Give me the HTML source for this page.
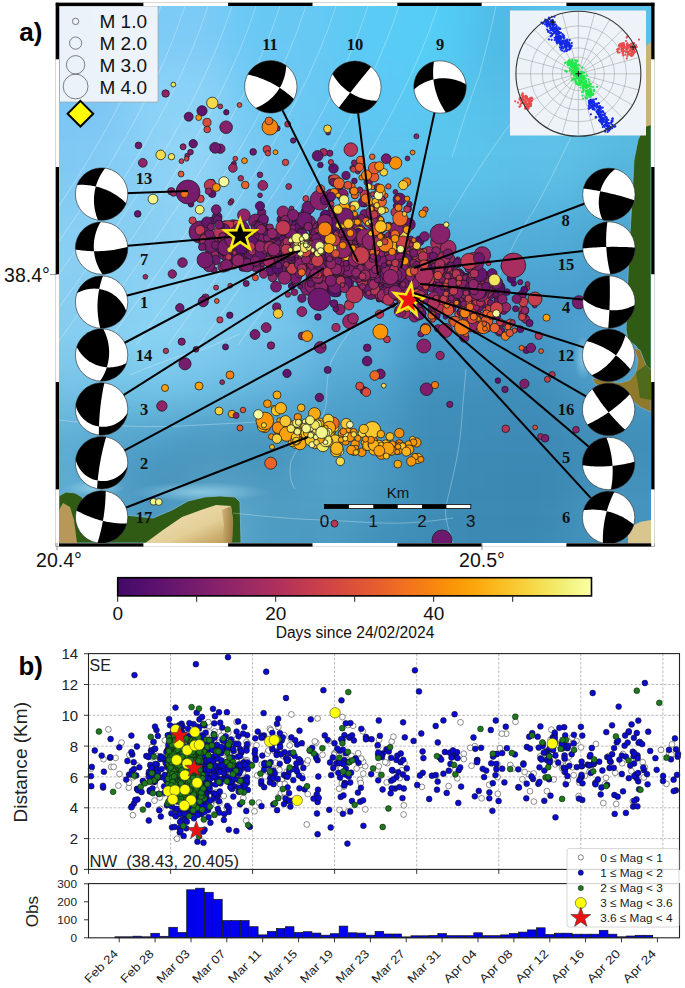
<!DOCTYPE html>
<html><head><meta charset="utf-8"><title>Figure</title><style>html,body{margin:0;padding:0;background:#fff;width:685px;height:988px;overflow:hidden}svg{display:block}</style></head><body>
<svg width="685" height="988" viewBox="0 0 685 988">
<rect width="685" height="988" fill="#fff"/>
<defs>
<filter id="bgblur" x="-20%" y="-20%" width="140%" height="140%" color-interpolation-filters="sRGB"><feGaussianBlur stdDeviation="8"/></filter>
<radialGradient id="rg1" cx="0.5" cy="0.5" r="0.5">
 <stop offset="0" stop-color="#bff0ff" stop-opacity="0.5"/>
 <stop offset="1" stop-color="#bff0ff" stop-opacity="0"/>
</radialGradient>
<radialGradient id="rg2" cx="0.5" cy="0.5" r="0.5">
 <stop offset="0" stop-color="#1d5f8f" stop-opacity="0.35"/>
 <stop offset="1" stop-color="#1d5f8f" stop-opacity="0"/>
</radialGradient>
<clipPath id="mapclip"><rect x="59" y="6" width="592" height="537"/></clipPath>
</defs>
<g clip-path="url(#mapclip)">
<g filter="url(#bgblur)"><rect x="40.5" y="-11.9" width="19.1" height="18.5" fill="#7cc6f4"/><rect x="59.0" y="-11.9" width="19.1" height="18.5" fill="#7cc6f4"/><rect x="77.5" y="-11.9" width="19.1" height="18.5" fill="#7cc8f5"/><rect x="96.0" y="-11.9" width="19.1" height="18.5" fill="#7ccaf6"/><rect x="114.5" y="-11.9" width="19.1" height="18.5" fill="#7ccaf6"/><rect x="133.0" y="-11.9" width="19.1" height="18.5" fill="#7ccaf6"/><rect x="151.5" y="-11.9" width="19.1" height="18.5" fill="#7ccaf6"/><rect x="170.0" y="-11.9" width="19.1" height="18.5" fill="#7ccaf6"/><rect x="188.5" y="-11.9" width="19.1" height="18.5" fill="#7ccaf6"/><rect x="207.0" y="-11.9" width="19.1" height="18.5" fill="#79caf6"/><rect x="225.5" y="-11.9" width="19.1" height="18.5" fill="#6fc9f5"/><rect x="244.0" y="-11.9" width="19.1" height="18.5" fill="#69c8f4"/><rect x="262.5" y="-11.9" width="19.1" height="18.5" fill="#68c8f4"/><rect x="281.0" y="-11.9" width="19.1" height="18.5" fill="#68c8f4"/><rect x="299.5" y="-11.9" width="19.1" height="18.5" fill="#67c8f4"/><rect x="318.0" y="-11.9" width="19.1" height="18.5" fill="#63c9f4"/><rect x="336.5" y="-11.9" width="19.1" height="18.5" fill="#5ecaf4"/><rect x="355.0" y="-11.9" width="19.1" height="18.5" fill="#5ccaf4"/><rect x="373.5" y="-11.9" width="19.1" height="18.5" fill="#5bcbf5"/><rect x="392.0" y="-11.9" width="19.1" height="18.5" fill="#58ccf5"/><rect x="410.5" y="-11.9" width="19.1" height="18.5" fill="#55cef6"/><rect x="429.0" y="-11.9" width="19.1" height="18.5" fill="#53cdf6"/><rect x="447.5" y="-11.9" width="19.1" height="18.5" fill="#52caf3"/><rect x="466.0" y="-11.9" width="19.1" height="18.5" fill="#50c3ed"/><rect x="484.5" y="-11.9" width="19.1" height="18.5" fill="#4fbde7"/><rect x="503.0" y="-11.9" width="19.1" height="18.5" fill="#51bbe6"/><rect x="521.5" y="-11.9" width="19.1" height="18.5" fill="#55bee8"/><rect x="540.0" y="-11.9" width="19.1" height="18.5" fill="#59c1ea"/><rect x="558.5" y="-11.9" width="19.1" height="18.5" fill="#5bc3eb"/><rect x="577.0" y="-11.9" width="19.1" height="18.5" fill="#5cc4ec"/><rect x="595.5" y="-11.9" width="19.1" height="18.5" fill="#5cc4ec"/><rect x="614.0" y="-11.9" width="19.1" height="18.5" fill="#5cc4ec"/><rect x="632.5" y="-11.9" width="19.1" height="18.5" fill="#5cc3eb"/><rect x="651.0" y="-11.9" width="19.1" height="18.5" fill="#5bc2ea"/><rect x="40.5" y="6.0" width="19.1" height="18.5" fill="#7cc6f4"/><rect x="59.0" y="6.0" width="19.1" height="18.5" fill="#7cc6f4"/><rect x="77.5" y="6.0" width="19.1" height="18.5" fill="#7cc7f5"/><rect x="96.0" y="6.0" width="19.1" height="18.5" fill="#7cc9f6"/><rect x="114.5" y="6.0" width="19.1" height="18.5" fill="#7ccaf6"/><rect x="133.0" y="6.0" width="19.1" height="18.5" fill="#7ccaf6"/><rect x="151.5" y="6.0" width="19.1" height="18.5" fill="#7ccaf6"/><rect x="170.0" y="6.0" width="19.1" height="18.5" fill="#7ccaf6"/><rect x="188.5" y="6.0" width="19.1" height="18.5" fill="#7ccaf6"/><rect x="207.0" y="6.0" width="19.1" height="18.5" fill="#79caf6"/><rect x="225.5" y="6.0" width="19.1" height="18.5" fill="#70c9f5"/><rect x="244.0" y="6.0" width="19.1" height="18.5" fill="#69c8f4"/><rect x="262.5" y="6.0" width="19.1" height="18.5" fill="#68c8f4"/><rect x="281.0" y="6.0" width="19.1" height="18.5" fill="#68c8f4"/><rect x="299.5" y="6.0" width="19.1" height="18.5" fill="#67c8f4"/><rect x="318.0" y="6.0" width="19.1" height="18.5" fill="#63c9f4"/><rect x="336.5" y="6.0" width="19.1" height="18.5" fill="#5ecaf4"/><rect x="355.0" y="6.0" width="19.1" height="18.5" fill="#5ccaf4"/><rect x="373.5" y="6.0" width="19.1" height="18.5" fill="#5acbf5"/><rect x="392.0" y="6.0" width="19.1" height="18.5" fill="#58ccf5"/><rect x="410.5" y="6.0" width="19.1" height="18.5" fill="#55cdf6"/><rect x="429.0" y="6.0" width="19.1" height="18.5" fill="#53cdf6"/><rect x="447.5" y="6.0" width="19.1" height="18.5" fill="#52caf2"/><rect x="466.0" y="6.0" width="19.1" height="18.5" fill="#50c3ec"/><rect x="484.5" y="6.0" width="19.1" height="18.5" fill="#4fbce7"/><rect x="503.0" y="6.0" width="19.1" height="18.5" fill="#50bbe6"/><rect x="521.5" y="6.0" width="19.1" height="18.5" fill="#54bee7"/><rect x="540.0" y="6.0" width="19.1" height="18.5" fill="#59c1ea"/><rect x="558.5" y="6.0" width="19.1" height="18.5" fill="#5bc3eb"/><rect x="577.0" y="6.0" width="19.1" height="18.5" fill="#5cc4ec"/><rect x="595.5" y="6.0" width="19.1" height="18.5" fill="#5cc4ec"/><rect x="614.0" y="6.0" width="19.1" height="18.5" fill="#5cc3eb"/><rect x="632.5" y="6.0" width="19.1" height="18.5" fill="#5bc2ea"/><rect x="651.0" y="6.0" width="19.1" height="18.5" fill="#5bc0e8"/><rect x="40.5" y="23.9" width="19.1" height="18.5" fill="#7cc6f4"/><rect x="59.0" y="23.9" width="19.1" height="18.5" fill="#7cc6f4"/><rect x="77.5" y="23.9" width="19.1" height="18.5" fill="#7cc6f4"/><rect x="96.0" y="23.9" width="19.1" height="18.5" fill="#7dc8f5"/><rect x="114.5" y="23.9" width="19.1" height="18.5" fill="#7dcaf6"/><rect x="133.0" y="23.9" width="19.1" height="18.5" fill="#7dcbf6"/><rect x="151.5" y="23.9" width="19.1" height="18.5" fill="#7dcbf6"/><rect x="170.0" y="23.9" width="19.1" height="18.5" fill="#7dcbf6"/><rect x="188.5" y="23.9" width="19.1" height="18.5" fill="#7dcbf6"/><rect x="207.0" y="23.9" width="19.1" height="18.5" fill="#79caf6"/><rect x="225.5" y="23.9" width="19.1" height="18.5" fill="#70c9f5"/><rect x="244.0" y="23.9" width="19.1" height="18.5" fill="#6ac8f4"/><rect x="262.5" y="23.9" width="19.1" height="18.5" fill="#69c8f4"/><rect x="281.0" y="23.9" width="19.1" height="18.5" fill="#68c8f4"/><rect x="299.5" y="23.9" width="19.1" height="18.5" fill="#67c8f4"/><rect x="318.0" y="23.9" width="19.1" height="18.5" fill="#63c9f4"/><rect x="336.5" y="23.9" width="19.1" height="18.5" fill="#5ecaf4"/><rect x="355.0" y="23.9" width="19.1" height="18.5" fill="#5ccaf4"/><rect x="373.5" y="23.9" width="19.1" height="18.5" fill="#5acbf5"/><rect x="392.0" y="23.9" width="19.1" height="18.5" fill="#58ccf5"/><rect x="410.5" y="23.9" width="19.1" height="18.5" fill="#56cdf6"/><rect x="429.0" y="23.9" width="19.1" height="18.5" fill="#54cdf5"/><rect x="447.5" y="23.9" width="19.1" height="18.5" fill="#52c9f2"/><rect x="466.0" y="23.9" width="19.1" height="18.5" fill="#50c2ec"/><rect x="484.5" y="23.9" width="19.1" height="18.5" fill="#4fbce7"/><rect x="503.0" y="23.9" width="19.1" height="18.5" fill="#50bbe5"/><rect x="521.5" y="23.9" width="19.1" height="18.5" fill="#54bde7"/><rect x="540.0" y="23.9" width="19.1" height="18.5" fill="#58c0e9"/><rect x="558.5" y="23.9" width="19.1" height="18.5" fill="#5ac3eb"/><rect x="577.0" y="23.9" width="19.1" height="18.5" fill="#5bc3eb"/><rect x="595.5" y="23.9" width="19.1" height="18.5" fill="#5cc3eb"/><rect x="614.0" y="23.9" width="19.1" height="18.5" fill="#5bc1e9"/><rect x="632.5" y="23.9" width="19.1" height="18.5" fill="#5abfe7"/><rect x="651.0" y="23.9" width="19.1" height="18.5" fill="#5abfe7"/><rect x="40.5" y="41.8" width="19.1" height="18.5" fill="#7cc6f4"/><rect x="59.0" y="41.8" width="19.1" height="18.5" fill="#7cc6f4"/><rect x="77.5" y="41.8" width="19.1" height="18.5" fill="#7cc6f4"/><rect x="96.0" y="41.8" width="19.1" height="18.5" fill="#7dc7f4"/><rect x="114.5" y="41.8" width="19.1" height="18.5" fill="#7fcaf5"/><rect x="133.0" y="41.8" width="19.1" height="18.5" fill="#80ccf6"/><rect x="151.5" y="41.8" width="19.1" height="18.5" fill="#80ccf6"/><rect x="170.0" y="41.8" width="19.1" height="18.5" fill="#80ccf6"/><rect x="188.5" y="41.8" width="19.1" height="18.5" fill="#80ccf6"/><rect x="207.0" y="41.8" width="19.1" height="18.5" fill="#7cccf6"/><rect x="225.5" y="41.8" width="19.1" height="18.5" fill="#72caf5"/><rect x="244.0" y="41.8" width="19.1" height="18.5" fill="#6bc8f4"/><rect x="262.5" y="41.8" width="19.1" height="18.5" fill="#69c8f4"/><rect x="281.0" y="41.8" width="19.1" height="18.5" fill="#69c8f4"/><rect x="299.5" y="41.8" width="19.1" height="18.5" fill="#68c8f4"/><rect x="318.0" y="41.8" width="19.1" height="18.5" fill="#64c9f4"/><rect x="336.5" y="41.8" width="19.1" height="18.5" fill="#5ec9f4"/><rect x="355.0" y="41.8" width="19.1" height="18.5" fill="#5ccaf4"/><rect x="373.5" y="41.8" width="19.1" height="18.5" fill="#5acbf4"/><rect x="392.0" y="41.8" width="19.1" height="18.5" fill="#58ccf5"/><rect x="410.5" y="41.8" width="19.1" height="18.5" fill="#56cdf5"/><rect x="429.0" y="41.8" width="19.1" height="18.5" fill="#55ccf4"/><rect x="447.5" y="41.8" width="19.1" height="18.5" fill="#53c8f1"/><rect x="466.0" y="41.8" width="19.1" height="18.5" fill="#52c2eb"/><rect x="484.5" y="41.8" width="19.1" height="18.5" fill="#50bce7"/><rect x="503.0" y="41.8" width="19.1" height="18.5" fill="#51bbe5"/><rect x="521.5" y="41.8" width="19.1" height="18.5" fill="#54bde7"/><rect x="540.0" y="41.8" width="19.1" height="18.5" fill="#57c0e9"/><rect x="558.5" y="41.8" width="19.1" height="18.5" fill="#5ac2eb"/><rect x="577.0" y="41.8" width="19.1" height="18.5" fill="#5bc3eb"/><rect x="595.5" y="41.8" width="19.1" height="18.5" fill="#5bc1e9"/><rect x="614.0" y="41.8" width="19.1" height="18.5" fill="#5abfe7"/><rect x="632.5" y="41.8" width="19.1" height="18.5" fill="#5abee6"/><rect x="651.0" y="41.8" width="19.1" height="18.5" fill="#5abee6"/><rect x="40.5" y="59.7" width="19.1" height="18.5" fill="#7cc6f4"/><rect x="59.0" y="59.7" width="19.1" height="18.5" fill="#7cc6f4"/><rect x="77.5" y="59.7" width="19.1" height="18.5" fill="#7cc6f4"/><rect x="96.0" y="59.7" width="19.1" height="18.5" fill="#7dc7f4"/><rect x="114.5" y="59.7" width="19.1" height="18.5" fill="#80caf5"/><rect x="133.0" y="59.7" width="19.1" height="18.5" fill="#84cef6"/><rect x="151.5" y="59.7" width="19.1" height="18.5" fill="#85cff7"/><rect x="170.0" y="59.7" width="19.1" height="18.5" fill="#86cff7"/><rect x="188.5" y="59.7" width="19.1" height="18.5" fill="#85cff7"/><rect x="207.0" y="59.7" width="19.1" height="18.5" fill="#81cef6"/><rect x="225.5" y="59.7" width="19.1" height="18.5" fill="#75cbf5"/><rect x="244.0" y="59.7" width="19.1" height="18.5" fill="#6dc9f4"/><rect x="262.5" y="59.7" width="19.1" height="18.5" fill="#6bc8f3"/><rect x="281.0" y="59.7" width="19.1" height="18.5" fill="#6bc8f3"/><rect x="299.5" y="59.7" width="19.1" height="18.5" fill="#69c8f3"/><rect x="318.0" y="59.7" width="19.1" height="18.5" fill="#64c8f3"/><rect x="336.5" y="59.7" width="19.1" height="18.5" fill="#5ec9f3"/><rect x="355.0" y="59.7" width="19.1" height="18.5" fill="#5cc9f3"/><rect x="373.5" y="59.7" width="19.1" height="18.5" fill="#5bcaf4"/><rect x="392.0" y="59.7" width="19.1" height="18.5" fill="#59cbf4"/><rect x="410.5" y="59.7" width="19.1" height="18.5" fill="#57ccf4"/><rect x="429.0" y="59.7" width="19.1" height="18.5" fill="#56cbf3"/><rect x="447.5" y="59.7" width="19.1" height="18.5" fill="#55c7f0"/><rect x="466.0" y="59.7" width="19.1" height="18.5" fill="#53c1eb"/><rect x="484.5" y="59.7" width="19.1" height="18.5" fill="#52bde7"/><rect x="503.0" y="59.7" width="19.1" height="18.5" fill="#53bce6"/><rect x="521.5" y="59.7" width="19.1" height="18.5" fill="#55bee7"/><rect x="540.0" y="59.7" width="19.1" height="18.5" fill="#57c0e9"/><rect x="558.5" y="59.7" width="19.1" height="18.5" fill="#5ac2ea"/><rect x="577.0" y="59.7" width="19.1" height="18.5" fill="#5bc2ea"/><rect x="595.5" y="59.7" width="19.1" height="18.5" fill="#5ac0e8"/><rect x="614.0" y="59.7" width="19.1" height="18.5" fill="#5abee6"/><rect x="632.5" y="59.7" width="19.1" height="18.5" fill="#5abee6"/><rect x="651.0" y="59.7" width="19.1" height="18.5" fill="#5abee6"/><rect x="40.5" y="77.6" width="19.1" height="18.5" fill="#7cc6f4"/><rect x="59.0" y="77.6" width="19.1" height="18.5" fill="#7cc6f4"/><rect x="77.5" y="77.6" width="19.1" height="18.5" fill="#7cc6f4"/><rect x="96.0" y="77.6" width="19.1" height="18.5" fill="#7dc7f4"/><rect x="114.5" y="77.6" width="19.1" height="18.5" fill="#81caf5"/><rect x="133.0" y="77.6" width="19.1" height="18.5" fill="#87cff6"/><rect x="151.5" y="77.6" width="19.1" height="18.5" fill="#89d1f7"/><rect x="170.0" y="77.6" width="19.1" height="18.5" fill="#89d1f7"/><rect x="188.5" y="77.6" width="19.1" height="18.5" fill="#89d1f7"/><rect x="207.0" y="77.6" width="19.1" height="18.5" fill="#85d0f6"/><rect x="225.5" y="77.6" width="19.1" height="18.5" fill="#78ccf4"/><rect x="244.0" y="77.6" width="19.1" height="18.5" fill="#6ec9f3"/><rect x="262.5" y="77.6" width="19.1" height="18.5" fill="#6cc8f3"/><rect x="281.0" y="77.6" width="19.1" height="18.5" fill="#6cc8f3"/><rect x="299.5" y="77.6" width="19.1" height="18.5" fill="#6ac8f3"/><rect x="318.0" y="77.6" width="19.1" height="18.5" fill="#65c8f3"/><rect x="336.5" y="77.6" width="19.1" height="18.5" fill="#5ec8f3"/><rect x="355.0" y="77.6" width="19.1" height="18.5" fill="#5cc8f3"/><rect x="373.5" y="77.6" width="19.1" height="18.5" fill="#5bc9f3"/><rect x="392.0" y="77.6" width="19.1" height="18.5" fill="#5acaf4"/><rect x="410.5" y="77.6" width="19.1" height="18.5" fill="#58caf3"/><rect x="429.0" y="77.6" width="19.1" height="18.5" fill="#57c9f1"/><rect x="447.5" y="77.6" width="19.1" height="18.5" fill="#56c6ee"/><rect x="466.0" y="77.6" width="19.1" height="18.5" fill="#55c2eb"/><rect x="484.5" y="77.6" width="19.1" height="18.5" fill="#54bee8"/><rect x="503.0" y="77.6" width="19.1" height="18.5" fill="#55bee7"/><rect x="521.5" y="77.6" width="19.1" height="18.5" fill="#57bfe8"/><rect x="540.0" y="77.6" width="19.1" height="18.5" fill="#59c1ea"/><rect x="558.5" y="77.6" width="19.1" height="18.5" fill="#5bc2ea"/><rect x="577.0" y="77.6" width="19.1" height="18.5" fill="#5bc1e9"/><rect x="595.5" y="77.6" width="19.1" height="18.5" fill="#5bbfe7"/><rect x="614.0" y="77.6" width="19.1" height="18.5" fill="#5abee6"/><rect x="632.5" y="77.6" width="19.1" height="18.5" fill="#5abee6"/><rect x="651.0" y="77.6" width="19.1" height="18.5" fill="#5abee6"/><rect x="40.5" y="95.5" width="19.1" height="18.5" fill="#7cc6f4"/><rect x="59.0" y="95.5" width="19.1" height="18.5" fill="#7cc6f4"/><rect x="77.5" y="95.5" width="19.1" height="18.5" fill="#7dc6f4"/><rect x="96.0" y="95.5" width="19.1" height="18.5" fill="#7ec7f4"/><rect x="114.5" y="95.5" width="19.1" height="18.5" fill="#82cbf5"/><rect x="133.0" y="95.5" width="19.1" height="18.5" fill="#88d0f6"/><rect x="151.5" y="95.5" width="19.1" height="18.5" fill="#8ad2f7"/><rect x="170.0" y="95.5" width="19.1" height="18.5" fill="#8bd2f7"/><rect x="188.5" y="95.5" width="19.1" height="18.5" fill="#8bd2f7"/><rect x="207.0" y="95.5" width="19.1" height="18.5" fill="#87d1f6"/><rect x="225.5" y="95.5" width="19.1" height="18.5" fill="#7accf4"/><rect x="244.0" y="95.5" width="19.1" height="18.5" fill="#70c9f3"/><rect x="262.5" y="95.5" width="19.1" height="18.5" fill="#6dc8f3"/><rect x="281.0" y="95.5" width="19.1" height="18.5" fill="#6cc8f3"/><rect x="299.5" y="95.5" width="19.1" height="18.5" fill="#6bc8f3"/><rect x="318.0" y="95.5" width="19.1" height="18.5" fill="#65c7f2"/><rect x="336.5" y="95.5" width="19.1" height="18.5" fill="#5fc7f2"/><rect x="355.0" y="95.5" width="19.1" height="18.5" fill="#5dc8f3"/><rect x="373.5" y="95.5" width="19.1" height="18.5" fill="#5cc8f3"/><rect x="392.0" y="95.5" width="19.1" height="18.5" fill="#5bc8f3"/><rect x="410.5" y="95.5" width="19.1" height="18.5" fill="#5ac8f2"/><rect x="429.0" y="95.5" width="19.1" height="18.5" fill="#59c7f0"/><rect x="447.5" y="95.5" width="19.1" height="18.5" fill="#58c5ed"/><rect x="466.0" y="95.5" width="19.1" height="18.5" fill="#57c2eb"/><rect x="484.5" y="95.5" width="19.1" height="18.5" fill="#56c0e9"/><rect x="503.0" y="95.5" width="19.1" height="18.5" fill="#57c0e8"/><rect x="521.5" y="95.5" width="19.1" height="18.5" fill="#59c1e9"/><rect x="540.0" y="95.5" width="19.1" height="18.5" fill="#5bc2ea"/><rect x="558.5" y="95.5" width="19.1" height="18.5" fill="#5dc2ea"/><rect x="577.0" y="95.5" width="19.1" height="18.5" fill="#5dc1e8"/><rect x="595.5" y="95.5" width="19.1" height="18.5" fill="#5bbee6"/><rect x="614.0" y="95.5" width="19.1" height="18.5" fill="#5abee6"/><rect x="632.5" y="95.5" width="19.1" height="18.5" fill="#5abee6"/><rect x="651.0" y="95.5" width="19.1" height="18.5" fill="#5abee6"/><rect x="40.5" y="113.4" width="19.1" height="18.5" fill="#7dc7f4"/><rect x="59.0" y="113.4" width="19.1" height="18.5" fill="#7dc7f4"/><rect x="77.5" y="113.4" width="19.1" height="18.5" fill="#7ec7f4"/><rect x="96.0" y="113.4" width="19.1" height="18.5" fill="#7fc8f4"/><rect x="114.5" y="113.4" width="19.1" height="18.5" fill="#83ccf5"/><rect x="133.0" y="113.4" width="19.1" height="18.5" fill="#88d0f6"/><rect x="151.5" y="113.4" width="19.1" height="18.5" fill="#8cd2f7"/><rect x="170.0" y="113.4" width="19.1" height="18.5" fill="#8dd3f7"/><rect x="188.5" y="113.4" width="19.1" height="18.5" fill="#8dd3f7"/><rect x="207.0" y="113.4" width="19.1" height="18.5" fill="#89d1f6"/><rect x="225.5" y="113.4" width="19.1" height="18.5" fill="#7ecdf4"/><rect x="244.0" y="113.4" width="19.1" height="18.5" fill="#73c9f3"/><rect x="262.5" y="113.4" width="19.1" height="18.5" fill="#6fc8f2"/><rect x="281.0" y="113.4" width="19.1" height="18.5" fill="#6dc8f2"/><rect x="299.5" y="113.4" width="19.1" height="18.5" fill="#6ac7f2"/><rect x="318.0" y="113.4" width="19.1" height="18.5" fill="#66c6f1"/><rect x="336.5" y="113.4" width="19.1" height="18.5" fill="#61c6f1"/><rect x="355.0" y="113.4" width="19.1" height="18.5" fill="#5fc6f2"/><rect x="373.5" y="113.4" width="19.1" height="18.5" fill="#5dc7f2"/><rect x="392.0" y="113.4" width="19.1" height="18.5" fill="#5cc7f2"/><rect x="410.5" y="113.4" width="19.1" height="18.5" fill="#5bc7f0"/><rect x="429.0" y="113.4" width="19.1" height="18.5" fill="#5ac6ee"/><rect x="447.5" y="113.4" width="19.1" height="18.5" fill="#59c5ed"/><rect x="466.0" y="113.4" width="19.1" height="18.5" fill="#58c3ec"/><rect x="484.5" y="113.4" width="19.1" height="18.5" fill="#58c1ea"/><rect x="503.0" y="113.4" width="19.1" height="18.5" fill="#59c1e9"/><rect x="521.5" y="113.4" width="19.1" height="18.5" fill="#5cc1e9"/><rect x="540.0" y="113.4" width="19.1" height="18.5" fill="#5ec2e9"/><rect x="558.5" y="113.4" width="19.1" height="18.5" fill="#5fc2e9"/><rect x="577.0" y="113.4" width="19.1" height="18.5" fill="#5ec0e7"/><rect x="595.5" y="113.4" width="19.1" height="18.5" fill="#5bbde5"/><rect x="614.0" y="113.4" width="19.1" height="18.5" fill="#59bce4"/><rect x="632.5" y="113.4" width="19.1" height="18.5" fill="#59bce4"/><rect x="651.0" y="113.4" width="19.1" height="18.5" fill="#59bde4"/><rect x="40.5" y="131.3" width="19.1" height="18.5" fill="#7fc8f4"/><rect x="59.0" y="131.3" width="19.1" height="18.5" fill="#7fc8f4"/><rect x="77.5" y="131.3" width="19.1" height="18.5" fill="#7fc9f4"/><rect x="96.0" y="131.3" width="19.1" height="18.5" fill="#81caf4"/><rect x="114.5" y="131.3" width="19.1" height="18.5" fill="#84cdf5"/><rect x="133.0" y="131.3" width="19.1" height="18.5" fill="#89d0f6"/><rect x="151.5" y="131.3" width="19.1" height="18.5" fill="#8dd2f6"/><rect x="170.0" y="131.3" width="19.1" height="18.5" fill="#90d4f7"/><rect x="188.5" y="131.3" width="19.1" height="18.5" fill="#8fd4f7"/><rect x="207.0" y="131.3" width="19.1" height="18.5" fill="#8ad1f5"/><rect x="225.5" y="131.3" width="19.1" height="18.5" fill="#80cdf3"/><rect x="244.0" y="131.3" width="19.1" height="18.5" fill="#77c9f2"/><rect x="262.5" y="131.3" width="19.1" height="18.5" fill="#72c7f2"/><rect x="281.0" y="131.3" width="19.1" height="18.5" fill="#6ec7f1"/><rect x="299.5" y="131.3" width="19.1" height="18.5" fill="#6ac5f1"/><rect x="318.0" y="131.3" width="19.1" height="18.5" fill="#66c4f0"/><rect x="336.5" y="131.3" width="19.1" height="18.5" fill="#64c4ef"/><rect x="355.0" y="131.3" width="19.1" height="18.5" fill="#62c4f0"/><rect x="373.5" y="131.3" width="19.1" height="18.5" fill="#60c5f0"/><rect x="392.0" y="131.3" width="19.1" height="18.5" fill="#5ec6f0"/><rect x="410.5" y="131.3" width="19.1" height="18.5" fill="#5cc5ee"/><rect x="429.0" y="131.3" width="19.1" height="18.5" fill="#5bc5ed"/><rect x="447.5" y="131.3" width="19.1" height="18.5" fill="#5bc5ed"/><rect x="466.0" y="131.3" width="19.1" height="18.5" fill="#5ac4ec"/><rect x="484.5" y="131.3" width="19.1" height="18.5" fill="#5ac2ea"/><rect x="503.0" y="131.3" width="19.1" height="18.5" fill="#5cc1e9"/><rect x="521.5" y="131.3" width="19.1" height="18.5" fill="#5ec1e9"/><rect x="540.0" y="131.3" width="19.1" height="18.5" fill="#5fc1e9"/><rect x="558.5" y="131.3" width="19.1" height="18.5" fill="#5fc0e8"/><rect x="577.0" y="131.3" width="19.1" height="18.5" fill="#5dbee5"/><rect x="595.5" y="131.3" width="19.1" height="18.5" fill="#5abbe3"/><rect x="614.0" y="131.3" width="19.1" height="18.5" fill="#58b9e1"/><rect x="632.5" y="131.3" width="19.1" height="18.5" fill="#58bae1"/><rect x="651.0" y="131.3" width="19.1" height="18.5" fill="#58bae2"/><rect x="40.5" y="149.2" width="19.1" height="18.5" fill="#80c9f4"/><rect x="59.0" y="149.2" width="19.1" height="18.5" fill="#80c9f4"/><rect x="77.5" y="149.2" width="19.1" height="18.5" fill="#81caf4"/><rect x="96.0" y="149.2" width="19.1" height="18.5" fill="#82cbf4"/><rect x="114.5" y="149.2" width="19.1" height="18.5" fill="#85cdf5"/><rect x="133.0" y="149.2" width="19.1" height="18.5" fill="#88cff5"/><rect x="151.5" y="149.2" width="19.1" height="18.5" fill="#8dd2f6"/><rect x="170.0" y="149.2" width="19.1" height="18.5" fill="#90d4f7"/><rect x="188.5" y="149.2" width="19.1" height="18.5" fill="#90d4f6"/><rect x="207.0" y="149.2" width="19.1" height="18.5" fill="#8ad1f5"/><rect x="225.5" y="149.2" width="19.1" height="18.5" fill="#80ccf3"/><rect x="244.0" y="149.2" width="19.1" height="18.5" fill="#78c8f1"/><rect x="262.5" y="149.2" width="19.1" height="18.5" fill="#74c7f1"/><rect x="281.0" y="149.2" width="19.1" height="18.5" fill="#70c6f0"/><rect x="299.5" y="149.2" width="19.1" height="18.5" fill="#6ac4ef"/><rect x="318.0" y="149.2" width="19.1" height="18.5" fill="#66c2ee"/><rect x="336.5" y="149.2" width="19.1" height="18.5" fill="#65c2ee"/><rect x="355.0" y="149.2" width="19.1" height="18.5" fill="#64c3ee"/><rect x="373.5" y="149.2" width="19.1" height="18.5" fill="#63c3ef"/><rect x="392.0" y="149.2" width="19.1" height="18.5" fill="#5fc4ee"/><rect x="410.5" y="149.2" width="19.1" height="18.5" fill="#5cc4ed"/><rect x="429.0" y="149.2" width="19.1" height="18.5" fill="#5cc4ec"/><rect x="447.5" y="149.2" width="19.1" height="18.5" fill="#5bc4ec"/><rect x="466.0" y="149.2" width="19.1" height="18.5" fill="#5bc3eb"/><rect x="484.5" y="149.2" width="19.1" height="18.5" fill="#5bc2ea"/><rect x="503.0" y="149.2" width="19.1" height="18.5" fill="#5cc0e8"/><rect x="521.5" y="149.2" width="19.1" height="18.5" fill="#5ec0e8"/><rect x="540.0" y="149.2" width="19.1" height="18.5" fill="#5ec0e7"/><rect x="558.5" y="149.2" width="19.1" height="18.5" fill="#5ebfe6"/><rect x="577.0" y="149.2" width="19.1" height="18.5" fill="#5cbce3"/><rect x="595.5" y="149.2" width="19.1" height="18.5" fill="#58b9e0"/><rect x="614.0" y="149.2" width="19.1" height="18.5" fill="#56b7df"/><rect x="632.5" y="149.2" width="19.1" height="18.5" fill="#56b6de"/><rect x="651.0" y="149.2" width="19.1" height="18.5" fill="#56b6de"/><rect x="40.5" y="167.1" width="19.1" height="18.5" fill="#81caf4"/><rect x="59.0" y="167.1" width="19.1" height="18.5" fill="#81caf4"/><rect x="77.5" y="167.1" width="19.1" height="18.5" fill="#82caf4"/><rect x="96.0" y="167.1" width="19.1" height="18.5" fill="#83cbf4"/><rect x="114.5" y="167.1" width="19.1" height="18.5" fill="#85cdf5"/><rect x="133.0" y="167.1" width="19.1" height="18.5" fill="#88cff5"/><rect x="151.5" y="167.1" width="19.1" height="18.5" fill="#8cd1f6"/><rect x="170.0" y="167.1" width="19.1" height="18.5" fill="#8fd3f6"/><rect x="188.5" y="167.1" width="19.1" height="18.5" fill="#8fd3f6"/><rect x="207.0" y="167.1" width="19.1" height="18.5" fill="#88d0f4"/><rect x="225.5" y="167.1" width="19.1" height="18.5" fill="#7fcbf2"/><rect x="244.0" y="167.1" width="19.1" height="18.5" fill="#78c8f1"/><rect x="262.5" y="167.1" width="19.1" height="18.5" fill="#74c6f0"/><rect x="281.0" y="167.1" width="19.1" height="18.5" fill="#70c5ef"/><rect x="299.5" y="167.1" width="19.1" height="18.5" fill="#69c2ee"/><rect x="318.0" y="167.1" width="19.1" height="18.5" fill="#66c1ed"/><rect x="336.5" y="167.1" width="19.1" height="18.5" fill="#65c1ed"/><rect x="355.0" y="167.1" width="19.1" height="18.5" fill="#65c1ed"/><rect x="373.5" y="167.1" width="19.1" height="18.5" fill="#64c1ed"/><rect x="392.0" y="167.1" width="19.1" height="18.5" fill="#60c2ec"/><rect x="410.5" y="167.1" width="19.1" height="18.5" fill="#5cc2eb"/><rect x="429.0" y="167.1" width="19.1" height="18.5" fill="#5bc2eb"/><rect x="447.5" y="167.1" width="19.1" height="18.5" fill="#5bc2eb"/><rect x="466.0" y="167.1" width="19.1" height="18.5" fill="#5bc2ea"/><rect x="484.5" y="167.1" width="19.1" height="18.5" fill="#5bc0e8"/><rect x="503.0" y="167.1" width="19.1" height="18.5" fill="#5bbee7"/><rect x="521.5" y="167.1" width="19.1" height="18.5" fill="#5cbee6"/><rect x="540.0" y="167.1" width="19.1" height="18.5" fill="#5dbee6"/><rect x="558.5" y="167.1" width="19.1" height="18.5" fill="#5cbce4"/><rect x="577.0" y="167.1" width="19.1" height="18.5" fill="#5ab9e1"/><rect x="595.5" y="167.1" width="19.1" height="18.5" fill="#57b6de"/><rect x="614.0" y="167.1" width="19.1" height="18.5" fill="#55b4dc"/><rect x="632.5" y="167.1" width="19.1" height="18.5" fill="#54b4dc"/><rect x="651.0" y="167.1" width="19.1" height="18.5" fill="#54b4dc"/><rect x="40.5" y="185.0" width="19.1" height="18.5" fill="#83cbf4"/><rect x="59.0" y="185.0" width="19.1" height="18.5" fill="#83cbf4"/><rect x="77.5" y="185.0" width="19.1" height="18.5" fill="#83cbf4"/><rect x="96.0" y="185.0" width="19.1" height="18.5" fill="#84ccf4"/><rect x="114.5" y="185.0" width="19.1" height="18.5" fill="#86cdf4"/><rect x="133.0" y="185.0" width="19.1" height="18.5" fill="#88cff5"/><rect x="151.5" y="185.0" width="19.1" height="18.5" fill="#8bd1f5"/><rect x="170.0" y="185.0" width="19.1" height="18.5" fill="#8ed3f5"/><rect x="188.5" y="185.0" width="19.1" height="18.5" fill="#8dd2f5"/><rect x="207.0" y="185.0" width="19.1" height="18.5" fill="#87cff3"/><rect x="225.5" y="185.0" width="19.1" height="18.5" fill="#7ecaf1"/><rect x="244.0" y="185.0" width="19.1" height="18.5" fill="#77c7ef"/><rect x="262.5" y="185.0" width="19.1" height="18.5" fill="#74c5ef"/><rect x="281.0" y="185.0" width="19.1" height="18.5" fill="#70c3ee"/><rect x="299.5" y="185.0" width="19.1" height="18.5" fill="#68c0ec"/><rect x="318.0" y="185.0" width="19.1" height="18.5" fill="#65bfeb"/><rect x="336.5" y="185.0" width="19.1" height="18.5" fill="#64beeb"/><rect x="355.0" y="185.0" width="19.1" height="18.5" fill="#64beeb"/><rect x="373.5" y="185.0" width="19.1" height="18.5" fill="#63bfeb"/><rect x="392.0" y="185.0" width="19.1" height="18.5" fill="#5fbfe9"/><rect x="410.5" y="185.0" width="19.1" height="18.5" fill="#5bbfe8"/><rect x="429.0" y="185.0" width="19.1" height="18.5" fill="#5abfe7"/><rect x="447.5" y="185.0" width="19.1" height="18.5" fill="#5abfe7"/><rect x="466.0" y="185.0" width="19.1" height="18.5" fill="#5abee7"/><rect x="484.5" y="185.0" width="19.1" height="18.5" fill="#59bce5"/><rect x="503.0" y="185.0" width="19.1" height="18.5" fill="#59bae3"/><rect x="521.5" y="185.0" width="19.1" height="18.5" fill="#59bae3"/><rect x="540.0" y="185.0" width="19.1" height="18.5" fill="#5abae2"/><rect x="558.5" y="185.0" width="19.1" height="18.5" fill="#59b8e1"/><rect x="577.0" y="185.0" width="19.1" height="18.5" fill="#56b5dd"/><rect x="595.5" y="185.0" width="19.1" height="18.5" fill="#54b2db"/><rect x="614.0" y="185.0" width="19.1" height="18.5" fill="#53b1d9"/><rect x="632.5" y="185.0" width="19.1" height="18.5" fill="#52b0d9"/><rect x="651.0" y="185.0" width="19.1" height="18.5" fill="#52b0d9"/><rect x="40.5" y="202.9" width="19.1" height="18.5" fill="#86cdf4"/><rect x="59.0" y="202.9" width="19.1" height="18.5" fill="#86cdf4"/><rect x="77.5" y="202.9" width="19.1" height="18.5" fill="#86cdf4"/><rect x="96.0" y="202.9" width="19.1" height="18.5" fill="#86cdf4"/><rect x="114.5" y="202.9" width="19.1" height="18.5" fill="#86cef4"/><rect x="133.0" y="202.9" width="19.1" height="18.5" fill="#88cff4"/><rect x="151.5" y="202.9" width="19.1" height="18.5" fill="#8ad0f4"/><rect x="170.0" y="202.9" width="19.1" height="18.5" fill="#8cd2f5"/><rect x="188.5" y="202.9" width="19.1" height="18.5" fill="#8bd1f4"/><rect x="207.0" y="202.9" width="19.1" height="18.5" fill="#86cef2"/><rect x="225.5" y="202.9" width="19.1" height="18.5" fill="#7dc9f0"/><rect x="244.0" y="202.9" width="19.1" height="18.5" fill="#76c5ee"/><rect x="262.5" y="202.9" width="19.1" height="18.5" fill="#73c3ed"/><rect x="281.0" y="202.9" width="19.1" height="18.5" fill="#6ec1eb"/><rect x="299.5" y="202.9" width="19.1" height="18.5" fill="#66bde9"/><rect x="318.0" y="202.9" width="19.1" height="18.5" fill="#63bbe8"/><rect x="336.5" y="202.9" width="19.1" height="18.5" fill="#62bae8"/><rect x="355.0" y="202.9" width="19.1" height="18.5" fill="#62bae7"/><rect x="373.5" y="202.9" width="19.1" height="18.5" fill="#61bae7"/><rect x="392.0" y="202.9" width="19.1" height="18.5" fill="#5db9e4"/><rect x="410.5" y="202.9" width="19.1" height="18.5" fill="#59b9e2"/><rect x="429.0" y="202.9" width="19.1" height="18.5" fill="#58b8e2"/><rect x="447.5" y="202.9" width="19.1" height="18.5" fill="#58b8e2"/><rect x="466.0" y="202.9" width="19.1" height="18.5" fill="#58b8e1"/><rect x="484.5" y="202.9" width="19.1" height="18.5" fill="#57b6e0"/><rect x="503.0" y="202.9" width="19.1" height="18.5" fill="#56b4de"/><rect x="521.5" y="202.9" width="19.1" height="18.5" fill="#56b4dd"/><rect x="540.0" y="202.9" width="19.1" height="18.5" fill="#55b3dd"/><rect x="558.5" y="202.9" width="19.1" height="18.5" fill="#54b2db"/><rect x="577.0" y="202.9" width="19.1" height="18.5" fill="#52afd8"/><rect x="595.5" y="202.9" width="19.1" height="18.5" fill="#50acd6"/><rect x="614.0" y="202.9" width="19.1" height="18.5" fill="#50abd5"/><rect x="632.5" y="202.9" width="19.1" height="18.5" fill="#50abd4"/><rect x="651.0" y="202.9" width="19.1" height="18.5" fill="#50abd4"/><rect x="40.5" y="220.8" width="19.1" height="18.5" fill="#89cef4"/><rect x="59.0" y="220.8" width="19.1" height="18.5" fill="#89cef4"/><rect x="77.5" y="220.8" width="19.1" height="18.5" fill="#88cef4"/><rect x="96.0" y="220.8" width="19.1" height="18.5" fill="#88cef4"/><rect x="114.5" y="220.8" width="19.1" height="18.5" fill="#87cef3"/><rect x="133.0" y="220.8" width="19.1" height="18.5" fill="#87cef3"/><rect x="151.5" y="220.8" width="19.1" height="18.5" fill="#89d0f4"/><rect x="170.0" y="220.8" width="19.1" height="18.5" fill="#8bd1f4"/><rect x="188.5" y="220.8" width="19.1" height="18.5" fill="#8ad1f4"/><rect x="207.0" y="220.8" width="19.1" height="18.5" fill="#84cdf2"/><rect x="225.5" y="220.8" width="19.1" height="18.5" fill="#7cc8ef"/><rect x="244.0" y="220.8" width="19.1" height="18.5" fill="#75c4ec"/><rect x="262.5" y="220.8" width="19.1" height="18.5" fill="#72c2eb"/><rect x="281.0" y="220.8" width="19.1" height="18.5" fill="#6dbfea"/><rect x="299.5" y="220.8" width="19.1" height="18.5" fill="#65bae7"/><rect x="318.0" y="220.8" width="19.1" height="18.5" fill="#61b8e5"/><rect x="336.5" y="220.8" width="19.1" height="18.5" fill="#61b7e5"/><rect x="355.0" y="220.8" width="19.1" height="18.5" fill="#60b7e5"/><rect x="373.5" y="220.8" width="19.1" height="18.5" fill="#5fb7e4"/><rect x="392.0" y="220.8" width="19.1" height="18.5" fill="#5bb5e1"/><rect x="410.5" y="220.8" width="19.1" height="18.5" fill="#57b4de"/><rect x="429.0" y="220.8" width="19.1" height="18.5" fill="#57b3de"/><rect x="447.5" y="220.8" width="19.1" height="18.5" fill="#56b3dd"/><rect x="466.0" y="220.8" width="19.1" height="18.5" fill="#56b3dd"/><rect x="484.5" y="220.8" width="19.1" height="18.5" fill="#55b1db"/><rect x="503.0" y="220.8" width="19.1" height="18.5" fill="#53b0da"/><rect x="521.5" y="220.8" width="19.1" height="18.5" fill="#53afd9"/><rect x="540.0" y="220.8" width="19.1" height="18.5" fill="#52aed8"/><rect x="558.5" y="220.8" width="19.1" height="18.5" fill="#51acd7"/><rect x="577.0" y="220.8" width="19.1" height="18.5" fill="#4faad4"/><rect x="595.5" y="220.8" width="19.1" height="18.5" fill="#4ea8d2"/><rect x="614.0" y="220.8" width="19.1" height="18.5" fill="#4ea7d1"/><rect x="632.5" y="220.8" width="19.1" height="18.5" fill="#4da7d1"/><rect x="651.0" y="220.8" width="19.1" height="18.5" fill="#4da7d1"/><rect x="40.5" y="238.7" width="19.1" height="18.5" fill="#89cff4"/><rect x="59.0" y="238.7" width="19.1" height="18.5" fill="#89cff4"/><rect x="77.5" y="238.7" width="19.1" height="18.5" fill="#89cff4"/><rect x="96.0" y="238.7" width="19.1" height="18.5" fill="#89cef3"/><rect x="114.5" y="238.7" width="19.1" height="18.5" fill="#87cef3"/><rect x="133.0" y="238.7" width="19.1" height="18.5" fill="#87cef3"/><rect x="151.5" y="238.7" width="19.1" height="18.5" fill="#88cff3"/><rect x="170.0" y="238.7" width="19.1" height="18.5" fill="#8ad0f4"/><rect x="188.5" y="238.7" width="19.1" height="18.5" fill="#89d0f3"/><rect x="207.0" y="238.7" width="19.1" height="18.5" fill="#83ccf1"/><rect x="225.5" y="238.7" width="19.1" height="18.5" fill="#7bc7ee"/><rect x="244.0" y="238.7" width="19.1" height="18.5" fill="#75c4ec"/><rect x="262.5" y="238.7" width="19.1" height="18.5" fill="#73c2eb"/><rect x="281.0" y="238.7" width="19.1" height="18.5" fill="#6ebfe9"/><rect x="299.5" y="238.7" width="19.1" height="18.5" fill="#65b9e5"/><rect x="318.0" y="238.7" width="19.1" height="18.5" fill="#61b6e4"/><rect x="336.5" y="238.7" width="19.1" height="18.5" fill="#60b6e3"/><rect x="355.0" y="238.7" width="19.1" height="18.5" fill="#60b6e3"/><rect x="373.5" y="238.7" width="19.1" height="18.5" fill="#5eb5e2"/><rect x="392.0" y="238.7" width="19.1" height="18.5" fill="#5ab3df"/><rect x="410.5" y="238.7" width="19.1" height="18.5" fill="#56b1dc"/><rect x="429.0" y="238.7" width="19.1" height="18.5" fill="#55b0db"/><rect x="447.5" y="238.7" width="19.1" height="18.5" fill="#55b0db"/><rect x="466.0" y="238.7" width="19.1" height="18.5" fill="#55afda"/><rect x="484.5" y="238.7" width="19.1" height="18.5" fill="#53aed9"/><rect x="503.0" y="238.7" width="19.1" height="18.5" fill="#51acd7"/><rect x="521.5" y="238.7" width="19.1" height="18.5" fill="#51abd7"/><rect x="540.0" y="238.7" width="19.1" height="18.5" fill="#50abd6"/><rect x="558.5" y="238.7" width="19.1" height="18.5" fill="#4fa9d4"/><rect x="577.0" y="238.7" width="19.1" height="18.5" fill="#4da6d1"/><rect x="595.5" y="238.7" width="19.1" height="18.5" fill="#4ca5d0"/><rect x="614.0" y="238.7" width="19.1" height="18.5" fill="#4ca4cf"/><rect x="632.5" y="238.7" width="19.1" height="18.5" fill="#4ca4cf"/><rect x="651.0" y="238.7" width="19.1" height="18.5" fill="#4ca4cf"/><rect x="40.5" y="256.6" width="19.1" height="18.5" fill="#89cff3"/><rect x="59.0" y="256.6" width="19.1" height="18.5" fill="#89cff3"/><rect x="77.5" y="256.6" width="19.1" height="18.5" fill="#89cff3"/><rect x="96.0" y="256.6" width="19.1" height="18.5" fill="#89cff3"/><rect x="114.5" y="256.6" width="19.1" height="18.5" fill="#88cff3"/><rect x="133.0" y="256.6" width="19.1" height="18.5" fill="#88cff3"/><rect x="151.5" y="256.6" width="19.1" height="18.5" fill="#88d0f3"/><rect x="170.0" y="256.6" width="19.1" height="18.5" fill="#89d0f3"/><rect x="188.5" y="256.6" width="19.1" height="18.5" fill="#87cff3"/><rect x="207.0" y="256.6" width="19.1" height="18.5" fill="#81ccf1"/><rect x="225.5" y="256.6" width="19.1" height="18.5" fill="#7ac8ee"/><rect x="244.0" y="256.6" width="19.1" height="18.5" fill="#77c5ed"/><rect x="262.5" y="256.6" width="19.1" height="18.5" fill="#75c4ec"/><rect x="281.0" y="256.6" width="19.1" height="18.5" fill="#70c0ea"/><rect x="299.5" y="256.6" width="19.1" height="18.5" fill="#65b9e5"/><rect x="318.0" y="256.6" width="19.1" height="18.5" fill="#60b5e2"/><rect x="336.5" y="256.6" width="19.1" height="18.5" fill="#5fb4e1"/><rect x="355.0" y="256.6" width="19.1" height="18.5" fill="#5fb4e1"/><rect x="373.5" y="256.6" width="19.1" height="18.5" fill="#5eb3e0"/><rect x="392.0" y="256.6" width="19.1" height="18.5" fill="#59b0dd"/><rect x="410.5" y="256.6" width="19.1" height="18.5" fill="#54add9"/><rect x="429.0" y="256.6" width="19.1" height="18.5" fill="#53acd9"/><rect x="447.5" y="256.6" width="19.1" height="18.5" fill="#53acd8"/><rect x="466.0" y="256.6" width="19.1" height="18.5" fill="#53abd8"/><rect x="484.5" y="256.6" width="19.1" height="18.5" fill="#51aad6"/><rect x="503.0" y="256.6" width="19.1" height="18.5" fill="#4fa8d5"/><rect x="521.5" y="256.6" width="19.1" height="18.5" fill="#4ea7d4"/><rect x="540.0" y="256.6" width="19.1" height="18.5" fill="#4ea6d3"/><rect x="558.5" y="256.6" width="19.1" height="18.5" fill="#4da5d1"/><rect x="577.0" y="256.6" width="19.1" height="18.5" fill="#4ba2cf"/><rect x="595.5" y="256.6" width="19.1" height="18.5" fill="#4aa1cd"/><rect x="614.0" y="256.6" width="19.1" height="18.5" fill="#4aa0cd"/><rect x="632.5" y="256.6" width="19.1" height="18.5" fill="#4aa0cd"/><rect x="651.0" y="256.6" width="19.1" height="18.5" fill="#4aa0cd"/><rect x="40.5" y="274.5" width="19.1" height="18.5" fill="#88cef2"/><rect x="59.0" y="274.5" width="19.1" height="18.5" fill="#88cef2"/><rect x="77.5" y="274.5" width="19.1" height="18.5" fill="#88cef2"/><rect x="96.0" y="274.5" width="19.1" height="18.5" fill="#88cff3"/><rect x="114.5" y="274.5" width="19.1" height="18.5" fill="#88d0f3"/><rect x="133.0" y="274.5" width="19.1" height="18.5" fill="#89d0f3"/><rect x="151.5" y="274.5" width="19.1" height="18.5" fill="#89d1f4"/><rect x="170.0" y="274.5" width="19.1" height="18.5" fill="#89d1f3"/><rect x="188.5" y="274.5" width="19.1" height="18.5" fill="#86cff3"/><rect x="207.0" y="274.5" width="19.1" height="18.5" fill="#81ccf1"/><rect x="225.5" y="274.5" width="19.1" height="18.5" fill="#7cc9ef"/><rect x="244.0" y="274.5" width="19.1" height="18.5" fill="#7ac8ee"/><rect x="262.5" y="274.5" width="19.1" height="18.5" fill="#78c6ee"/><rect x="281.0" y="274.5" width="19.1" height="18.5" fill="#72c2eb"/><rect x="299.5" y="274.5" width="19.1" height="18.5" fill="#67b9e4"/><rect x="318.0" y="274.5" width="19.1" height="18.5" fill="#60b4e0"/><rect x="336.5" y="274.5" width="19.1" height="18.5" fill="#5fb3e0"/><rect x="355.0" y="274.5" width="19.1" height="18.5" fill="#5eb3df"/><rect x="373.5" y="274.5" width="19.1" height="18.5" fill="#5db2de"/><rect x="392.0" y="274.5" width="19.1" height="18.5" fill="#57adda"/><rect x="410.5" y="274.5" width="19.1" height="18.5" fill="#52a8d6"/><rect x="429.0" y="274.5" width="19.1" height="18.5" fill="#51a7d5"/><rect x="447.5" y="274.5" width="19.1" height="18.5" fill="#51a7d5"/><rect x="466.0" y="274.5" width="19.1" height="18.5" fill="#50a6d5"/><rect x="484.5" y="274.5" width="19.1" height="18.5" fill="#4fa5d3"/><rect x="503.0" y="274.5" width="19.1" height="18.5" fill="#4da2d1"/><rect x="521.5" y="274.5" width="19.1" height="18.5" fill="#4ca2d1"/><rect x="540.0" y="274.5" width="19.1" height="18.5" fill="#4ca1d0"/><rect x="558.5" y="274.5" width="19.1" height="18.5" fill="#4ba0cf"/><rect x="577.0" y="274.5" width="19.1" height="18.5" fill="#4a9ecd"/><rect x="595.5" y="274.5" width="19.1" height="18.5" fill="#499dcc"/><rect x="614.0" y="274.5" width="19.1" height="18.5" fill="#489dcb"/><rect x="632.5" y="274.5" width="19.1" height="18.5" fill="#489dcb"/><rect x="651.0" y="274.5" width="19.1" height="18.5" fill="#489dcb"/><rect x="40.5" y="292.4" width="19.1" height="18.5" fill="#87cef2"/><rect x="59.0" y="292.4" width="19.1" height="18.5" fill="#87cef2"/><rect x="77.5" y="292.4" width="19.1" height="18.5" fill="#87cef2"/><rect x="96.0" y="292.4" width="19.1" height="18.5" fill="#88cff2"/><rect x="114.5" y="292.4" width="19.1" height="18.5" fill="#89d0f3"/><rect x="133.0" y="292.4" width="19.1" height="18.5" fill="#89d1f4"/><rect x="151.5" y="292.4" width="19.1" height="18.5" fill="#89d2f4"/><rect x="170.0" y="292.4" width="19.1" height="18.5" fill="#89d1f3"/><rect x="188.5" y="292.4" width="19.1" height="18.5" fill="#86d0f2"/><rect x="207.0" y="292.4" width="19.1" height="18.5" fill="#81cdf1"/><rect x="225.5" y="292.4" width="19.1" height="18.5" fill="#7ecaf0"/><rect x="244.0" y="292.4" width="19.1" height="18.5" fill="#7bc9ef"/><rect x="262.5" y="292.4" width="19.1" height="18.5" fill="#79c7ee"/><rect x="281.0" y="292.4" width="19.1" height="18.5" fill="#74c3eb"/><rect x="299.5" y="292.4" width="19.1" height="18.5" fill="#69bae4"/><rect x="318.0" y="292.4" width="19.1" height="18.5" fill="#61b4e0"/><rect x="336.5" y="292.4" width="19.1" height="18.5" fill="#5fb3de"/><rect x="355.0" y="292.4" width="19.1" height="18.5" fill="#5eb2de"/><rect x="373.5" y="292.4" width="19.1" height="18.5" fill="#5cb0dd"/><rect x="392.0" y="292.4" width="19.1" height="18.5" fill="#56aad8"/><rect x="410.5" y="292.4" width="19.1" height="18.5" fill="#50a4d3"/><rect x="429.0" y="292.4" width="19.1" height="18.5" fill="#4fa3d2"/><rect x="447.5" y="292.4" width="19.1" height="18.5" fill="#4ea3d2"/><rect x="466.0" y="292.4" width="19.1" height="18.5" fill="#4ea2d1"/><rect x="484.5" y="292.4" width="19.1" height="18.5" fill="#4ca0d0"/><rect x="503.0" y="292.4" width="19.1" height="18.5" fill="#4a9ece"/><rect x="521.5" y="292.4" width="19.1" height="18.5" fill="#4a9ecd"/><rect x="540.0" y="292.4" width="19.1" height="18.5" fill="#4a9ecd"/><rect x="558.5" y="292.4" width="19.1" height="18.5" fill="#4a9ecd"/><rect x="577.0" y="292.4" width="19.1" height="18.5" fill="#4a9dcd"/><rect x="595.5" y="292.4" width="19.1" height="18.5" fill="#4a9dcc"/><rect x="614.0" y="292.4" width="19.1" height="18.5" fill="#499ccb"/><rect x="632.5" y="292.4" width="19.1" height="18.5" fill="#499ccb"/><rect x="651.0" y="292.4" width="19.1" height="18.5" fill="#489ccb"/><rect x="40.5" y="310.3" width="19.1" height="18.5" fill="#86cdf1"/><rect x="59.0" y="310.3" width="19.1" height="18.5" fill="#86cdf1"/><rect x="77.5" y="310.3" width="19.1" height="18.5" fill="#86cdf1"/><rect x="96.0" y="310.3" width="19.1" height="18.5" fill="#87cef2"/><rect x="114.5" y="310.3" width="19.1" height="18.5" fill="#88d0f3"/><rect x="133.0" y="310.3" width="19.1" height="18.5" fill="#89d2f3"/><rect x="151.5" y="310.3" width="19.1" height="18.5" fill="#89d2f3"/><rect x="170.0" y="310.3" width="19.1" height="18.5" fill="#88d1f3"/><rect x="188.5" y="310.3" width="19.1" height="18.5" fill="#85cff2"/><rect x="207.0" y="310.3" width="19.1" height="18.5" fill="#82cdf0"/><rect x="225.5" y="310.3" width="19.1" height="18.5" fill="#7ecbef"/><rect x="244.0" y="310.3" width="19.1" height="18.5" fill="#7bc9ee"/><rect x="262.5" y="310.3" width="19.1" height="18.5" fill="#79c7ed"/><rect x="281.0" y="310.3" width="19.1" height="18.5" fill="#74c3ea"/><rect x="299.5" y="310.3" width="19.1" height="18.5" fill="#6abce4"/><rect x="318.0" y="310.3" width="19.1" height="18.5" fill="#62b5df"/><rect x="336.5" y="310.3" width="19.1" height="18.5" fill="#5fb2dd"/><rect x="355.0" y="310.3" width="19.1" height="18.5" fill="#5eb2dd"/><rect x="373.5" y="310.3" width="19.1" height="18.5" fill="#5bafdb"/><rect x="392.0" y="310.3" width="19.1" height="18.5" fill="#54a8d5"/><rect x="410.5" y="310.3" width="19.1" height="18.5" fill="#4ea1d0"/><rect x="429.0" y="310.3" width="19.1" height="18.5" fill="#4c9fce"/><rect x="447.5" y="310.3" width="19.1" height="18.5" fill="#4c9fce"/><rect x="466.0" y="310.3" width="19.1" height="18.5" fill="#4b9ecd"/><rect x="484.5" y="310.3" width="19.1" height="18.5" fill="#4a9dcc"/><rect x="503.0" y="310.3" width="19.1" height="18.5" fill="#489bca"/><rect x="521.5" y="310.3" width="19.1" height="18.5" fill="#489aca"/><rect x="540.0" y="310.3" width="19.1" height="18.5" fill="#499bcb"/><rect x="558.5" y="310.3" width="19.1" height="18.5" fill="#4b9dcc"/><rect x="577.0" y="310.3" width="19.1" height="18.5" fill="#4d9fce"/><rect x="595.5" y="310.3" width="19.1" height="18.5" fill="#4d9fce"/><rect x="614.0" y="310.3" width="19.1" height="18.5" fill="#4d9fce"/><rect x="632.5" y="310.3" width="19.1" height="18.5" fill="#4c9ecd"/><rect x="651.0" y="310.3" width="19.1" height="18.5" fill="#4b9ecd"/><rect x="40.5" y="328.2" width="19.1" height="18.5" fill="#84ccf0"/><rect x="59.0" y="328.2" width="19.1" height="18.5" fill="#84ccf0"/><rect x="77.5" y="328.2" width="19.1" height="18.5" fill="#84ccf0"/><rect x="96.0" y="328.2" width="19.1" height="18.5" fill="#85cdf0"/><rect x="114.5" y="328.2" width="19.1" height="18.5" fill="#87cff1"/><rect x="133.0" y="328.2" width="19.1" height="18.5" fill="#87d1f2"/><rect x="151.5" y="328.2" width="19.1" height="18.5" fill="#87d1f2"/><rect x="170.0" y="328.2" width="19.1" height="18.5" fill="#85d0f1"/><rect x="188.5" y="328.2" width="19.1" height="18.5" fill="#83cef0"/><rect x="207.0" y="328.2" width="19.1" height="18.5" fill="#80cbef"/><rect x="225.5" y="328.2" width="19.1" height="18.5" fill="#7cc9ed"/><rect x="244.0" y="328.2" width="19.1" height="18.5" fill="#79c6ec"/><rect x="262.5" y="328.2" width="19.1" height="18.5" fill="#76c4ea"/><rect x="281.0" y="328.2" width="19.1" height="18.5" fill="#72c1e8"/><rect x="299.5" y="328.2" width="19.1" height="18.5" fill="#6abbe4"/><rect x="318.0" y="328.2" width="19.1" height="18.5" fill="#62b5de"/><rect x="336.5" y="328.2" width="19.1" height="18.5" fill="#5eb2dc"/><rect x="355.0" y="328.2" width="19.1" height="18.5" fill="#5cb0db"/><rect x="373.5" y="328.2" width="19.1" height="18.5" fill="#5aaed9"/><rect x="392.0" y="328.2" width="19.1" height="18.5" fill="#52a5d2"/><rect x="410.5" y="328.2" width="19.1" height="18.5" fill="#4b9dcb"/><rect x="429.0" y="328.2" width="19.1" height="18.5" fill="#499bca"/><rect x="447.5" y="328.2" width="19.1" height="18.5" fill="#499bc9"/><rect x="466.0" y="328.2" width="19.1" height="18.5" fill="#489bc9"/><rect x="484.5" y="328.2" width="19.1" height="18.5" fill="#4799c8"/><rect x="503.0" y="328.2" width="19.1" height="18.5" fill="#4697c6"/><rect x="521.5" y="328.2" width="19.1" height="18.5" fill="#4697c6"/><rect x="540.0" y="328.2" width="19.1" height="18.5" fill="#4899c8"/><rect x="558.5" y="328.2" width="19.1" height="18.5" fill="#4c9ccb"/><rect x="577.0" y="328.2" width="19.1" height="18.5" fill="#4fa0ce"/><rect x="595.5" y="328.2" width="19.1" height="18.5" fill="#51a2d0"/><rect x="614.0" y="328.2" width="19.1" height="18.5" fill="#51a2d0"/><rect x="632.5" y="328.2" width="19.1" height="18.5" fill="#50a1d0"/><rect x="651.0" y="328.2" width="19.1" height="18.5" fill="#50a1d0"/><rect x="40.5" y="346.1" width="19.1" height="18.5" fill="#80caee"/><rect x="59.0" y="346.1" width="19.1" height="18.5" fill="#80caee"/><rect x="77.5" y="346.1" width="19.1" height="18.5" fill="#81caee"/><rect x="96.0" y="346.1" width="19.1" height="18.5" fill="#81cbee"/><rect x="114.5" y="346.1" width="19.1" height="18.5" fill="#82cdef"/><rect x="133.0" y="346.1" width="19.1" height="18.5" fill="#83cef0"/><rect x="151.5" y="346.1" width="19.1" height="18.5" fill="#82cef0"/><rect x="170.0" y="346.1" width="19.1" height="18.5" fill="#81ccef"/><rect x="188.5" y="346.1" width="19.1" height="18.5" fill="#7ecbee"/><rect x="207.0" y="346.1" width="19.1" height="18.5" fill="#7bc8ec"/><rect x="225.5" y="346.1" width="19.1" height="18.5" fill="#78c5ea"/><rect x="244.0" y="346.1" width="19.1" height="18.5" fill="#74c2e9"/><rect x="262.5" y="346.1" width="19.1" height="18.5" fill="#71c0e7"/><rect x="281.0" y="346.1" width="19.1" height="18.5" fill="#6ebee5"/><rect x="299.5" y="346.1" width="19.1" height="18.5" fill="#67b9e1"/><rect x="318.0" y="346.1" width="19.1" height="18.5" fill="#5fb2dc"/><rect x="336.5" y="346.1" width="19.1" height="18.5" fill="#5bafd9"/><rect x="355.0" y="346.1" width="19.1" height="18.5" fill="#5aadd8"/><rect x="373.5" y="346.1" width="19.1" height="18.5" fill="#57abd5"/><rect x="392.0" y="346.1" width="19.1" height="18.5" fill="#4fa2ce"/><rect x="410.5" y="346.1" width="19.1" height="18.5" fill="#489ac7"/><rect x="429.0" y="346.1" width="19.1" height="18.5" fill="#4698c5"/><rect x="447.5" y="346.1" width="19.1" height="18.5" fill="#4697c5"/><rect x="466.0" y="346.1" width="19.1" height="18.5" fill="#4597c5"/><rect x="484.5" y="346.1" width="19.1" height="18.5" fill="#4595c3"/><rect x="503.0" y="346.1" width="19.1" height="18.5" fill="#4494c2"/><rect x="521.5" y="346.1" width="19.1" height="18.5" fill="#4494c2"/><rect x="540.0" y="346.1" width="19.1" height="18.5" fill="#4696c4"/><rect x="558.5" y="346.1" width="19.1" height="18.5" fill="#4b9bc8"/><rect x="577.0" y="346.1" width="19.1" height="18.5" fill="#4f9fcd"/><rect x="595.5" y="346.1" width="19.1" height="18.5" fill="#52a2cf"/><rect x="614.0" y="346.1" width="19.1" height="18.5" fill="#53a3d0"/><rect x="632.5" y="346.1" width="19.1" height="18.5" fill="#52a2d0"/><rect x="651.0" y="346.1" width="19.1" height="18.5" fill="#52a2d0"/><rect x="40.5" y="364.0" width="19.1" height="18.5" fill="#7bc6ea"/><rect x="59.0" y="364.0" width="19.1" height="18.5" fill="#7bc6ea"/><rect x="77.5" y="364.0" width="19.1" height="18.5" fill="#7bc6ea"/><rect x="96.0" y="364.0" width="19.1" height="18.5" fill="#7bc6ea"/><rect x="114.5" y="364.0" width="19.1" height="18.5" fill="#7bc8eb"/><rect x="133.0" y="364.0" width="19.1" height="18.5" fill="#7bc9ec"/><rect x="151.5" y="364.0" width="19.1" height="18.5" fill="#7bc9ec"/><rect x="170.0" y="364.0" width="19.1" height="18.5" fill="#7ac7eb"/><rect x="188.5" y="364.0" width="19.1" height="18.5" fill="#78c5ea"/><rect x="207.0" y="364.0" width="19.1" height="18.5" fill="#75c3e8"/><rect x="225.5" y="364.0" width="19.1" height="18.5" fill="#71c0e6"/><rect x="244.0" y="364.0" width="19.1" height="18.5" fill="#6dbde4"/><rect x="262.5" y="364.0" width="19.1" height="18.5" fill="#6abae2"/><rect x="281.0" y="364.0" width="19.1" height="18.5" fill="#67b8e0"/><rect x="299.5" y="364.0" width="19.1" height="18.5" fill="#61b3dc"/><rect x="318.0" y="364.0" width="19.1" height="18.5" fill="#5aadd7"/><rect x="336.5" y="364.0" width="19.1" height="18.5" fill="#56aad4"/><rect x="355.0" y="364.0" width="19.1" height="18.5" fill="#55a8d2"/><rect x="373.5" y="364.0" width="19.1" height="18.5" fill="#52a6d0"/><rect x="392.0" y="364.0" width="19.1" height="18.5" fill="#4b9dc9"/><rect x="410.5" y="364.0" width="19.1" height="18.5" fill="#4596c3"/><rect x="429.0" y="364.0" width="19.1" height="18.5" fill="#4394c1"/><rect x="447.5" y="364.0" width="19.1" height="18.5" fill="#4394c1"/><rect x="466.0" y="364.0" width="19.1" height="18.5" fill="#4393c0"/><rect x="484.5" y="364.0" width="19.1" height="18.5" fill="#4292bf"/><rect x="503.0" y="364.0" width="19.1" height="18.5" fill="#4291be"/><rect x="521.5" y="364.0" width="19.1" height="18.5" fill="#4291be"/><rect x="540.0" y="364.0" width="19.1" height="18.5" fill="#4493c0"/><rect x="558.5" y="364.0" width="19.1" height="18.5" fill="#4897c4"/><rect x="577.0" y="364.0" width="19.1" height="18.5" fill="#4d9cc8"/><rect x="595.5" y="364.0" width="19.1" height="18.5" fill="#4f9ecb"/><rect x="614.0" y="364.0" width="19.1" height="18.5" fill="#509fcb"/><rect x="632.5" y="364.0" width="19.1" height="18.5" fill="#509fcc"/><rect x="651.0" y="364.0" width="19.1" height="18.5" fill="#509fcb"/><rect x="40.5" y="381.9" width="19.1" height="18.5" fill="#74c1e5"/><rect x="59.0" y="381.9" width="19.1" height="18.5" fill="#74c1e5"/><rect x="77.5" y="381.9" width="19.1" height="18.5" fill="#74c0e5"/><rect x="96.0" y="381.9" width="19.1" height="18.5" fill="#72c0e5"/><rect x="114.5" y="381.9" width="19.1" height="18.5" fill="#71c0e5"/><rect x="133.0" y="381.9" width="19.1" height="18.5" fill="#71c1e5"/><rect x="151.5" y="381.9" width="19.1" height="18.5" fill="#71c1e5"/><rect x="170.0" y="381.9" width="19.1" height="18.5" fill="#70c0e4"/><rect x="188.5" y="381.9" width="19.1" height="18.5" fill="#6ebde3"/><rect x="207.0" y="381.9" width="19.1" height="18.5" fill="#6cbbe1"/><rect x="225.5" y="381.9" width="19.1" height="18.5" fill="#68b8df"/><rect x="244.0" y="381.9" width="19.1" height="18.5" fill="#64b5dd"/><rect x="262.5" y="381.9" width="19.1" height="18.5" fill="#61b2db"/><rect x="281.0" y="381.9" width="19.1" height="18.5" fill="#5eb0d9"/><rect x="299.5" y="381.9" width="19.1" height="18.5" fill="#59acd5"/><rect x="318.0" y="381.9" width="19.1" height="18.5" fill="#54a7d0"/><rect x="336.5" y="381.9" width="19.1" height="18.5" fill="#50a4ce"/><rect x="355.0" y="381.9" width="19.1" height="18.5" fill="#4fa2cc"/><rect x="373.5" y="381.9" width="19.1" height="18.5" fill="#4da0cb"/><rect x="392.0" y="381.9" width="19.1" height="18.5" fill="#4799c4"/><rect x="410.5" y="381.9" width="19.1" height="18.5" fill="#4292bf"/><rect x="429.0" y="381.9" width="19.1" height="18.5" fill="#4191bd"/><rect x="447.5" y="381.9" width="19.1" height="18.5" fill="#4191bd"/><rect x="466.0" y="381.9" width="19.1" height="18.5" fill="#4190bc"/><rect x="484.5" y="381.9" width="19.1" height="18.5" fill="#408fbb"/><rect x="503.0" y="381.9" width="19.1" height="18.5" fill="#3f8eba"/><rect x="521.5" y="381.9" width="19.1" height="18.5" fill="#408eba"/><rect x="540.0" y="381.9" width="19.1" height="18.5" fill="#4190bc"/><rect x="558.5" y="381.9" width="19.1" height="18.5" fill="#4593bf"/><rect x="577.0" y="381.9" width="19.1" height="18.5" fill="#4997c2"/><rect x="595.5" y="381.9" width="19.1" height="18.5" fill="#4b99c4"/><rect x="614.0" y="381.9" width="19.1" height="18.5" fill="#4b9ac5"/><rect x="632.5" y="381.9" width="19.1" height="18.5" fill="#4b9ac5"/><rect x="651.0" y="381.9" width="19.1" height="18.5" fill="#4b99c4"/><rect x="40.5" y="399.8" width="19.1" height="18.5" fill="#6dbbe0"/><rect x="59.0" y="399.8" width="19.1" height="18.5" fill="#6cbadf"/><rect x="77.5" y="399.8" width="19.1" height="18.5" fill="#6bbadf"/><rect x="96.0" y="399.8" width="19.1" height="18.5" fill="#69b8dd"/><rect x="114.5" y="399.8" width="19.1" height="18.5" fill="#66b7dc"/><rect x="133.0" y="399.8" width="19.1" height="18.5" fill="#65b7dd"/><rect x="151.5" y="399.8" width="19.1" height="18.5" fill="#65b6dc"/><rect x="170.0" y="399.8" width="19.1" height="18.5" fill="#63b4da"/><rect x="188.5" y="399.8" width="19.1" height="18.5" fill="#61b1d8"/><rect x="207.0" y="399.8" width="19.1" height="18.5" fill="#5fafd6"/><rect x="225.5" y="399.8" width="19.1" height="18.5" fill="#5dadd5"/><rect x="244.0" y="399.8" width="19.1" height="18.5" fill="#59aad2"/><rect x="262.5" y="399.8" width="19.1" height="18.5" fill="#57a8d1"/><rect x="281.0" y="399.8" width="19.1" height="18.5" fill="#55a7d0"/><rect x="299.5" y="399.8" width="19.1" height="18.5" fill="#52a5ce"/><rect x="318.0" y="399.8" width="19.1" height="18.5" fill="#4fa1cb"/><rect x="336.5" y="399.8" width="19.1" height="18.5" fill="#4c9fc9"/><rect x="355.0" y="399.8" width="19.1" height="18.5" fill="#4b9ec8"/><rect x="373.5" y="399.8" width="19.1" height="18.5" fill="#4a9cc6"/><rect x="392.0" y="399.8" width="19.1" height="18.5" fill="#4596c0"/><rect x="410.5" y="399.8" width="19.1" height="18.5" fill="#4190bb"/><rect x="429.0" y="399.8" width="19.1" height="18.5" fill="#408fba"/><rect x="447.5" y="399.8" width="19.1" height="18.5" fill="#3f8eba"/><rect x="466.0" y="399.8" width="19.1" height="18.5" fill="#3f8eba"/><rect x="484.5" y="399.8" width="19.1" height="18.5" fill="#3f8db9"/><rect x="503.0" y="399.8" width="19.1" height="18.5" fill="#3e8cb7"/><rect x="521.5" y="399.8" width="19.1" height="18.5" fill="#3e8cb7"/><rect x="540.0" y="399.8" width="19.1" height="18.5" fill="#3f8db9"/><rect x="558.5" y="399.8" width="19.1" height="18.5" fill="#4290bb"/><rect x="577.0" y="399.8" width="19.1" height="18.5" fill="#4593be"/><rect x="595.5" y="399.8" width="19.1" height="18.5" fill="#4694bf"/><rect x="614.0" y="399.8" width="19.1" height="18.5" fill="#4695bf"/><rect x="632.5" y="399.8" width="19.1" height="18.5" fill="#4694bf"/><rect x="651.0" y="399.8" width="19.1" height="18.5" fill="#4694be"/><rect x="40.5" y="417.7" width="19.1" height="18.5" fill="#65b3d9"/><rect x="59.0" y="417.7" width="19.1" height="18.5" fill="#64b3d9"/><rect x="77.5" y="417.7" width="19.1" height="18.5" fill="#62b1d8"/><rect x="96.0" y="417.7" width="19.1" height="18.5" fill="#5fafd5"/><rect x="114.5" y="417.7" width="19.1" height="18.5" fill="#5cacd3"/><rect x="133.0" y="417.7" width="19.1" height="18.5" fill="#5aabd2"/><rect x="151.5" y="417.7" width="19.1" height="18.5" fill="#59a9d1"/><rect x="170.0" y="417.7" width="19.1" height="18.5" fill="#56a6ce"/><rect x="188.5" y="417.7" width="19.1" height="18.5" fill="#54a2cb"/><rect x="207.0" y="417.7" width="19.1" height="18.5" fill="#52a1c9"/><rect x="225.5" y="417.7" width="19.1" height="18.5" fill="#509fc8"/><rect x="244.0" y="417.7" width="19.1" height="18.5" fill="#4e9dc6"/><rect x="262.5" y="417.7" width="19.1" height="18.5" fill="#4d9dc6"/><rect x="281.0" y="417.7" width="19.1" height="18.5" fill="#4d9ec7"/><rect x="299.5" y="417.7" width="19.1" height="18.5" fill="#4e9fc8"/><rect x="318.0" y="417.7" width="19.1" height="18.5" fill="#4d9ec7"/><rect x="336.5" y="417.7" width="19.1" height="18.5" fill="#4b9dc6"/><rect x="355.0" y="417.7" width="19.1" height="18.5" fill="#4a9bc5"/><rect x="373.5" y="417.7" width="19.1" height="18.5" fill="#4899c3"/><rect x="392.0" y="417.7" width="19.1" height="18.5" fill="#4494be"/><rect x="410.5" y="417.7" width="19.1" height="18.5" fill="#408fb9"/><rect x="429.0" y="417.7" width="19.1" height="18.5" fill="#3f8db8"/><rect x="447.5" y="417.7" width="19.1" height="18.5" fill="#3f8db8"/><rect x="466.0" y="417.7" width="19.1" height="18.5" fill="#3e8db8"/><rect x="484.5" y="417.7" width="19.1" height="18.5" fill="#3e8cb7"/><rect x="503.0" y="417.7" width="19.1" height="18.5" fill="#3d8bb6"/><rect x="521.5" y="417.7" width="19.1" height="18.5" fill="#3d8bb6"/><rect x="540.0" y="417.7" width="19.1" height="18.5" fill="#3e8cb6"/><rect x="558.5" y="417.7" width="19.1" height="18.5" fill="#408eb8"/><rect x="577.0" y="417.7" width="19.1" height="18.5" fill="#4290ba"/><rect x="595.5" y="417.7" width="19.1" height="18.5" fill="#4391bb"/><rect x="614.0" y="417.7" width="19.1" height="18.5" fill="#4391bb"/><rect x="632.5" y="417.7" width="19.1" height="18.5" fill="#4291bb"/><rect x="651.0" y="417.7" width="19.1" height="18.5" fill="#4290ba"/><rect x="40.5" y="435.6" width="19.1" height="18.5" fill="#5faed5"/><rect x="59.0" y="435.6" width="19.1" height="18.5" fill="#5eadd4"/><rect x="77.5" y="435.6" width="19.1" height="18.5" fill="#5cabd2"/><rect x="96.0" y="435.6" width="19.1" height="18.5" fill="#58a7cf"/><rect x="114.5" y="435.6" width="19.1" height="18.5" fill="#54a3cb"/><rect x="133.0" y="435.6" width="19.1" height="18.5" fill="#51a0c9"/><rect x="151.5" y="435.6" width="19.1" height="18.5" fill="#4f9ec7"/><rect x="170.0" y="435.6" width="19.1" height="18.5" fill="#4d9bc4"/><rect x="188.5" y="435.6" width="19.1" height="18.5" fill="#4c99c2"/><rect x="207.0" y="435.6" width="19.1" height="18.5" fill="#4c99c1"/><rect x="225.5" y="435.6" width="19.1" height="18.5" fill="#4a98c0"/><rect x="244.0" y="435.6" width="19.1" height="18.5" fill="#4997bf"/><rect x="262.5" y="435.6" width="19.1" height="18.5" fill="#4897bf"/><rect x="281.0" y="435.6" width="19.1" height="18.5" fill="#4a99c1"/><rect x="299.5" y="435.6" width="19.1" height="18.5" fill="#4d9dc5"/><rect x="318.0" y="435.6" width="19.1" height="18.5" fill="#4e9ec6"/><rect x="336.5" y="435.6" width="19.1" height="18.5" fill="#4d9dc5"/><rect x="355.0" y="435.6" width="19.1" height="18.5" fill="#4b9bc4"/><rect x="373.5" y="435.6" width="19.1" height="18.5" fill="#4898c1"/><rect x="392.0" y="435.6" width="19.1" height="18.5" fill="#4393bc"/><rect x="410.5" y="435.6" width="19.1" height="18.5" fill="#3f8eb8"/><rect x="429.0" y="435.6" width="19.1" height="18.5" fill="#3e8db7"/><rect x="447.5" y="435.6" width="19.1" height="18.5" fill="#3e8cb7"/><rect x="466.0" y="435.6" width="19.1" height="18.5" fill="#3e8cb6"/><rect x="484.5" y="435.6" width="19.1" height="18.5" fill="#3d8bb6"/><rect x="503.0" y="435.6" width="19.1" height="18.5" fill="#3c8ab5"/><rect x="521.5" y="435.6" width="19.1" height="18.5" fill="#3c8ab5"/><rect x="540.0" y="435.6" width="19.1" height="18.5" fill="#3d8bb5"/><rect x="558.5" y="435.6" width="19.1" height="18.5" fill="#3e8cb7"/><rect x="577.0" y="435.6" width="19.1" height="18.5" fill="#408eb8"/><rect x="595.5" y="435.6" width="19.1" height="18.5" fill="#418fb9"/><rect x="614.0" y="435.6" width="19.1" height="18.5" fill="#418fb9"/><rect x="632.5" y="435.6" width="19.1" height="18.5" fill="#418fb9"/><rect x="651.0" y="435.6" width="19.1" height="18.5" fill="#418fb9"/><rect x="40.5" y="453.5" width="19.1" height="18.5" fill="#5eacd3"/><rect x="59.0" y="453.5" width="19.1" height="18.5" fill="#5dabd2"/><rect x="77.5" y="453.5" width="19.1" height="18.5" fill="#5aa9d0"/><rect x="96.0" y="453.5" width="19.1" height="18.5" fill="#56a4cc"/><rect x="114.5" y="453.5" width="19.1" height="18.5" fill="#509ec7"/><rect x="133.0" y="453.5" width="19.1" height="18.5" fill="#4c9ac3"/><rect x="151.5" y="453.5" width="19.1" height="18.5" fill="#4a98c1"/><rect x="170.0" y="453.5" width="19.1" height="18.5" fill="#4a97bf"/><rect x="188.5" y="453.5" width="19.1" height="18.5" fill="#4c98bf"/><rect x="207.0" y="453.5" width="19.1" height="18.5" fill="#4d99c0"/><rect x="225.5" y="453.5" width="19.1" height="18.5" fill="#4c98bf"/><rect x="244.0" y="453.5" width="19.1" height="18.5" fill="#4a97be"/><rect x="262.5" y="453.5" width="19.1" height="18.5" fill="#4997be"/><rect x="281.0" y="453.5" width="19.1" height="18.5" fill="#4b99c1"/><rect x="299.5" y="453.5" width="19.1" height="18.5" fill="#4f9ec5"/><rect x="318.0" y="453.5" width="19.1" height="18.5" fill="#51a0c7"/><rect x="336.5" y="453.5" width="19.1" height="18.5" fill="#509fc6"/><rect x="355.0" y="453.5" width="19.1" height="18.5" fill="#4d9cc4"/><rect x="373.5" y="453.5" width="19.1" height="18.5" fill="#4998c1"/><rect x="392.0" y="453.5" width="19.1" height="18.5" fill="#4493bc"/><rect x="410.5" y="453.5" width="19.1" height="18.5" fill="#3f8eb8"/><rect x="429.0" y="453.5" width="19.1" height="18.5" fill="#3e8cb6"/><rect x="447.5" y="453.5" width="19.1" height="18.5" fill="#3e8cb6"/><rect x="466.0" y="453.5" width="19.1" height="18.5" fill="#3d8bb5"/><rect x="484.5" y="453.5" width="19.1" height="18.5" fill="#3d8bb5"/><rect x="503.0" y="453.5" width="19.1" height="18.5" fill="#3c8ab4"/><rect x="521.5" y="453.5" width="19.1" height="18.5" fill="#3c8ab4"/><rect x="540.0" y="453.5" width="19.1" height="18.5" fill="#3c8ab4"/><rect x="558.5" y="453.5" width="19.1" height="18.5" fill="#3e8cb6"/><rect x="577.0" y="453.5" width="19.1" height="18.5" fill="#408eb8"/><rect x="595.5" y="453.5" width="19.1" height="18.5" fill="#418fb9"/><rect x="614.0" y="453.5" width="19.1" height="18.5" fill="#4290ba"/><rect x="632.5" y="453.5" width="19.1" height="18.5" fill="#4290ba"/><rect x="651.0" y="453.5" width="19.1" height="18.5" fill="#4290ba"/><rect x="40.5" y="471.4" width="19.1" height="18.5" fill="#60add3"/><rect x="59.0" y="471.4" width="19.1" height="18.5" fill="#5facd3"/><rect x="77.5" y="471.4" width="19.1" height="18.5" fill="#5ca9d0"/><rect x="96.0" y="471.4" width="19.1" height="18.5" fill="#56a4cc"/><rect x="114.5" y="471.4" width="19.1" height="18.5" fill="#509dc6"/><rect x="133.0" y="471.4" width="19.1" height="18.5" fill="#4b98c1"/><rect x="151.5" y="471.4" width="19.1" height="18.5" fill="#4a96bf"/><rect x="170.0" y="471.4" width="19.1" height="18.5" fill="#4c97bf"/><rect x="188.5" y="471.4" width="19.1" height="18.5" fill="#509bc1"/><rect x="207.0" y="471.4" width="19.1" height="18.5" fill="#539dc2"/><rect x="225.5" y="471.4" width="19.1" height="18.5" fill="#529dc2"/><rect x="244.0" y="471.4" width="19.1" height="18.5" fill="#4e9ac1"/><rect x="262.5" y="471.4" width="19.1" height="18.5" fill="#4d9ac1"/><rect x="281.0" y="471.4" width="19.1" height="18.5" fill="#4e9bc2"/><rect x="299.5" y="471.4" width="19.1" height="18.5" fill="#509fc5"/><rect x="318.0" y="471.4" width="19.1" height="18.5" fill="#52a1c8"/><rect x="336.5" y="471.4" width="19.1" height="18.5" fill="#51a0c7"/><rect x="355.0" y="471.4" width="19.1" height="18.5" fill="#4d9cc4"/><rect x="373.5" y="471.4" width="19.1" height="18.5" fill="#4898c0"/><rect x="392.0" y="471.4" width="19.1" height="18.5" fill="#4393bb"/><rect x="410.5" y="471.4" width="19.1" height="18.5" fill="#408eb8"/><rect x="429.0" y="471.4" width="19.1" height="18.5" fill="#3e8cb6"/><rect x="447.5" y="471.4" width="19.1" height="18.5" fill="#3d8bb5"/><rect x="466.0" y="471.4" width="19.1" height="18.5" fill="#3d8bb5"/><rect x="484.5" y="471.4" width="19.1" height="18.5" fill="#3c8ab4"/><rect x="503.0" y="471.4" width="19.1" height="18.5" fill="#3b89b3"/><rect x="521.5" y="471.4" width="19.1" height="18.5" fill="#3b89b3"/><rect x="540.0" y="471.4" width="19.1" height="18.5" fill="#3c8ab4"/><rect x="558.5" y="471.4" width="19.1" height="18.5" fill="#3e8cb6"/><rect x="577.0" y="471.4" width="19.1" height="18.5" fill="#418fb9"/><rect x="595.5" y="471.4" width="19.1" height="18.5" fill="#4391bb"/><rect x="614.0" y="471.4" width="19.1" height="18.5" fill="#4392bc"/><rect x="632.5" y="471.4" width="19.1" height="18.5" fill="#4492bc"/><rect x="651.0" y="471.4" width="19.1" height="18.5" fill="#4492bc"/><rect x="40.5" y="489.3" width="19.1" height="18.5" fill="#62afd5"/><rect x="59.0" y="489.3" width="19.1" height="18.5" fill="#61aed4"/><rect x="77.5" y="489.3" width="19.1" height="18.5" fill="#5eabd1"/><rect x="96.0" y="489.3" width="19.1" height="18.5" fill="#59a6cd"/><rect x="114.5" y="489.3" width="19.1" height="18.5" fill="#529ec7"/><rect x="133.0" y="489.3" width="19.1" height="18.5" fill="#4c99c2"/><rect x="151.5" y="489.3" width="19.1" height="18.5" fill="#4b97c0"/><rect x="170.0" y="489.3" width="19.1" height="18.5" fill="#4f9ac1"/><rect x="188.5" y="489.3" width="19.1" height="18.5" fill="#569fc4"/><rect x="207.0" y="489.3" width="19.1" height="18.5" fill="#5aa3c7"/><rect x="225.5" y="489.3" width="19.1" height="18.5" fill="#58a2c6"/><rect x="244.0" y="489.3" width="19.1" height="18.5" fill="#539ec4"/><rect x="262.5" y="489.3" width="19.1" height="18.5" fill="#4f9cc3"/><rect x="281.0" y="489.3" width="19.1" height="18.5" fill="#4f9cc3"/><rect x="299.5" y="489.3" width="19.1" height="18.5" fill="#509ec5"/><rect x="318.0" y="489.3" width="19.1" height="18.5" fill="#51a0c6"/><rect x="336.5" y="489.3" width="19.1" height="18.5" fill="#509fc6"/><rect x="355.0" y="489.3" width="19.1" height="18.5" fill="#4b9bc2"/><rect x="373.5" y="489.3" width="19.1" height="18.5" fill="#4696be"/><rect x="392.0" y="489.3" width="19.1" height="18.5" fill="#4392bb"/><rect x="410.5" y="489.3" width="19.1" height="18.5" fill="#3f8eb8"/><rect x="429.0" y="489.3" width="19.1" height="18.5" fill="#3e8cb6"/><rect x="447.5" y="489.3" width="19.1" height="18.5" fill="#3d8bb5"/><rect x="466.0" y="489.3" width="19.1" height="18.5" fill="#3c8ab4"/><rect x="484.5" y="489.3" width="19.1" height="18.5" fill="#3c8ab4"/><rect x="503.0" y="489.3" width="19.1" height="18.5" fill="#3b89b3"/><rect x="521.5" y="489.3" width="19.1" height="18.5" fill="#3b89b3"/><rect x="540.0" y="489.3" width="19.1" height="18.5" fill="#3c8ab4"/><rect x="558.5" y="489.3" width="19.1" height="18.5" fill="#3f8db7"/><rect x="577.0" y="489.3" width="19.1" height="18.5" fill="#4291bb"/><rect x="595.5" y="489.3" width="19.1" height="18.5" fill="#4493bd"/><rect x="614.0" y="489.3" width="19.1" height="18.5" fill="#4593bd"/><rect x="632.5" y="489.3" width="19.1" height="18.5" fill="#4593bd"/><rect x="651.0" y="489.3" width="19.1" height="18.5" fill="#4594be"/><rect x="40.5" y="507.2" width="19.1" height="18.5" fill="#64b1d6"/><rect x="59.0" y="507.2" width="19.1" height="18.5" fill="#63b0d5"/><rect x="77.5" y="507.2" width="19.1" height="18.5" fill="#60add3"/><rect x="96.0" y="507.2" width="19.1" height="18.5" fill="#5ba8cf"/><rect x="114.5" y="507.2" width="19.1" height="18.5" fill="#53a0c8"/><rect x="133.0" y="507.2" width="19.1" height="18.5" fill="#4d9ac3"/><rect x="151.5" y="507.2" width="19.1" height="18.5" fill="#4d98c1"/><rect x="170.0" y="507.2" width="19.1" height="18.5" fill="#529cc3"/><rect x="188.5" y="507.2" width="19.1" height="18.5" fill="#5aa3c7"/><rect x="207.0" y="507.2" width="19.1" height="18.5" fill="#5fa7ca"/><rect x="225.5" y="507.2" width="19.1" height="18.5" fill="#5ca5c9"/><rect x="244.0" y="507.2" width="19.1" height="18.5" fill="#54a0c6"/><rect x="262.5" y="507.2" width="19.1" height="18.5" fill="#509dc4"/><rect x="281.0" y="507.2" width="19.1" height="18.5" fill="#4e9cc3"/><rect x="299.5" y="507.2" width="19.1" height="18.5" fill="#4e9cc4"/><rect x="318.0" y="507.2" width="19.1" height="18.5" fill="#4f9dc4"/><rect x="336.5" y="507.2" width="19.1" height="18.5" fill="#4d9cc3"/><rect x="355.0" y="507.2" width="19.1" height="18.5" fill="#4898c0"/><rect x="373.5" y="507.2" width="19.1" height="18.5" fill="#4494bc"/><rect x="392.0" y="507.2" width="19.1" height="18.5" fill="#4191ba"/><rect x="410.5" y="507.2" width="19.1" height="18.5" fill="#3f8eb8"/><rect x="429.0" y="507.2" width="19.1" height="18.5" fill="#3e8cb6"/><rect x="447.5" y="507.2" width="19.1" height="18.5" fill="#3d8bb5"/><rect x="466.0" y="507.2" width="19.1" height="18.5" fill="#3c8ab4"/><rect x="484.5" y="507.2" width="19.1" height="18.5" fill="#3c8ab4"/><rect x="503.0" y="507.2" width="19.1" height="18.5" fill="#3b89b3"/><rect x="521.5" y="507.2" width="19.1" height="18.5" fill="#3b89b3"/><rect x="540.0" y="507.2" width="19.1" height="18.5" fill="#3d8bb5"/><rect x="558.5" y="507.2" width="19.1" height="18.5" fill="#408eb8"/><rect x="577.0" y="507.2" width="19.1" height="18.5" fill="#4392bc"/><rect x="595.5" y="507.2" width="19.1" height="18.5" fill="#4493bd"/><rect x="614.0" y="507.2" width="19.1" height="18.5" fill="#4594be"/><rect x="632.5" y="507.2" width="19.1" height="18.5" fill="#4594be"/><rect x="651.0" y="507.2" width="19.1" height="18.5" fill="#4594be"/><rect x="40.5" y="525.1" width="19.1" height="18.5" fill="#65b2d6"/><rect x="59.0" y="525.1" width="19.1" height="18.5" fill="#65b1d6"/><rect x="77.5" y="525.1" width="19.1" height="18.5" fill="#62afd4"/><rect x="96.0" y="525.1" width="19.1" height="18.5" fill="#5daad0"/><rect x="114.5" y="525.1" width="19.1" height="18.5" fill="#55a2ca"/><rect x="133.0" y="525.1" width="19.1" height="18.5" fill="#4f9bc4"/><rect x="151.5" y="525.1" width="19.1" height="18.5" fill="#4e99c2"/><rect x="170.0" y="525.1" width="19.1" height="18.5" fill="#539ec4"/><rect x="188.5" y="525.1" width="19.1" height="18.5" fill="#5da5c9"/><rect x="207.0" y="525.1" width="19.1" height="18.5" fill="#62aacc"/><rect x="225.5" y="525.1" width="19.1" height="18.5" fill="#5da7ca"/><rect x="244.0" y="525.1" width="19.1" height="18.5" fill="#53a0c6"/><rect x="262.5" y="525.1" width="19.1" height="18.5" fill="#4e9cc3"/><rect x="281.0" y="525.1" width="19.1" height="18.5" fill="#4c9bc2"/><rect x="299.5" y="525.1" width="19.1" height="18.5" fill="#4c9ac2"/><rect x="318.0" y="525.1" width="19.1" height="18.5" fill="#4c9bc2"/><rect x="336.5" y="525.1" width="19.1" height="18.5" fill="#4a99c1"/><rect x="355.0" y="525.1" width="19.1" height="18.5" fill="#4595bd"/><rect x="373.5" y="525.1" width="19.1" height="18.5" fill="#4291ba"/><rect x="392.0" y="525.1" width="19.1" height="18.5" fill="#4090b9"/><rect x="410.5" y="525.1" width="19.1" height="18.5" fill="#3f8eb8"/><rect x="429.0" y="525.1" width="19.1" height="18.5" fill="#3e8cb6"/><rect x="447.5" y="525.1" width="19.1" height="18.5" fill="#3d8bb5"/><rect x="466.0" y="525.1" width="19.1" height="18.5" fill="#3c8ab4"/><rect x="484.5" y="525.1" width="19.1" height="18.5" fill="#3c8ab4"/><rect x="503.0" y="525.1" width="19.1" height="18.5" fill="#3c8ab4"/><rect x="521.5" y="525.1" width="19.1" height="18.5" fill="#3c8ab4"/><rect x="540.0" y="525.1" width="19.1" height="18.5" fill="#3d8cb6"/><rect x="558.5" y="525.1" width="19.1" height="18.5" fill="#408fb9"/><rect x="577.0" y="525.1" width="19.1" height="18.5" fill="#4392bc"/><rect x="595.5" y="525.1" width="19.1" height="18.5" fill="#4493bd"/><rect x="614.0" y="525.1" width="19.1" height="18.5" fill="#4493bd"/><rect x="632.5" y="525.1" width="19.1" height="18.5" fill="#4594be"/><rect x="651.0" y="525.1" width="19.1" height="18.5" fill="#4594be"/><rect x="40.5" y="543.0" width="19.1" height="18.5" fill="#66b2d7"/><rect x="59.0" y="543.0" width="19.1" height="18.5" fill="#65b2d6"/><rect x="77.5" y="543.0" width="19.1" height="18.5" fill="#63afd5"/><rect x="96.0" y="543.0" width="19.1" height="18.5" fill="#5eaad1"/><rect x="114.5" y="543.0" width="19.1" height="18.5" fill="#56a3ca"/><rect x="133.0" y="543.0" width="19.1" height="18.5" fill="#4f9cc4"/><rect x="151.5" y="543.0" width="19.1" height="18.5" fill="#4e9ac2"/><rect x="170.0" y="543.0" width="19.1" height="18.5" fill="#549ec5"/><rect x="188.5" y="543.0" width="19.1" height="18.5" fill="#5ea6ca"/><rect x="207.0" y="543.0" width="19.1" height="18.5" fill="#63abcd"/><rect x="225.5" y="543.0" width="19.1" height="18.5" fill="#5ca6ca"/><rect x="244.0" y="543.0" width="19.1" height="18.5" fill="#529fc5"/><rect x="262.5" y="543.0" width="19.1" height="18.5" fill="#4d9bc3"/><rect x="281.0" y="543.0" width="19.1" height="18.5" fill="#4b9ac2"/><rect x="299.5" y="543.0" width="19.1" height="18.5" fill="#4b9ac1"/><rect x="318.0" y="543.0" width="19.1" height="18.5" fill="#4a9ac1"/><rect x="336.5" y="543.0" width="19.1" height="18.5" fill="#4898c0"/><rect x="355.0" y="543.0" width="19.1" height="18.5" fill="#4493bc"/><rect x="373.5" y="543.0" width="19.1" height="18.5" fill="#4191ba"/><rect x="392.0" y="543.0" width="19.1" height="18.5" fill="#408fb9"/><rect x="410.5" y="543.0" width="19.1" height="18.5" fill="#3f8eb8"/><rect x="429.0" y="543.0" width="19.1" height="18.5" fill="#3e8cb6"/><rect x="447.5" y="543.0" width="19.1" height="18.5" fill="#3d8bb5"/><rect x="466.0" y="543.0" width="19.1" height="18.5" fill="#3c8ab4"/><rect x="484.5" y="543.0" width="19.1" height="18.5" fill="#3c8ab4"/><rect x="503.0" y="543.0" width="19.1" height="18.5" fill="#3c8ab4"/><rect x="521.5" y="543.0" width="19.1" height="18.5" fill="#3c8ab4"/><rect x="540.0" y="543.0" width="19.1" height="18.5" fill="#3d8cb6"/><rect x="558.5" y="543.0" width="19.1" height="18.5" fill="#4090ba"/><rect x="577.0" y="543.0" width="19.1" height="18.5" fill="#4292bc"/><rect x="595.5" y="543.0" width="19.1" height="18.5" fill="#4393bd"/><rect x="614.0" y="543.0" width="19.1" height="18.5" fill="#4493bd"/><rect x="632.5" y="543.0" width="19.1" height="18.5" fill="#4493bd"/><rect x="651.0" y="543.0" width="19.1" height="18.5" fill="#4493bd"/></g>
<ellipse cx="200" cy="492" rx="70" ry="10" fill="url(#rg1)"/>
<ellipse cx="95" cy="488" rx="30" ry="8" fill="url(#rg1)"/>
<defs><linearGradient id="tan1" x1="0" y1="0" x2="1" y2="1"><stop offset="0" stop-color="#f2e2b4"/><stop offset="0.6" stop-color="#e4cf98"/><stop offset="1" stop-color="#b8944e"/></linearGradient><linearGradient id="tan2" x1="0" y1="0" x2="1" y2="0"><stop offset="0" stop-color="#c9a86a"/><stop offset="1" stop-color="#8f7034"/></linearGradient></defs>
<path d="M59,496 L66,492 L75,493 L82,497 L86,503 L96,510 L125,515 L153,518 L172,510 L188,501 L205,497 L220,496 L235,497 L240,502 L241,543 L59,543Z" fill="#2f5b14" stroke="#7ab8d8" stroke-width="0.8"/>
<path d="M144,544 L163,530 L182,517 L201,510 L216,505 L231,506 L233,520 L232,543Z" fill="url(#tan1)"/>
<path d="M222,510 L231,506 L233,520 L232,543 L222,543 L224,525Z" fill="url(#tan2)" opacity="0.8"/>
<path d="M59,510 L63,503 L70,507 L74,520 L77,543 L59,543Z" fill="#b89858"/>
<path d="M651,122 L644,126 L638,140 L634,160 L632,200 L629,250 L627,300 L626,330 L628,340 L636,346 L640,352 L645,365 L651,370Z" fill="#2f5b14" stroke="#7ab8d8" stroke-width="0.8"/>
<path d="M643,48 L651,42 L651,125 L642,128 L640,90Z" fill="#cbb27a"/>
<path d="M592,378 L605,381 L620,383 L630,380 L636,372 L638,360 L634,348 L640,350 L646,365 L651,370 L651,412 L640,407 L632,400 L620,393 L605,388 L595,384Z" fill="#8f7a2c" stroke="#7ab8d8" stroke-width="0.6"/>
<path d="M636,372 L646,365 L651,370 L651,400 L640,398Z" fill="#4f6a1c"/>
<ellipse cx="583" cy="358" rx="9" ry="22" fill="url(#rg1)"/>
<path d="M628,528 L640,522 L651,520 L651,543 L628,543Z" fill="#d9c58e"/>
<path d="M-39,345 C36,240 121,130 161,6" fill="none" stroke="#ffffff" stroke-opacity="0.42" stroke-width="0.7"/>
<path d="M-15,345 C60,240 145,130 185,6" fill="none" stroke="#ffffff" stroke-opacity="0.42" stroke-width="0.7"/>
<path d="M8,345 C83,240 168,130 208,6" fill="none" stroke="#ffffff" stroke-opacity="0.42" stroke-width="0.7"/>
<path d="M32,345 C107,240 192,130 232,6" fill="none" stroke="#ffffff" stroke-opacity="0.42" stroke-width="0.7"/>
<path d="M56,345 C131,240 216,130 256,6" fill="none" stroke="#ffffff" stroke-opacity="0.42" stroke-width="0.7"/>
<path d="M80,345 C155,240 240,130 280,6" fill="none" stroke="#ffffff" stroke-opacity="0.42" stroke-width="0.7"/>
<path d="M106,345 C181,240 266,130 306,6" fill="none" stroke="#ffffff" stroke-opacity="0.42" stroke-width="0.7"/>
<path d="M136,345 C211,240 296,130 336,6" fill="none" stroke="#ffffff" stroke-opacity="0.42" stroke-width="0.7"/>
<path d="M168,345 C243,240 328,130 368,6" fill="none" stroke="#ffffff" stroke-opacity="0.42" stroke-width="0.7"/>
<path d="M199,345 C274,240 359,130 399,6" fill="none" stroke="#ffffff" stroke-opacity="0.42" stroke-width="0.7"/>
<path d="M238,345 C313,240 398,130 438,6" fill="none" stroke="#ffffff" stroke-opacity="0.42" stroke-width="0.7"/>
<path d="M452,157 C462,125 470,100 479,76 C486,50 492,25 496,6" fill="none" stroke="#ffffff" stroke-opacity="0.42" stroke-width="0.7"/>
<path d="M487,303 C505,260 520,230 533,212 C548,185 560,160 571,137" fill="none" stroke="#ffffff" stroke-opacity="0.42" stroke-width="0.7"/>
<path d="M449,217 C465,190 490,150 512,122" fill="none" stroke="#ffffff" stroke-opacity="0.42" stroke-width="0.7"/>
<path d="M466,369 C464,390 463,403 461,430 C458,458 452,480 446,506 C444,520 450,532 453,543" fill="none" stroke="#ffffff" stroke-opacity="0.42" stroke-width="0.7"/>
<path d="M353,327 C340,345 330,360 329,369 C326,385 327,400 326,406 C322,425 300,440 291,461 C288,475 292,485 295,489" fill="none" stroke="#ffffff" stroke-opacity="0.42" stroke-width="0.7"/>
<path d="M130,375 C160,362 185,354 199,351 C215,345 230,338 240,334" fill="none" stroke="#ffffff" stroke-opacity="0.42" stroke-width="0.7"/>
<path d="M233,513 C260,516 290,519 322,520 C350,521 380,524 405,523 C425,522 440,520 453,518" fill="none" stroke="#ffffff" stroke-opacity="0.42" stroke-width="0.7"/>
<path d="M59,420 C100,425 140,428 180,426 C220,424 260,422 288,420" fill="none" stroke="#ffffff" stroke-opacity="0.42" stroke-width="0.7"/>
<style>.k0{fill:#450a69}.k1{fill:#4d0d6c}.k2{fill:#57106e}.k3{fill:#5f136e}.k4{fill:#67166e}.k5{fill:#6f196e}.k6{fill:#771c6d}.k7{fill:#7f1e6c}.k8{fill:#87216b}.k9{fill:#8f2469}.k10{fill:#972766}.k11{fill:#a02a63}.k12{fill:#a82e5f}.k13{fill:#b0315b}.k14{fill:#b73557}.k15{fill:#bf3952}.k16{fill:#c63d4d}.k17{fill:#cc4248}.k18{fill:#d34743}.k19{fill:#da4e3c}.k20{fill:#e05536}.k21{fill:#e55c30}.k22{fill:#ea632a}.k23{fill:#ee6a24}.k24{fill:#f1731d}.k25{fill:#f57b17}.k26{fill:#f78410}.k27{fill:#f98e09}.k28{fill:#fb9706}.k29{fill:#fca108}.k30{fill:#fcaa0f}.k31{fill:#fcb418}.k32{fill:#fbbe23}.k33{fill:#f9c72f}.k34{fill:#f7d13d}.k35{fill:#f5db4c}.k36{fill:#f2e661}.k37{fill:#f1ef75}.k38{fill:#f3f68a}.k39{fill:#f9fc9d}.pt circle{stroke:#1a1a1a;stroke-width:0.75}</style>
<g class="pt">
<circle class="k2" cx="258.8" cy="261.3" r="5.4"/>
<circle class="k3" cx="287.3" cy="261.9" r="5.7"/>
<circle class="k2" cx="325.6" cy="288.6" r="4.8"/>
<circle class="k2" cx="242.5" cy="238.0" r="5.1"/>
<circle class="k3" cx="372.4" cy="241.4" r="4.9"/>
<circle class="k4" cx="277.1" cy="248.4" r="5.2"/>
<circle class="k4" cx="352.4" cy="252.9" r="6.9"/>
<circle class="k3" cx="287.0" cy="373.4" r="4.2"/>
<circle class="k2" cx="254.2" cy="235.9" r="2.4"/>
<circle class="k4" cx="414.1" cy="270.4" r="4.8"/>
<circle class="k3" cx="217.1" cy="247.5" r="6.2"/>
<circle class="k5" cx="296.2" cy="220.7" r="3.9"/>
<circle class="k4" cx="304.1" cy="245.4" r="3.4"/>
<circle class="k3" cx="368.7" cy="245.9" r="5.2"/>
<circle class="k5" cx="255.8" cy="242.4" r="4.4"/>
<circle class="k5" cx="302.5" cy="241.7" r="4.7"/>
<circle class="k4" cx="345.9" cy="277.3" r="5.3"/>
<circle class="k5" cx="242.7" cy="244.3" r="3.9"/>
<circle class="k3" cx="327.2" cy="242.6" r="3.5"/>
<circle class="k3" cx="445.5" cy="316.8" r="2.4"/>
<circle class="k3" cx="496.8" cy="316.0" r="3.8"/>
<circle class="k2" cx="367.8" cy="255.3" r="6.1"/>
<circle class="k2" cx="205.6" cy="240.9" r="3.2"/>
<circle class="k5" cx="341.5" cy="266.1" r="2.4"/>
<circle class="k4" cx="317.4" cy="258.9" r="5.4"/>
<circle class="k4" cx="356.0" cy="273.2" r="7.9"/>
<circle class="k4" cx="270.4" cy="261.8" r="6.3"/>
<circle class="k3" cx="346.9" cy="250.1" r="2.7"/>
<circle class="k5" cx="298.3" cy="254.1" r="8.1"/>
<circle class="k3" cx="367.0" cy="254.2" r="5.6"/>
<circle class="k4" cx="420.9" cy="285.1" r="8.8"/>
<circle class="k5" cx="422.6" cy="264.5" r="4.4"/>
<circle class="k2" cx="336.0" cy="252.0" r="3.8"/>
<circle class="k3" cx="328.5" cy="256.0" r="4.1"/>
<circle class="k5" cx="328.6" cy="265.7" r="5.9"/>
<circle class="k4" cx="341.3" cy="267.0" r="3.8"/>
<circle class="k6" cx="287.6" cy="226.1" r="5.1"/>
<circle class="k5" cx="221.3" cy="244.8" r="4.7"/>
<circle class="k6" cx="242.8" cy="267.4" r="3.9"/>
<circle class="k2" cx="296.4" cy="242.1" r="4.8"/>
<circle class="k3" cx="321.8" cy="251.1" r="6.5"/>
<circle class="k5" cx="310.4" cy="265.1" r="7.2"/>
<circle class="k6" cx="233.8" cy="163.8" r="2.5"/>
<circle class="k5" cx="224.7" cy="224.8" r="4.0"/>
<circle class="k5" cx="354.6" cy="265.5" r="3.6"/>
<circle class="k4" cx="336.8" cy="272.5" r="4.7"/>
<circle class="k4" cx="291.4" cy="267.0" r="4.9"/>
<circle class="k6" cx="333.8" cy="218.5" r="3.0"/>
<circle class="k5" cx="252.8" cy="257.0" r="4.8"/>
<circle class="k5" cx="348.5" cy="284.2" r="4.9"/>
<circle class="k5" cx="370.8" cy="290.7" r="8.7"/>
<circle class="k6" cx="360.5" cy="250.7" r="4.7"/>
<circle class="k5" cx="299.5" cy="216.7" r="4.0"/>
<circle class="k6" cx="362.1" cy="271.6" r="5.8"/>
<circle class="k7" cx="258.0" cy="257.5" r="3.1"/>
<circle class="k5" cx="373.1" cy="279.8" r="6.9"/>
<circle class="k4" cx="365.0" cy="251.3" r="6.6"/>
<circle class="k4" cx="399.5" cy="199.4" r="6.3"/>
<circle class="k4" cx="355.0" cy="250.9" r="4.1"/>
<circle class="k6" cx="363.1" cy="263.0" r="2.9"/>
<circle class="k6" cx="269.6" cy="258.1" r="5.2"/>
<circle class="k4" cx="219.1" cy="243.5" r="4.2"/>
<circle class="k5" cx="357.0" cy="250.4" r="5.0"/>
<circle class="k4" cx="431.6" cy="278.7" r="2.5"/>
<circle class="k3" cx="434.6" cy="286.8" r="4.1"/>
<circle class="k7" cx="256.1" cy="229.5" r="3.4"/>
<circle class="k3" cx="212.1" cy="182.0" r="2.7"/>
<circle class="k7" cx="356.6" cy="250.9" r="4.8"/>
<circle class="k6" cx="340.6" cy="238.9" r="3.6"/>
<circle class="k5" cx="473.8" cy="302.8" r="4.3"/>
<circle class="k4" cx="287.9" cy="232.9" r="5.5"/>
<circle class="k3" cx="354.8" cy="257.4" r="9.5"/>
<circle class="k6" cx="310.0" cy="291.5" r="3.1"/>
<circle class="k2" cx="475.3" cy="297.6" r="4.6"/>
<circle class="k6" cx="383.7" cy="278.1" r="4.8"/>
<circle class="k7" cx="408.2" cy="258.0" r="5.5"/>
<circle class="k5" cx="354.3" cy="241.1" r="4.9"/>
<circle class="k5" cx="256.1" cy="226.7" r="2.5"/>
<circle class="k4" cx="369.4" cy="273.5" r="2.9"/>
<circle class="k5" cx="332.5" cy="245.7" r="5.0"/>
<circle class="k3" cx="317.9" cy="317.0" r="3.2"/>
<circle class="k6" cx="275.5" cy="245.5" r="3.5"/>
<circle class="k4" cx="277.4" cy="255.7" r="5.2"/>
<circle class="k6" cx="363.7" cy="390.3" r="3.8"/>
<circle class="k4" cx="378.9" cy="299.3" r="2.8"/>
<circle class="k3" cx="380.5" cy="258.8" r="2.5"/>
<circle class="k3" cx="465.0" cy="304.2" r="3.2"/>
<circle class="k5" cx="290.2" cy="225.3" r="4.5"/>
<circle class="k8" cx="434.9" cy="265.5" r="2.9"/>
<circle class="k3" cx="486.7" cy="321.5" r="4.2"/>
<circle class="k5" cx="374.2" cy="241.2" r="2.9"/>
<circle class="k7" cx="342.2" cy="194.6" r="5.9"/>
<circle class="k6" cx="356.0" cy="272.3" r="4.8"/>
<circle class="k6" cx="434.5" cy="309.3" r="6.4"/>
<circle class="k7" cx="182.5" cy="262.6" r="4.8"/>
<circle class="k8" cx="319.6" cy="252.4" r="7.0"/>
<circle class="k5" cx="261.7" cy="212.7" r="4.1"/>
<circle class="k7" cx="325.2" cy="254.6" r="3.6"/>
<circle class="k8" cx="455.5" cy="284.9" r="2.4"/>
<circle class="k5" cx="379.3" cy="245.3" r="3.6"/>
<circle class="k7" cx="305.5" cy="244.5" r="3.2"/>
<circle class="k4" cx="282.7" cy="256.2" r="4.1"/>
<circle class="k5" cx="382.2" cy="228.1" r="4.5"/>
<circle class="k6" cx="344.0" cy="244.7" r="6.7"/>
<circle class="k6" cx="326.0" cy="248.3" r="4.3"/>
<circle class="k2" cx="498.2" cy="287.8" r="6.9"/>
<circle class="k4" cx="300.5" cy="233.7" r="4.8"/>
<circle class="k8" cx="505.9" cy="266.5" r="4.8"/>
<circle class="k8" cx="232.5" cy="244.4" r="5.4"/>
<circle class="k6" cx="381.3" cy="285.6" r="2.8"/>
<circle class="k5" cx="241.4" cy="231.7" r="4.5"/>
<circle class="k4" cx="437.1" cy="277.6" r="5.2"/>
<circle class="k3" cx="276.6" cy="235.6" r="4.6"/>
<circle class="k6" cx="282.4" cy="268.3" r="4.0"/>
<circle class="k8" cx="219.6" cy="232.6" r="4.4"/>
<circle class="k4" cx="354.0" cy="265.9" r="2.7"/>
<circle class="k6" cx="275.1" cy="238.6" r="8.5"/>
<circle class="k8" cx="279.0" cy="235.8" r="7.0"/>
<circle class="k7" cx="344.7" cy="282.4" r="5.3"/>
<circle class="k8" cx="305.7" cy="263.5" r="4.5"/>
<circle class="k5" cx="369.5" cy="245.5" r="4.4"/>
<circle class="k6" cx="520.2" cy="282.2" r="2.6"/>
<circle class="k4" cx="298.8" cy="269.2" r="7.3"/>
<circle class="k8" cx="289.8" cy="243.6" r="6.0"/>
<circle class="k8" cx="306.4" cy="237.3" r="3.5"/>
<circle class="k5" cx="229.3" cy="245.8" r="5.9"/>
<circle class="k5" cx="463.9" cy="298.8" r="5.1"/>
<circle class="k4" cx="420.0" cy="251.9" r="3.1"/>
<circle class="k8" cx="414.5" cy="316.6" r="5.4"/>
<circle class="k5" cx="338.1" cy="265.9" r="4.6"/>
<circle class="k7" cx="482.0" cy="293.0" r="2.4"/>
<circle class="k5" cx="399.9" cy="276.2" r="7.9"/>
<circle class="k9" cx="459.3" cy="273.0" r="4.2"/>
<circle class="k6" cx="307.4" cy="245.4" r="4.2"/>
<circle class="k7" cx="474.0" cy="313.0" r="2.4"/>
<circle class="k6" cx="347.0" cy="272.1" r="2.7"/>
<circle class="k8" cx="460.1" cy="274.9" r="4.9"/>
<circle class="k5" cx="277.1" cy="274.3" r="2.5"/>
<circle class="k6" cx="441.9" cy="282.1" r="5.2"/>
<circle class="k8" cx="262.3" cy="270.7" r="2.4"/>
<circle class="k9" cx="352.9" cy="237.9" r="5.1"/>
<circle class="k8" cx="415.2" cy="290.3" r="4.9"/>
<circle class="k4" cx="265.0" cy="231.0" r="6.4"/>
<circle class="k4" cx="391.7" cy="276.7" r="3.7"/>
<circle class="k4" cx="318.8" cy="246.3" r="5.1"/>
<circle class="k6" cx="422.2" cy="313.5" r="3.9"/>
<circle class="k3" cx="327.9" cy="240.6" r="4.5"/>
<circle class="k7" cx="306.2" cy="247.8" r="4.1"/>
<circle class="k4" cx="346.0" cy="175.5" r="4.1"/>
<circle class="k8" cx="286.2" cy="253.2" r="2.4"/>
<circle class="k5" cx="289.3" cy="236.9" r="6.8"/>
<circle class="k7" cx="407.5" cy="158.4" r="2.4"/>
<circle class="k3" cx="329.6" cy="261.8" r="2.4"/>
<circle class="k4" cx="515.6" cy="308.8" r="3.0"/>
<circle class="k8" cx="214.6" cy="243.5" r="4.9"/>
<circle class="k5" cx="471.3" cy="263.0" r="3.3"/>
<circle class="k6" cx="212.0" cy="220.7" r="3.6"/>
<circle class="k9" cx="302.3" cy="336.0" r="4.0"/>
<circle class="k9" cx="444.9" cy="312.2" r="2.4"/>
<circle class="k4" cx="321.1" cy="272.5" r="5.9"/>
<circle class="k8" cx="330.4" cy="249.6" r="5.4"/>
<circle class="k5" cx="332.6" cy="212.4" r="5.3"/>
<circle class="k6" cx="223.5" cy="254.4" r="5.1"/>
<circle class="k8" cx="348.0" cy="247.0" r="10.0"/>
<circle class="k6" cx="373.4" cy="256.6" r="5.1"/>
<circle class="k3" cx="309.8" cy="282.3" r="3.8"/>
<circle class="k6" cx="459.2" cy="292.8" r="7.6"/>
<circle class="k8" cx="438.9" cy="292.9" r="3.8"/>
<circle class="k8" cx="289.0" cy="248.8" r="6.3"/>
<circle class="k8" cx="299.0" cy="258.1" r="3.1"/>
<circle class="k5" cx="305.9" cy="212.3" r="5.1"/>
<circle class="k4" cx="285.2" cy="276.2" r="2.6"/>
<circle class="k4" cx="282.1" cy="219.6" r="5.1"/>
<circle class="k6" cx="292.8" cy="270.4" r="3.5"/>
<circle class="k7" cx="372.6" cy="280.8" r="2.5"/>
<circle class="k4" cx="336.8" cy="259.3" r="3.1"/>
<circle class="k7" cx="305.0" cy="260.1" r="4.2"/>
<circle class="k7" cx="356.2" cy="247.5" r="3.7"/>
<circle class="k4" cx="436.3" cy="315.6" r="3.9"/>
<circle class="k8" cx="375.5" cy="254.7" r="4.3"/>
<circle class="k9" cx="440.1" cy="355.5" r="4.2"/>
<circle class="k6" cx="239.8" cy="226.5" r="5.1"/>
<circle class="k2" cx="331.6" cy="255.0" r="4.4"/>
<circle class="k5" cx="364.8" cy="204.0" r="2.9"/>
<circle class="k5" cx="348.5" cy="268.8" r="4.9"/>
<circle class="k6" cx="220.3" cy="148.7" r="4.7"/>
<circle class="k8" cx="292.8" cy="268.4" r="7.2"/>
<circle class="k9" cx="525.4" cy="319.0" r="4.2"/>
<circle class="k6" cx="368.9" cy="273.8" r="6.1"/>
<circle class="k9" cx="349.9" cy="268.4" r="3.9"/>
<circle class="k2" cx="323.0" cy="235.1" r="3.4"/>
<circle class="k6" cx="388.5" cy="243.2" r="5.0"/>
<circle class="k6" cx="232.8" cy="229.7" r="4.8"/>
<circle class="k4" cx="354.4" cy="180.9" r="2.8"/>
<circle class="k8" cx="336.1" cy="258.4" r="4.3"/>
<circle class="k4" cx="249.2" cy="234.2" r="5.0"/>
<circle class="k9" cx="348.8" cy="264.1" r="2.4"/>
<circle class="k2" cx="265.3" cy="226.8" r="2.9"/>
<circle class="k3" cx="513.8" cy="283.5" r="2.7"/>
<circle class="k6" cx="424.2" cy="328.5" r="2.7"/>
<circle class="k4" cx="489.9" cy="294.6" r="4.8"/>
<circle class="k6" cx="200.0" cy="232.0" r="11.0"/>
<circle class="k6" cx="294.2" cy="232.4" r="4.3"/>
<circle class="k3" cx="332.7" cy="270.2" r="3.9"/>
<circle class="k4" cx="469.7" cy="276.6" r="4.6"/>
<circle class="k8" cx="500.7" cy="294.5" r="2.9"/>
<circle class="k8" cx="364.0" cy="241.9" r="2.6"/>
<circle class="k7" cx="329.9" cy="248.6" r="4.7"/>
<circle class="k9" cx="263.0" cy="243.9" r="4.4"/>
<circle class="k4" cx="409.0" cy="224.3" r="6.2"/>
<circle class="k7" cx="320.4" cy="261.6" r="8.0"/>
<circle class="k4" cx="499.8" cy="331.2" r="5.0"/>
<circle class="k3" cx="507.0" cy="292.1" r="3.3"/>
<circle class="k6" cx="444.1" cy="290.8" r="3.2"/>
<circle class="k10" cx="348.2" cy="267.7" r="9.3"/>
<circle class="k5" cx="442.0" cy="540.0" r="10.0"/>
<circle class="k5" cx="316.8" cy="256.4" r="4.0"/>
<circle class="k5" cx="362.0" cy="246.5" r="4.9"/>
<circle class="k5" cx="277.0" cy="251.7" r="3.1"/>
<circle class="k9" cx="284.3" cy="255.8" r="3.0"/>
<circle class="k8" cx="251.7" cy="240.5" r="6.2"/>
<circle class="k7" cx="448.2" cy="275.5" r="4.4"/>
<circle class="k8" cx="327.9" cy="279.4" r="5.0"/>
<circle class="k4" cx="323.1" cy="287.7" r="6.6"/>
<circle class="k11" cx="272.5" cy="264.0" r="2.6"/>
<circle class="k8" cx="334.2" cy="270.4" r="5.6"/>
<circle class="k10" cx="349.8" cy="321.5" r="7.2"/>
<circle class="k2" cx="333.9" cy="258.8" r="2.9"/>
<circle class="k9" cx="324.8" cy="246.3" r="3.4"/>
<circle class="k8" cx="361.9" cy="289.5" r="4.2"/>
<circle class="k5" cx="332.9" cy="233.0" r="9.1"/>
<circle class="k6" cx="185.0" cy="363.8" r="6.1"/>
<circle class="k8" cx="243.6" cy="243.8" r="7.0"/>
<circle class="k8" cx="278.3" cy="244.2" r="2.5"/>
<circle class="k3" cx="331.1" cy="268.5" r="6.0"/>
<circle class="k6" cx="361.7" cy="264.9" r="4.6"/>
<circle class="k11" cx="448.8" cy="269.7" r="3.5"/>
<circle class="k4" cx="217.1" cy="216.9" r="4.9"/>
<circle class="k9" cx="321.9" cy="221.4" r="3.3"/>
<circle class="k8" cx="187.2" cy="155.7" r="2.4"/>
<circle class="k6" cx="395.4" cy="191.9" r="2.4"/>
<circle class="k5" cx="322.4" cy="267.1" r="6.1"/>
<circle class="k9" cx="404.8" cy="262.1" r="5.6"/>
<circle class="k12" cx="451.5" cy="269.4" r="2.4"/>
<circle class="k2" cx="429.8" cy="275.8" r="5.1"/>
<circle class="k7" cx="301.9" cy="223.4" r="3.4"/>
<circle class="k2" cx="511.4" cy="278.5" r="4.1"/>
<circle class="k6" cx="356.9" cy="275.2" r="4.3"/>
<circle class="k8" cx="391.5" cy="231.4" r="2.8"/>
<circle class="k7" cx="293.6" cy="251.2" r="6.5"/>
<circle class="k3" cx="438.9" cy="291.5" r="2.4"/>
<circle class="k2" cx="378.9" cy="279.1" r="3.1"/>
<circle class="k7" cx="322.1" cy="258.0" r="3.6"/>
<circle class="k8" cx="339.3" cy="250.6" r="6.1"/>
<circle class="k7" cx="325.2" cy="251.5" r="2.4"/>
<circle class="k4" cx="480.6" cy="286.0" r="5.0"/>
<circle class="k5" cx="308.4" cy="207.5" r="6.4"/>
<circle class="k9" cx="321.9" cy="270.1" r="4.8"/>
<circle class="k9" cx="388.4" cy="258.5" r="3.3"/>
<circle class="k5" cx="322.7" cy="250.6" r="6.3"/>
<circle class="k12" cx="437.9" cy="242.5" r="7.3"/>
<circle class="k7" cx="442.6" cy="256.2" r="3.6"/>
<circle class="k3" cx="341.9" cy="242.5" r="4.0"/>
<circle class="k9" cx="332.8" cy="223.3" r="4.0"/>
<circle class="k3" cx="223.8" cy="251.4" r="4.5"/>
<circle class="k4" cx="367.2" cy="347.8" r="3.8"/>
<circle class="k4" cx="489.2" cy="317.5" r="4.5"/>
<circle class="k8" cx="418.2" cy="251.6" r="2.6"/>
<circle class="k4" cx="443.5" cy="277.7" r="3.4"/>
<circle class="k7" cx="349.9" cy="232.9" r="6.4"/>
<circle class="k8" cx="374.8" cy="223.6" r="7.8"/>
<circle class="k9" cx="461.9" cy="299.7" r="4.1"/>
<circle class="k5" cx="329.8" cy="265.0" r="6.0"/>
<circle class="k5" cx="345.8" cy="281.4" r="3.1"/>
<circle class="k7" cx="381.2" cy="259.3" r="4.0"/>
<circle class="k4" cx="308.1" cy="259.9" r="3.9"/>
<circle class="k6" cx="364.3" cy="213.8" r="4.2"/>
<circle class="k8" cx="304.2" cy="258.9" r="3.0"/>
<circle class="k3" cx="212.2" cy="193.8" r="3.8"/>
<circle class="k5" cx="382.3" cy="288.7" r="3.0"/>
<circle class="k9" cx="412.8" cy="289.7" r="3.1"/>
<circle class="k9" cx="333.2" cy="258.2" r="4.0"/>
<circle class="k2" cx="254.9" cy="246.9" r="2.7"/>
<circle class="k5" cx="319.1" cy="268.4" r="4.3"/>
<circle class="k9" cx="233.3" cy="226.2" r="6.5"/>
<circle class="k11" cx="405.6" cy="285.9" r="3.7"/>
<circle class="k7" cx="274.7" cy="234.7" r="4.4"/>
<circle class="k3" cx="348.3" cy="278.0" r="3.6"/>
<circle class="k8" cx="287.6" cy="259.4" r="3.7"/>
<circle class="k8" cx="314.9" cy="225.4" r="4.4"/>
<circle class="k5" cx="393.3" cy="283.7" r="3.6"/>
<circle class="k8" cx="352.9" cy="245.8" r="2.4"/>
<circle class="k2" cx="326.5" cy="269.7" r="4.5"/>
<circle class="k9" cx="349.4" cy="260.6" r="4.9"/>
<circle class="k6" cx="292.7" cy="250.3" r="6.1"/>
<circle class="k4" cx="410.2" cy="272.3" r="2.7"/>
<circle class="k4" cx="313.7" cy="243.3" r="5.0"/>
<circle class="k5" cx="380.9" cy="196.4" r="5.1"/>
<circle class="k8" cx="396.0" cy="226.5" r="5.0"/>
<circle class="k5" cx="331.2" cy="277.7" r="3.7"/>
<circle class="k6" cx="344.7" cy="273.0" r="2.9"/>
<circle class="k5" cx="340.7" cy="250.7" r="4.4"/>
<circle class="k4" cx="373.1" cy="254.2" r="2.7"/>
<circle class="k12" cx="495.8" cy="292.2" r="2.4"/>
<circle class="k6" cx="503.6" cy="310.2" r="4.2"/>
<circle class="k3" cx="207.2" cy="242.5" r="3.9"/>
<circle class="k6" cx="257.8" cy="264.8" r="6.5"/>
<circle class="k14" cx="359.8" cy="253.0" r="2.9"/>
<circle class="k5" cx="347.7" cy="302.8" r="2.4"/>
<circle class="k6" cx="359.3" cy="256.0" r="2.5"/>
<circle class="k5" cx="345.3" cy="242.1" r="2.4"/>
<circle class="k4" cx="353.7" cy="237.6" r="3.7"/>
<circle class="k3" cx="374.8" cy="265.5" r="4.5"/>
<circle class="k4" cx="363.7" cy="272.7" r="4.1"/>
<circle class="k14" cx="523.7" cy="310.4" r="5.0"/>
<circle class="k10" cx="506.0" cy="307.3" r="4.8"/>
<circle class="k5" cx="378.3" cy="167.2" r="3.8"/>
<circle class="k4" cx="367.1" cy="361.1" r="4.8"/>
<circle class="k4" cx="193.2" cy="143.7" r="4.2"/>
<circle class="k4" cx="279.1" cy="246.2" r="3.2"/>
<circle class="k3" cx="347.1" cy="248.7" r="4.6"/>
<circle class="k9" cx="283.2" cy="246.4" r="5.9"/>
<circle class="k5" cx="446.7" cy="277.1" r="2.9"/>
<circle class="k8" cx="339.9" cy="309.5" r="5.2"/>
<circle class="k9" cx="328.2" cy="284.6" r="7.2"/>
<circle class="k9" cx="161.9" cy="406.0" r="5.2"/>
<circle class="k6" cx="457.1" cy="262.2" r="3.3"/>
<circle class="k4" cx="365.1" cy="252.4" r="6.0"/>
<circle class="k7" cx="372.8" cy="271.3" r="3.8"/>
<circle class="k9" cx="278.1" cy="242.2" r="4.7"/>
<circle class="k6" cx="363.5" cy="269.7" r="4.5"/>
<circle class="k6" cx="276.0" cy="252.7" r="2.4"/>
<circle class="k2" cx="252.9" cy="249.6" r="4.4"/>
<circle class="k5" cx="406.4" cy="254.4" r="3.6"/>
<circle class="k8" cx="294.7" cy="273.9" r="2.8"/>
<circle class="k5" cx="297.4" cy="264.0" r="3.4"/>
<circle class="k13" cx="209.5" cy="262.4" r="3.6"/>
<circle class="k5" cx="424.8" cy="266.1" r="5.1"/>
<circle class="k7" cx="362.4" cy="230.9" r="3.7"/>
<circle class="k13" cx="407.6" cy="267.0" r="4.8"/>
<circle class="k5" cx="383.8" cy="264.6" r="3.7"/>
<circle class="k10" cx="214.4" cy="255.1" r="4.4"/>
<circle class="k6" cx="487.7" cy="302.9" r="2.4"/>
<circle class="k12" cx="354.1" cy="273.9" r="3.2"/>
<circle class="k7" cx="382.9" cy="267.0" r="5.7"/>
<circle class="k7" cx="444.9" cy="252.7" r="2.5"/>
<circle class="k7" cx="261.6" cy="262.3" r="4.1"/>
<circle class="k7" cx="366.7" cy="288.2" r="4.8"/>
<circle class="k13" cx="379.1" cy="263.5" r="6.1"/>
<circle class="k13" cx="416.7" cy="304.6" r="6.1"/>
<circle class="k3" cx="329.1" cy="276.7" r="4.6"/>
<circle class="k5" cx="378.5" cy="279.0" r="3.5"/>
<circle class="k8" cx="337.9" cy="262.7" r="5.2"/>
<circle class="k2" cx="400.9" cy="285.1" r="8.4"/>
<circle class="k9" cx="345.8" cy="243.8" r="5.7"/>
<circle class="k6" cx="381.0" cy="257.0" r="5.3"/>
<circle class="k7" cx="376.0" cy="270.2" r="7.0"/>
<circle class="k5" cx="375.0" cy="248.4" r="3.2"/>
<circle class="k8" cx="310.6" cy="220.7" r="4.6"/>
<circle class="k11" cx="413.8" cy="275.6" r="4.3"/>
<circle class="k6" cx="448.0" cy="269.7" r="4.7"/>
<circle class="k6" cx="381.2" cy="295.6" r="6.1"/>
<circle class="k4" cx="462.5" cy="277.2" r="4.8"/>
<circle class="k9" cx="326.4" cy="229.1" r="4.2"/>
<circle class="k4" cx="241.1" cy="228.8" r="8.1"/>
<circle class="k12" cx="450.4" cy="288.3" r="5.3"/>
<circle class="k12" cx="233.3" cy="263.9" r="5.2"/>
<circle class="k4" cx="457.8" cy="259.3" r="2.4"/>
<circle class="k5" cx="368.9" cy="279.6" r="3.3"/>
<circle class="k5" cx="417.3" cy="274.7" r="4.5"/>
<circle class="k8" cx="266.2" cy="327.6" r="4.9"/>
<circle class="k14" cx="253.0" cy="235.5" r="4.7"/>
<circle class="k15" cx="425.4" cy="272.4" r="6.1"/>
<circle class="k4" cx="408.0" cy="208.7" r="3.5"/>
<circle class="k6" cx="349.9" cy="281.0" r="3.6"/>
<circle class="k8" cx="341.2" cy="237.2" r="4.1"/>
<circle class="k6" cx="400.4" cy="221.3" r="3.3"/>
<circle class="k5" cx="343.4" cy="251.6" r="3.8"/>
<circle class="k8" cx="278.5" cy="258.5" r="4.4"/>
<circle class="k2" cx="323.4" cy="239.9" r="4.9"/>
<circle class="k6" cx="361.5" cy="218.0" r="3.8"/>
<circle class="k9" cx="293.9" cy="268.9" r="4.2"/>
<circle class="k5" cx="419.1" cy="313.4" r="6.6"/>
<circle class="k6" cx="256.2" cy="258.9" r="4.7"/>
<circle class="k15" cx="210.3" cy="185.3" r="6.0"/>
<circle class="k15" cx="348.8" cy="227.5" r="2.8"/>
<circle class="k9" cx="316.4" cy="231.8" r="4.6"/>
<circle class="k5" cx="388.6" cy="225.7" r="3.6"/>
<circle class="k2" cx="325.3" cy="215.2" r="5.1"/>
<circle class="k13" cx="493.1" cy="273.2" r="3.2"/>
<circle class="k14" cx="462.5" cy="308.8" r="3.9"/>
<circle class="k2" cx="384.3" cy="252.0" r="4.2"/>
<circle class="k9" cx="270.1" cy="242.7" r="7.8"/>
<circle class="k6" cx="369.5" cy="218.4" r="2.9"/>
<circle class="k7" cx="454.2" cy="270.7" r="3.5"/>
<circle class="k9" cx="273.2" cy="235.7" r="3.3"/>
<circle class="k8" cx="312.4" cy="277.7" r="6.2"/>
<circle class="k9" cx="259.1" cy="236.0" r="4.8"/>
<circle class="k3" cx="302.1" cy="254.3" r="3.0"/>
<circle class="k5" cx="215.4" cy="260.2" r="4.8"/>
<circle class="k9" cx="338.2" cy="259.6" r="4.2"/>
<circle class="k5" cx="298.2" cy="251.0" r="5.7"/>
<circle class="k13" cx="240.8" cy="178.3" r="2.8"/>
<circle class="k9" cx="304.4" cy="254.6" r="4.5"/>
<circle class="k9" cx="386.8" cy="274.5" r="6.6"/>
<circle class="k8" cx="345.5" cy="223.0" r="2.8"/>
<circle class="k11" cx="446.7" cy="311.6" r="2.9"/>
<circle class="k15" cx="200.0" cy="230.2" r="4.9"/>
<circle class="k8" cx="438.2" cy="328.4" r="3.8"/>
<circle class="k9" cx="362.3" cy="245.3" r="3.7"/>
<circle class="k11" cx="473.1" cy="266.9" r="2.7"/>
<circle class="k6" cx="286.2" cy="242.4" r="2.9"/>
<circle class="k7" cx="437.9" cy="256.4" r="4.2"/>
<circle class="k11" cx="339.3" cy="280.6" r="2.7"/>
<circle class="k11" cx="483.9" cy="288.5" r="10.3"/>
<circle class="k4" cx="362.9" cy="202.1" r="4.8"/>
<circle class="k15" cx="368.3" cy="222.9" r="4.3"/>
<circle class="k8" cx="338.6" cy="272.9" r="3.4"/>
<circle class="k8" cx="311.3" cy="273.0" r="5.7"/>
<circle class="k4" cx="400.0" cy="291.1" r="3.5"/>
<circle class="k5" cx="297.8" cy="262.8" r="7.2"/>
<circle class="k6" cx="244.8" cy="242.1" r="2.4"/>
<circle class="k12" cx="472.7" cy="268.3" r="5.9"/>
<circle class="k3" cx="351.2" cy="232.9" r="6.6"/>
<circle class="k7" cx="336.8" cy="260.9" r="8.4"/>
<circle class="k8" cx="412.5" cy="279.6" r="3.5"/>
<circle class="k16" cx="411.5" cy="305.0" r="4.1"/>
<circle class="k7" cx="312.3" cy="241.5" r="3.5"/>
<circle class="k7" cx="271.0" cy="345.5" r="3.7"/>
<circle class="k5" cx="408.8" cy="248.6" r="4.8"/>
<circle class="k3" cx="302.5" cy="261.4" r="2.9"/>
<circle class="k5" cx="376.2" cy="238.0" r="5.6"/>
<circle class="k10" cx="280.5" cy="249.0" r="6.0"/>
<circle class="k9" cx="265.6" cy="243.9" r="5.2"/>
<circle class="k7" cx="371.3" cy="267.2" r="2.4"/>
<circle class="k5" cx="353.4" cy="260.2" r="3.4"/>
<circle class="k6" cx="411.2" cy="248.4" r="5.9"/>
<circle class="k7" cx="181.7" cy="341.7" r="3.6"/>
<circle class="k9" cx="346.7" cy="215.8" r="5.7"/>
<circle class="k13" cx="262.5" cy="234.3" r="3.0"/>
<circle class="k7" cx="255.7" cy="266.4" r="5.2"/>
<circle class="k6" cx="440.7" cy="279.1" r="3.3"/>
<circle class="k5" cx="496.0" cy="295.4" r="3.1"/>
<circle class="k5" cx="246.2" cy="283.5" r="3.0"/>
<circle class="k15" cx="349.1" cy="305.3" r="4.7"/>
<circle class="k4" cx="288.7" cy="260.3" r="6.0"/>
<circle class="k9" cx="423.8" cy="271.8" r="4.4"/>
<circle class="k11" cx="145.4" cy="276.8" r="2.4"/>
<circle class="k13" cx="292.5" cy="228.2" r="3.8"/>
<circle class="k2" cx="424.1" cy="272.4" r="4.4"/>
<circle class="k4" cx="428.1" cy="267.4" r="5.2"/>
<circle class="k4" cx="206.8" cy="222.2" r="5.3"/>
<circle class="k3" cx="331.1" cy="269.0" r="4.4"/>
<circle class="k5" cx="311.6" cy="229.9" r="3.1"/>
<circle class="k13" cx="478.0" cy="281.7" r="2.5"/>
<circle class="k15" cx="402.9" cy="235.0" r="2.9"/>
<circle class="k4" cx="379.7" cy="239.2" r="5.0"/>
<circle class="k4" cx="361.6" cy="283.5" r="4.8"/>
<circle class="k15" cx="352.2" cy="259.7" r="3.7"/>
<circle class="k3" cx="229.7" cy="260.8" r="4.3"/>
<circle class="k9" cx="376.8" cy="221.9" r="7.6"/>
<circle class="k4" cx="240.4" cy="232.9" r="3.9"/>
<circle class="k8" cx="464.3" cy="337.7" r="4.6"/>
<circle class="k11" cx="222.2" cy="382.2" r="2.4"/>
<circle class="k14" cx="274.9" cy="255.9" r="4.0"/>
<circle class="k5" cx="271.8" cy="249.0" r="5.6"/>
<circle class="k12" cx="222.6" cy="242.7" r="3.3"/>
<circle class="k7" cx="342.6" cy="244.8" r="3.6"/>
<circle class="k15" cx="363.0" cy="271.3" r="3.6"/>
<circle class="k4" cx="417.9" cy="254.1" r="5.5"/>
<circle class="k5" cx="459.1" cy="275.5" r="4.4"/>
<circle class="k3" cx="439.3" cy="301.1" r="3.0"/>
<circle class="k9" cx="380.5" cy="249.7" r="10.4"/>
<circle class="k17" cx="466.9" cy="324.4" r="4.1"/>
<circle class="k7" cx="339.6" cy="245.3" r="6.5"/>
<circle class="k2" cx="278.7" cy="236.8" r="5.8"/>
<circle class="k14" cx="315.6" cy="235.9" r="6.4"/>
<circle class="k8" cx="497.5" cy="299.7" r="3.6"/>
<circle class="k15" cx="403.8" cy="259.1" r="5.1"/>
<circle class="k8" cx="316.7" cy="347.5" r="2.7"/>
<circle class="k11" cx="445.2" cy="330.4" r="7.1"/>
<circle class="k9" cx="320.4" cy="271.0" r="4.7"/>
<circle class="k4" cx="304.5" cy="238.6" r="6.1"/>
<circle class="k7" cx="329.8" cy="153.2" r="3.1"/>
<circle class="k7" cx="354.3" cy="162.8" r="2.9"/>
<circle class="k3" cx="416.5" cy="281.9" r="6.2"/>
<circle class="k7" cx="410.9" cy="238.5" r="2.5"/>
<circle class="k16" cx="305.8" cy="198.6" r="3.0"/>
<circle class="k4" cx="424.5" cy="252.7" r="4.6"/>
<circle class="k7" cx="321.2" cy="278.5" r="5.1"/>
<circle class="k5" cx="286.5" cy="240.3" r="6.1"/>
<circle class="k9" cx="323.2" cy="249.4" r="2.8"/>
<circle class="k3" cx="259.4" cy="237.0" r="3.1"/>
<circle class="k18" cx="462.0" cy="314.6" r="3.7"/>
<circle class="k10" cx="378.9" cy="276.4" r="7.4"/>
<circle class="k8" cx="288.2" cy="256.8" r="4.7"/>
<circle class="k8" cx="444.6" cy="283.0" r="4.0"/>
<circle class="k6" cx="449.8" cy="404.4" r="3.1"/>
<circle class="k13" cx="406.3" cy="275.0" r="5.9"/>
<circle class="k8" cx="354.3" cy="257.6" r="5.1"/>
<circle class="k8" cx="289.8" cy="244.6" r="4.5"/>
<circle class="k8" cx="348.1" cy="264.0" r="3.8"/>
<circle class="k2" cx="419.4" cy="240.8" r="4.8"/>
<circle class="k2" cx="326.5" cy="228.9" r="3.9"/>
<circle class="k2" cx="424.8" cy="258.9" r="3.7"/>
<circle class="k5" cx="334.6" cy="263.7" r="3.3"/>
<circle class="k5" cx="395.8" cy="205.9" r="2.6"/>
<circle class="k14" cx="354.4" cy="294.4" r="8.5"/>
<circle class="k2" cx="457.2" cy="302.8" r="3.8"/>
<circle class="k8" cx="449.3" cy="301.7" r="3.2"/>
<circle class="k11" cx="378.4" cy="276.3" r="3.9"/>
<circle class="k6" cx="214.0" cy="269.8" r="3.1"/>
<circle class="k6" cx="331.5" cy="264.4" r="8.2"/>
<circle class="k9" cx="482.3" cy="255.0" r="8.3"/>
<circle class="k15" cx="447.1" cy="270.8" r="3.8"/>
<circle class="k15" cx="310.1" cy="291.8" r="2.9"/>
<circle class="k4" cx="305.8" cy="265.6" r="2.8"/>
<circle class="k6" cx="322.4" cy="259.8" r="5.2"/>
<circle class="k4" cx="226.3" cy="112.3" r="2.7"/>
<circle class="k12" cx="330.3" cy="234.5" r="5.1"/>
<circle class="k14" cx="362.6" cy="266.0" r="6.2"/>
<circle class="k7" cx="414.0" cy="272.5" r="3.2"/>
<circle class="k9" cx="171.3" cy="191.3" r="3.7"/>
<circle class="k6" cx="417.7" cy="263.0" r="4.4"/>
<circle class="k17" cx="419.8" cy="278.3" r="2.4"/>
<circle class="k7" cx="373.6" cy="245.1" r="3.6"/>
<circle class="k6" cx="437.4" cy="278.5" r="4.1"/>
<circle class="k4" cx="477.5" cy="263.8" r="3.8"/>
<circle class="k8" cx="358.5" cy="267.2" r="3.5"/>
<circle class="k15" cx="378.6" cy="190.7" r="3.5"/>
<circle class="k6" cx="381.5" cy="271.9" r="5.5"/>
<circle class="k15" cx="406.0" cy="255.5" r="5.0"/>
<circle class="k7" cx="308.8" cy="260.4" r="4.5"/>
<circle class="k4" cx="435.9" cy="267.1" r="3.2"/>
<circle class="k5" cx="243.2" cy="261.5" r="7.1"/>
<circle class="k7" cx="374.9" cy="271.2" r="5.9"/>
<circle class="k6" cx="249.0" cy="266.1" r="4.8"/>
<circle class="k6" cx="348.7" cy="248.3" r="5.7"/>
<circle class="k6" cx="408.3" cy="299.1" r="4.1"/>
<circle class="k7" cx="371.6" cy="277.9" r="2.4"/>
<circle class="k7" cx="294.7" cy="268.5" r="5.1"/>
<circle class="k7" cx="365.5" cy="255.0" r="3.1"/>
<circle class="k13" cx="442.8" cy="295.8" r="8.0"/>
<circle class="k2" cx="390.1" cy="259.2" r="5.6"/>
<circle class="k8" cx="402.3" cy="256.2" r="5.5"/>
<circle class="k9" cx="269.8" cy="227.6" r="3.7"/>
<circle class="k7" cx="260.0" cy="195.3" r="2.4"/>
<circle class="k6" cx="351.5" cy="271.6" r="8.1"/>
<circle class="k8" cx="172.3" cy="274.0" r="4.2"/>
<circle class="k12" cx="323.5" cy="152.3" r="3.8"/>
<circle class="k4" cx="247.8" cy="249.5" r="5.9"/>
<circle class="k14" cx="466.0" cy="314.7" r="3.1"/>
<circle class="k9" cx="426.1" cy="251.3" r="2.8"/>
<circle class="k17" cx="417.6" cy="257.1" r="4.0"/>
<circle class="k9" cx="447.2" cy="273.0" r="3.9"/>
<circle class="k4" cx="317.6" cy="155.8" r="5.3"/>
<circle class="k10" cx="327.3" cy="281.0" r="5.1"/>
<circle class="k7" cx="190.5" cy="152.1" r="2.8"/>
<circle class="k17" cx="448.8" cy="261.5" r="6.1"/>
<circle class="k8" cx="368.9" cy="263.3" r="6.2"/>
<circle class="k7" cx="318.0" cy="235.0" r="3.3"/>
<circle class="k3" cx="439.0" cy="255.9" r="2.7"/>
<circle class="k6" cx="296.3" cy="257.1" r="5.3"/>
<circle class="k10" cx="203.6" cy="235.7" r="2.7"/>
<circle class="k6" cx="522.2" cy="294.6" r="4.1"/>
<circle class="k8" cx="365.1" cy="268.6" r="5.5"/>
<circle class="k7" cx="255.8" cy="221.2" r="7.2"/>
<circle class="k17" cx="384.1" cy="242.9" r="3.7"/>
<circle class="k4" cx="297.2" cy="251.1" r="4.0"/>
<circle class="k4" cx="379.5" cy="242.7" r="5.7"/>
<circle class="k6" cx="438.1" cy="290.5" r="4.2"/>
<circle class="k7" cx="265.6" cy="240.3" r="9.0"/>
<circle class="k5" cx="246.5" cy="262.1" r="4.1"/>
<circle class="k7" cx="258.3" cy="237.3" r="5.3"/>
<circle class="k16" cx="435.3" cy="291.5" r="3.2"/>
<circle class="k7" cx="442.2" cy="276.4" r="4.1"/>
<circle class="k4" cx="461.0" cy="285.1" r="2.5"/>
<circle class="k4" cx="348.0" cy="270.0" r="4.5"/>
<circle class="k12" cx="513.4" cy="265.4" r="12.3"/>
<circle class="k12" cx="231.6" cy="201.0" r="2.4"/>
<circle class="k15" cx="442.7" cy="302.5" r="4.8"/>
<circle class="k9" cx="450.2" cy="258.6" r="4.6"/>
<circle class="k6" cx="294.3" cy="266.4" r="4.4"/>
<circle class="k12" cx="288.7" cy="186.5" r="2.9"/>
<circle class="k4" cx="296.6" cy="226.1" r="5.5"/>
<circle class="k14" cx="375.0" cy="271.9" r="5.2"/>
<circle class="k2" cx="418.0" cy="285.1" r="5.1"/>
<circle class="k11" cx="372.5" cy="267.2" r="3.2"/>
<circle class="k4" cx="345.4" cy="283.4" r="6.4"/>
<circle class="k9" cx="388.0" cy="267.1" r="5.3"/>
<circle class="k7" cx="379.1" cy="264.0" r="8.1"/>
<circle class="k5" cx="295.1" cy="251.4" r="3.7"/>
<circle class="k2" cx="325.4" cy="271.6" r="5.0"/>
<circle class="k2" cx="466.1" cy="276.9" r="3.1"/>
<circle class="k9" cx="331.1" cy="208.0" r="2.7"/>
<circle class="k4" cx="423.5" cy="285.0" r="4.8"/>
<circle class="k5" cx="324.7" cy="292.3" r="3.7"/>
<circle class="k9" cx="300.9" cy="230.5" r="3.1"/>
<circle class="k5" cx="366.4" cy="264.6" r="6.3"/>
<circle class="k10" cx="340.9" cy="247.6" r="4.5"/>
<circle class="k8" cx="423.8" cy="346.0" r="7.0"/>
<circle class="k4" cx="383.5" cy="253.4" r="8.1"/>
<circle class="k8" cx="300.4" cy="221.4" r="4.7"/>
<circle class="k7" cx="330.4" cy="193.7" r="4.4"/>
<circle class="k3" cx="343.1" cy="253.3" r="6.6"/>
<circle class="k10" cx="271.1" cy="251.2" r="6.3"/>
<circle class="k8" cx="454.2" cy="282.0" r="4.2"/>
<circle class="k17" cx="447.3" cy="269.9" r="4.9"/>
<circle class="k6" cx="307.1" cy="254.3" r="3.8"/>
<circle class="k7" cx="337.1" cy="292.8" r="4.0"/>
<circle class="k6" cx="471.3" cy="294.9" r="2.9"/>
<circle class="k4" cx="445.6" cy="289.8" r="4.5"/>
<circle class="k12" cx="441.0" cy="291.9" r="3.8"/>
<circle class="k8" cx="373.5" cy="279.2" r="4.9"/>
<circle class="k4" cx="384.0" cy="240.2" r="5.4"/>
<circle class="k9" cx="457.3" cy="288.7" r="3.2"/>
<circle class="k8" cx="318.7" cy="239.5" r="3.5"/>
<circle class="k7" cx="315.5" cy="247.3" r="5.7"/>
<circle class="k7" cx="357.1" cy="263.5" r="2.9"/>
<circle class="k7" cx="323.2" cy="255.0" r="8.3"/>
<circle class="k4" cx="392.9" cy="269.6" r="4.8"/>
<circle class="k7" cx="426.1" cy="261.7" r="6.9"/>
<circle class="k5" cx="354.6" cy="275.3" r="4.5"/>
<circle class="k14" cx="293.6" cy="255.8" r="6.6"/>
<circle class="k16" cx="381.8" cy="197.3" r="3.2"/>
<circle class="k18" cx="402.7" cy="298.2" r="6.5"/>
<circle class="k10" cx="330.6" cy="241.6" r="4.2"/>
<circle class="k8" cx="292.5" cy="254.5" r="3.6"/>
<circle class="k10" cx="329.9" cy="262.7" r="3.2"/>
<circle class="k9" cx="339.2" cy="255.7" r="3.7"/>
<circle class="k16" cx="408.3" cy="275.3" r="4.5"/>
<circle class="k15" cx="391.6" cy="249.1" r="3.5"/>
<circle class="k11" cx="414.3" cy="283.1" r="4.0"/>
<circle class="k5" cx="326.5" cy="253.5" r="5.6"/>
<circle class="k8" cx="373.3" cy="211.8" r="7.2"/>
<circle class="k4" cx="433.4" cy="304.6" r="3.4"/>
<circle class="k6" cx="256.6" cy="233.1" r="2.4"/>
<circle class="k4" cx="270.1" cy="236.0" r="3.9"/>
<circle class="k9" cx="293.2" cy="253.7" r="9.4"/>
<circle class="k5" cx="282.8" cy="221.4" r="4.3"/>
<circle class="k9" cx="383.7" cy="237.6" r="3.1"/>
<circle class="k11" cx="322.6" cy="267.3" r="5.8"/>
<circle class="k2" cx="356.4" cy="265.5" r="3.2"/>
<circle class="k6" cx="196.0" cy="349.3" r="2.9"/>
<circle class="k6" cx="364.9" cy="259.8" r="4.2"/>
<circle class="k7" cx="462.3" cy="286.7" r="2.8"/>
<circle class="k14" cx="216.1" cy="287.6" r="2.5"/>
<circle class="k6" cx="446.4" cy="290.4" r="3.4"/>
<circle class="k5" cx="305.2" cy="252.6" r="5.3"/>
<circle class="k8" cx="368.5" cy="241.6" r="3.0"/>
<circle class="k4" cx="370.1" cy="176.8" r="2.9"/>
<circle class="k18" cx="461.6" cy="324.1" r="3.4"/>
<circle class="k5" cx="306.0" cy="241.3" r="4.8"/>
<circle class="k9" cx="203.8" cy="242.3" r="5.0"/>
<circle class="k6" cx="318.4" cy="252.9" r="6.1"/>
<circle class="k14" cx="407.1" cy="209.2" r="3.5"/>
<circle class="k7" cx="309.4" cy="260.8" r="4.5"/>
<circle class="k6" cx="314.2" cy="276.9" r="6.0"/>
<circle class="k4" cx="429.4" cy="284.6" r="4.8"/>
<circle class="k4" cx="412.5" cy="297.1" r="3.1"/>
<circle class="k4" cx="266.9" cy="243.7" r="3.5"/>
<circle class="k9" cx="348.4" cy="274.9" r="2.4"/>
<circle class="k3" cx="372.1" cy="288.7" r="3.5"/>
<circle class="k8" cx="351.1" cy="237.5" r="3.6"/>
<circle class="k2" cx="274.0" cy="252.6" r="5.6"/>
<circle class="k7" cx="354.6" cy="263.7" r="6.0"/>
<circle class="k6" cx="248.6" cy="245.5" r="4.1"/>
<circle class="k5" cx="296.0" cy="242.1" r="3.9"/>
<circle class="k13" cx="378.4" cy="294.9" r="3.5"/>
<circle class="k5" cx="505.0" cy="389.4" r="3.2"/>
<circle class="k7" cx="524.4" cy="383.8" r="4.6"/>
<circle class="k4" cx="391.7" cy="274.6" r="5.9"/>
<circle class="k9" cx="346.2" cy="273.0" r="4.2"/>
<circle class="k3" cx="335.9" cy="258.9" r="4.5"/>
<circle class="k7" cx="424.4" cy="271.9" r="3.4"/>
<circle class="k3" cx="260.0" cy="206.1" r="4.6"/>
<circle class="k5" cx="257.9" cy="249.6" r="7.4"/>
<circle class="k7" cx="246.9" cy="255.4" r="7.0"/>
<circle class="k11" cx="323.4" cy="260.5" r="3.2"/>
<circle class="k12" cx="204.6" cy="239.8" r="5.3"/>
<circle class="k10" cx="353.1" cy="318.3" r="5.3"/>
<circle class="k2" cx="433.3" cy="279.0" r="5.1"/>
<circle class="k10" cx="406.4" cy="245.5" r="6.0"/>
<circle class="k6" cx="411.1" cy="287.1" r="4.2"/>
<circle class="k7" cx="323.1" cy="294.3" r="5.0"/>
<circle class="k14" cx="499.4" cy="331.6" r="3.0"/>
<circle class="k6" cx="361.4" cy="259.7" r="6.7"/>
<circle class="k4" cx="346.3" cy="245.4" r="4.3"/>
<circle class="k4" cx="251.1" cy="259.5" r="5.7"/>
<circle class="k4" cx="221.2" cy="224.5" r="3.4"/>
<circle class="k5" cx="373.2" cy="241.1" r="6.7"/>
<circle class="k2" cx="386.5" cy="268.9" r="5.0"/>
<circle class="k7" cx="396.9" cy="254.8" r="4.8"/>
<circle class="k4" cx="405.1" cy="263.2" r="3.1"/>
<circle class="k6" cx="430.3" cy="287.6" r="4.0"/>
<circle class="k11" cx="411.4" cy="302.3" r="2.4"/>
<circle class="k8" cx="333.4" cy="227.1" r="2.7"/>
<circle class="k8" cx="226.1" cy="127.2" r="6.3"/>
<circle class="k8" cx="376.2" cy="236.5" r="4.8"/>
<circle class="k8" cx="431.2" cy="280.8" r="3.2"/>
<circle class="k9" cx="365.5" cy="254.9" r="5.8"/>
<circle class="k9" cx="433.3" cy="308.4" r="3.0"/>
<circle class="k10" cx="480.6" cy="287.4" r="4.1"/>
<circle class="k4" cx="294.2" cy="252.8" r="5.2"/>
<circle class="k5" cx="253.2" cy="151.9" r="3.3"/>
<circle class="k13" cx="314.5" cy="265.7" r="2.8"/>
<circle class="k6" cx="578.9" cy="302.3" r="6.6"/>
<circle class="k13" cx="410.7" cy="264.0" r="5.2"/>
<circle class="k6" cx="367.0" cy="269.2" r="3.0"/>
<circle class="k3" cx="265.3" cy="231.3" r="3.4"/>
<circle class="k8" cx="375.8" cy="233.0" r="6.5"/>
<circle class="k6" cx="522.9" cy="314.9" r="4.1"/>
<circle class="k2" cx="334.6" cy="290.2" r="6.7"/>
<circle class="k18" cx="487.8" cy="329.0" r="3.0"/>
<circle class="k8" cx="335.6" cy="262.1" r="3.6"/>
<circle class="k9" cx="369.8" cy="263.7" r="3.9"/>
<circle class="k10" cx="368.3" cy="266.6" r="4.0"/>
<circle class="k12" cx="425.5" cy="328.3" r="5.1"/>
<circle class="k7" cx="378.7" cy="270.6" r="6.0"/>
<circle class="k5" cx="288.7" cy="249.8" r="4.0"/>
<circle class="k8" cx="237.3" cy="261.2" r="2.7"/>
<circle class="k8" cx="277.5" cy="241.9" r="4.7"/>
<circle class="k5" cx="450.7" cy="288.7" r="2.9"/>
<circle class="k8" cx="402.9" cy="262.7" r="2.4"/>
<circle class="k6" cx="257.1" cy="226.1" r="5.6"/>
<circle class="k7" cx="307.5" cy="288.3" r="7.0"/>
<circle class="k11" cx="469.2" cy="296.2" r="2.9"/>
<circle class="k8" cx="247.8" cy="253.9" r="3.9"/>
<circle class="k4" cx="361.1" cy="254.8" r="4.3"/>
<circle class="k2" cx="456.9" cy="301.5" r="2.5"/>
<circle class="k13" cx="452.3" cy="281.4" r="3.8"/>
<circle class="k15" cx="355.3" cy="228.6" r="6.0"/>
<circle class="k3" cx="520.4" cy="329.2" r="3.4"/>
<circle class="k8" cx="262.7" cy="221.2" r="5.2"/>
<circle class="k6" cx="299.0" cy="264.0" r="6.6"/>
<circle class="k8" cx="213.1" cy="240.8" r="4.9"/>
<circle class="k12" cx="430.5" cy="279.4" r="5.4"/>
<circle class="k6" cx="424.0" cy="293.1" r="3.6"/>
<circle class="k10" cx="208.6" cy="191.2" r="3.3"/>
<circle class="k9" cx="272.6" cy="277.5" r="4.4"/>
<circle class="k5" cx="450.7" cy="265.9" r="3.8"/>
<circle class="k3" cx="375.5" cy="249.0" r="4.0"/>
<circle class="k17" cx="483.7" cy="301.3" r="5.9"/>
<circle class="k4" cx="309.0" cy="255.2" r="3.2"/>
<circle class="k9" cx="397.4" cy="275.4" r="5.2"/>
<circle class="k6" cx="347.5" cy="252.3" r="4.6"/>
<circle class="k8" cx="299.9" cy="251.6" r="4.5"/>
<circle class="k2" cx="238.9" cy="256.5" r="5.2"/>
<circle class="k5" cx="284.4" cy="262.1" r="4.0"/>
<circle class="k6" cx="340.8" cy="257.9" r="4.0"/>
<circle class="k7" cx="363.9" cy="268.3" r="4.9"/>
<circle class="k10" cx="413.5" cy="281.9" r="4.1"/>
<circle class="k20" cx="371.0" cy="253.5" r="3.3"/>
<circle class="k3" cx="191.0" cy="204.3" r="2.8"/>
<circle class="k9" cx="387.4" cy="277.9" r="4.4"/>
<circle class="k4" cx="319.4" cy="397.5" r="4.2"/>
<circle class="k9" cx="404.7" cy="290.3" r="6.5"/>
<circle class="k6" cx="216.2" cy="209.6" r="4.8"/>
<circle class="k3" cx="443.5" cy="287.4" r="6.2"/>
<circle class="k5" cx="437.6" cy="281.7" r="4.5"/>
<circle class="k6" cx="309.1" cy="258.2" r="3.0"/>
<circle class="k9" cx="390.1" cy="250.5" r="2.4"/>
<circle class="k6" cx="496.4" cy="283.0" r="6.2"/>
<circle class="k3" cx="423.6" cy="287.1" r="3.2"/>
<circle class="k8" cx="299.4" cy="270.0" r="3.8"/>
<circle class="k4" cx="258.1" cy="224.6" r="3.3"/>
<circle class="k17" cx="486.4" cy="309.5" r="3.9"/>
<circle class="k5" cx="481.9" cy="304.4" r="3.8"/>
<circle class="k2" cx="290.3" cy="237.8" r="2.9"/>
<circle class="k8" cx="425.7" cy="283.9" r="3.1"/>
<circle class="k9" cx="341.1" cy="186.0" r="2.6"/>
<circle class="k11" cx="423.0" cy="256.6" r="5.0"/>
<circle class="k9" cx="142.8" cy="162.8" r="4.4"/>
<circle class="k14" cx="374.9" cy="289.9" r="5.1"/>
<circle class="k3" cx="345.8" cy="265.0" r="4.7"/>
<circle class="k5" cx="477.2" cy="306.5" r="5.9"/>
<circle class="k16" cx="336.8" cy="235.3" r="4.6"/>
<circle class="k3" cx="323.7" cy="237.5" r="3.3"/>
<circle class="k11" cx="356.7" cy="249.5" r="3.2"/>
<circle class="k5" cx="339.9" cy="229.0" r="4.7"/>
<circle class="k4" cx="297.9" cy="256.7" r="9.3"/>
<circle class="k9" cx="447.8" cy="248.0" r="3.1"/>
<circle class="k9" cx="373.9" cy="257.3" r="5.2"/>
<circle class="k3" cx="320.4" cy="165.0" r="2.8"/>
<circle class="k7" cx="352.7" cy="252.2" r="5.2"/>
<circle class="k9" cx="474.2" cy="306.9" r="5.4"/>
<circle class="k8" cx="368.9" cy="273.6" r="3.3"/>
<circle class="k2" cx="350.6" cy="268.6" r="4.7"/>
<circle class="k13" cx="449.0" cy="303.1" r="4.5"/>
<circle class="k6" cx="373.4" cy="284.6" r="3.1"/>
<circle class="k8" cx="320.2" cy="253.7" r="3.2"/>
<circle class="k8" cx="534.7" cy="305.6" r="2.4"/>
<circle class="k16" cx="181.4" cy="161.2" r="2.4"/>
<circle class="k15" cx="228.3" cy="232.9" r="12.3"/>
<circle class="k16" cx="475.1" cy="330.6" r="2.7"/>
<circle class="k4" cx="354.8" cy="250.5" r="3.7"/>
<circle class="k7" cx="205.5" cy="297.7" r="3.8"/>
<circle class="k14" cx="395.4" cy="212.2" r="4.5"/>
<circle class="k4" cx="223.0" cy="250.4" r="4.5"/>
<circle class="k15" cx="456.1" cy="281.5" r="3.7"/>
<circle class="k2" cx="384.9" cy="272.3" r="6.0"/>
<circle class="k11" cx="227.9" cy="234.9" r="4.8"/>
<circle class="k7" cx="312.3" cy="246.7" r="3.5"/>
<circle class="k6" cx="473.9" cy="278.4" r="5.6"/>
<circle class="k4" cx="319.4" cy="259.1" r="5.7"/>
<circle class="k3" cx="398.3" cy="278.4" r="5.3"/>
<circle class="k8" cx="289.4" cy="256.0" r="4.0"/>
<circle class="k2" cx="346.1" cy="241.4" r="5.2"/>
<circle class="k7" cx="431.7" cy="269.2" r="6.4"/>
<circle class="k9" cx="283.1" cy="212.0" r="6.0"/>
<circle class="k4" cx="526.3" cy="350.1" r="3.4"/>
<circle class="k16" cx="523.3" cy="302.0" r="4.6"/>
<circle class="k7" cx="392.8" cy="267.6" r="5.7"/>
<circle class="k6" cx="403.5" cy="269.6" r="4.2"/>
<circle class="k7" cx="367.5" cy="281.7" r="3.3"/>
<circle class="k9" cx="270.7" cy="248.4" r="5.0"/>
<circle class="k4" cx="529.5" cy="323.1" r="3.6"/>
<circle class="k5" cx="361.5" cy="271.6" r="3.5"/>
<circle class="k9" cx="283.9" cy="253.6" r="6.5"/>
<circle class="k22" cx="381.4" cy="201.6" r="5.0"/>
<circle class="k2" cx="307.0" cy="244.3" r="6.0"/>
<circle class="k5" cx="307.9" cy="223.1" r="3.2"/>
<circle class="k4" cx="466.9" cy="297.4" r="4.5"/>
<circle class="k9" cx="305.4" cy="239.5" r="5.0"/>
<circle class="k6" cx="366.1" cy="258.3" r="3.1"/>
<circle class="k19" cx="306.7" cy="246.7" r="7.5"/>
<circle class="k4" cx="293.2" cy="245.1" r="4.3"/>
<circle class="k8" cx="314.3" cy="231.5" r="4.8"/>
<circle class="k5" cx="360.2" cy="235.9" r="2.4"/>
<circle class="k5" cx="322.5" cy="261.3" r="8.2"/>
<circle class="k3" cx="243.1" cy="247.7" r="3.9"/>
<circle class="k9" cx="355.1" cy="250.3" r="5.7"/>
<circle class="k13" cx="446.4" cy="269.9" r="5.5"/>
<circle class="k9" cx="344.4" cy="226.7" r="2.4"/>
<circle class="k7" cx="443.6" cy="276.7" r="2.6"/>
<circle class="k7" cx="370.0" cy="257.2" r="6.3"/>
<circle class="k3" cx="497.9" cy="380.6" r="2.8"/>
<circle class="k5" cx="215.1" cy="147.8" r="5.4"/>
<circle class="k11" cx="413.3" cy="248.1" r="3.4"/>
<circle class="k5" cx="210.3" cy="231.9" r="2.4"/>
<circle class="k5" cx="323.7" cy="266.1" r="2.9"/>
<circle class="k8" cx="474.1" cy="294.2" r="3.5"/>
<circle class="k3" cx="269.8" cy="271.5" r="4.1"/>
<circle class="k8" cx="390.4" cy="259.1" r="2.4"/>
<circle class="k7" cx="279.1" cy="243.4" r="4.0"/>
<circle class="k11" cx="439.8" cy="276.6" r="6.6"/>
<circle class="k8" cx="357.8" cy="171.7" r="2.4"/>
<circle class="k3" cx="292.2" cy="254.2" r="6.3"/>
<circle class="k6" cx="424.5" cy="236.5" r="4.8"/>
<circle class="k3" cx="391.2" cy="243.8" r="3.5"/>
<circle class="k15" cx="341.8" cy="233.9" r="3.5"/>
<circle class="k9" cx="468.6" cy="286.7" r="3.5"/>
<circle class="k15" cx="365.0" cy="194.9" r="5.0"/>
<circle class="k16" cx="329.9" cy="258.6" r="3.3"/>
<circle class="k4" cx="282.5" cy="240.4" r="4.7"/>
<circle class="k4" cx="292.9" cy="252.6" r="5.7"/>
<circle class="k11" cx="405.6" cy="306.6" r="4.6"/>
<circle class="k5" cx="330.4" cy="258.6" r="6.9"/>
<circle class="k9" cx="331.1" cy="198.8" r="2.8"/>
<circle class="k10" cx="414.3" cy="281.0" r="2.9"/>
<circle class="k10" cx="389.0" cy="237.0" r="5.1"/>
<circle class="k3" cx="344.1" cy="252.0" r="6.8"/>
<circle class="k8" cx="367.7" cy="243.6" r="5.4"/>
<circle class="k5" cx="325.4" cy="238.7" r="4.3"/>
<circle class="k15" cx="320.4" cy="237.9" r="5.7"/>
<circle class="k5" cx="263.5" cy="219.1" r="4.9"/>
<circle class="k8" cx="320.0" cy="200.0" r="10.0"/>
<circle class="k6" cx="346.8" cy="261.4" r="6.6"/>
<circle class="k8" cx="438.9" cy="287.5" r="5.1"/>
<circle class="k14" cx="300.0" cy="247.1" r="4.5"/>
<circle class="k6" cx="288.0" cy="259.0" r="4.4"/>
<circle class="k4" cx="451.7" cy="308.5" r="4.1"/>
<circle class="k8" cx="275.0" cy="262.6" r="5.3"/>
<circle class="k18" cx="433.4" cy="302.4" r="3.6"/>
<circle class="k9" cx="289.9" cy="277.6" r="3.5"/>
<circle class="k6" cx="392.4" cy="304.8" r="2.8"/>
<circle class="k9" cx="410.2" cy="276.6" r="3.8"/>
<circle class="k9" cx="183.1" cy="146.8" r="3.0"/>
<circle class="k4" cx="333.8" cy="254.1" r="11.3"/>
<circle class="k9" cx="301.9" cy="311.6" r="4.9"/>
<circle class="k3" cx="305.7" cy="259.4" r="3.7"/>
<circle class="k6" cx="504.5" cy="323.7" r="3.1"/>
<circle class="k17" cx="433.7" cy="256.8" r="6.0"/>
<circle class="k2" cx="424.8" cy="278.0" r="3.6"/>
<circle class="k8" cx="281.3" cy="245.8" r="3.1"/>
<circle class="k15" cx="477.0" cy="301.0" r="4.3"/>
<circle class="k4" cx="395.0" cy="272.2" r="4.8"/>
<circle class="k18" cx="451.4" cy="275.6" r="4.5"/>
<circle class="k9" cx="418.5" cy="251.2" r="3.6"/>
<circle class="k8" cx="289.4" cy="272.6" r="2.4"/>
<circle class="k6" cx="262.1" cy="246.2" r="3.0"/>
<circle class="k5" cx="277.5" cy="256.3" r="3.5"/>
<circle class="k2" cx="357.8" cy="259.3" r="3.8"/>
<circle class="k8" cx="354.6" cy="270.4" r="5.9"/>
<circle class="k12" cx="450.6" cy="283.9" r="5.5"/>
<circle class="k8" cx="306.9" cy="245.8" r="4.2"/>
<circle class="k9" cx="374.0" cy="221.9" r="4.7"/>
<circle class="k6" cx="331.3" cy="177.9" r="2.8"/>
<circle class="k4" cx="455.3" cy="282.9" r="5.5"/>
<circle class="k22" cx="356.8" cy="223.8" r="5.4"/>
<circle class="k6" cx="311.3" cy="261.1" r="4.4"/>
<circle class="k2" cx="277.5" cy="268.5" r="5.4"/>
<circle class="k13" cx="287.7" cy="124.1" r="3.0"/>
<circle class="k5" cx="205.7" cy="263.6" r="4.2"/>
<circle class="k6" cx="363.1" cy="260.3" r="3.2"/>
<circle class="k7" cx="210.3" cy="240.2" r="2.7"/>
<circle class="k17" cx="442.5" cy="279.5" r="3.1"/>
<circle class="k13" cx="480.5" cy="302.4" r="4.0"/>
<circle class="k5" cx="407.0" cy="286.0" r="7.6"/>
<circle class="k9" cx="359.8" cy="190.0" r="3.0"/>
<circle class="k12" cx="405.1" cy="313.6" r="5.0"/>
<circle class="k7" cx="309.1" cy="247.2" r="3.4"/>
<circle class="k3" cx="296.9" cy="236.6" r="5.2"/>
<circle class="k9" cx="381.0" cy="260.1" r="9.2"/>
<circle class="k25" cx="398.5" cy="207.7" r="3.6"/>
<circle class="k4" cx="350.7" cy="254.9" r="5.7"/>
<circle class="k7" cx="230.4" cy="202.8" r="2.4"/>
<circle class="k3" cx="229.8" cy="315.2" r="3.2"/>
<circle class="k6" cx="294.4" cy="228.0" r="2.4"/>
<circle class="k3" cx="202.0" cy="110.8" r="5.1"/>
<circle class="k4" cx="335.8" cy="308.8" r="2.9"/>
<circle class="k24" cx="413.7" cy="240.1" r="2.4"/>
<circle class="k7" cx="387.1" cy="255.9" r="4.4"/>
<circle class="k9" cx="416.1" cy="279.1" r="6.1"/>
<circle class="k13" cx="427.7" cy="278.1" r="5.0"/>
<circle class="k7" cx="255.1" cy="229.2" r="4.1"/>
<circle class="k8" cx="319.8" cy="229.9" r="7.9"/>
<circle class="k16" cx="420.8" cy="292.5" r="5.6"/>
<circle class="k14" cx="456.3" cy="273.8" r="4.1"/>
<circle class="k5" cx="367.3" cy="288.5" r="4.2"/>
<circle class="k16" cx="535.0" cy="299.0" r="7.0"/>
<circle class="k8" cx="312.3" cy="285.8" r="7.4"/>
<circle class="k5" cx="375.9" cy="270.8" r="3.2"/>
<circle class="k3" cx="281.0" cy="253.6" r="6.2"/>
<circle class="k8" cx="371.3" cy="270.6" r="3.6"/>
<circle class="k4" cx="379.2" cy="267.4" r="5.4"/>
<circle class="k8" cx="336.3" cy="264.1" r="8.6"/>
<circle class="k8" cx="305.2" cy="243.8" r="5.3"/>
<circle class="k11" cx="320.1" cy="278.5" r="5.4"/>
<circle class="k8" cx="292.2" cy="285.5" r="3.3"/>
<circle class="k5" cx="498.4" cy="300.5" r="2.9"/>
<circle class="k8" cx="300.1" cy="252.7" r="4.3"/>
<circle class="k6" cx="235.0" cy="260.6" r="3.9"/>
<circle class="k4" cx="382.5" cy="279.5" r="4.8"/>
<circle class="k20" cx="385.5" cy="195.6" r="2.5"/>
<circle class="k4" cx="401.6" cy="250.9" r="3.8"/>
<circle class="k7" cx="384.2" cy="300.1" r="3.1"/>
<circle class="k9" cx="463.3" cy="295.7" r="2.7"/>
<circle class="k6" cx="420.3" cy="292.4" r="7.4"/>
<circle class="k5" cx="331.4" cy="279.8" r="2.5"/>
<circle class="k8" cx="304.3" cy="225.2" r="4.0"/>
<circle class="k2" cx="337.2" cy="248.7" r="4.3"/>
<circle class="k6" cx="391.3" cy="289.8" r="8.6"/>
<circle class="k24" cx="372.8" cy="187.4" r="2.4"/>
<circle class="k26" cx="410.5" cy="267.6" r="3.1"/>
<circle class="k6" cx="338.4" cy="186.8" r="3.4"/>
<circle class="k8" cx="232.9" cy="248.9" r="5.2"/>
<circle class="k8" cx="294.3" cy="252.9" r="3.2"/>
<circle class="k18" cx="337.9" cy="253.4" r="5.2"/>
<circle class="k6" cx="210.5" cy="245.4" r="7.1"/>
<circle class="k15" cx="428.8" cy="262.1" r="3.6"/>
<circle class="k3" cx="302.1" cy="241.6" r="2.4"/>
<circle class="k4" cx="298.0" cy="227.8" r="4.2"/>
<circle class="k3" cx="340.4" cy="282.4" r="3.3"/>
<circle class="k4" cx="320.3" cy="226.3" r="3.7"/>
<circle class="k22" cx="494.7" cy="328.0" r="4.7"/>
<circle class="k5" cx="418.5" cy="266.7" r="3.9"/>
<circle class="k7" cx="329.7" cy="249.7" r="4.1"/>
<circle class="k6" cx="344.3" cy="251.7" r="3.6"/>
<circle class="k20" cx="457.8" cy="314.1" r="3.1"/>
<circle class="k8" cx="300.5" cy="231.7" r="3.5"/>
<circle class="k4" cx="325.2" cy="199.9" r="5.0"/>
<circle class="k27" cx="381.5" cy="453.8" r="5.5"/>
<circle class="k26" cx="334.2" cy="192.6" r="4.1"/>
<circle class="k9" cx="299.4" cy="254.8" r="4.5"/>
<circle class="k9" cx="353.1" cy="266.8" r="4.4"/>
<circle class="k11" cx="448.2" cy="248.1" r="7.9"/>
<circle class="k13" cx="385.6" cy="245.3" r="4.3"/>
<circle class="k7" cx="325.6" cy="231.8" r="5.0"/>
<circle class="k19" cx="510.3" cy="323.3" r="4.3"/>
<circle class="k11" cx="411.0" cy="266.1" r="3.4"/>
<circle class="k3" cx="285.5" cy="230.5" r="4.7"/>
<circle class="k14" cx="505.7" cy="428.8" r="3.8"/>
<circle class="k9" cx="324.2" cy="265.4" r="4.9"/>
<circle class="k16" cx="425.8" cy="278.2" r="8.9"/>
<circle class="k11" cx="428.6" cy="252.1" r="5.6"/>
<circle class="k18" cx="417.0" cy="293.6" r="4.7"/>
<circle class="k6" cx="486.3" cy="276.9" r="5.2"/>
<circle class="k5" cx="478.5" cy="272.3" r="3.2"/>
<circle class="k18" cx="334.7" cy="180.6" r="6.1"/>
<circle class="k17" cx="473.0" cy="312.5" r="3.2"/>
<circle class="k3" cx="452.0" cy="299.9" r="2.4"/>
<circle class="k25" cx="505.4" cy="336.1" r="4.2"/>
<circle class="k5" cx="179.8" cy="307.8" r="4.2"/>
<circle class="k26" cx="399.3" cy="443.5" r="3.8"/>
<circle class="k11" cx="540.6" cy="436.5" r="3.0"/>
<circle class="k4" cx="425.7" cy="285.1" r="4.4"/>
<circle class="k25" cx="456.5" cy="302.7" r="2.5"/>
<circle class="k5" cx="321.7" cy="268.4" r="3.9"/>
<circle class="k7" cx="296.9" cy="255.0" r="11.1"/>
<circle class="k19" cx="366.3" cy="392.2" r="4.3"/>
<circle class="k22" cx="399.0" cy="263.8" r="4.0"/>
<circle class="k14" cx="474.4" cy="277.0" r="3.9"/>
<circle class="k10" cx="282.1" cy="247.5" r="3.4"/>
<circle class="k15" cx="411.4" cy="270.7" r="3.2"/>
<circle class="k5" cx="328.1" cy="132.7" r="2.4"/>
<circle class="k7" cx="463.4" cy="285.4" r="3.2"/>
<circle class="k5" cx="331.1" cy="261.2" r="7.6"/>
<circle class="k7" cx="262.6" cy="250.1" r="3.4"/>
<circle class="k27" cx="395.6" cy="163.0" r="6.2"/>
<circle class="k16" cx="475.6" cy="317.4" r="4.7"/>
<circle class="k6" cx="468.0" cy="297.8" r="2.4"/>
<circle class="k7" cx="318.9" cy="258.2" r="3.7"/>
<circle class="k16" cx="236.8" cy="223.7" r="3.5"/>
<circle class="k7" cx="381.5" cy="256.3" r="2.8"/>
<circle class="k3" cx="304.8" cy="242.3" r="4.1"/>
<circle class="k6" cx="295.6" cy="278.0" r="5.7"/>
<circle class="k4" cx="188.7" cy="116.7" r="4.5"/>
<circle class="k7" cx="307.2" cy="247.4" r="5.3"/>
<circle class="k5" cx="235.6" cy="253.1" r="4.7"/>
<circle class="k5" cx="398.7" cy="259.0" r="5.2"/>
<circle class="k10" cx="481.4" cy="295.5" r="5.5"/>
<circle class="k7" cx="425.0" cy="276.8" r="5.8"/>
<circle class="k15" cx="488.5" cy="263.1" r="2.5"/>
<circle class="k8" cx="307.4" cy="254.1" r="6.3"/>
<circle class="k28" cx="397.5" cy="448.5" r="6.2"/>
<circle class="k28" cx="355.1" cy="444.2" r="4.1"/>
<circle class="k6" cx="226.9" cy="241.6" r="3.4"/>
<circle class="k27" cx="361.8" cy="452.3" r="4.2"/>
<circle class="k18" cx="424.6" cy="251.0" r="2.4"/>
<circle class="k14" cx="350.8" cy="149.6" r="6.8"/>
<circle class="k6" cx="478.5" cy="297.5" r="2.8"/>
<circle class="k9" cx="248.8" cy="89.3" r="3.0"/>
<circle class="k4" cx="314.9" cy="244.6" r="3.5"/>
<circle class="k8" cx="357.8" cy="260.0" r="5.9"/>
<circle class="k9" cx="301.5" cy="261.8" r="7.0"/>
<circle class="k4" cx="333.4" cy="254.9" r="4.5"/>
<circle class="k4" cx="334.0" cy="303.6" r="3.9"/>
<circle class="k14" cx="367.8" cy="264.5" r="7.4"/>
<circle class="k11" cx="407.0" cy="263.1" r="7.1"/>
<circle class="k7" cx="312.9" cy="268.2" r="2.8"/>
<circle class="k5" cx="329.0" cy="263.0" r="5.2"/>
<circle class="k7" cx="421.0" cy="333.7" r="3.2"/>
<circle class="k23" cx="420.6" cy="254.5" r="4.7"/>
<circle class="k7" cx="316.4" cy="267.1" r="4.6"/>
<circle class="k4" cx="331.3" cy="196.5" r="4.3"/>
<circle class="k13" cx="512.6" cy="322.3" r="2.6"/>
<circle class="k2" cx="295.7" cy="246.6" r="4.5"/>
<circle class="k8" cx="219.0" cy="231.3" r="2.8"/>
<circle class="k3" cx="340.8" cy="261.0" r="3.3"/>
<circle class="k4" cx="364.7" cy="251.8" r="4.8"/>
<circle class="k6" cx="360.2" cy="230.0" r="5.3"/>
<circle class="k2" cx="375.5" cy="247.3" r="2.4"/>
<circle class="k8" cx="400.1" cy="311.3" r="5.9"/>
<circle class="k6" cx="395.9" cy="276.8" r="2.4"/>
<circle class="k6" cx="349.8" cy="256.3" r="5.0"/>
<circle class="k2" cx="275.6" cy="238.2" r="3.7"/>
<circle class="k25" cx="406.5" cy="182.0" r="4.1"/>
<circle class="k13" cx="372.5" cy="271.5" r="5.3"/>
<circle class="k4" cx="492.1" cy="273.5" r="4.8"/>
<circle class="k4" cx="326.7" cy="255.0" r="3.9"/>
<circle class="k7" cx="426.5" cy="389.2" r="6.3"/>
<circle class="k18" cx="488.2" cy="307.0" r="2.9"/>
<circle class="k4" cx="412.3" cy="263.4" r="4.6"/>
<circle class="k9" cx="349.9" cy="232.0" r="5.4"/>
<circle class="k9" cx="377.9" cy="187.1" r="3.6"/>
<circle class="k4" cx="410.6" cy="296.6" r="4.1"/>
<circle class="k9" cx="341.6" cy="277.7" r="2.4"/>
<circle class="k5" cx="439.4" cy="292.8" r="5.8"/>
<circle class="k4" cx="479.5" cy="274.4" r="7.4"/>
<circle class="k10" cx="360.5" cy="279.8" r="3.1"/>
<circle class="k5" cx="304.4" cy="219.9" r="7.8"/>
<circle class="k16" cx="526.8" cy="288.0" r="2.8"/>
<circle class="k7" cx="404.7" cy="227.4" r="3.4"/>
<circle class="k13" cx="395.0" cy="294.3" r="2.4"/>
<circle class="k12" cx="310.8" cy="262.4" r="4.9"/>
<circle class="k2" cx="426.2" cy="264.5" r="4.8"/>
<circle class="k7" cx="207.5" cy="255.9" r="4.6"/>
<circle class="k7" cx="438.9" cy="274.7" r="5.3"/>
<circle class="k3" cx="358.3" cy="262.8" r="6.3"/>
<circle class="k14" cx="317.5" cy="260.5" r="3.0"/>
<circle class="k5" cx="268.1" cy="248.8" r="5.0"/>
<circle class="k8" cx="468.7" cy="268.4" r="3.9"/>
<circle class="k7" cx="489.3" cy="289.6" r="3.6"/>
<circle class="k7" cx="356.3" cy="227.8" r="3.9"/>
<circle class="k17" cx="413.1" cy="252.2" r="3.6"/>
<circle class="k8" cx="381.2" cy="279.9" r="3.1"/>
<circle class="k5" cx="274.4" cy="260.3" r="6.1"/>
<circle class="k4" cx="442.7" cy="287.5" r="2.7"/>
<circle class="k7" cx="208.9" cy="265.9" r="5.8"/>
<circle class="k14" cx="330.6" cy="224.4" r="5.0"/>
<circle class="k3" cx="327.4" cy="228.9" r="8.0"/>
<circle class="k28" cx="355.5" cy="451.3" r="3.6"/>
<circle class="k2" cx="241.6" cy="245.9" r="8.1"/>
<circle class="k7" cx="388.7" cy="301.2" r="3.8"/>
<circle class="k5" cx="379.6" cy="270.6" r="4.4"/>
<circle class="k20" cx="468.1" cy="316.5" r="5.9"/>
<circle class="k3" cx="335.9" cy="224.1" r="6.2"/>
<circle class="k9" cx="271.3" cy="244.5" r="5.3"/>
<circle class="k6" cx="324.5" cy="264.2" r="4.4"/>
<circle class="k9" cx="445.9" cy="295.3" r="3.3"/>
<circle class="k9" cx="223.3" cy="266.8" r="5.4"/>
<circle class="k6" cx="412.1" cy="294.3" r="2.7"/>
<circle class="k7" cx="477.0" cy="264.1" r="6.4"/>
<circle class="k2" cx="353.0" cy="251.0" r="3.4"/>
<circle class="k4" cx="344.8" cy="267.8" r="3.9"/>
<circle class="k8" cx="258.3" cy="253.9" r="3.7"/>
<circle class="k6" cx="448.6" cy="275.9" r="3.8"/>
<circle class="k9" cx="235.7" cy="231.1" r="5.1"/>
<circle class="k15" cx="438.2" cy="275.4" r="3.2"/>
<circle class="k6" cx="401.2" cy="259.1" r="3.0"/>
<circle class="k18" cx="285.5" cy="162.4" r="3.2"/>
<circle class="k8" cx="463.7" cy="284.9" r="4.8"/>
<circle class="k7" cx="356.5" cy="271.7" r="2.4"/>
<circle class="k9" cx="377.5" cy="247.9" r="3.5"/>
<circle class="k5" cx="397.0" cy="295.4" r="5.6"/>
<circle class="k5" cx="331.7" cy="236.3" r="2.4"/>
<circle class="k20" cx="514.5" cy="330.6" r="2.6"/>
<circle class="k8" cx="327.1" cy="226.7" r="4.9"/>
<circle class="k9" cx="355.6" cy="265.2" r="7.2"/>
<circle class="k5" cx="310.8" cy="283.7" r="3.6"/>
<circle class="k17" cx="481.5" cy="322.9" r="3.9"/>
<circle class="k8" cx="352.4" cy="168.1" r="2.6"/>
<circle class="k6" cx="388.9" cy="265.3" r="6.4"/>
<circle class="k20" cx="448.2" cy="299.8" r="3.7"/>
<circle class="k3" cx="333.5" cy="168.5" r="4.8"/>
<circle class="k26" cx="332.5" cy="252.0" r="5.1"/>
<circle class="k8" cx="440.0" cy="234.0" r="10.0"/>
<circle class="k8" cx="345.6" cy="247.2" r="3.0"/>
<circle class="k8" cx="274.8" cy="257.4" r="4.0"/>
<circle class="k4" cx="457.9" cy="263.1" r="4.4"/>
<circle class="k11" cx="336.0" cy="327.6" r="4.1"/>
<circle class="k26" cx="230.0" cy="375.0" r="4.0"/>
<circle class="k5" cx="365.0" cy="234.0" r="5.1"/>
<circle class="k9" cx="481.0" cy="294.1" r="7.4"/>
<circle class="k6" cx="255.0" cy="334.5" r="4.9"/>
<circle class="k7" cx="382.2" cy="265.7" r="5.3"/>
<circle class="k5" cx="293.2" cy="140.5" r="2.7"/>
<circle class="k5" cx="282.2" cy="232.5" r="3.5"/>
<circle class="k7" cx="263.6" cy="238.4" r="5.2"/>
<circle class="k4" cx="405.9" cy="259.7" r="6.0"/>
<circle class="k5" cx="427.2" cy="277.9" r="2.7"/>
<circle class="k8" cx="260.0" cy="174.8" r="2.8"/>
<circle class="k9" cx="465.4" cy="277.7" r="2.9"/>
<circle class="k6" cx="384.0" cy="240.0" r="4.3"/>
<circle class="k13" cx="473.8" cy="294.0" r="6.4"/>
<circle class="k3" cx="310.8" cy="253.7" r="6.2"/>
<circle class="k11" cx="317.8" cy="241.2" r="6.4"/>
<circle class="k5" cx="481.8" cy="293.0" r="5.0"/>
<circle class="k9" cx="384.7" cy="280.7" r="2.5"/>
<circle class="k6" cx="417.9" cy="306.8" r="4.2"/>
<circle class="k7" cx="297.8" cy="252.9" r="4.8"/>
<circle class="k18" cx="425.4" cy="209.6" r="2.8"/>
<circle class="k5" cx="390.4" cy="257.2" r="4.7"/>
<circle class="k4" cx="401.3" cy="261.5" r="5.4"/>
<circle class="k7" cx="398.3" cy="247.7" r="3.6"/>
<circle class="k10" cx="527.5" cy="284.0" r="2.4"/>
<circle class="k7" cx="315.9" cy="254.8" r="6.1"/>
<circle class="k6" cx="444.1" cy="268.4" r="4.0"/>
<circle class="k7" cx="299.0" cy="245.4" r="5.0"/>
<circle class="k4" cx="300.1" cy="286.5" r="2.4"/>
<circle class="k15" cx="374.0" cy="214.5" r="4.0"/>
<circle class="k2" cx="421.1" cy="271.9" r="12.1"/>
<circle class="k9" cx="436.1" cy="251.0" r="4.2"/>
<circle class="k16" cx="192.6" cy="220.5" r="3.6"/>
<circle class="k10" cx="371.1" cy="247.4" r="6.5"/>
<circle class="k7" cx="545.1" cy="438.3" r="3.8"/>
<circle class="k5" cx="460.5" cy="312.0" r="3.7"/>
<circle class="k8" cx="333.1" cy="259.3" r="3.2"/>
<circle class="k4" cx="217.6" cy="219.7" r="4.1"/>
<circle class="k12" cx="447.5" cy="276.3" r="3.0"/>
<circle class="k5" cx="383.7" cy="248.9" r="5.2"/>
<circle class="k8" cx="292.8" cy="227.8" r="2.9"/>
<circle class="k27" cx="244.5" cy="160.7" r="2.9"/>
<circle class="k31" cx="359.3" cy="232.3" r="6.1"/>
<circle class="k2" cx="359.5" cy="252.2" r="4.2"/>
<circle class="k8" cx="282.9" cy="257.0" r="3.2"/>
<circle class="k6" cx="299.4" cy="273.9" r="4.2"/>
<circle class="k9" cx="338.8" cy="281.9" r="4.8"/>
<circle class="k6" cx="333.2" cy="182.0" r="3.7"/>
<circle class="k9" cx="312.7" cy="261.0" r="4.6"/>
<circle class="k6" cx="278.2" cy="248.1" r="4.3"/>
<circle class="k8" cx="455.8" cy="289.5" r="2.9"/>
<circle class="k10" cx="332.6" cy="260.9" r="3.4"/>
<circle class="k6" cx="276.7" cy="307.0" r="4.1"/>
<circle class="k12" cx="402.9" cy="245.2" r="5.2"/>
<circle class="k10" cx="331.9" cy="251.9" r="6.5"/>
<circle class="k6" cx="381.1" cy="231.1" r="2.8"/>
<circle class="k30" cx="384.4" cy="209.8" r="3.0"/>
<circle class="k6" cx="386.2" cy="158.7" r="4.9"/>
<circle class="k29" cx="331.9" cy="432.5" r="3.6"/>
<circle class="k15" cx="361.4" cy="253.2" r="5.2"/>
<circle class="k16" cx="292.1" cy="268.8" r="5.4"/>
<circle class="k14" cx="457.5" cy="296.1" r="3.5"/>
<circle class="k5" cx="365.9" cy="261.3" r="4.2"/>
<circle class="k26" cx="350.7" cy="222.1" r="2.4"/>
<circle class="k14" cx="330.9" cy="162.1" r="2.6"/>
<circle class="k4" cx="245.2" cy="234.9" r="6.3"/>
<circle class="k7" cx="331.3" cy="248.9" r="4.3"/>
<circle class="k11" cx="373.5" cy="284.5" r="4.8"/>
<circle class="k12" cx="346.1" cy="262.7" r="6.4"/>
<circle class="k6" cx="278.5" cy="244.7" r="4.6"/>
<circle class="k14" cx="405.1" cy="296.3" r="6.3"/>
<circle class="k2" cx="524.3" cy="289.8" r="3.5"/>
<circle class="k8" cx="285.2" cy="219.8" r="4.4"/>
<circle class="k13" cx="410.6" cy="298.8" r="4.6"/>
<circle class="k9" cx="224.1" cy="242.3" r="3.9"/>
<circle class="k7" cx="307.7" cy="227.4" r="2.9"/>
<circle class="k10" cx="452.3" cy="294.1" r="5.0"/>
<circle class="k4" cx="327.7" cy="369.9" r="3.5"/>
<circle class="k20" cx="243.0" cy="410.0" r="2.8"/>
<circle class="k8" cx="453.3" cy="294.5" r="6.4"/>
<circle class="k14" cx="538.7" cy="335.8" r="3.7"/>
<circle class="k11" cx="312.4" cy="243.8" r="5.2"/>
<circle class="k25" cx="452.3" cy="320.6" r="3.9"/>
<circle class="k8" cx="364.2" cy="240.3" r="5.2"/>
<circle class="k6" cx="382.9" cy="261.0" r="8.0"/>
<circle class="k7" cx="318.8" cy="269.9" r="3.6"/>
<circle class="k8" cx="291.6" cy="259.2" r="3.9"/>
<circle class="k4" cx="223.6" cy="230.0" r="6.4"/>
<circle class="k11" cx="287.9" cy="294.6" r="2.7"/>
<circle class="k31" cx="301.2" cy="407.8" r="3.8"/>
<circle class="k12" cx="473.1" cy="260.2" r="7.6"/>
<circle class="k7" cx="395.0" cy="241.5" r="4.0"/>
<circle class="k31" cx="342.4" cy="223.8" r="6.4"/>
<circle class="k23" cx="352.6" cy="185.9" r="2.6"/>
<circle class="k11" cx="232.9" cy="168.0" r="4.3"/>
<circle class="k6" cx="256.9" cy="247.0" r="5.0"/>
<circle class="k23" cx="479.8" cy="323.0" r="4.6"/>
<circle class="k4" cx="471.6" cy="288.4" r="6.9"/>
<circle class="k6" cx="377.4" cy="279.5" r="3.2"/>
<circle class="k8" cx="391.2" cy="255.5" r="6.2"/>
<circle class="k2" cx="443.0" cy="267.9" r="2.7"/>
<circle class="k28" cx="395.6" cy="445.3" r="2.4"/>
<circle class="k6" cx="335.1" cy="286.4" r="7.1"/>
<circle class="k3" cx="266.2" cy="244.9" r="4.1"/>
<circle class="k6" cx="359.2" cy="269.4" r="6.2"/>
<circle class="k5" cx="259.4" cy="227.0" r="5.1"/>
<circle class="k8" cx="294.4" cy="292.3" r="3.3"/>
<circle class="k6" cx="469.8" cy="279.8" r="3.6"/>
<circle class="k6" cx="320.3" cy="248.2" r="5.8"/>
<circle class="k8" cx="261.9" cy="252.9" r="3.9"/>
<circle class="k5" cx="425.1" cy="266.5" r="3.7"/>
<circle class="k6" cx="247.8" cy="244.8" r="4.6"/>
<circle class="k10" cx="354.8" cy="195.6" r="3.2"/>
<circle class="k15" cx="418.7" cy="276.9" r="7.4"/>
<circle class="k10" cx="367.5" cy="255.0" r="4.4"/>
<circle class="k23" cx="407.8" cy="245.1" r="2.8"/>
<circle class="k6" cx="414.4" cy="284.9" r="3.7"/>
<circle class="k18" cx="363.6" cy="269.8" r="3.4"/>
<circle class="k22" cx="507.9" cy="327.0" r="3.1"/>
<circle class="k9" cx="433.9" cy="298.0" r="6.2"/>
<circle class="k4" cx="256.3" cy="254.9" r="10.3"/>
<circle class="k2" cx="251.7" cy="241.7" r="4.1"/>
<circle class="k26" cx="364.3" cy="240.3" r="5.6"/>
<circle class="k28" cx="416.5" cy="442.5" r="4.6"/>
<circle class="k22" cx="270.7" cy="463.2" r="6.0"/>
<circle class="k2" cx="291.9" cy="258.2" r="3.0"/>
<circle class="k9" cx="451.4" cy="297.9" r="4.7"/>
<circle class="k15" cx="417.5" cy="255.5" r="5.5"/>
<circle class="k8" cx="354.4" cy="266.8" r="8.1"/>
<circle class="k5" cx="297.7" cy="239.8" r="3.5"/>
<circle class="k12" cx="418.6" cy="262.8" r="4.9"/>
<circle class="k17" cx="351.8" cy="263.2" r="4.9"/>
<circle class="k19" cx="535.1" cy="427.5" r="2.4"/>
<circle class="k7" cx="419.3" cy="278.3" r="5.1"/>
<circle class="k14" cx="362.3" cy="280.8" r="5.5"/>
<circle class="k9" cx="421.9" cy="258.2" r="2.7"/>
<circle class="k10" cx="467.9" cy="263.3" r="3.5"/>
<circle class="k7" cx="288.0" cy="243.2" r="3.6"/>
<circle class="k7" cx="324.8" cy="287.2" r="3.4"/>
<circle class="k23" cx="365.9" cy="220.8" r="3.3"/>
<circle class="k9" cx="296.0" cy="247.1" r="5.4"/>
<circle class="k4" cx="270.1" cy="246.4" r="5.5"/>
<circle class="k22" cx="521.6" cy="347.9" r="2.6"/>
<circle class="k6" cx="412.6" cy="266.8" r="3.8"/>
<circle class="k2" cx="291.1" cy="286.1" r="2.8"/>
<circle class="k9" cx="318.1" cy="261.2" r="2.9"/>
<circle class="k29" cx="380.7" cy="196.8" r="3.6"/>
<circle class="k7" cx="276.9" cy="256.4" r="5.3"/>
<circle class="k2" cx="358.0" cy="230.7" r="2.9"/>
<circle class="k22" cx="360.6" cy="160.3" r="4.1"/>
<circle class="k8" cx="291.5" cy="208.5" r="2.4"/>
<circle class="k17" cx="432.9" cy="319.7" r="2.5"/>
<circle class="k27" cx="343.1" cy="435.3" r="2.4"/>
<circle class="k16" cx="348.7" cy="255.2" r="6.7"/>
<circle class="k14" cx="344.9" cy="243.4" r="3.5"/>
<circle class="k3" cx="350.0" cy="259.8" r="5.1"/>
<circle class="k9" cx="263.6" cy="274.1" r="4.2"/>
<circle class="k13" cx="363.4" cy="276.2" r="5.0"/>
<circle class="k8" cx="373.9" cy="266.0" r="5.4"/>
<circle class="k5" cx="315.6" cy="233.0" r="4.8"/>
<circle class="k6" cx="404.1" cy="244.6" r="3.4"/>
<circle class="k3" cx="323.4" cy="257.7" r="3.2"/>
<circle class="k5" cx="327.4" cy="235.2" r="5.4"/>
<circle class="k8" cx="477.6" cy="291.8" r="8.0"/>
<circle class="k8" cx="318.0" cy="273.5" r="5.8"/>
<circle class="k10" cx="355.5" cy="260.6" r="4.1"/>
<circle class="k9" cx="279.7" cy="260.3" r="2.4"/>
<circle class="k6" cx="342.2" cy="246.9" r="3.8"/>
<circle class="k8" cx="400.6" cy="258.4" r="5.4"/>
<circle class="k8" cx="471.8" cy="280.8" r="3.7"/>
<circle class="k19" cx="239.5" cy="105.0" r="2.4"/>
<circle class="k9" cx="307.8" cy="242.9" r="3.8"/>
<circle class="k12" cx="340.8" cy="271.1" r="4.4"/>
<circle class="k8" cx="267.2" cy="237.8" r="3.9"/>
<circle class="k9" cx="372.5" cy="273.8" r="5.8"/>
<circle class="k9" cx="413.8" cy="263.3" r="4.0"/>
<circle class="k7" cx="379.9" cy="260.0" r="6.3"/>
<circle class="k5" cx="289.4" cy="236.6" r="2.8"/>
<circle class="k14" cx="439.9" cy="309.1" r="4.9"/>
<circle class="k9" cx="321.2" cy="286.8" r="6.5"/>
<circle class="k22" cx="372.2" cy="156.7" r="2.8"/>
<circle class="k4" cx="375.4" cy="269.4" r="4.6"/>
<circle class="k6" cx="265.0" cy="251.5" r="2.7"/>
<circle class="k8" cx="277.5" cy="128.4" r="2.7"/>
<circle class="k3" cx="282.1" cy="250.3" r="5.2"/>
<circle class="k8" cx="372.9" cy="251.0" r="5.0"/>
<circle class="k6" cx="336.2" cy="265.4" r="4.2"/>
<circle class="k9" cx="317.2" cy="238.4" r="4.6"/>
<circle class="k9" cx="364.7" cy="273.8" r="7.6"/>
<circle class="k6" cx="384.8" cy="291.8" r="5.0"/>
<circle class="k9" cx="320.9" cy="247.2" r="4.7"/>
<circle class="k5" cx="354.7" cy="215.9" r="3.5"/>
<circle class="k14" cx="219.7" cy="232.5" r="6.1"/>
<circle class="k13" cx="259.3" cy="244.4" r="4.2"/>
<circle class="k7" cx="293.1" cy="215.0" r="5.6"/>
<circle class="k6" cx="364.4" cy="254.1" r="5.8"/>
<circle class="k5" cx="497.5" cy="301.3" r="3.3"/>
<circle class="k31" cx="284.6" cy="429.7" r="3.6"/>
<circle class="k22" cx="245.2" cy="185.0" r="3.8"/>
<circle class="k30" cx="369.8" cy="431.5" r="4.0"/>
<circle class="k7" cx="457.6" cy="293.1" r="5.4"/>
<circle class="k9" cx="356.1" cy="277.0" r="5.2"/>
<circle class="k8" cx="326.5" cy="227.0" r="5.6"/>
<circle class="k5" cx="330.0" cy="243.0" r="3.1"/>
<circle class="k6" cx="205.0" cy="260.0" r="8.0"/>
<circle class="k18" cx="462.2" cy="309.6" r="3.5"/>
<circle class="k9" cx="489.2" cy="282.8" r="4.7"/>
<circle class="k21" cx="377.0" cy="194.0" r="3.5"/>
<circle class="k15" cx="371.9" cy="242.4" r="4.3"/>
<circle class="k11" cx="256.6" cy="263.4" r="3.6"/>
<circle class="k11" cx="252.0" cy="251.5" r="3.7"/>
<circle class="k3" cx="472.2" cy="326.6" r="2.9"/>
<circle class="k4" cx="224.2" cy="249.7" r="4.6"/>
<circle class="k2" cx="231.6" cy="254.6" r="4.7"/>
<circle class="k7" cx="516.6" cy="298.9" r="4.5"/>
<circle class="k18" cx="380.1" cy="222.3" r="3.5"/>
<circle class="k10" cx="383.2" cy="295.3" r="6.0"/>
<circle class="k22" cx="467.6" cy="303.8" r="4.1"/>
<circle class="k8" cx="358.7" cy="279.2" r="3.2"/>
<circle class="k6" cx="473.8" cy="315.2" r="2.4"/>
<circle class="k8" cx="446.6" cy="287.2" r="2.6"/>
<circle class="k6" cx="416.8" cy="266.0" r="4.6"/>
<circle class="k25" cx="361.5" cy="177.5" r="2.6"/>
<circle class="k7" cx="397.3" cy="230.7" r="3.2"/>
<circle class="k9" cx="319.3" cy="280.4" r="3.5"/>
<circle class="k11" cx="408.0" cy="295.6" r="2.8"/>
<circle class="k17" cx="400.5" cy="273.7" r="4.1"/>
<circle class="k4" cx="319.9" cy="262.4" r="4.8"/>
<circle class="k26" cx="373.9" cy="440.7" r="3.7"/>
<circle class="k5" cx="319.2" cy="299.3" r="11.3"/>
<circle class="k17" cx="200.4" cy="198.8" r="3.8"/>
<circle class="k4" cx="325.2" cy="234.5" r="8.1"/>
<circle class="k7" cx="228.5" cy="240.1" r="2.8"/>
<circle class="k33" cx="300.3" cy="431.1" r="5.0"/>
<circle class="k5" cx="337.9" cy="255.0" r="5.3"/>
<circle class="k7" cx="345.0" cy="237.4" r="3.4"/>
<circle class="k16" cx="500.0" cy="322.1" r="3.6"/>
<circle class="k8" cx="334.0" cy="254.7" r="5.4"/>
<circle class="k3" cx="317.5" cy="263.0" r="5.8"/>
<circle class="k5" cx="380.3" cy="374.0" r="4.9"/>
<circle class="k6" cx="226.9" cy="258.7" r="4.1"/>
<circle class="k12" cx="404.7" cy="263.0" r="5.0"/>
<circle class="k15" cx="230.2" cy="285.7" r="2.4"/>
<circle class="k9" cx="347.5" cy="241.6" r="5.0"/>
<circle class="k29" cx="314.8" cy="437.8" r="3.7"/>
<circle class="k8" cx="324.9" cy="221.9" r="7.4"/>
<circle class="k19" cx="446.7" cy="281.9" r="3.1"/>
<circle class="k12" cx="356.9" cy="273.5" r="4.3"/>
<circle class="k4" cx="322.3" cy="264.8" r="5.1"/>
<circle class="k9" cx="365.1" cy="237.5" r="8.8"/>
<circle class="k33" cx="378.3" cy="449.5" r="3.5"/>
<circle class="k8" cx="301.8" cy="258.6" r="3.8"/>
<circle class="k5" cx="300.4" cy="236.8" r="5.9"/>
<circle class="k6" cx="371.3" cy="272.2" r="3.2"/>
<circle class="k16" cx="471.1" cy="317.8" r="2.4"/>
<circle class="k4" cx="374.4" cy="256.6" r="6.4"/>
<circle class="k15" cx="453.6" cy="290.9" r="4.1"/>
<circle class="k8" cx="502.4" cy="299.1" r="4.7"/>
<circle class="k4" cx="265.0" cy="232.4" r="3.1"/>
<circle class="k3" cx="221.7" cy="226.2" r="2.7"/>
<circle class="k4" cx="301.7" cy="235.0" r="6.1"/>
<circle class="k4" cx="293.7" cy="245.4" r="5.5"/>
<circle class="k6" cx="188.0" cy="192.0" r="12.0"/>
<circle class="k17" cx="417.9" cy="281.5" r="4.8"/>
<circle class="k32" cx="301.2" cy="246.0" r="6.3"/>
<circle class="k4" cx="393.8" cy="264.4" r="4.0"/>
<circle class="k6" cx="403.0" cy="265.4" r="3.9"/>
<circle class="k4" cx="356.3" cy="273.9" r="5.2"/>
<circle class="k14" cx="401.0" cy="299.7" r="3.6"/>
<circle class="k7" cx="343.7" cy="232.2" r="4.3"/>
<circle class="k9" cx="309.8" cy="245.5" r="5.2"/>
<circle class="k15" cx="379.5" cy="314.1" r="4.2"/>
<circle class="k5" cx="231.5" cy="250.1" r="4.5"/>
<circle class="k7" cx="430.1" cy="256.8" r="3.9"/>
<circle class="k12" cx="444.0" cy="257.9" r="6.2"/>
<circle class="k15" cx="468.8" cy="261.5" r="8.1"/>
<circle class="k13" cx="333.4" cy="243.4" r="3.0"/>
<circle class="k10" cx="339.5" cy="243.5" r="6.1"/>
<circle class="k15" cx="400.2" cy="309.1" r="4.3"/>
<circle class="k10" cx="341.9" cy="264.2" r="3.3"/>
<circle class="k14" cx="220.3" cy="106.4" r="2.4"/>
<circle class="k5" cx="479.0" cy="258.1" r="5.5"/>
<circle class="k8" cx="350.1" cy="234.1" r="6.5"/>
<circle class="k5" cx="284.7" cy="223.0" r="2.9"/>
<circle class="k8" cx="401.0" cy="263.5" r="4.6"/>
<circle class="k8" cx="445.1" cy="298.0" r="3.9"/>
<circle class="k6" cx="215.4" cy="245.2" r="4.0"/>
<circle class="k4" cx="137.7" cy="213.9" r="3.3"/>
<circle class="k4" cx="354.8" cy="260.2" r="4.9"/>
<circle class="k32" cx="385.7" cy="443.7" r="3.9"/>
<circle class="k34" cx="416.8" cy="245.7" r="3.9"/>
<circle class="k4" cx="225.5" cy="346.9" r="3.0"/>
<circle class="k29" cx="546.5" cy="317.7" r="3.5"/>
<circle class="k8" cx="344.0" cy="270.1" r="3.6"/>
<circle class="k23" cx="354.8" cy="195.1" r="3.6"/>
<circle class="k5" cx="417.5" cy="268.7" r="3.8"/>
<circle class="k12" cx="466.1" cy="293.2" r="3.0"/>
<circle class="k3" cx="252.8" cy="240.9" r="4.9"/>
<circle class="k33" cx="346.2" cy="423.7" r="5.3"/>
<circle class="k6" cx="316.0" cy="238.2" r="4.4"/>
<circle class="k9" cx="317.6" cy="277.3" r="5.9"/>
<circle class="k29" cx="371.2" cy="208.7" r="2.7"/>
<circle class="k27" cx="341.9" cy="433.5" r="3.7"/>
<circle class="k8" cx="314.6" cy="252.6" r="5.0"/>
<circle class="k5" cx="274.9" cy="234.1" r="4.8"/>
<circle class="k5" cx="409.5" cy="204.1" r="2.7"/>
<circle class="k16" cx="547.4" cy="379.3" r="3.0"/>
<circle class="k9" cx="385.9" cy="253.0" r="2.8"/>
<circle class="k7" cx="320.3" cy="347.4" r="5.9"/>
<circle class="k5" cx="138.5" cy="145.4" r="3.3"/>
<circle class="k7" cx="349.1" cy="270.5" r="6.1"/>
<circle class="k22" cx="374.9" cy="247.4" r="8.2"/>
<circle class="k4" cx="392.8" cy="235.8" r="4.1"/>
<circle class="k7" cx="326.9" cy="224.7" r="2.7"/>
<circle class="k5" cx="485.9" cy="286.7" r="4.1"/>
<circle class="k7" cx="346.1" cy="267.6" r="3.5"/>
<circle class="k9" cx="260.3" cy="246.6" r="5.5"/>
<circle class="k32" cx="412.5" cy="439.3" r="3.0"/>
<circle class="k6" cx="413.9" cy="253.2" r="4.0"/>
<circle class="k12" cx="368.5" cy="293.0" r="2.6"/>
<circle class="k9" cx="403.2" cy="284.5" r="2.8"/>
<circle class="k4" cx="271.0" cy="261.0" r="3.0"/>
<circle class="k9" cx="344.5" cy="288.2" r="4.4"/>
<circle class="k8" cx="315.3" cy="262.5" r="8.8"/>
<circle class="k7" cx="247.0" cy="265.2" r="6.6"/>
<circle class="k7" cx="292.4" cy="253.8" r="3.0"/>
<circle class="k33" cx="365.9" cy="447.2" r="3.4"/>
<circle class="k7" cx="284.8" cy="243.8" r="4.6"/>
<circle class="k28" cx="354.9" cy="213.9" r="2.6"/>
<circle class="k34" cx="295.8" cy="443.1" r="5.4"/>
<circle class="k31" cx="346.3" cy="256.3" r="4.2"/>
<circle class="k17" cx="490.1" cy="310.0" r="5.0"/>
<circle class="k5" cx="388.8" cy="273.4" r="8.6"/>
<circle class="k14" cx="250.6" cy="246.5" r="4.5"/>
<circle class="k5" cx="488.2" cy="317.0" r="5.2"/>
<circle class="k10" cx="332.2" cy="241.3" r="2.7"/>
<circle class="k7" cx="226.5" cy="265.3" r="5.9"/>
<circle class="k11" cx="173.5" cy="193.4" r="2.9"/>
<circle class="k6" cx="238.7" cy="227.9" r="4.8"/>
<circle class="k9" cx="386.2" cy="270.3" r="4.5"/>
<circle class="k9" cx="376.7" cy="275.7" r="2.5"/>
<circle class="k9" cx="298.5" cy="236.4" r="4.4"/>
<circle class="k6" cx="291.3" cy="234.7" r="6.0"/>
<circle class="k7" cx="402.2" cy="266.8" r="5.9"/>
<circle class="k35" cx="403.3" cy="235.3" r="4.0"/>
<circle class="k12" cx="269.8" cy="247.5" r="5.9"/>
<circle class="k14" cx="405.0" cy="273.7" r="2.7"/>
<circle class="k11" cx="289.2" cy="247.9" r="9.5"/>
<circle class="k32" cx="319.4" cy="424.0" r="5.9"/>
<circle class="k6" cx="392.2" cy="245.6" r="2.4"/>
<circle class="k6" cx="209.3" cy="233.9" r="4.4"/>
<circle class="k29" cx="391.1" cy="450.4" r="5.0"/>
<circle class="k6" cx="346.0" cy="263.4" r="3.0"/>
<circle class="k7" cx="329.8" cy="255.6" r="4.6"/>
<circle class="k7" cx="390.7" cy="282.0" r="4.3"/>
<circle class="k16" cx="419.8" cy="275.6" r="7.4"/>
<circle class="k8" cx="319.9" cy="268.6" r="6.2"/>
<circle class="k25" cx="338.3" cy="251.8" r="4.4"/>
<circle class="k5" cx="301.9" cy="298.3" r="4.1"/>
<circle class="k5" cx="383.9" cy="265.4" r="2.6"/>
<circle class="k6" cx="203.2" cy="301.7" r="5.1"/>
<circle class="k5" cx="428.6" cy="277.8" r="2.8"/>
<circle class="k37" cx="304.0" cy="251.9" r="3.2"/>
<circle class="k6" cx="219.0" cy="224.6" r="4.3"/>
<circle class="k6" cx="202.3" cy="247.0" r="3.8"/>
<circle class="k31" cx="393.6" cy="245.8" r="5.0"/>
<circle class="k18" cx="469.5" cy="320.4" r="2.7"/>
<circle class="k15" cx="367.9" cy="268.2" r="3.9"/>
<circle class="k5" cx="333.8" cy="243.1" r="3.8"/>
<circle class="k5" cx="278.6" cy="265.5" r="3.3"/>
<circle class="k9" cx="421.4" cy="269.9" r="3.6"/>
<circle class="k6" cx="399.4" cy="274.6" r="6.9"/>
<circle class="k30" cx="232.0" cy="414.0" r="3.8"/>
<circle class="k8" cx="383.7" cy="246.2" r="6.7"/>
<circle class="k12" cx="286.6" cy="241.6" r="3.8"/>
<circle class="k5" cx="435.0" cy="301.5" r="4.6"/>
<circle class="k15" cx="387.0" cy="339.4" r="3.4"/>
<circle class="k6" cx="368.2" cy="181.9" r="4.1"/>
<circle class="k37" cx="303.5" cy="252.6" r="5.0"/>
<circle class="k33" cx="307.0" cy="439.3" r="2.4"/>
<circle class="k5" cx="372.0" cy="244.8" r="4.7"/>
<circle class="k8" cx="335.2" cy="249.3" r="3.9"/>
<circle class="k11" cx="402.3" cy="245.2" r="6.2"/>
<circle class="k6" cx="276.0" cy="286.7" r="5.4"/>
<circle class="k29" cx="354.2" cy="450.6" r="4.9"/>
<circle class="k29" cx="343.9" cy="208.6" r="6.4"/>
<circle class="k9" cx="362.5" cy="286.6" r="3.2"/>
<circle class="k5" cx="433.3" cy="256.0" r="4.0"/>
<circle class="k9" cx="243.6" cy="234.0" r="5.1"/>
<circle class="k7" cx="450.0" cy="285.5" r="2.9"/>
<circle class="k6" cx="226.1" cy="247.4" r="8.4"/>
<circle class="k5" cx="277.3" cy="233.3" r="4.5"/>
<circle class="k6" cx="339.3" cy="269.9" r="5.2"/>
<circle class="k9" cx="313.9" cy="250.2" r="4.5"/>
<circle class="k8" cx="414.3" cy="282.2" r="6.0"/>
<circle class="k9" cx="261.1" cy="229.4" r="4.8"/>
<circle class="k28" cx="380.3" cy="448.8" r="3.0"/>
<circle class="k8" cx="381.7" cy="254.0" r="2.9"/>
<circle class="k6" cx="318.3" cy="272.4" r="5.6"/>
<circle class="k28" cx="413.5" cy="442.3" r="3.5"/>
<circle class="k6" cx="338.0" cy="261.3" r="3.7"/>
<circle class="k9" cx="373.4" cy="236.3" r="2.4"/>
<circle class="k38" cx="308.1" cy="426.6" r="3.7"/>
<circle class="k8" cx="396.3" cy="229.3" r="7.1"/>
<circle class="k8" cx="463.6" cy="303.8" r="2.9"/>
<circle class="k5" cx="480.7" cy="328.1" r="5.1"/>
<circle class="k16" cx="443.7" cy="299.2" r="3.8"/>
<circle class="k16" cx="328.2" cy="272.1" r="5.1"/>
<circle class="k7" cx="255.4" cy="261.0" r="5.0"/>
<circle class="k13" cx="420.4" cy="296.0" r="5.5"/>
<circle class="k9" cx="238.0" cy="260.5" r="6.0"/>
<circle class="k36" cx="311.8" cy="246.3" r="4.5"/>
<circle class="k18" cx="352.3" cy="205.0" r="3.4"/>
<circle class="k30" cx="292.5" cy="442.4" r="4.2"/>
<circle class="k28" cx="397.3" cy="451.9" r="2.6"/>
<circle class="k9" cx="576.0" cy="429.7" r="3.3"/>
<circle class="k7" cx="280.7" cy="247.9" r="3.0"/>
<circle class="k23" cx="397.7" cy="198.5" r="2.7"/>
<circle class="k7" cx="441.9" cy="279.1" r="3.4"/>
<circle class="k29" cx="408.4" cy="443.8" r="3.1"/>
<circle class="k7" cx="366.2" cy="270.2" r="2.5"/>
<circle class="k11" cx="312.2" cy="260.6" r="4.0"/>
<circle class="k7" cx="342.6" cy="243.1" r="5.5"/>
<circle class="k23" cx="464.6" cy="312.1" r="3.0"/>
<circle class="k6" cx="490.3" cy="302.7" r="3.1"/>
<circle class="k8" cx="474.1" cy="290.7" r="4.1"/>
<circle class="k9" cx="284.6" cy="277.8" r="6.5"/>
<circle class="k7" cx="330.9" cy="280.7" r="5.6"/>
<circle class="k6" cx="439.5" cy="272.3" r="3.5"/>
<circle class="k8" cx="451.3" cy="298.3" r="2.9"/>
<circle class="k11" cx="268.8" cy="261.4" r="5.5"/>
<circle class="k17" cx="353.6" cy="169.3" r="3.0"/>
<circle class="k30" cx="300.0" cy="443.6" r="6.2"/>
<circle class="k6" cx="345.0" cy="216.2" r="8.3"/>
<circle class="k6" cx="531.0" cy="347.9" r="4.6"/>
<circle class="k9" cx="336.3" cy="269.3" r="5.4"/>
<circle class="k17" cx="235.3" cy="158.7" r="2.4"/>
<circle class="k7" cx="436.5" cy="269.4" r="3.7"/>
<circle class="k28" cx="369.2" cy="201.1" r="4.2"/>
<circle class="k9" cx="365.8" cy="269.8" r="5.0"/>
<circle class="k19" cx="207.0" cy="122.4" r="4.1"/>
<circle class="k32" cx="348.4" cy="223.6" r="4.8"/>
<circle class="k7" cx="395.8" cy="275.1" r="6.2"/>
<circle class="k7" cx="448.0" cy="254.0" r="5.0"/>
<circle class="k29" cx="392.4" cy="444.1" r="3.2"/>
<circle class="k9" cx="273.7" cy="249.6" r="6.3"/>
<circle class="k9" cx="473.4" cy="284.3" r="4.9"/>
<circle class="k17" cx="522.2" cy="316.9" r="3.7"/>
<circle class="k9" cx="222.4" cy="236.3" r="3.7"/>
<circle class="k22" cx="338.9" cy="183.4" r="5.5"/>
<circle class="k8" cx="388.0" cy="291.7" r="4.2"/>
<circle class="k37" cx="199.7" cy="209.7" r="4.4"/>
<circle class="k10" cx="262.8" cy="185.4" r="4.9"/>
<circle class="k10" cx="408.2" cy="291.4" r="4.4"/>
<circle class="k8" cx="308.1" cy="226.7" r="4.1"/>
<circle class="k28" cx="198.7" cy="117.6" r="2.9"/>
<circle class="k11" cx="370.1" cy="264.1" r="5.4"/>
<circle class="k8" cx="373.2" cy="273.2" r="4.7"/>
<circle class="k28" cx="310.5" cy="431.9" r="2.4"/>
<circle class="k19" cx="347.9" cy="185.2" r="4.0"/>
<circle class="k35" cx="362.3" cy="433.2" r="4.1"/>
<circle class="k8" cx="425.5" cy="298.9" r="4.5"/>
<circle class="k14" cx="388.3" cy="299.6" r="5.6"/>
<circle class="k9" cx="331.0" cy="263.8" r="4.9"/>
<circle class="k31" cx="338.1" cy="195.4" r="2.4"/>
<circle class="k7" cx="232.0" cy="239.6" r="7.3"/>
<circle class="k31" cx="417.8" cy="458.4" r="5.1"/>
<circle class="k7" cx="295.8" cy="246.7" r="5.8"/>
<circle class="k9" cx="272.2" cy="233.5" r="5.1"/>
<circle class="k7" cx="317.8" cy="246.8" r="8.0"/>
<circle class="k28" cx="406.7" cy="448.7" r="2.9"/>
<circle class="k20" cx="352.2" cy="190.9" r="3.1"/>
<circle class="k12" cx="301.3" cy="244.7" r="5.3"/>
<circle class="k9" cx="452.5" cy="283.0" r="4.5"/>
<circle class="k14" cx="331.6" cy="203.7" r="2.4"/>
<circle class="k39" cx="331.8" cy="438.3" r="4.3"/>
<circle class="k31" cx="315.2" cy="421.8" r="4.7"/>
<circle class="k8" cx="236.1" cy="415.5" r="3.0"/>
<circle class="k7" cx="210.9" cy="227.0" r="3.6"/>
<circle class="k16" cx="468.5" cy="298.7" r="3.6"/>
<circle class="k9" cx="364.4" cy="249.4" r="6.0"/>
<circle class="k9" cx="470.0" cy="323.0" r="9.0"/>
<circle class="k16" cx="318.0" cy="274.6" r="3.6"/>
<circle class="k9" cx="354.6" cy="260.2" r="6.2"/>
<circle class="k13" cx="470.8" cy="275.4" r="2.5"/>
<circle class="k37" cx="325.3" cy="430.3" r="3.3"/>
<circle class="k20" cx="388.4" cy="186.4" r="2.7"/>
<circle class="k37" cx="304.6" cy="238.2" r="4.0"/>
<circle class="k7" cx="244.7" cy="231.7" r="4.0"/>
<circle class="k30" cx="363.9" cy="442.6" r="2.7"/>
<circle class="k8" cx="300.5" cy="264.5" r="6.1"/>
<circle class="k32" cx="386.1" cy="210.3" r="2.4"/>
<circle class="k16" cx="266.9" cy="149.3" r="3.8"/>
<circle class="k9" cx="370.3" cy="241.3" r="8.3"/>
<circle class="k30" cx="403.0" cy="445.6" r="3.1"/>
<circle class="k15" cx="305.6" cy="257.7" r="2.9"/>
<circle class="k13" cx="376.7" cy="246.6" r="4.2"/>
<circle class="k10" cx="524.9" cy="310.4" r="3.8"/>
<circle class="k36" cx="171.5" cy="156.7" r="3.2"/>
<circle class="k14" cx="165.9" cy="350.9" r="2.7"/>
<circle class="k9" cx="165.6" cy="93.5" r="3.7"/>
<circle class="k26" cx="287.7" cy="430.9" r="4.7"/>
<circle class="k8" cx="410.2" cy="276.9" r="4.3"/>
<circle class="k38" cx="326.5" cy="246.6" r="3.3"/>
<circle class="k8" cx="395.2" cy="292.3" r="6.8"/>
<circle class="k12" cx="338.5" cy="244.8" r="3.3"/>
<circle class="k33" cx="378.8" cy="446.2" r="6.0"/>
<circle class="k7" cx="349.2" cy="253.9" r="2.4"/>
<circle class="k13" cx="393.9" cy="269.0" r="4.3"/>
<circle class="k31" cx="273.8" cy="407.8" r="2.4"/>
<circle class="k36" cx="354.8" cy="205.7" r="4.7"/>
<circle class="k8" cx="329.6" cy="258.8" r="3.1"/>
<circle class="k8" cx="359.0" cy="254.5" r="3.5"/>
<circle class="k9" cx="360.5" cy="268.0" r="3.7"/>
<circle class="k17" cx="475.3" cy="319.9" r="2.7"/>
<circle class="k10" cx="479.0" cy="314.0" r="2.9"/>
<circle class="k9" cx="243.9" cy="215.2" r="6.3"/>
<circle class="k32" cx="313.1" cy="435.9" r="2.4"/>
<circle class="k14" cx="422.5" cy="257.7" r="4.4"/>
<circle class="k9" cx="314.5" cy="273.4" r="4.6"/>
<circle class="k14" cx="423.1" cy="256.5" r="4.8"/>
<circle class="k12" cx="439.8" cy="264.0" r="5.1"/>
<circle class="k9" cx="305.0" cy="244.3" r="4.3"/>
<circle class="k11" cx="425.4" cy="285.6" r="4.3"/>
<circle class="k14" cx="334.5" cy="523.6" r="3.5"/>
<circle class="k21" cx="487.0" cy="320.8" r="5.8"/>
<circle class="k26" cx="478.0" cy="319.0" r="2.4"/>
<circle class="k39" cx="339.2" cy="451.2" r="4.6"/>
<circle class="k20" cx="448.2" cy="310.1" r="5.6"/>
<circle class="k30" cx="348.2" cy="432.1" r="4.1"/>
<circle class="k37" cx="303.1" cy="238.0" r="2.4"/>
<circle class="k15" cx="228.6" cy="256.9" r="3.2"/>
<circle class="k9" cx="390.7" cy="277.0" r="7.6"/>
<circle class="k12" cx="423.7" cy="282.4" r="5.2"/>
<circle class="k9" cx="356.1" cy="272.6" r="4.4"/>
<circle class="k9" cx="372.2" cy="259.3" r="3.1"/>
<circle class="k18" cx="490.8" cy="317.0" r="2.4"/>
<circle class="k34" cx="334.3" cy="427.2" r="4.6"/>
<circle class="k14" cx="236.5" cy="237.1" r="4.6"/>
<circle class="k9" cx="416.4" cy="136.3" r="2.5"/>
<circle class="k27" cx="387.5" cy="226.9" r="3.8"/>
<circle class="k21" cx="374.0" cy="177.2" r="4.8"/>
<circle class="k18" cx="445.6" cy="285.9" r="3.0"/>
<circle class="k28" cx="352.6" cy="208.2" r="2.8"/>
<circle class="k34" cx="279.3" cy="430.5" r="4.0"/>
<circle class="k9" cx="306.0" cy="259.3" r="4.5"/>
<circle class="k19" cx="320.4" cy="189.0" r="4.3"/>
<circle class="k10" cx="373.1" cy="256.6" r="2.9"/>
<circle class="k9" cx="342.5" cy="248.8" r="9.3"/>
<circle class="k33" cx="328.4" cy="427.2" r="2.4"/>
<circle class="k14" cx="377.7" cy="240.2" r="3.6"/>
<circle class="k21" cx="465.9" cy="334.4" r="2.5"/>
<circle class="k20" cx="399.8" cy="223.7" r="2.5"/>
<circle class="k26" cx="354.0" cy="191.1" r="4.0"/>
<circle class="k9" cx="375.8" cy="269.6" r="4.1"/>
<circle class="k37" cx="300.4" cy="252.5" r="2.4"/>
<circle class="k28" cx="265.0" cy="427.2" r="5.3"/>
<circle class="k9" cx="323.3" cy="345.6" r="2.4"/>
<circle class="k23" cx="395.0" cy="234.3" r="4.2"/>
<circle class="k32" cx="276.6" cy="430.1" r="3.2"/>
<circle class="k30" cx="277.0" cy="395.0" r="4.0"/>
<circle class="k18" cx="207.2" cy="129.5" r="3.3"/>
<circle class="k13" cx="389.0" cy="262.7" r="2.4"/>
<circle class="k14" cx="372.7" cy="194.3" r="2.6"/>
<circle class="k10" cx="365.0" cy="275.2" r="5.3"/>
<circle class="k21" cx="541.1" cy="351.1" r="2.4"/>
<circle class="k12" cx="286.3" cy="264.6" r="2.8"/>
<circle class="k12" cx="411.0" cy="244.6" r="2.4"/>
<circle class="k39" cx="312.6" cy="250.2" r="2.4"/>
<circle class="k11" cx="234.5" cy="252.9" r="2.4"/>
<circle class="k18" cx="472.2" cy="318.6" r="5.0"/>
<circle class="k18" cx="305.4" cy="251.2" r="5.7"/>
<circle class="k27" cx="340.2" cy="438.5" r="2.8"/>
<circle class="k26" cx="464.9" cy="312.9" r="4.9"/>
<circle class="k19" cx="376.6" cy="208.4" r="2.4"/>
<circle class="k17" cx="402.8" cy="242.4" r="6.5"/>
<circle class="k39" cx="349.9" cy="424.7" r="3.4"/>
<circle class="k18" cx="446.0" cy="293.7" r="2.7"/>
<circle class="k15" cx="219.9" cy="319.9" r="3.1"/>
<circle class="k32" cx="377.4" cy="447.7" r="2.4"/>
<circle class="k23" cx="374.7" cy="375.5" r="4.8"/>
<circle class="k25" cx="446.8" cy="305.3" r="2.8"/>
<circle class="k11" cx="420.8" cy="309.8" r="2.4"/>
<circle class="k14" cx="340.6" cy="280.7" r="4.5"/>
<circle class="k12" cx="424.2" cy="275.0" r="9.2"/>
<circle class="k12" cx="342.5" cy="285.0" r="2.4"/>
<circle class="k21" cx="486.3" cy="325.7" r="3.5"/>
<circle class="k14" cx="552.2" cy="374.5" r="3.0"/>
<circle class="k36" cx="301.2" cy="425.0" r="4.1"/>
<circle class="k12" cx="302.0" cy="268.9" r="4.9"/>
<circle class="k19" cx="481.5" cy="314.9" r="2.4"/>
<circle class="k36" cx="328.8" cy="434.4" r="5.4"/>
<circle class="k33" cx="334.7" cy="441.3" r="3.1"/>
<circle class="k17" cx="186.6" cy="158.8" r="2.4"/>
<circle class="k20" cx="216.8" cy="301.0" r="2.4"/>
<circle class="k28" cx="292.9" cy="424.6" r="3.8"/>
<circle class="k12" cx="317.2" cy="230.3" r="2.5"/>
<circle class="k25" cx="385.6" cy="244.6" r="7.3"/>
<circle class="k23" cx="469.9" cy="307.0" r="3.8"/>
<circle class="k20" cx="509.7" cy="333.0" r="3.7"/>
<circle class="k13" cx="439.4" cy="270.9" r="4.8"/>
<circle class="k27" cx="271.5" cy="436.7" r="3.0"/>
<circle class="k31" cx="309.1" cy="437.0" r="2.5"/>
<circle class="k38" cx="153.5" cy="501.7" r="3.4"/>
<circle class="k13" cx="362.5" cy="276.3" r="3.6"/>
<circle class="k36" cx="332.8" cy="248.4" r="4.0"/>
<circle class="k12" cx="402.5" cy="297.8" r="3.9"/>
<circle class="k39" cx="300.4" cy="253.1" r="3.1"/>
<circle class="k23" cx="301.7" cy="272.4" r="3.7"/>
<circle class="k33" cx="300.1" cy="431.8" r="5.0"/>
<circle class="k39" cx="223.9" cy="181.7" r="5.0"/>
<circle class="k19" cx="359.7" cy="386.1" r="4.0"/>
<circle class="k26" cx="392.1" cy="251.8" r="3.6"/>
<circle class="k16" cx="459.3" cy="278.1" r="3.1"/>
<circle class="k28" cx="395.0" cy="238.6" r="3.9"/>
<circle class="k29" cx="323.1" cy="427.9" r="3.6"/>
<circle class="k30" cx="380.9" cy="219.3" r="2.6"/>
<circle class="k30" cx="397.8" cy="464.1" r="3.9"/>
<circle class="k18" cx="438.0" cy="275.5" r="4.2"/>
<circle class="k31" cx="295.6" cy="439.3" r="3.0"/>
<circle class="k25" cx="479.3" cy="329.8" r="2.7"/>
<circle class="k13" cx="433.4" cy="303.6" r="5.9"/>
<circle class="k29" cx="165.0" cy="388.0" r="3.5"/>
<circle class="k35" cx="326.2" cy="440.7" r="3.6"/>
<circle class="k15" cx="283.1" cy="227.8" r="7.2"/>
<circle class="k15" cx="286.3" cy="249.4" r="5.2"/>
<circle class="k30" cx="301.9" cy="432.5" r="4.9"/>
<circle class="k34" cx="219.0" cy="411.0" r="4.0"/>
<circle class="k29" cx="409.1" cy="449.6" r="4.7"/>
<circle class="k31" cx="374.0" cy="449.8" r="5.2"/>
<circle class="k17" cx="496.6" cy="308.4" r="6.3"/>
<circle class="k16" cx="458.8" cy="283.0" r="2.9"/>
<circle class="k16" cx="317.4" cy="260.6" r="6.0"/>
<circle class="k32" cx="389.9" cy="436.5" r="4.0"/>
<circle class="k29" cx="415.0" cy="456.7" r="3.3"/>
<circle class="k14" cx="420.7" cy="302.2" r="2.7"/>
<circle class="k14" cx="436.2" cy="297.8" r="2.8"/>
<circle class="k18" cx="424.2" cy="264.4" r="4.5"/>
<circle class="k27" cx="275.5" cy="152.2" r="2.4"/>
<circle class="k24" cx="483.3" cy="327.3" r="6.4"/>
<circle class="k31" cx="375.2" cy="201.5" r="3.3"/>
<circle class="k31" cx="380.2" cy="192.3" r="5.1"/>
<circle class="k36" cx="494.5" cy="280.0" r="5.9"/>
<circle class="k15" cx="334.6" cy="240.3" r="5.6"/>
<circle class="k26" cx="410.1" cy="272.0" r="4.2"/>
<circle class="k17" cx="267.9" cy="153.3" r="2.7"/>
<circle class="k37" cx="304.0" cy="246.7" r="2.8"/>
<circle class="k30" cx="300.0" cy="431.3" r="3.2"/>
<circle class="k29" cx="385.6" cy="449.8" r="3.3"/>
<circle class="k37" cx="317.5" cy="253.6" r="3.2"/>
<circle class="k17" cx="384.9" cy="241.7" r="3.2"/>
<circle class="k31" cx="262.6" cy="426.6" r="5.2"/>
<circle class="k29" cx="279.4" cy="420.4" r="2.6"/>
<circle class="k13" cx="474.3" cy="273.5" r="4.1"/>
<circle class="k29" cx="306.3" cy="435.2" r="4.6"/>
<circle class="k38" cx="319.6" cy="246.1" r="4.5"/>
<circle class="k35" cx="383.7" cy="385.7" r="2.4"/>
<circle class="k26" cx="342.8" cy="245.4" r="3.6"/>
<circle class="k37" cx="295.9" cy="247.6" r="3.1"/>
<circle class="k31" cx="330.9" cy="433.7" r="3.3"/>
<circle class="k17" cx="425.7" cy="286.9" r="3.0"/>
<circle class="k15" cx="395.3" cy="263.0" r="3.7"/>
<circle class="k37" cx="318.1" cy="435.1" r="2.8"/>
<circle class="k23" cx="333.0" cy="423.2" r="6.2"/>
<circle class="k14" cx="382.4" cy="198.3" r="2.4"/>
<circle class="k33" cx="403.2" cy="185.1" r="4.6"/>
<circle class="k32" cx="367.9" cy="431.8" r="2.7"/>
<circle class="k16" cx="360.5" cy="255.5" r="8.8"/>
<circle class="k31" cx="367.8" cy="445.4" r="5.0"/>
<circle class="k33" cx="276.3" cy="410.8" r="5.0"/>
<circle class="k18" cx="414.2" cy="271.0" r="4.0"/>
<circle class="k28" cx="381.6" cy="209.5" r="2.9"/>
<circle class="k22" cx="486.6" cy="313.7" r="3.8"/>
<circle class="k29" cx="387.7" cy="448.7" r="6.5"/>
<circle class="k34" cx="376.8" cy="205.3" r="2.8"/>
<circle class="k24" cx="473.7" cy="316.7" r="3.5"/>
<circle class="k30" cx="371.3" cy="444.4" r="3.5"/>
<circle class="k38" cx="400.6" cy="249.1" r="3.7"/>
<circle class="k26" cx="366.6" cy="175.1" r="5.1"/>
<circle class="k21" cx="454.9" cy="321.5" r="5.2"/>
<circle class="k21" cx="374.4" cy="168.0" r="5.9"/>
<circle class="k36" cx="297.1" cy="244.5" r="3.8"/>
<circle class="k34" cx="367.7" cy="223.1" r="2.4"/>
<circle class="k31" cx="373.8" cy="445.3" r="5.3"/>
<circle class="k34" cx="337.9" cy="209.5" r="4.6"/>
<circle class="k24" cx="184.5" cy="193.7" r="3.9"/>
<circle class="k21" cx="484.4" cy="323.8" r="2.4"/>
<circle class="k19" cx="335.7" cy="253.6" r="4.0"/>
<circle class="k29" cx="326.9" cy="438.6" r="2.9"/>
<circle class="k28" cx="264.8" cy="421.0" r="8.8"/>
<circle class="k23" cx="375.9" cy="230.3" r="5.1"/>
<circle class="k32" cx="336.2" cy="451.2" r="5.6"/>
<circle class="k39" cx="328.7" cy="430.1" r="2.5"/>
<circle class="k23" cx="400.2" cy="218.5" r="7.4"/>
<circle class="k27" cx="278.1" cy="427.7" r="5.8"/>
<circle class="k34" cx="312.2" cy="435.6" r="3.3"/>
<circle class="k39" cx="378.5" cy="195.3" r="4.4"/>
<circle class="k34" cx="328.3" cy="419.5" r="5.3"/>
<circle class="k33" cx="335.1" cy="439.9" r="5.1"/>
<circle class="k27" cx="407.0" cy="308.1" r="3.5"/>
<circle class="k30" cx="314.9" cy="445.1" r="3.7"/>
<circle class="k30" cx="330.4" cy="239.1" r="5.7"/>
<circle class="k28" cx="353.5" cy="432.1" r="3.6"/>
<circle class="k30" cx="320.6" cy="423.8" r="3.3"/>
<circle class="k34" cx="383.8" cy="172.3" r="3.8"/>
<circle class="k37" cx="344.0" cy="199.8" r="4.8"/>
<circle class="k32" cx="386.3" cy="456.0" r="3.1"/>
<circle class="k27" cx="321.4" cy="251.9" r="2.8"/>
<circle class="k21" cx="359.4" cy="167.3" r="4.2"/>
<circle class="k29" cx="286.7" cy="434.0" r="7.3"/>
<circle class="k34" cx="263.9" cy="425.2" r="2.6"/>
<circle class="k20" cx="255.4" cy="277.7" r="3.0"/>
<circle class="k36" cx="291.0" cy="428.6" r="4.0"/>
<circle class="k28" cx="407.1" cy="229.7" r="3.9"/>
<circle class="k28" cx="380.4" cy="331.7" r="7.5"/>
<circle class="k39" cx="327.0" cy="441.0" r="5.4"/>
<circle class="k28" cx="404.9" cy="261.0" r="3.9"/>
<circle class="k37" cx="370.8" cy="221.4" r="2.4"/>
<circle class="k24" cx="485.0" cy="328.7" r="2.4"/>
<circle class="k31" cx="347.5" cy="434.8" r="2.4"/>
<circle class="k37" cx="368.5" cy="186.7" r="3.2"/>
<circle class="k22" cx="431.7" cy="315.4" r="3.9"/>
<circle class="k38" cx="305.2" cy="421.9" r="3.0"/>
<circle class="k33" cx="404.5" cy="213.9" r="2.4"/>
<circle class="k36" cx="322.9" cy="445.5" r="6.2"/>
<circle class="k32" cx="328.1" cy="442.0" r="4.9"/>
<circle class="k27" cx="379.3" cy="166.3" r="4.6"/>
<circle class="k21" cx="181.1" cy="174.0" r="2.9"/>
<circle class="k39" cx="309.7" cy="439.7" r="3.3"/>
<circle class="k32" cx="309.8" cy="432.0" r="4.4"/>
<circle class="k28" cx="307.1" cy="336.1" r="5.4"/>
<circle class="k31" cx="280.8" cy="408.2" r="5.7"/>
<circle class="k25" cx="462.2" cy="327.3" r="7.7"/>
<circle class="k33" cx="285.4" cy="421.1" r="5.5"/>
<circle class="k36" cx="312.7" cy="430.6" r="3.7"/>
<circle class="k21" cx="240.0" cy="428.0" r="3.0"/>
<circle class="k30" cx="329.3" cy="427.6" r="6.3"/>
<circle class="k26" cx="407.1" cy="198.7" r="2.7"/>
<circle class="k27" cx="345.5" cy="441.3" r="3.9"/>
<circle class="k39" cx="320.7" cy="250.8" r="3.2"/>
<circle class="k31" cx="370.8" cy="233.4" r="2.7"/>
<circle class="k29" cx="199.0" cy="386.0" r="4.0"/>
<circle class="k22" cx="490.4" cy="314.8" r="3.3"/>
<circle class="k31" cx="307.4" cy="428.1" r="2.5"/>
<circle class="k32" cx="381.1" cy="444.4" r="2.4"/>
<circle class="k28" cx="380.5" cy="188.6" r="4.3"/>
<circle class="k25" cx="435.0" cy="385.0" r="3.6"/>
<circle class="k38" cx="293.2" cy="238.9" r="3.0"/>
<circle class="k32" cx="380.7" cy="226.6" r="5.9"/>
<circle class="k32" cx="229.7" cy="249.7" r="2.9"/>
<circle class="k26" cx="270.0" cy="127.0" r="8.0"/>
<circle class="k33" cx="372.3" cy="429.9" r="8.4"/>
<circle class="k29" cx="379.3" cy="450.8" r="5.4"/>
<circle class="k29" cx="296.1" cy="439.7" r="5.3"/>
<circle class="k24" cx="365.7" cy="198.6" r="4.6"/>
<circle class="k36" cx="173.4" cy="84.6" r="2.4"/>
<circle class="k27" cx="422.6" cy="213.7" r="3.7"/>
<circle class="k30" cx="380.8" cy="434.1" r="3.8"/>
<circle class="k34" cx="312.6" cy="434.7" r="4.2"/>
<circle class="k23" cx="269.0" cy="120.9" r="3.9"/>
<circle class="k39" cx="496.3" cy="313.4" r="3.7"/>
<circle class="k26" cx="324.9" cy="229.0" r="6.9"/>
<circle class="k37" cx="302.7" cy="242.6" r="2.4"/>
<circle class="k32" cx="314.3" cy="425.7" r="3.5"/>
<circle class="k30" cx="328.9" cy="248.4" r="4.9"/>
<circle class="k32" cx="363.7" cy="429.0" r="4.6"/>
<circle class="k30" cx="325.7" cy="427.6" r="2.4"/>
<circle class="k39" cx="311.7" cy="434.2" r="2.9"/>
<circle class="k33" cx="308.5" cy="432.9" r="7.6"/>
<circle class="k30" cx="351.7" cy="434.6" r="2.7"/>
<circle class="k31" cx="307.7" cy="433.1" r="4.3"/>
<circle class="k38" cx="153.0" cy="199.1" r="4.9"/>
<circle class="k35" cx="160.7" cy="154.9" r="4.8"/>
<circle class="k26" cx="425.5" cy="329.6" r="5.2"/>
<circle class="k33" cx="310.0" cy="441.0" r="4.7"/>
<circle class="k36" cx="316.8" cy="429.8" r="5.0"/>
<circle class="k27" cx="350.0" cy="437.2" r="4.4"/>
<circle class="k27" cx="420.8" cy="459.4" r="3.1"/>
<circle class="k32" cx="402.6" cy="446.1" r="3.3"/>
<circle class="k26" cx="380.3" cy="236.4" r="3.0"/>
<circle class="k28" cx="357.9" cy="438.3" r="3.1"/>
<circle class="k28" cx="352.8" cy="248.2" r="3.2"/>
<circle class="k39" cx="345.6" cy="434.3" r="2.7"/>
<circle class="k25" cx="412.6" cy="152.5" r="2.4"/>
<circle class="k35" cx="340.3" cy="461.4" r="4.2"/>
<circle class="k27" cx="343.3" cy="431.5" r="3.4"/>
<circle class="k27" cx="216.4" cy="187.4" r="4.0"/>
<circle class="k31" cx="406.3" cy="451.6" r="4.5"/>
<circle class="k32" cx="272.0" cy="446.9" r="2.4"/>
<circle class="k27" cx="350.2" cy="233.0" r="3.5"/>
<circle class="k39" cx="305.6" cy="236.5" r="3.5"/>
<circle class="k39" cx="258.3" cy="414.4" r="4.7"/>
<circle class="k38" cx="297.1" cy="422.8" r="4.5"/>
<circle class="k37" cx="325.7" cy="440.5" r="6.2"/>
<circle class="k28" cx="357.4" cy="222.1" r="3.1"/>
<circle class="k38" cx="328.1" cy="432.1" r="4.0"/>
<circle class="k33" cx="295.5" cy="437.0" r="4.2"/>
<circle class="k28" cx="267.4" cy="403.7" r="3.9"/>
<circle class="k27" cx="297.8" cy="417.1" r="3.7"/>
<circle class="k27" cx="370.9" cy="439.9" r="3.6"/>
<circle class="k28" cx="411.3" cy="461.4" r="4.7"/>
<circle class="k28" cx="365.5" cy="439.1" r="3.0"/>
<circle class="k34" cx="303.8" cy="426.3" r="3.0"/>
<circle class="k27" cx="399.3" cy="433.1" r="4.7"/>
<circle class="k37" cx="322.7" cy="435.7" r="3.9"/>
<circle class="k36" cx="308.6" cy="421.8" r="3.1"/>
<circle class="k29" cx="398.1" cy="446.6" r="2.7"/>
<circle class="k36" cx="290.5" cy="249.9" r="2.4"/>
<circle class="k29" cx="319.4" cy="438.7" r="4.9"/>
<circle class="k30" cx="276.2" cy="436.1" r="2.5"/>
<circle class="k38" cx="312.0" cy="434.7" r="3.0"/>
<circle class="k34" cx="327.5" cy="128.8" r="3.9"/>
<circle class="k37" cx="298.4" cy="422.3" r="3.1"/>
<circle class="k36" cx="304.7" cy="247.5" r="5.0"/>
<circle class="k38" cx="315.8" cy="437.1" r="2.6"/>
<circle class="k33" cx="278.1" cy="313.6" r="4.7"/>
<circle class="k39" cx="312.0" cy="444.7" r="3.1"/>
<circle class="k29" cx="341.1" cy="439.8" r="2.8"/>
<circle class="k31" cx="336.8" cy="448.3" r="6.2"/>
<circle class="k28" cx="356.1" cy="447.6" r="2.4"/>
<circle class="k28" cx="351.3" cy="449.9" r="4.6"/>
<circle class="k37" cx="308.6" cy="247.6" r="2.9"/>
<circle class="k32" cx="355.9" cy="452.4" r="2.8"/>
<circle class="k38" cx="290.8" cy="240.3" r="2.5"/>
<circle class="k36" cx="296.3" cy="243.2" r="2.4"/>
<circle class="k30" cx="314.5" cy="413.6" r="6.0"/>
<circle class="k34" cx="338.3" cy="225.3" r="2.8"/>
<circle class="k35" cx="353.8" cy="434.4" r="2.8"/>
<circle class="k34" cx="319.2" cy="429.4" r="3.3"/>
<circle class="k39" cx="309.8" cy="426.6" r="4.7"/>
<circle class="k38" cx="326.0" cy="432.9" r="3.7"/>
<circle class="k39" cx="325.5" cy="442.3" r="2.4"/>
<circle class="k38" cx="317.2" cy="424.2" r="4.3"/>
<circle class="k37" cx="310.7" cy="435.2" r="3.0"/>
<circle class="k35" cx="316.5" cy="442.4" r="2.9"/>
<circle class="k36" cx="307.4" cy="245.5" r="2.4"/>
<circle class="k36" cx="381.6" cy="210.5" r="3.9"/>
<circle class="k37" cx="446.3" cy="224.6" r="2.7"/>
<circle class="k37" cx="296.8" cy="238.1" r="5.0"/>
<circle class="k35" cx="212.3" cy="102.9" r="5.7"/>
<circle class="k34" cx="296.3" cy="440.8" r="3.6"/>
<circle class="k35" cx="379.6" cy="243.6" r="3.2"/>
<circle class="k34" cx="276.9" cy="438.7" r="4.7"/>
<circle class="k39" cx="305.8" cy="243.7" r="2.4"/>
<circle class="k36" cx="315.1" cy="425.0" r="4.3"/>
<circle class="k36" cx="345.3" cy="438.6" r="2.5"/>
<circle class="k37" cx="310.0" cy="420.2" r="4.4"/>
<circle class="k37" cx="297.4" cy="431.7" r="3.4"/>
<circle class="k38" cx="301.6" cy="239.0" r="2.4"/>
<circle class="k38" cx="297.0" cy="248.8" r="3.8"/>
<circle class="k38" cx="306.2" cy="428.5" r="4.4"/>
<circle class="k38" cx="158.8" cy="502.0" r="3.4"/>
<circle class="k38" cx="321.8" cy="432.5" r="6.0"/>
<circle class="k39" cx="305.8" cy="245.2" r="2.4"/>
</g>
<path d="M411.30,283.86 L413.58,295.45 L425.25,297.33 L414.93,303.09 L416.75,314.77 L408.08,306.74 L397.54,312.07 L402.50,301.35 L394.17,292.97 L405.90,294.37Z" fill="#ee1111" stroke="#f5ea12" stroke-width="2.5" stroke-linejoin="miter"/>
<line x1="125.2" y1="193.3" x2="188" y2="191" stroke="#000" stroke-width="2"/>
<line x1="125.1" y1="246.0" x2="240" y2="236" stroke="#000" stroke-width="2"/>
<line x1="124.4" y1="296.2" x2="300" y2="251" stroke="#000" stroke-width="2"/>
<line x1="122.4" y1="344.0" x2="294" y2="253" stroke="#000" stroke-width="2"/>
<line x1="121.5" y1="396.4" x2="324" y2="268" stroke="#000" stroke-width="2"/>
<line x1="122.4" y1="451.6" x2="398" y2="303" stroke="#000" stroke-width="2"/>
<line x1="123.6" y1="508.5" x2="308" y2="437" stroke="#000" stroke-width="2"/>
<line x1="586.8" y1="202.7" x2="414" y2="268" stroke="#000" stroke-width="2"/>
<line x1="585.5" y1="250.7" x2="420" y2="270" stroke="#000" stroke-width="2"/>
<line x1="585.4" y1="299.8" x2="420" y2="284" stroke="#000" stroke-width="2"/>
<line x1="586.1" y1="348.1" x2="414" y2="293" stroke="#000" stroke-width="2"/>
<line x1="588.2" y1="397.6" x2="414" y2="297" stroke="#000" stroke-width="2"/>
<line x1="590.6" y1="448.2" x2="416" y2="300" stroke="#000" stroke-width="2"/>
<line x1="592.7" y1="500.1" x2="413" y2="304" stroke="#000" stroke-width="2"/>
<line x1="281.3" y1="107.9" x2="358" y2="262" stroke="#000" stroke-width="2"/>
<line x1="357.8" y1="110.7" x2="378" y2="275" stroke="#000" stroke-width="2"/>
<line x1="435.0" y1="110.1" x2="401" y2="268" stroke="#000" stroke-width="2"/>
<path d="M240.20,219.20 L244.08,230.16 L255.70,230.46 L246.48,237.54 L249.78,248.69 L240.20,242.10 L230.62,248.69 L233.92,237.54 L224.70,230.46 L236.32,230.16Z" fill="#000" stroke="#f5ea12" stroke-width="2.6" stroke-linejoin="miter"/>
<circle cx="101.60" cy="194.10" r="26.20" fill="#fff"/>
<path d="M95.84,186.50 L98.26,187.12 L100.66,187.83 L103.04,188.64 L105.37,189.54 L107.68,190.53 L109.94,191.61 L112.15,192.77 L114.32,194.03 L116.44,195.36 L118.50,196.78 L120.51,198.28 L122.46,199.86 L124.34,201.51 L126.16,203.23 L125.44,204.96 L124.61,206.63 L123.66,208.24 L122.60,209.77 L121.43,211.23 L120.16,212.60 L118.79,213.87 L117.34,215.04 L115.81,216.11 L114.21,217.07 L112.54,217.91 L110.81,218.63 L109.04,219.22 L107.24,219.69 L105.40,220.02 L103.54,220.23 L101.68,220.30 L99.81,220.24 L97.95,220.05 L97.06,217.77 L96.28,215.45 L95.61,213.10 L95.05,210.72 L94.61,208.31 L94.28,205.89 L94.07,203.45 L93.97,201.01 L93.99,198.56 L94.13,196.12 L94.38,193.69 L94.75,191.27 L95.24,188.87 L95.84,186.50Z" fill="#000"/>
<path d="M95.84,186.50 L94.52,186.21 L93.19,185.94 L91.86,185.70 L90.53,185.50 L89.19,185.31 L87.84,185.16 L86.50,185.04 L85.15,184.94 L83.80,184.87 L82.45,184.84 L81.10,184.83 L79.74,184.84 L78.39,184.89 L77.04,184.97 L77.76,183.24 L78.59,181.57 L79.54,179.96 L80.60,178.43 L81.77,176.97 L83.04,175.60 L84.41,174.33 L85.86,173.16 L87.39,172.09 L88.99,171.13 L90.66,170.29 L92.39,169.57 L94.16,168.98 L95.96,168.51 L97.80,168.18 L99.66,167.97 L101.52,167.90 L103.39,167.96 L105.25,168.15 L104.33,169.32 L103.46,170.52 L102.61,171.74 L101.81,172.98 L101.04,174.25 L100.30,175.54 L99.61,176.85 L98.95,178.18 L98.33,179.53 L97.75,180.89 L97.21,182.27 L96.71,183.67 L96.25,185.08 L95.84,186.50Z" fill="#000"/>
<circle cx="101.60" cy="194.10" r="26.20" fill="none" stroke="#222" stroke-width="0.6"/>
<text x="144" y="184.3" font-family="'Liberation Serif', serif" font-weight="bold" font-size="16.5" text-anchor="middle" fill="#111">13</text>
<circle cx="101.60" cy="248.10" r="26.20" fill="#fff"/>
<path d="M94.00,251.24 L92.67,251.22 L91.34,251.17 L90.00,251.12 L88.67,251.04 L87.34,250.95 L86.01,250.85 L84.68,250.73 L83.36,250.60 L82.03,250.45 L80.71,250.28 L79.39,250.10 L78.07,249.91 L76.75,249.70 L75.44,249.47 L75.41,247.58 L75.51,245.69 L75.75,243.82 L76.13,241.96 L76.64,240.14 L77.28,238.36 L78.04,236.63 L78.93,234.96 L79.94,233.36 L81.06,231.84 L82.28,230.40 L83.61,229.05 L85.03,227.80 L86.54,226.66 L88.12,225.63 L89.78,224.72 L91.50,223.93 L93.27,223.26 L95.08,222.72 L96.93,222.32 L98.80,222.05 L100.69,221.92 L99.60,223.81 L98.60,225.76 L97.69,227.74 L96.87,229.77 L96.15,231.83 L95.52,233.92 L94.98,236.04 L94.55,238.18 L94.21,240.34 L93.97,242.51 L93.83,244.70 L93.79,246.88 L93.84,249.06 L94.00,251.24Z" fill="#000"/>
<path d="M94.00,251.24 L96.44,251.25 L98.89,251.21 L101.33,251.12 L103.76,250.98 L106.20,250.78 L108.63,250.53 L111.05,250.23 L113.47,249.88 L115.88,249.48 L118.28,249.03 L120.67,248.53 L123.04,247.98 L125.41,247.38 L127.76,246.73 L127.79,248.62 L127.69,250.51 L127.45,252.38 L127.07,254.24 L126.56,256.06 L125.92,257.84 L125.16,259.57 L124.27,261.24 L123.26,262.84 L122.14,264.36 L120.92,265.80 L119.59,267.15 L118.17,268.40 L116.66,269.54 L115.08,270.57 L113.42,271.48 L111.70,272.27 L109.93,272.94 L108.12,273.48 L106.27,273.88 L104.40,274.15 L102.51,274.28 L101.52,272.81 L100.58,271.31 L99.70,269.77 L98.88,268.20 L98.11,266.60 L97.40,264.97 L96.76,263.32 L96.17,261.64 L95.65,259.95 L95.19,258.23 L94.80,256.50 L94.47,254.76 L94.20,253.01 L94.00,251.24Z" fill="#000"/>
<circle cx="101.60" cy="248.10" r="26.20" fill="none" stroke="#222" stroke-width="0.6"/>
<text x="144" y="265.3" font-family="'Liberation Serif', serif" font-weight="bold" font-size="16.5" text-anchor="middle" fill="#111">7</text>
<circle cx="101.60" cy="302.10" r="26.20" fill="#fff"/>
<path d="M99.24,289.00 L101.81,289.49 L104.32,290.18 L106.78,291.06 L109.17,292.12 L111.46,293.36 L113.66,294.77 L115.74,296.35 L117.70,298.08 L119.52,299.95 L121.19,301.95 L122.70,304.08 L124.05,306.32 L125.23,308.65 L126.22,311.06 L125.52,312.78 L124.71,314.44 L123.78,316.05 L122.74,317.58 L121.59,319.04 L120.34,320.41 L119.00,321.69 L117.57,322.87 L116.06,323.95 L114.48,324.92 L112.83,325.77 L111.13,326.50 L109.38,327.12 L107.59,327.61 L105.77,327.97 L103.93,328.20 L102.08,328.30 L100.23,328.26 L99.57,325.51 L99.00,322.74 L98.52,319.95 L98.13,317.15 L97.83,314.34 L97.63,311.51 L97.51,308.69 L97.48,305.86 L97.55,303.03 L97.71,300.21 L97.96,297.39 L98.29,294.58 L98.72,291.78 L99.24,289.00Z" fill="#000"/>
<path d="M99.24,289.00 L97.61,288.79 L95.96,288.66 L94.32,288.60 L92.67,288.63 L91.02,288.73 L89.39,288.92 L87.76,289.18 L86.15,289.52 L84.55,289.94 L82.98,290.43 L81.43,291.00 L79.91,291.64 L78.43,292.35 L76.98,293.14 L77.68,291.42 L78.49,289.76 L79.42,288.15 L80.46,286.62 L81.61,285.16 L82.86,283.79 L84.20,282.51 L85.63,281.33 L87.14,280.25 L88.72,279.28 L90.37,278.43 L92.07,277.70 L93.82,277.08 L95.61,276.59 L97.43,276.23 L99.27,276.00 L101.12,275.90 L102.97,275.94 L102.64,276.85 L102.32,277.76 L102.00,278.68 L101.70,279.61 L101.41,280.53 L101.13,281.46 L100.85,282.40 L100.59,283.33 L100.34,284.27 L100.10,285.21 L99.87,286.15 L99.65,287.10 L99.44,288.05 L99.24,289.00Z" fill="#000"/>
<circle cx="101.60" cy="302.10" r="26.20" fill="none" stroke="#222" stroke-width="0.6"/>
<text x="144" y="308.3" font-family="'Liberation Serif', serif" font-weight="bold" font-size="16.5" text-anchor="middle" fill="#111">1</text>
<circle cx="101.60" cy="355.00" r="26.20" fill="#fff"/>
<path d="M106.84,367.31 L108.29,367.39 L109.75,367.40 L111.21,367.36 L112.66,367.25 L114.11,367.09 L115.55,366.87 L116.98,366.60 L118.39,366.26 L119.80,365.87 L121.18,365.43 L122.55,364.92 L123.90,364.37 L125.22,363.76 L126.52,363.10 L125.86,364.90 L125.07,366.65 L124.15,368.34 L123.11,369.95 L121.96,371.49 L120.70,372.94 L119.33,374.29 L117.87,375.53 L116.33,376.67 L114.70,377.69 L113.00,378.59 L111.24,379.36 L109.43,380.00 L107.58,380.51 L105.70,380.88 L103.79,381.11 L101.87,381.20 L99.95,381.15 L100.59,380.24 L101.20,379.31 L101.79,378.38 L102.36,377.43 L102.91,376.46 L103.43,375.49 L103.94,374.50 L104.42,373.50 L104.88,372.49 L105.32,371.48 L105.73,370.45 L106.13,369.41 L106.49,368.37 L106.84,367.31Z" fill="#000"/>
<path d="M106.84,367.31 L104.13,367.02 L101.45,366.53 L98.82,365.84 L96.24,364.95 L93.74,363.87 L91.33,362.60 L89.02,361.16 L86.82,359.55 L84.75,357.78 L82.82,355.86 L81.04,353.80 L79.41,351.61 L77.96,349.31 L76.68,346.90 L77.34,345.10 L78.13,343.35 L79.05,341.66 L80.09,340.05 L81.24,338.51 L82.50,337.06 L83.87,335.71 L85.33,334.47 L86.87,333.33 L88.50,332.31 L90.20,331.41 L91.96,330.64 L93.77,330.00 L95.62,329.49 L97.50,329.12 L99.41,328.89 L101.33,328.80 L103.25,328.85 L104.51,331.39 L105.63,333.99 L106.60,336.65 L107.42,339.36 L108.08,342.12 L108.59,344.91 L108.93,347.72 L109.11,350.55 L109.14,353.38 L109.00,356.21 L108.70,359.03 L108.23,361.82 L107.62,364.59 L106.84,367.31Z" fill="#000"/>
<circle cx="101.60" cy="355.00" r="26.20" fill="none" stroke="#222" stroke-width="0.6"/>
<text x="144" y="360.7" font-family="'Liberation Serif', serif" font-weight="bold" font-size="16.5" text-anchor="middle" fill="#111">14</text>
<circle cx="101.60" cy="409.00" r="26.20" fill="#fff"/>
<path d="M98.98,426.55 L101.38,426.80 L103.79,426.84 L106.19,426.68 L108.57,426.31 L110.91,425.73 L113.20,424.96 L115.41,424.00 L117.53,422.86 L119.54,421.53 L121.43,420.04 L123.19,418.40 L124.81,416.61 L126.26,414.69 L127.55,412.65 L127.23,414.45 L126.79,416.22 L126.22,417.96 L125.53,419.66 L124.73,421.30 L123.82,422.88 L122.80,424.40 L121.67,425.84 L120.45,427.20 L119.13,428.47 L117.73,429.65 L116.25,430.72 L114.70,431.69 L113.09,432.55 L111.41,433.29 L109.70,433.92 L107.94,434.42 L106.15,434.80 L104.34,435.06 L102.51,435.18 L100.69,435.18 L98.86,435.06 L98.86,434.45 L98.86,433.84 L98.86,433.23 L98.86,432.63 L98.87,432.02 L98.88,431.41 L98.88,430.80 L98.89,430.20 L98.90,429.59 L98.92,428.98 L98.93,428.38 L98.94,427.77 L98.96,427.16 L98.98,426.55Z" fill="#000"/>
<path d="M98.98,426.55 L96.63,426.11 L94.33,425.47 L92.10,424.63 L89.94,423.61 L87.87,422.41 L85.91,421.05 L84.08,419.52 L82.38,417.84 L80.83,416.02 L79.44,414.08 L78.22,412.02 L77.18,409.88 L76.32,407.65 L75.65,405.35 L75.97,403.55 L76.41,401.78 L76.98,400.04 L77.67,398.34 L78.47,396.70 L79.38,395.12 L80.40,393.60 L81.53,392.16 L82.75,390.80 L84.07,389.53 L85.47,388.35 L86.95,387.28 L88.50,386.31 L90.11,385.45 L91.79,384.71 L93.50,384.08 L95.26,383.58 L97.05,383.20 L98.86,382.94 L100.69,382.82 L102.51,382.82 L104.34,382.94 L103.69,386.02 L103.09,389.10 L102.53,392.20 L102.00,395.29 L101.52,398.40 L101.07,401.51 L100.67,404.63 L100.31,407.75 L99.98,410.87 L99.70,414.01 L99.46,417.14 L99.26,420.27 L99.10,423.41 L98.98,426.55Z" fill="#000"/>
<circle cx="101.60" cy="409.00" r="26.20" fill="none" stroke="#222" stroke-width="0.6"/>
<text x="144" y="414.7" font-family="'Liberation Serif', serif" font-weight="bold" font-size="16.5" text-anchor="middle" fill="#111">3</text>
<circle cx="101.60" cy="462.80" r="26.20" fill="#fff"/>
<path d="M97.67,480.62 L100.19,480.97 L102.74,481.09 L105.29,480.98 L107.81,480.63 L110.29,480.06 L112.72,479.27 L115.05,478.25 L117.29,477.03 L119.41,475.61 L121.38,474.00 L123.21,472.22 L124.86,470.28 L126.33,468.20 L127.60,465.99 L127.31,467.82 L126.90,469.62 L126.35,471.39 L125.69,473.11 L124.90,474.78 L124.00,476.40 L122.98,477.94 L121.86,479.41 L120.64,480.80 L119.32,482.10 L117.92,483.30 L116.43,484.40 L114.87,485.39 L113.25,486.27 L111.56,487.03 L109.83,487.67 L108.05,488.19 L106.25,488.58 L104.42,488.85 L102.57,488.98 L100.73,488.99 L98.88,488.86 L97.05,488.60 L97.09,488.03 L97.12,487.46 L97.16,486.89 L97.20,486.32 L97.24,485.75 L97.28,485.18 L97.33,484.61 L97.37,484.04 L97.42,483.47 L97.46,482.90 L97.51,482.33 L97.56,481.76 L97.62,481.19 L97.67,480.62Z" fill="#000"/>
<path d="M97.67,480.62 L95.43,480.10 L93.23,479.40 L91.10,478.53 L89.05,477.48 L87.10,476.27 L85.25,474.90 L83.52,473.38 L81.92,471.73 L80.46,469.95 L79.15,468.06 L78.00,466.06 L77.02,463.98 L76.22,461.82 L75.60,459.61 L75.89,457.78 L76.30,455.98 L76.85,454.21 L77.51,452.49 L78.30,450.82 L79.20,449.20 L80.22,447.66 L81.34,446.19 L82.56,444.80 L83.88,443.50 L85.28,442.30 L86.77,441.20 L88.33,440.21 L89.95,439.33 L91.64,438.57 L93.37,437.93 L95.15,437.41 L96.95,437.02 L98.78,436.75 L100.63,436.62 L102.47,436.61 L104.32,436.74 L106.15,437.00 L105.26,440.05 L104.42,443.12 L103.62,446.19 L102.86,449.28 L102.15,452.38 L101.48,455.48 L100.85,458.60 L100.27,461.73 L99.72,464.86 L99.23,468.00 L98.77,471.14 L98.36,474.30 L97.99,477.45 L97.67,480.62Z" fill="#000"/>
<circle cx="101.60" cy="462.80" r="26.20" fill="none" stroke="#222" stroke-width="0.6"/>
<text x="144" y="469.2" font-family="'Liberation Serif', serif" font-weight="bold" font-size="16.5" text-anchor="middle" fill="#111">2</text>
<circle cx="101.60" cy="517.00" r="26.20" fill="#fff"/>
<path d="M102.91,520.93 L104.60,521.31 L106.29,521.67 L108.00,521.99 L109.70,522.29 L111.41,522.56 L113.13,522.79 L114.85,523.00 L116.57,523.17 L118.30,523.32 L120.03,523.44 L121.76,523.52 L123.49,523.58 L125.22,523.61 L126.95,523.60 L126.43,525.36 L125.78,527.08 L125.02,528.75 L124.13,530.37 L123.14,531.91 L122.04,533.39 L120.84,534.78 L119.55,536.08 L118.17,537.30 L116.71,538.41 L115.17,539.41 L113.56,540.31 L111.90,541.09 L110.19,541.75 L108.43,542.29 L106.64,542.71 L104.83,543.00 L103.00,543.16 L101.16,543.20 L99.33,543.10 L97.50,542.88 L97.98,541.33 L98.44,539.79 L98.90,538.24 L99.33,536.68 L99.75,535.12 L100.16,533.56 L100.56,531.99 L100.94,530.42 L101.30,528.85 L101.65,527.27 L101.99,525.69 L102.31,524.11 L102.62,522.52 L102.91,520.93Z" fill="#000"/>
<path d="M102.91,520.93 L100.92,520.44 L98.93,519.90 L96.96,519.33 L95.00,518.71 L93.05,518.06 L91.12,517.36 L89.20,516.62 L87.29,515.85 L85.41,515.04 L83.54,514.18 L81.69,513.29 L79.85,512.37 L78.04,511.40 L76.25,510.40 L76.77,508.64 L77.42,506.92 L78.18,505.25 L79.07,503.63 L80.06,502.09 L81.16,500.61 L82.36,499.22 L83.65,497.92 L85.03,496.70 L86.49,495.59 L88.03,494.59 L89.64,493.69 L91.30,492.91 L93.01,492.25 L94.77,491.71 L96.56,491.29 L98.37,491.00 L100.20,490.84 L102.04,490.80 L103.87,490.90 L105.70,491.12 L105.67,493.26 L105.61,495.40 L105.53,497.54 L105.42,499.68 L105.28,501.82 L105.12,503.95 L104.93,506.09 L104.72,508.22 L104.48,510.34 L104.22,512.47 L103.93,514.59 L103.62,516.71 L103.28,518.82 L102.91,520.93Z" fill="#000"/>
<circle cx="101.60" cy="517.00" r="26.20" fill="none" stroke="#222" stroke-width="0.6"/>
<text x="144" y="523.2" font-family="'Liberation Serif', serif" font-weight="bold" font-size="16.5" text-anchor="middle" fill="#111">17</text>
<circle cx="608.90" cy="194.40" r="26.20" fill="#fff"/>
<path d="M600.25,191.26 L602.73,191.75 L605.20,192.27 L607.67,192.81 L610.13,193.38 L612.59,193.97 L615.04,194.58 L617.49,195.22 L619.93,195.87 L622.36,196.55 L624.79,197.26 L627.21,197.98 L629.62,198.73 L632.03,199.50 L634.43,200.29 L633.94,202.12 L633.31,203.91 L632.57,205.64 L631.69,207.32 L630.70,208.93 L629.60,210.46 L628.38,211.92 L627.07,213.28 L625.66,214.54 L624.17,215.69 L622.59,216.74 L620.94,217.67 L619.23,218.48 L617.47,219.16 L615.66,219.71 L613.82,220.13 L611.95,220.42 L610.06,220.57 L608.17,220.59 L606.29,220.47 L604.41,220.21 L602.56,219.82 L601.74,217.90 L601.02,215.94 L600.39,213.95 L599.87,211.93 L599.44,209.88 L599.12,207.82 L598.90,205.74 L598.78,203.66 L598.77,201.57 L598.86,199.48 L599.06,197.40 L599.35,195.33 L599.75,193.28 L600.25,191.26Z" fill="#000"/>
<path d="M600.25,191.26 L599.05,191.02 L597.85,190.80 L596.65,190.58 L595.45,190.36 L594.24,190.15 L593.04,189.95 L591.83,189.75 L590.63,189.55 L589.42,189.37 L588.21,189.18 L587.00,189.01 L585.79,188.83 L584.58,188.67 L583.37,188.51 L583.86,186.68 L584.49,184.89 L585.23,183.16 L586.11,181.48 L587.10,179.87 L588.20,178.34 L589.42,176.88 L590.73,175.52 L592.14,174.26 L593.63,173.11 L595.21,172.06 L596.86,171.13 L598.57,170.32 L600.33,169.64 L602.14,169.09 L603.98,168.67 L605.85,168.38 L607.74,168.23 L609.63,168.21 L611.51,168.33 L613.39,168.59 L615.24,168.98 L613.72,170.20 L612.25,171.49 L610.85,172.85 L609.52,174.27 L608.25,175.76 L607.05,177.30 L605.92,178.89 L604.87,180.53 L603.89,182.22 L603.00,183.96 L602.19,185.73 L601.46,187.54 L600.81,189.39 L600.25,191.26Z" fill="#000"/>
<circle cx="608.90" cy="194.40" r="26.20" fill="none" stroke="#222" stroke-width="0.6"/>
<text x="565.5" y="225.7" font-family="'Liberation Serif', serif" font-weight="bold" font-size="16.5" text-anchor="middle" fill="#111">8</text>
<circle cx="608.90" cy="248.00" r="26.20" fill="#fff"/>
<path d="M606.28,246.95 L604.59,247.00 L602.91,247.06 L601.22,247.12 L599.53,247.20 L597.85,247.28 L596.16,247.38 L594.48,247.48 L592.79,247.59 L591.11,247.71 L589.43,247.84 L587.75,247.98 L586.06,248.13 L584.38,248.29 L582.70,248.46 L582.74,246.55 L582.92,244.65 L583.23,242.76 L583.68,240.91 L584.26,239.09 L584.98,237.32 L585.82,235.61 L586.78,233.96 L587.86,232.38 L589.06,230.89 L590.35,229.49 L591.75,228.19 L593.24,227.00 L594.81,225.91 L596.46,224.94 L598.17,224.10 L599.94,223.38 L601.75,222.79 L603.61,222.34 L605.49,222.02 L607.39,221.84 L607.16,223.63 L606.95,225.41 L606.76,227.20 L606.60,228.99 L606.46,230.78 L606.34,232.58 L606.25,234.37 L606.18,236.17 L606.14,237.97 L606.12,239.76 L606.12,241.56 L606.15,243.36 L606.20,245.16 L606.28,246.95Z" fill="#000"/>
<path d="M606.28,246.95 L608.34,246.91 L610.40,246.87 L612.46,246.85 L614.52,246.85 L616.58,246.86 L618.64,246.88 L620.69,246.91 L622.75,246.96 L624.81,247.03 L626.87,247.10 L628.93,247.19 L630.98,247.29 L633.04,247.41 L635.10,247.54 L635.06,249.45 L634.88,251.35 L634.57,253.24 L634.12,255.09 L633.54,256.91 L632.82,258.68 L631.98,260.39 L631.02,262.04 L629.94,263.62 L628.74,265.11 L627.45,266.51 L626.05,267.81 L624.56,269.00 L622.99,270.09 L621.34,271.06 L619.63,271.90 L617.86,272.62 L616.05,273.21 L614.19,273.66 L612.31,273.98 L610.41,274.16 L609.93,272.25 L609.48,270.33 L609.06,268.41 L608.66,266.48 L608.30,264.54 L607.96,262.60 L607.65,260.66 L607.37,258.71 L607.12,256.76 L606.89,254.80 L606.70,252.84 L606.53,250.88 L606.39,248.92 L606.28,246.95Z" fill="#000"/>
<circle cx="608.90" cy="248.00" r="26.20" fill="none" stroke="#222" stroke-width="0.6"/>
<text x="566" y="270.2" font-family="'Liberation Serif', serif" font-weight="bold" font-size="16.5" text-anchor="middle" fill="#111">15</text>
<circle cx="608.90" cy="302.00" r="26.20" fill="#fff"/>
<path d="M609.42,310.12 L611.30,310.24 L613.18,310.29 L615.07,310.26 L616.95,310.15 L618.82,309.97 L620.68,309.71 L622.54,309.38 L624.38,308.97 L626.20,308.49 L628.00,307.93 L629.77,307.31 L631.52,306.61 L633.24,305.85 L634.93,305.01 L634.65,306.84 L634.24,308.64 L633.71,310.41 L633.06,312.14 L632.28,313.82 L631.39,315.44 L630.39,316.99 L629.28,318.47 L628.07,319.86 L626.76,321.17 L625.36,322.38 L623.88,323.49 L622.33,324.49 L620.71,325.39 L619.03,326.16 L617.31,326.81 L615.54,327.35 L613.73,327.75 L611.90,328.03 L610.06,328.17 L608.21,328.19 L608.33,326.90 L608.43,325.61 L608.54,324.32 L608.64,323.03 L608.74,321.74 L608.83,320.45 L608.92,319.16 L609.00,317.87 L609.08,316.58 L609.16,315.29 L609.23,314.00 L609.30,312.71 L609.36,311.41 L609.42,310.12Z" fill="#000"/>
<path d="M609.42,310.12 L607.35,309.90 L605.28,309.59 L603.23,309.18 L601.20,308.68 L599.19,308.09 L597.22,307.41 L595.27,306.65 L593.36,305.80 L591.49,304.86 L589.67,303.84 L587.89,302.75 L586.16,301.57 L584.49,300.32 L582.87,298.99 L583.15,297.16 L583.56,295.36 L584.09,293.59 L584.74,291.86 L585.52,290.18 L586.41,288.56 L587.41,287.01 L588.52,285.53 L589.73,284.14 L591.04,282.83 L592.44,281.62 L593.92,280.51 L595.47,279.51 L597.09,278.61 L598.77,277.84 L600.49,277.19 L602.26,276.65 L604.07,276.25 L605.90,275.97 L607.74,275.83 L609.59,275.81 L609.67,278.26 L609.73,280.71 L609.79,283.16 L609.82,285.61 L609.85,288.06 L609.86,290.52 L609.85,292.97 L609.84,295.42 L609.80,297.87 L609.76,300.32 L609.69,302.77 L609.62,305.22 L609.53,307.67 L609.42,310.12Z" fill="#000"/>
<circle cx="608.90" cy="302.00" r="26.20" fill="none" stroke="#222" stroke-width="0.6"/>
<text x="566" y="313.2" font-family="'Liberation Serif', serif" font-weight="bold" font-size="16.5" text-anchor="middle" fill="#111">4</text>
<circle cx="608.60" cy="355.30" r="26.20" fill="#fff"/>
<path d="M615.94,355.30 L617.09,356.20 L618.24,357.11 L619.36,358.05 L620.47,359.00 L621.56,359.98 L622.64,360.97 L623.69,361.98 L624.73,363.02 L625.75,364.06 L626.76,365.13 L627.74,366.22 L628.70,367.32 L629.65,368.44 L630.57,369.57 L629.51,371.08 L628.35,372.52 L627.09,373.87 L625.73,375.12 L624.29,376.28 L622.77,377.34 L621.19,378.28 L619.53,379.11 L617.83,379.82 L616.08,380.41 L614.29,380.87 L612.47,381.21 L610.64,381.42 L608.79,381.50 L606.94,381.45 L605.10,381.27 L603.28,380.95 L601.49,380.52 L599.73,379.95 L598.01,379.27 L596.35,378.46 L594.75,377.54 L593.22,376.51 L591.76,375.37 L593.80,374.37 L595.80,373.30 L597.76,372.16 L599.67,370.94 L601.54,369.66 L603.37,368.31 L605.14,366.89 L606.86,365.41 L608.52,363.87 L610.13,362.26 L611.67,360.60 L613.16,358.89 L614.58,357.12 L615.94,355.30Z" fill="#000"/>
<path d="M615.94,355.30 L614.05,353.91 L612.13,352.57 L610.17,351.29 L608.17,350.06 L606.14,348.89 L604.08,347.77 L601.99,346.72 L599.86,345.72 L597.72,344.79 L595.54,343.91 L593.34,343.10 L591.12,342.35 L588.89,341.66 L586.63,341.03 L587.69,339.52 L588.85,338.08 L590.11,336.73 L591.47,335.48 L592.91,334.32 L594.43,333.26 L596.01,332.32 L597.67,331.49 L599.37,330.78 L601.12,330.19 L602.91,329.73 L604.73,329.39 L606.56,329.18 L608.41,329.10 L610.26,329.15 L612.10,329.33 L613.92,329.65 L615.71,330.08 L617.47,330.65 L619.19,331.33 L620.85,332.14 L622.45,333.06 L623.98,334.09 L625.44,335.23 L625.01,336.76 L624.53,338.29 L624.02,339.80 L623.47,341.29 L622.88,342.78 L622.26,344.24 L621.59,345.69 L620.89,347.13 L620.15,348.54 L619.38,349.93 L618.57,351.31 L617.73,352.66 L616.85,353.99 L615.94,355.30Z" fill="#000"/>
<circle cx="608.60" cy="355.30" r="26.20" fill="none" stroke="#222" stroke-width="0.6"/>
<text x="566" y="360.7" font-family="'Liberation Serif', serif" font-weight="bold" font-size="16.5" text-anchor="middle" fill="#111">12</text>
<circle cx="608.60" cy="409.40" r="26.20" fill="#fff"/>
<path d="M608.60,412.28 L609.70,413.60 L610.82,414.91 L611.94,416.20 L613.08,417.49 L614.23,418.76 L615.39,420.03 L616.57,421.28 L617.75,422.53 L618.95,423.76 L620.15,424.98 L621.37,426.19 L622.60,427.39 L623.84,428.58 L625.09,429.76 L623.60,430.88 L622.04,431.89 L620.41,432.78 L618.73,433.56 L616.99,434.22 L615.21,434.75 L613.39,435.16 L611.56,435.43 L609.70,435.58 L607.84,435.59 L605.99,435.47 L604.15,435.22 L602.33,434.84 L600.54,434.33 L598.79,433.70 L597.10,432.94 L595.46,432.06 L593.88,431.08 L592.38,429.98 L590.97,428.78 L589.64,427.48 L588.40,426.09 L587.27,424.61 L588.86,423.85 L590.44,423.07 L592.01,422.28 L593.57,421.46 L595.12,420.62 L596.66,419.77 L598.19,418.90 L599.71,418.01 L601.22,417.10 L602.72,416.17 L604.21,415.22 L605.68,414.26 L607.15,413.28 L608.60,412.28Z" fill="#000"/>
<path d="M608.60,412.28 L607.31,410.71 L606.03,409.12 L604.77,407.52 L603.53,405.90 L602.31,404.27 L601.10,402.63 L599.92,400.97 L598.75,399.30 L597.60,397.62 L596.46,395.93 L595.35,394.23 L594.25,392.51 L593.17,390.78 L592.11,389.04 L593.60,387.92 L595.16,386.91 L596.79,386.02 L598.47,385.24 L600.21,384.58 L601.99,384.05 L603.81,383.64 L605.64,383.37 L607.50,383.22 L609.36,383.21 L611.21,383.33 L613.05,383.58 L614.87,383.96 L616.66,384.47 L618.41,385.10 L620.10,385.86 L621.74,386.74 L623.32,387.72 L624.82,388.82 L626.23,390.02 L627.56,391.32 L628.80,392.71 L629.93,394.19 L628.52,395.61 L627.10,397.02 L625.66,398.40 L624.19,399.77 L622.71,401.11 L621.21,402.44 L619.70,403.74 L618.16,405.03 L616.61,406.29 L615.04,407.53 L613.46,408.75 L611.85,409.95 L610.23,411.13 L608.60,412.28Z" fill="#000"/>
<circle cx="608.60" cy="409.40" r="26.20" fill="none" stroke="#222" stroke-width="0.6"/>
<text x="566" y="414.7" font-family="'Liberation Serif', serif" font-weight="bold" font-size="16.5" text-anchor="middle" fill="#111">16</text>
<circle cx="608.60" cy="463.50" r="26.20" fill="#fff"/>
<path d="M612.53,465.86 L610.39,466.05 L608.24,466.21 L606.09,466.33 L603.94,466.42 L601.79,466.47 L599.63,466.49 L597.48,466.47 L595.33,466.41 L593.18,466.32 L591.03,466.19 L588.88,466.03 L586.74,465.83 L584.60,465.60 L582.46,465.33 L582.40,463.48 L582.47,461.63 L582.66,459.79 L582.99,457.97 L583.44,456.18 L584.02,454.42 L584.72,452.71 L585.55,451.05 L586.48,449.46 L587.53,447.93 L588.68,446.48 L589.93,445.12 L591.27,443.85 L592.70,442.68 L594.21,441.61 L595.79,440.65 L597.43,439.80 L599.13,439.07 L600.88,438.46 L602.67,437.98 L604.48,437.63 L606.32,437.40 L607.05,439.35 L607.75,441.33 L608.39,443.31 L609.00,445.31 L609.56,447.32 L610.07,449.35 L610.54,451.39 L610.96,453.43 L611.34,455.49 L611.67,457.55 L611.95,459.62 L612.19,461.69 L612.38,463.77 L612.53,465.86Z" fill="#000"/>
<path d="M612.53,465.86 L614.14,465.69 L615.74,465.50 L617.34,465.29 L618.94,465.06 L620.54,464.81 L622.13,464.54 L623.72,464.25 L625.31,463.94 L626.89,463.61 L628.47,463.26 L630.04,462.90 L631.61,462.51 L633.18,462.10 L634.74,461.67 L634.80,463.52 L634.73,465.37 L634.54,467.21 L634.21,469.03 L633.76,470.82 L633.18,472.58 L632.48,474.29 L631.65,475.95 L630.72,477.54 L629.67,479.07 L628.52,480.52 L627.27,481.88 L625.93,483.15 L624.50,484.32 L622.99,485.39 L621.41,486.35 L619.77,487.20 L618.07,487.93 L616.32,488.54 L614.53,489.02 L612.72,489.37 L610.88,489.60 L611.20,487.93 L611.49,486.25 L611.75,484.56 L611.97,482.87 L612.17,481.18 L612.33,479.48 L612.47,477.78 L612.57,476.08 L612.64,474.38 L612.68,472.67 L612.69,470.97 L612.67,469.26 L612.61,467.56 L612.53,465.86Z" fill="#000"/>
<circle cx="608.60" cy="463.50" r="26.20" fill="none" stroke="#222" stroke-width="0.6"/>
<text x="566" y="463.2" font-family="'Liberation Serif', serif" font-weight="bold" font-size="16.5" text-anchor="middle" fill="#111">5</text>
<circle cx="608.60" cy="517.50" r="26.20" fill="#fff"/>
<path d="M606.77,511.21 L608.88,511.73 L610.98,512.33 L613.05,512.99 L615.10,513.72 L617.13,514.53 L619.12,515.40 L621.09,516.34 L623.02,517.35 L624.91,518.42 L626.77,519.56 L628.59,520.76 L630.37,522.02 L632.10,523.34 L633.79,524.72 L633.20,526.51 L632.49,528.26 L631.65,529.95 L630.70,531.58 L629.63,533.13 L628.45,534.60 L627.17,535.98 L625.79,537.27 L624.33,538.46 L622.78,539.53 L621.16,540.49 L619.47,541.34 L617.73,542.06 L615.94,542.65 L614.11,543.11 L612.25,543.44 L610.38,543.64 L608.50,543.70 L606.61,543.62 L604.74,543.41 L602.88,543.07 L602.84,540.77 L602.84,538.47 L602.89,536.17 L602.99,533.87 L603.15,531.57 L603.35,529.28 L603.60,526.99 L603.91,524.71 L604.26,522.44 L604.66,520.17 L605.11,517.91 L605.62,515.67 L606.17,513.43 L606.77,511.21Z" fill="#000"/>
<path d="M606.77,511.21 L605.12,510.86 L603.47,510.55 L601.82,510.29 L600.15,510.07 L598.48,509.89 L596.81,509.75 L595.13,509.67 L593.46,509.62 L591.78,509.62 L590.10,509.66 L588.42,509.75 L586.75,509.88 L585.08,510.06 L583.41,510.28 L584.00,508.49 L584.71,506.74 L585.55,505.05 L586.50,503.42 L587.57,501.87 L588.75,500.40 L590.03,499.02 L591.41,497.73 L592.87,496.54 L594.42,495.47 L596.04,494.51 L597.73,493.66 L599.47,492.94 L601.26,492.35 L603.09,491.89 L604.95,491.56 L606.82,491.36 L608.70,491.30 L610.59,491.38 L612.46,491.59 L614.32,491.93 L613.65,493.26 L613.01,494.59 L612.38,495.93 L611.77,497.28 L611.18,498.64 L610.61,500.01 L610.06,501.39 L609.53,502.77 L609.02,504.16 L608.53,505.56 L608.06,506.96 L607.61,508.37 L607.18,509.79 L606.77,511.21Z" fill="#000"/>
<circle cx="608.60" cy="517.50" r="26.20" fill="none" stroke="#222" stroke-width="0.6"/>
<text x="566" y="523.2" font-family="'Liberation Serif', serif" font-weight="bold" font-size="16.5" text-anchor="middle" fill="#111">6</text>
<circle cx="270.80" cy="86.80" r="26.20" fill="#fff"/>
<path d="M279.71,87.85 L280.79,88.56 L281.87,89.29 L282.93,90.03 L283.98,90.79 L285.03,91.56 L286.06,92.34 L287.09,93.14 L288.10,93.95 L289.10,94.78 L290.09,95.62 L291.07,96.47 L292.03,97.33 L292.99,98.21 L293.93,99.10 L293.00,100.72 L291.95,102.26 L290.80,103.73 L289.54,105.11 L288.19,106.40 L286.75,107.59 L285.23,108.67 L283.64,109.64 L281.98,110.50 L280.26,111.23 L278.50,111.84 L276.69,112.33 L274.86,112.68 L273.01,112.91 L271.14,113.00 L269.28,112.96 L267.42,112.78 L265.58,112.47 L263.76,112.04 L261.98,111.47 L260.25,110.78 L258.57,109.97 L256.95,109.04 L255.40,108.00 L257.54,107.16 L259.64,106.22 L261.69,105.18 L263.69,104.03 L265.63,102.79 L267.50,101.46 L269.31,100.04 L271.04,98.52 L272.70,96.93 L274.28,95.26 L275.77,93.51 L277.17,91.69 L278.49,89.80 L279.71,87.85Z" fill="#000"/>
<path d="M279.71,87.85 L277.60,86.52 L275.46,85.24 L273.28,84.03 L271.08,82.86 L268.84,81.76 L266.58,80.71 L264.29,79.72 L261.98,78.79 L259.64,77.93 L257.28,77.12 L254.91,76.37 L252.51,75.68 L250.10,75.06 L247.67,74.50 L248.60,72.88 L249.65,71.34 L250.80,69.87 L252.06,68.49 L253.41,67.20 L254.85,66.01 L256.37,64.93 L257.96,63.96 L259.62,63.10 L261.34,62.37 L263.10,61.76 L264.91,61.27 L266.74,60.92 L268.59,60.69 L270.46,60.60 L272.32,60.64 L274.18,60.82 L276.02,61.13 L277.84,61.56 L279.62,62.13 L281.35,62.82 L283.03,63.63 L284.65,64.56 L286.20,65.60 L286.11,67.27 L285.97,68.94 L285.76,70.60 L285.50,72.25 L285.18,73.89 L284.79,75.52 L284.35,77.13 L283.86,78.73 L283.30,80.31 L282.69,81.87 L282.03,83.40 L281.31,84.91 L280.53,86.39 L279.71,87.85Z" fill="#000"/>
<circle cx="270.80" cy="86.80" r="26.20" fill="none" stroke="#222" stroke-width="0.6"/>
<text x="270" y="49.7" font-family="'Liberation Serif', serif" font-weight="bold" font-size="16.5" text-anchor="middle" fill="#111">11</text>
<circle cx="354.90" cy="87.30" r="26.20" fill="#fff"/>
<path d="M350.18,92.80 L351.94,93.86 L353.73,94.86 L355.56,95.77 L357.43,96.62 L359.33,97.39 L361.26,98.08 L363.21,98.70 L365.19,99.24 L367.19,99.70 L369.20,100.08 L371.23,100.38 L373.26,100.60 L375.31,100.74 L377.36,100.79 L376.35,102.35 L375.23,103.83 L374.01,105.23 L372.69,106.53 L371.28,107.74 L369.80,108.85 L368.23,109.85 L366.60,110.74 L364.92,111.51 L363.18,112.16 L361.40,112.68 L359.58,113.08 L357.75,113.34 L355.90,113.48 L354.04,113.49 L352.19,113.36 L350.35,113.10 L348.54,112.72 L346.76,112.20 L345.01,111.56 L343.32,110.80 L341.69,109.92 L340.12,108.93 L338.63,107.83 L339.44,106.75 L340.26,105.67 L341.08,104.60 L341.90,103.52 L342.73,102.44 L343.55,101.37 L344.37,100.29 L345.20,99.22 L346.03,98.15 L346.86,97.08 L347.69,96.01 L348.52,94.94 L349.35,93.87 L350.18,92.80Z" fill="#000"/>
<path d="M350.18,92.80 L348.62,91.77 L347.09,90.68 L345.60,89.54 L344.16,88.34 L342.76,87.09 L341.40,85.79 L340.10,84.44 L338.84,83.05 L337.64,81.61 L336.48,80.12 L335.39,78.60 L334.35,77.04 L333.37,75.44 L332.44,73.81 L333.45,72.25 L334.57,70.77 L335.79,69.37 L337.11,68.07 L338.52,66.86 L340.00,65.75 L341.57,64.75 L343.20,63.86 L344.88,63.09 L346.62,62.44 L348.40,61.92 L350.22,61.52 L352.05,61.26 L353.90,61.12 L355.76,61.11 L357.61,61.24 L359.45,61.50 L361.26,61.88 L363.04,62.40 L364.79,63.04 L366.48,63.80 L368.11,64.68 L369.68,65.67 L371.17,66.77 L369.65,68.61 L368.13,70.45 L366.61,72.29 L365.10,74.14 L363.59,75.99 L362.08,77.85 L360.58,79.71 L359.09,81.57 L357.59,83.43 L356.10,85.30 L354.62,87.17 L353.14,89.05 L351.66,90.92 L350.18,92.80Z" fill="#000"/>
<circle cx="354.90" cy="87.30" r="26.20" fill="none" stroke="#222" stroke-width="0.6"/>
<text x="355" y="49.7" font-family="'Liberation Serif', serif" font-weight="bold" font-size="16.5" text-anchor="middle" fill="#111">10</text>
<circle cx="440.00" cy="87.00" r="26.20" fill="#fff"/>
<path d="M433.45,79.40 L431.91,79.78 L430.39,80.22 L428.88,80.71 L427.39,81.26 L425.92,81.85 L424.47,82.50 L423.05,83.21 L421.65,83.96 L420.28,84.76 L418.95,85.61 L417.64,86.50 L416.36,87.45 L415.12,88.43 L413.92,89.47 L413.81,87.59 L413.83,85.71 L413.99,83.84 L414.28,81.98 L414.71,80.15 L415.27,78.36 L415.95,76.61 L416.76,74.91 L417.68,73.28 L418.72,71.71 L419.87,70.23 L421.13,68.83 L422.48,67.52 L423.92,66.31 L425.44,65.22 L427.04,64.23 L428.71,63.36 L430.43,62.61 L432.20,61.99 L434.02,61.49 L433.82,62.76 L433.65,64.03 L433.50,65.31 L433.37,66.59 L433.27,67.86 L433.20,69.15 L433.14,70.43 L433.12,71.71 L433.11,73.00 L433.13,74.28 L433.17,75.56 L433.24,76.84 L433.33,78.12 L433.45,79.40Z" fill="#000"/>
<path d="M433.45,79.40 L435.82,78.93 L438.21,78.58 L440.62,78.36 L443.04,78.28 L445.45,78.33 L447.86,78.51 L450.26,78.82 L452.64,79.26 L454.99,79.83 L457.30,80.52 L459.58,81.35 L461.80,82.29 L463.97,83.35 L466.08,84.53 L466.19,86.41 L466.17,88.29 L466.01,90.16 L465.72,92.02 L465.29,93.85 L464.73,95.64 L464.05,97.39 L463.24,99.09 L462.32,100.72 L461.28,102.29 L460.13,103.77 L458.87,105.17 L457.52,106.48 L456.08,107.69 L454.56,108.78 L452.96,109.77 L451.29,110.64 L449.57,111.39 L447.80,112.01 L445.98,112.51 L444.53,110.40 L443.15,108.25 L441.86,106.04 L440.65,103.79 L439.52,101.49 L438.49,99.16 L437.54,96.78 L436.67,94.37 L435.90,91.93 L435.23,89.47 L434.64,86.98 L434.15,84.47 L433.75,81.94 L433.45,79.40Z" fill="#000"/>
<circle cx="440.00" cy="87.00" r="26.20" fill="none" stroke="#222" stroke-width="0.6"/>
<text x="440" y="49.7" font-family="'Liberation Serif', serif" font-weight="bold" font-size="16.5" text-anchor="middle" fill="#111">9</text>
</g>
<rect x="59.5" y="6" width="98.5" height="96" fill="#f0f4fa" fill-opacity="0.97" stroke="#9a9a9a" stroke-width="0.6"/>
<circle cx="75.6" cy="21.4" r="3.2" fill="none" stroke="#333" stroke-width="0.6"/>
<text x="99.5" y="28.4" font-family="'Liberation Sans', sans-serif" font-size="19" fill="#111">M 1.0</text>
<circle cx="75.6" cy="43.1" r="6.1" fill="none" stroke="#333" stroke-width="0.6"/>
<text x="99.5" y="50.1" font-family="'Liberation Sans', sans-serif" font-size="19" fill="#111">M 2.0</text>
<circle cx="75.6" cy="64.8" r="9.2" fill="none" stroke="#333" stroke-width="0.6"/>
<text x="99.5" y="71.8" font-family="'Liberation Sans', sans-serif" font-size="19" fill="#111">M 3.0</text>
<circle cx="75.6" cy="86.5" r="12.4" fill="none" stroke="#333" stroke-width="0.6"/>
<text x="99.5" y="93.5" font-family="'Liberation Sans', sans-serif" font-size="19" fill="#111">M 4.0</text>
<path d="M80.4,100.9 L93.2,113.7 L80.4,126.5 L67.6,113.7Z" fill="#ffff00" stroke="#000" stroke-width="2"/>
<rect x="510" y="10.5" width="136" height="125" fill="#f2f5f8" fill-opacity="0.97"/>
<g stroke="#999" stroke-width="0.5"><circle cx="578.4" cy="73.8" r="8.23" fill="none"/><circle cx="578.4" cy="73.8" r="16.75" fill="none"/><circle cx="578.4" cy="73.8" r="25.89" fill="none"/><circle cx="578.4" cy="73.8" r="36.08" fill="none"/><circle cx="578.4" cy="73.8" r="47.96" fill="none"/><line x1="640.90" y1="73.80" x2="515.90" y2="73.80"/><line x1="638.77" y1="89.98" x2="518.03" y2="57.62"/><line x1="632.53" y1="105.05" x2="524.27" y2="42.55"/><line x1="622.59" y1="117.99" x2="534.21" y2="29.61"/><line x1="609.65" y1="127.93" x2="547.15" y2="19.67"/><line x1="594.58" y1="134.17" x2="562.22" y2="13.43"/><line x1="578.40" y1="136.30" x2="578.40" y2="11.30"/><line x1="562.22" y1="134.17" x2="594.58" y2="13.43"/><line x1="547.15" y1="127.93" x2="609.65" y2="19.67"/><line x1="534.21" y1="117.99" x2="622.59" y2="29.61"/><line x1="524.27" y1="105.05" x2="632.53" y2="42.55"/><line x1="518.03" y1="89.98" x2="638.77" y2="57.62"/></g>
<g fill="#1428e6"><circle cx="553.7" cy="24.7" r="1.1"/><circle cx="560.5" cy="37.3" r="1.1"/><circle cx="560.0" cy="38.7" r="1.1"/><circle cx="565.1" cy="45.1" r="1.1"/><circle cx="551.2" cy="27.6" r="1.1"/><circle cx="548.9" cy="39.4" r="1.1"/><circle cx="568.6" cy="42.4" r="1.1"/><circle cx="549.0" cy="24.0" r="1.1"/><circle cx="558.6" cy="40.2" r="1.1"/><circle cx="565.2" cy="40.4" r="1.1"/><circle cx="557.7" cy="42.6" r="1.1"/><circle cx="558.0" cy="38.5" r="1.1"/><circle cx="548.2" cy="31.9" r="1.1"/><circle cx="555.9" cy="34.3" r="1.1"/><circle cx="559.8" cy="43.3" r="1.1"/><circle cx="569.8" cy="45.6" r="1.1"/><circle cx="554.3" cy="31.9" r="1.1"/><circle cx="570.0" cy="46.2" r="1.1"/><circle cx="565.1" cy="47.0" r="1.1"/><circle cx="550.2" cy="26.3" r="1.1"/><circle cx="571.3" cy="46.6" r="1.1"/><circle cx="551.6" cy="29.3" r="1.1"/><circle cx="559.4" cy="33.5" r="1.1"/><circle cx="558.0" cy="38.2" r="1.1"/><circle cx="556.4" cy="39.3" r="1.1"/><circle cx="569.4" cy="46.3" r="1.1"/><circle cx="562.1" cy="48.2" r="1.1"/><circle cx="550.0" cy="23.9" r="1.1"/><circle cx="560.7" cy="49.5" r="1.1"/><circle cx="560.2" cy="35.8" r="1.1"/><circle cx="561.3" cy="41.9" r="1.1"/><circle cx="554.8" cy="40.1" r="1.1"/><circle cx="548.2" cy="31.1" r="1.1"/><circle cx="566.9" cy="51.0" r="1.1"/><circle cx="547.3" cy="22.3" r="1.1"/><circle cx="551.8" cy="21.9" r="1.1"/><circle cx="552.2" cy="28.5" r="1.1"/><circle cx="551.9" cy="16.8" r="1.1"/><circle cx="556.5" cy="40.8" r="1.1"/><circle cx="552.5" cy="30.1" r="1.1"/><circle cx="563.4" cy="48.4" r="1.1"/><circle cx="569.3" cy="49.7" r="1.1"/><circle cx="550.2" cy="30.7" r="1.1"/><circle cx="545.2" cy="21.1" r="1.1"/><circle cx="553.3" cy="23.1" r="1.1"/><circle cx="547.8" cy="25.2" r="1.1"/><circle cx="545.6" cy="21.4" r="1.1"/><circle cx="569.6" cy="47.6" r="1.1"/><circle cx="568.5" cy="45.4" r="1.1"/><circle cx="556.1" cy="36.5" r="1.1"/><circle cx="563.4" cy="37.1" r="1.1"/><circle cx="562.0" cy="36.9" r="1.1"/><circle cx="570.2" cy="46.3" r="1.1"/><circle cx="562.7" cy="41.2" r="1.1"/><circle cx="553.6" cy="24.8" r="1.1"/><circle cx="551.7" cy="39.8" r="1.1"/><circle cx="556.1" cy="37.8" r="1.1"/><circle cx="559.2" cy="37.1" r="1.1"/><circle cx="549.0" cy="17.7" r="1.1"/><circle cx="549.6" cy="19.2" r="1.1"/><circle cx="564.0" cy="35.8" r="1.1"/><circle cx="553.3" cy="30.5" r="1.1"/><circle cx="562.3" cy="40.9" r="1.1"/><circle cx="547.9" cy="20.5" r="1.1"/><circle cx="559.8" cy="41.3" r="1.1"/><circle cx="556.9" cy="32.8" r="1.1"/><circle cx="560.6" cy="36.6" r="1.1"/><circle cx="551.1" cy="30.2" r="1.1"/><circle cx="556.2" cy="29.2" r="1.1"/><circle cx="555.8" cy="29.8" r="1.1"/><circle cx="560.7" cy="45.2" r="1.1"/><circle cx="562.4" cy="42.2" r="1.1"/><circle cx="552.4" cy="29.2" r="1.1"/><circle cx="547.2" cy="29.6" r="1.1"/><circle cx="553.7" cy="22.3" r="1.1"/><circle cx="546.9" cy="23.3" r="1.1"/><circle cx="555.7" cy="27.3" r="1.1"/><circle cx="552.1" cy="35.5" r="1.1"/><circle cx="564.6" cy="46.3" r="1.1"/><circle cx="559.0" cy="40.6" r="1.1"/><circle cx="568.0" cy="45.2" r="1.1"/><circle cx="548.3" cy="23.1" r="1.1"/><circle cx="556.6" cy="36.6" r="1.1"/><circle cx="561.2" cy="48.0" r="1.1"/><circle cx="551.0" cy="24.1" r="1.1"/><circle cx="556.5" cy="42.1" r="1.1"/><circle cx="565.3" cy="43.5" r="1.1"/><circle cx="551.7" cy="28.8" r="1.1"/><circle cx="564.6" cy="43.4" r="1.1"/><circle cx="553.4" cy="33.6" r="1.1"/><circle cx="560.2" cy="28.6" r="1.1"/><circle cx="546.7" cy="26.0" r="1.1"/><circle cx="541.5" cy="22.6" r="1.1"/><circle cx="570.4" cy="48.3" r="1.1"/><circle cx="550.7" cy="36.4" r="1.1"/><circle cx="552.8" cy="24.6" r="1.1"/><circle cx="561.3" cy="43.5" r="1.1"/><circle cx="561.0" cy="32.8" r="1.1"/><circle cx="553.6" cy="27.3" r="1.1"/><circle cx="546.1" cy="22.2" r="1.1"/><circle cx="560.6" cy="36.5" r="1.1"/><circle cx="542.8" cy="23.6" r="1.1"/><circle cx="568.7" cy="45.6" r="1.1"/><circle cx="571.8" cy="43.0" r="1.1"/><circle cx="567.0" cy="46.6" r="1.1"/><circle cx="563.3" cy="42.0" r="1.1"/><circle cx="551.0" cy="23.5" r="1.1"/><circle cx="554.7" cy="37.8" r="1.1"/><circle cx="552.4" cy="34.1" r="1.1"/><circle cx="555.1" cy="28.7" r="1.1"/><circle cx="550.0" cy="28.1" r="1.1"/><circle cx="566.1" cy="41.7" r="1.1"/><circle cx="553.1" cy="30.6" r="1.1"/><circle cx="562.0" cy="46.4" r="1.1"/><circle cx="548.5" cy="25.4" r="1.1"/><circle cx="569.8" cy="40.1" r="1.1"/><circle cx="561.6" cy="47.0" r="1.1"/><circle cx="565.7" cy="45.9" r="1.1"/><circle cx="547.4" cy="20.4" r="1.1"/><circle cx="556.2" cy="36.7" r="1.1"/><circle cx="559.8" cy="29.1" r="1.1"/><circle cx="545.3" cy="19.6" r="1.1"/><circle cx="546.4" cy="21.3" r="1.1"/><circle cx="546.7" cy="21.8" r="1.1"/><circle cx="567.8" cy="49.7" r="1.1"/><circle cx="558.4" cy="34.0" r="1.1"/><circle cx="554.2" cy="28.1" r="1.1"/><circle cx="558.8" cy="40.6" r="1.1"/><circle cx="560.5" cy="36.4" r="1.1"/><circle cx="552.4" cy="30.1" r="1.1"/><circle cx="552.4" cy="20.2" r="1.1"/><circle cx="556.1" cy="29.8" r="1.1"/><circle cx="546.8" cy="22.2" r="1.1"/><circle cx="557.8" cy="39.3" r="1.1"/><circle cx="567.2" cy="40.9" r="1.1"/><circle cx="557.4" cy="40.5" r="1.1"/><circle cx="557.9" cy="30.9" r="1.1"/><circle cx="560.1" cy="42.3" r="1.1"/><circle cx="556.6" cy="31.4" r="1.1"/><circle cx="554.2" cy="24.7" r="1.1"/><circle cx="558.6" cy="35.4" r="1.1"/><circle cx="556.6" cy="31.5" r="1.1"/><circle cx="551.7" cy="35.3" r="1.1"/><circle cx="558.5" cy="27.7" r="1.1"/><circle cx="566.2" cy="47.2" r="1.1"/><circle cx="558.5" cy="32.0" r="1.1"/><circle cx="547.5" cy="23.8" r="1.1"/><circle cx="569.7" cy="44.1" r="1.1"/><circle cx="566.2" cy="42.1" r="1.1"/><circle cx="562.4" cy="34.0" r="1.1"/><circle cx="548.6" cy="22.0" r="1.1"/><circle cx="549.4" cy="23.4" r="1.1"/><circle cx="562.8" cy="43.8" r="1.1"/><circle cx="548.0" cy="22.3" r="1.1"/><circle cx="566.0" cy="46.5" r="1.1"/><circle cx="564.9" cy="45.4" r="1.1"/><circle cx="546.8" cy="24.2" r="1.1"/><circle cx="568.2" cy="42.7" r="1.1"/><circle cx="571.7" cy="45.7" r="1.1"/><circle cx="548.9" cy="18.6" r="1.1"/><circle cx="567.5" cy="40.0" r="1.1"/><circle cx="548.7" cy="22.1" r="1.1"/><circle cx="562.4" cy="42.8" r="1.1"/><circle cx="553.8" cy="28.8" r="1.1"/><circle cx="558.1" cy="37.1" r="1.1"/><circle cx="551.7" cy="23.4" r="1.1"/><circle cx="554.8" cy="24.5" r="1.1"/><circle cx="557.7" cy="29.2" r="1.1"/><circle cx="556.2" cy="29.1" r="1.1"/><circle cx="554.3" cy="33.0" r="1.1"/><circle cx="554.4" cy="16.8" r="1.1"/><circle cx="555.5" cy="31.8" r="1.1"/><circle cx="561.2" cy="43.6" r="1.1"/><circle cx="560.3" cy="44.8" r="1.1"/><circle cx="564.3" cy="37.8" r="1.1"/><circle cx="561.1" cy="38.7" r="1.1"/><circle cx="566.0" cy="47.3" r="1.1"/><circle cx="562.3" cy="42.8" r="1.1"/><circle cx="569.7" cy="45.5" r="1.1"/><circle cx="562.8" cy="41.1" r="1.1"/><circle cx="550.5" cy="24.6" r="1.1"/><circle cx="557.9" cy="38.3" r="1.1"/><circle cx="552.8" cy="29.1" r="1.1"/><circle cx="564.3" cy="51.3" r="1.1"/><circle cx="553.5" cy="27.7" r="1.1"/><circle cx="568.0" cy="43.7" r="1.1"/><circle cx="559.6" cy="37.0" r="1.1"/><circle cx="544.9" cy="21.0" r="1.1"/><circle cx="558.1" cy="33.1" r="1.1"/><circle cx="553.3" cy="30.9" r="1.1"/><circle cx="553.2" cy="29.1" r="1.1"/><circle cx="570.1" cy="48.7" r="1.1"/><circle cx="559.2" cy="32.2" r="1.1"/><circle cx="566.8" cy="43.7" r="1.1"/><circle cx="567.5" cy="42.6" r="1.1"/><circle cx="563.5" cy="40.6" r="1.1"/><circle cx="568.9" cy="43.2" r="1.1"/><circle cx="565.8" cy="50.5" r="1.1"/><circle cx="556.5" cy="33.7" r="1.1"/><circle cx="560.8" cy="42.5" r="1.1"/><circle cx="557.0" cy="43.3" r="1.1"/><circle cx="552.8" cy="25.6" r="1.1"/><circle cx="550.4" cy="24.8" r="1.1"/><circle cx="560.7" cy="42.0" r="1.1"/><circle cx="564.3" cy="46.7" r="1.1"/><circle cx="567.0" cy="45.0" r="1.1"/><circle cx="556.7" cy="26.2" r="1.1"/><circle cx="546.2" cy="23.0" r="1.1"/><circle cx="547.1" cy="22.6" r="1.1"/><circle cx="555.9" cy="28.8" r="1.1"/><circle cx="559.5" cy="36.9" r="1.1"/><circle cx="554.0" cy="29.2" r="1.1"/><circle cx="557.7" cy="31.3" r="1.1"/><circle cx="559.3" cy="37.2" r="1.1"/><circle cx="570.3" cy="46.9" r="1.1"/><circle cx="546.8" cy="24.1" r="1.1"/><circle cx="552.9" cy="27.1" r="1.1"/><circle cx="567.4" cy="45.7" r="1.1"/><circle cx="562.2" cy="50.7" r="1.1"/><circle cx="551.3" cy="33.0" r="1.1"/><circle cx="563.7" cy="43.0" r="1.1"/><circle cx="563.6" cy="38.5" r="1.1"/><circle cx="560.4" cy="39.8" r="1.1"/><circle cx="565.1" cy="41.1" r="1.1"/><circle cx="569.5" cy="47.8" r="1.1"/><circle cx="551.2" cy="20.6" r="1.1"/><circle cx="559.7" cy="32.6" r="1.1"/><circle cx="558.5" cy="42.3" r="1.1"/><circle cx="557.6" cy="37.6" r="1.1"/><circle cx="557.4" cy="40.9" r="1.1"/><circle cx="547.4" cy="26.6" r="1.1"/><circle cx="551.1" cy="21.2" r="1.1"/><circle cx="566.1" cy="48.9" r="1.1"/><circle cx="560.9" cy="42.6" r="1.1"/><circle cx="563.0" cy="35.1" r="1.1"/><circle cx="557.7" cy="32.3" r="1.1"/><circle cx="552.8" cy="29.0" r="1.1"/><circle cx="561.7" cy="41.8" r="1.1"/><circle cx="567.2" cy="39.6" r="1.1"/><circle cx="555.3" cy="29.4" r="1.1"/><circle cx="555.7" cy="24.5" r="1.1"/><circle cx="543.7" cy="22.7" r="1.1"/><circle cx="557.5" cy="34.7" r="1.1"/><circle cx="550.0" cy="33.0" r="1.1"/><circle cx="556.1" cy="27.5" r="1.1"/><circle cx="562.0" cy="44.2" r="1.1"/><circle cx="553.4" cy="30.4" r="1.1"/><circle cx="553.2" cy="26.7" r="1.1"/><circle cx="545.1" cy="24.4" r="1.1"/><circle cx="560.0" cy="43.6" r="1.1"/><circle cx="549.3" cy="25.4" r="1.1"/><circle cx="560.8" cy="43.8" r="1.1"/><circle cx="564.8" cy="44.3" r="1.1"/><circle cx="552.6" cy="21.1" r="1.1"/><circle cx="554.1" cy="32.1" r="1.1"/><circle cx="556.3" cy="38.7" r="1.1"/><circle cx="550.7" cy="25.3" r="1.1"/><circle cx="542.5" cy="23.1" r="1.1"/><circle cx="559.9" cy="47.3" r="1.1"/><circle cx="558.5" cy="28.1" r="1.1"/></g>
<g fill="#1428e6"><circle cx="604.4" cy="114.6" r="1.1"/><circle cx="612.1" cy="128.2" r="1.1"/><circle cx="605.8" cy="119.6" r="1.1"/><circle cx="595.8" cy="117.6" r="1.1"/><circle cx="602.7" cy="118.0" r="1.1"/><circle cx="606.3" cy="123.0" r="1.1"/><circle cx="606.7" cy="117.9" r="1.1"/><circle cx="599.5" cy="113.9" r="1.1"/><circle cx="594.7" cy="105.4" r="1.1"/><circle cx="600.6" cy="114.9" r="1.1"/><circle cx="606.3" cy="117.4" r="1.1"/><circle cx="609.1" cy="129.5" r="1.1"/><circle cx="606.1" cy="128.6" r="1.1"/><circle cx="600.0" cy="120.8" r="1.1"/><circle cx="592.1" cy="100.8" r="1.1"/><circle cx="590.3" cy="103.2" r="1.1"/><circle cx="599.5" cy="117.4" r="1.1"/><circle cx="609.1" cy="125.5" r="1.1"/><circle cx="601.6" cy="122.9" r="1.1"/><circle cx="599.2" cy="120.4" r="1.1"/><circle cx="610.3" cy="127.2" r="1.1"/><circle cx="600.9" cy="107.7" r="1.1"/><circle cx="602.8" cy="127.1" r="1.1"/><circle cx="601.1" cy="111.8" r="1.1"/><circle cx="607.0" cy="121.9" r="1.1"/><circle cx="590.8" cy="101.4" r="1.1"/><circle cx="591.2" cy="102.6" r="1.1"/><circle cx="599.1" cy="115.8" r="1.1"/><circle cx="607.0" cy="119.3" r="1.1"/><circle cx="604.2" cy="119.1" r="1.1"/><circle cx="600.2" cy="106.5" r="1.1"/><circle cx="597.6" cy="112.6" r="1.1"/><circle cx="590.8" cy="107.5" r="1.1"/><circle cx="599.9" cy="109.5" r="1.1"/><circle cx="600.8" cy="109.0" r="1.1"/><circle cx="595.3" cy="106.3" r="1.1"/><circle cx="589.0" cy="100.8" r="1.1"/><circle cx="589.1" cy="107.0" r="1.1"/><circle cx="599.1" cy="114.2" r="1.1"/><circle cx="592.1" cy="106.2" r="1.1"/><circle cx="598.2" cy="112.3" r="1.1"/><circle cx="591.8" cy="103.6" r="1.1"/><circle cx="594.3" cy="104.5" r="1.1"/><circle cx="590.4" cy="100.7" r="1.1"/><circle cx="602.4" cy="111.3" r="1.1"/><circle cx="589.1" cy="102.9" r="1.1"/><circle cx="598.9" cy="111.8" r="1.1"/><circle cx="610.0" cy="129.2" r="1.1"/><circle cx="592.4" cy="108.1" r="1.1"/><circle cx="592.0" cy="106.0" r="1.1"/><circle cx="603.7" cy="118.2" r="1.1"/><circle cx="590.1" cy="102.2" r="1.1"/><circle cx="605.9" cy="121.4" r="1.1"/><circle cx="595.8" cy="116.8" r="1.1"/><circle cx="610.1" cy="127.6" r="1.1"/><circle cx="593.9" cy="109.1" r="1.1"/><circle cx="608.6" cy="123.4" r="1.1"/><circle cx="593.5" cy="101.7" r="1.1"/><circle cx="601.3" cy="122.6" r="1.1"/><circle cx="590.7" cy="99.7" r="1.1"/><circle cx="589.5" cy="101.7" r="1.1"/><circle cx="590.0" cy="101.6" r="1.1"/><circle cx="593.9" cy="99.7" r="1.1"/><circle cx="598.3" cy="103.2" r="1.1"/><circle cx="614.5" cy="126.3" r="1.1"/><circle cx="608.7" cy="127.9" r="1.1"/><circle cx="607.8" cy="129.5" r="1.1"/><circle cx="602.3" cy="118.5" r="1.1"/><circle cx="608.2" cy="129.5" r="1.1"/><circle cx="606.8" cy="126.2" r="1.1"/><circle cx="594.0" cy="102.3" r="1.1"/><circle cx="603.0" cy="121.3" r="1.1"/><circle cx="607.8" cy="129.1" r="1.1"/><circle cx="602.1" cy="124.4" r="1.1"/><circle cx="612.5" cy="121.6" r="1.1"/><circle cx="599.3" cy="109.7" r="1.1"/><circle cx="598.2" cy="112.8" r="1.1"/><circle cx="596.1" cy="117.2" r="1.1"/><circle cx="593.9" cy="109.3" r="1.1"/><circle cx="599.5" cy="120.4" r="1.1"/><circle cx="606.9" cy="119.9" r="1.1"/><circle cx="591.5" cy="105.8" r="1.1"/><circle cx="602.4" cy="123.1" r="1.1"/><circle cx="605.6" cy="123.0" r="1.1"/><circle cx="602.8" cy="121.3" r="1.1"/><circle cx="606.7" cy="126.0" r="1.1"/><circle cx="600.1" cy="121.6" r="1.1"/><circle cx="602.7" cy="111.2" r="1.1"/><circle cx="609.1" cy="126.8" r="1.1"/><circle cx="599.8" cy="109.7" r="1.1"/><circle cx="596.1" cy="98.9" r="1.1"/><circle cx="588.8" cy="105.5" r="1.1"/><circle cx="601.2" cy="117.6" r="1.1"/><circle cx="603.0" cy="119.9" r="1.1"/><circle cx="593.8" cy="108.1" r="1.1"/><circle cx="603.1" cy="119.6" r="1.1"/><circle cx="600.6" cy="118.7" r="1.1"/><circle cx="610.2" cy="129.1" r="1.1"/><circle cx="596.8" cy="105.1" r="1.1"/><circle cx="607.3" cy="122.8" r="1.1"/><circle cx="602.0" cy="118.6" r="1.1"/><circle cx="596.7" cy="103.7" r="1.1"/><circle cx="590.0" cy="108.0" r="1.1"/><circle cx="590.3" cy="104.8" r="1.1"/><circle cx="589.0" cy="101.8" r="1.1"/><circle cx="609.1" cy="126.6" r="1.1"/><circle cx="593.4" cy="101.5" r="1.1"/><circle cx="607.1" cy="125.1" r="1.1"/><circle cx="605.4" cy="116.8" r="1.1"/><circle cx="611.3" cy="124.0" r="1.1"/><circle cx="599.3" cy="109.0" r="1.1"/><circle cx="593.8" cy="102.3" r="1.1"/><circle cx="611.0" cy="122.6" r="1.1"/><circle cx="596.7" cy="104.5" r="1.1"/><circle cx="604.9" cy="113.6" r="1.1"/><circle cx="590.8" cy="102.9" r="1.1"/><circle cx="598.1" cy="109.8" r="1.1"/><circle cx="601.5" cy="116.6" r="1.1"/><circle cx="608.4" cy="120.0" r="1.1"/><circle cx="601.2" cy="119.3" r="1.1"/><circle cx="599.0" cy="103.3" r="1.1"/><circle cx="590.9" cy="114.3" r="1.1"/><circle cx="597.7" cy="113.9" r="1.1"/><circle cx="592.7" cy="105.5" r="1.1"/><circle cx="610.2" cy="127.4" r="1.1"/><circle cx="615.3" cy="126.4" r="1.1"/><circle cx="600.3" cy="120.2" r="1.1"/><circle cx="600.0" cy="111.7" r="1.1"/><circle cx="605.3" cy="131.7" r="1.1"/><circle cx="603.4" cy="112.3" r="1.1"/><circle cx="612.8" cy="118.6" r="1.1"/><circle cx="605.0" cy="130.7" r="1.1"/><circle cx="594.8" cy="109.7" r="1.1"/><circle cx="592.6" cy="102.5" r="1.1"/><circle cx="605.9" cy="121.1" r="1.1"/><circle cx="600.8" cy="121.0" r="1.1"/><circle cx="590.9" cy="101.2" r="1.1"/><circle cx="600.9" cy="111.7" r="1.1"/><circle cx="597.4" cy="110.2" r="1.1"/><circle cx="599.8" cy="106.0" r="1.1"/><circle cx="592.9" cy="102.6" r="1.1"/><circle cx="589.4" cy="103.9" r="1.1"/><circle cx="592.9" cy="104.8" r="1.1"/><circle cx="614.1" cy="126.8" r="1.1"/><circle cx="609.0" cy="130.5" r="1.1"/><circle cx="594.9" cy="103.8" r="1.1"/><circle cx="599.3" cy="107.4" r="1.1"/><circle cx="600.7" cy="116.7" r="1.1"/><circle cx="596.4" cy="111.6" r="1.1"/><circle cx="601.2" cy="112.8" r="1.1"/><circle cx="607.9" cy="127.1" r="1.1"/><circle cx="596.9" cy="106.0" r="1.1"/><circle cx="605.7" cy="125.1" r="1.1"/><circle cx="601.1" cy="116.0" r="1.1"/><circle cx="600.9" cy="116.3" r="1.1"/><circle cx="593.6" cy="106.6" r="1.1"/><circle cx="612.4" cy="118.7" r="1.1"/><circle cx="605.1" cy="124.5" r="1.1"/><circle cx="609.1" cy="130.4" r="1.1"/><circle cx="590.0" cy="100.6" r="1.1"/><circle cx="599.5" cy="112.7" r="1.1"/><circle cx="600.8" cy="116.8" r="1.1"/><circle cx="592.6" cy="102.4" r="1.1"/><circle cx="605.2" cy="125.2" r="1.1"/><circle cx="598.8" cy="112.5" r="1.1"/><circle cx="598.3" cy="113.4" r="1.1"/><circle cx="605.5" cy="117.2" r="1.1"/><circle cx="611.5" cy="121.1" r="1.1"/><circle cx="592.7" cy="109.2" r="1.1"/><circle cx="603.7" cy="125.7" r="1.1"/><circle cx="599.3" cy="116.3" r="1.1"/><circle cx="598.4" cy="106.6" r="1.1"/><circle cx="590.3" cy="107.4" r="1.1"/><circle cx="608.5" cy="127.2" r="1.1"/><circle cx="612.4" cy="124.9" r="1.1"/><circle cx="608.8" cy="128.3" r="1.1"/><circle cx="609.0" cy="123.1" r="1.1"/><circle cx="602.3" cy="114.6" r="1.1"/><circle cx="592.2" cy="106.1" r="1.1"/><circle cx="607.7" cy="132.0" r="1.1"/><circle cx="603.3" cy="115.2" r="1.1"/><circle cx="598.4" cy="114.5" r="1.1"/><circle cx="612.4" cy="120.2" r="1.1"/><circle cx="591.6" cy="105.9" r="1.1"/><circle cx="599.0" cy="107.8" r="1.1"/><circle cx="608.2" cy="125.3" r="1.1"/><circle cx="604.5" cy="126.8" r="1.1"/><circle cx="592.0" cy="100.0" r="1.1"/><circle cx="604.6" cy="115.5" r="1.1"/><circle cx="596.7" cy="107.8" r="1.1"/><circle cx="604.0" cy="121.9" r="1.1"/><circle cx="604.6" cy="119.7" r="1.1"/><circle cx="602.7" cy="107.7" r="1.1"/><circle cx="610.6" cy="128.5" r="1.1"/><circle cx="601.8" cy="120.5" r="1.1"/><circle cx="588.9" cy="108.8" r="1.1"/><circle cx="597.1" cy="112.2" r="1.1"/><circle cx="597.5" cy="106.9" r="1.1"/><circle cx="608.1" cy="129.8" r="1.1"/><circle cx="598.9" cy="111.3" r="1.1"/></g>
<g fill="#22e84a"><circle cx="574.1" cy="71.0" r="1.1"/><circle cx="590.0" cy="96.2" r="1.1"/><circle cx="570.6" cy="63.0" r="1.1"/><circle cx="569.0" cy="64.0" r="1.1"/><circle cx="581.3" cy="78.8" r="1.1"/><circle cx="588.7" cy="79.4" r="1.1"/><circle cx="585.6" cy="90.8" r="1.1"/><circle cx="591.0" cy="94.6" r="1.1"/><circle cx="570.9" cy="62.3" r="1.1"/><circle cx="572.1" cy="71.6" r="1.1"/><circle cx="579.7" cy="80.9" r="1.1"/><circle cx="590.4" cy="94.8" r="1.1"/><circle cx="570.9" cy="66.1" r="1.1"/><circle cx="592.8" cy="95.1" r="1.1"/><circle cx="585.4" cy="83.7" r="1.1"/><circle cx="571.4" cy="61.2" r="1.1"/><circle cx="585.7" cy="87.8" r="1.1"/><circle cx="586.4" cy="90.6" r="1.1"/><circle cx="582.6" cy="95.7" r="1.1"/><circle cx="579.2" cy="80.6" r="1.1"/><circle cx="575.7" cy="75.1" r="1.1"/><circle cx="590.0" cy="96.6" r="1.1"/><circle cx="574.4" cy="70.8" r="1.1"/><circle cx="570.8" cy="65.3" r="1.1"/><circle cx="576.2" cy="73.3" r="1.1"/><circle cx="574.0" cy="66.6" r="1.1"/><circle cx="583.1" cy="98.6" r="1.1"/><circle cx="574.8" cy="68.8" r="1.1"/><circle cx="574.2" cy="74.6" r="1.1"/><circle cx="586.1" cy="84.7" r="1.1"/><circle cx="573.7" cy="72.8" r="1.1"/><circle cx="585.9" cy="87.1" r="1.1"/><circle cx="589.7" cy="86.4" r="1.1"/><circle cx="582.6" cy="78.6" r="1.1"/><circle cx="584.2" cy="72.7" r="1.1"/><circle cx="574.7" cy="66.5" r="1.1"/><circle cx="577.9" cy="84.4" r="1.1"/><circle cx="575.3" cy="65.1" r="1.1"/><circle cx="590.3" cy="95.2" r="1.1"/><circle cx="576.5" cy="68.7" r="1.1"/><circle cx="566.6" cy="71.8" r="1.1"/><circle cx="576.0" cy="76.3" r="1.1"/><circle cx="588.7" cy="91.6" r="1.1"/><circle cx="588.7" cy="91.5" r="1.1"/><circle cx="583.2" cy="91.2" r="1.1"/><circle cx="581.3" cy="78.8" r="1.1"/><circle cx="583.8" cy="89.4" r="1.1"/><circle cx="577.3" cy="77.1" r="1.1"/><circle cx="574.3" cy="64.0" r="1.1"/><circle cx="582.1" cy="77.3" r="1.1"/><circle cx="578.6" cy="72.8" r="1.1"/><circle cx="580.5" cy="83.1" r="1.1"/><circle cx="586.6" cy="98.5" r="1.1"/><circle cx="590.3" cy="88.7" r="1.1"/><circle cx="573.5" cy="71.7" r="1.1"/><circle cx="572.1" cy="64.2" r="1.1"/><circle cx="580.8" cy="77.9" r="1.1"/><circle cx="586.3" cy="81.7" r="1.1"/><circle cx="572.6" cy="72.0" r="1.1"/><circle cx="580.6" cy="76.8" r="1.1"/><circle cx="575.6" cy="82.7" r="1.1"/><circle cx="586.8" cy="75.4" r="1.1"/><circle cx="579.9" cy="75.4" r="1.1"/><circle cx="579.5" cy="74.9" r="1.1"/><circle cx="588.3" cy="90.6" r="1.1"/><circle cx="589.6" cy="90.2" r="1.1"/><circle cx="575.3" cy="75.5" r="1.1"/><circle cx="574.2" cy="67.5" r="1.1"/><circle cx="579.5" cy="81.1" r="1.1"/><circle cx="590.9" cy="90.0" r="1.1"/><circle cx="586.8" cy="84.7" r="1.1"/><circle cx="578.9" cy="79.3" r="1.1"/><circle cx="580.9" cy="72.6" r="1.1"/><circle cx="586.3" cy="93.3" r="1.1"/><circle cx="581.3" cy="81.8" r="1.1"/><circle cx="576.0" cy="74.3" r="1.1"/><circle cx="582.4" cy="82.6" r="1.1"/><circle cx="575.5" cy="72.1" r="1.1"/><circle cx="572.2" cy="72.3" r="1.1"/><circle cx="589.6" cy="93.6" r="1.1"/><circle cx="581.7" cy="79.0" r="1.1"/><circle cx="593.3" cy="86.9" r="1.1"/><circle cx="593.8" cy="90.4" r="1.1"/><circle cx="570.3" cy="65.3" r="1.1"/><circle cx="591.4" cy="90.3" r="1.1"/><circle cx="587.4" cy="93.4" r="1.1"/><circle cx="573.7" cy="71.5" r="1.1"/><circle cx="578.1" cy="84.5" r="1.1"/><circle cx="568.5" cy="64.6" r="1.1"/><circle cx="568.7" cy="60.6" r="1.1"/><circle cx="587.3" cy="90.5" r="1.1"/><circle cx="576.0" cy="75.3" r="1.1"/><circle cx="584.2" cy="76.2" r="1.1"/><circle cx="582.6" cy="84.8" r="1.1"/><circle cx="572.9" cy="79.6" r="1.1"/><circle cx="580.6" cy="87.6" r="1.1"/><circle cx="575.1" cy="60.3" r="1.1"/><circle cx="590.2" cy="96.7" r="1.1"/><circle cx="567.4" cy="64.3" r="1.1"/><circle cx="578.5" cy="75.3" r="1.1"/><circle cx="588.5" cy="92.9" r="1.1"/><circle cx="580.8" cy="73.7" r="1.1"/><circle cx="581.1" cy="81.8" r="1.1"/><circle cx="579.2" cy="73.3" r="1.1"/><circle cx="571.4" cy="62.9" r="1.1"/><circle cx="591.0" cy="93.4" r="1.1"/><circle cx="582.1" cy="78.2" r="1.1"/><circle cx="574.9" cy="68.0" r="1.1"/><circle cx="577.7" cy="78.2" r="1.1"/><circle cx="578.2" cy="68.6" r="1.1"/><circle cx="593.3" cy="94.2" r="1.1"/><circle cx="576.5" cy="65.5" r="1.1"/><circle cx="574.7" cy="71.5" r="1.1"/><circle cx="582.1" cy="78.6" r="1.1"/><circle cx="586.1" cy="80.5" r="1.1"/><circle cx="586.3" cy="95.1" r="1.1"/><circle cx="588.9" cy="90.8" r="1.1"/><circle cx="572.2" cy="61.0" r="1.1"/><circle cx="579.6" cy="75.2" r="1.1"/><circle cx="587.4" cy="92.4" r="1.1"/><circle cx="571.2" cy="69.6" r="1.1"/><circle cx="577.5" cy="60.7" r="1.1"/><circle cx="591.5" cy="91.9" r="1.1"/><circle cx="572.2" cy="67.4" r="1.1"/><circle cx="572.5" cy="59.7" r="1.1"/><circle cx="588.6" cy="90.7" r="1.1"/><circle cx="585.6" cy="91.6" r="1.1"/><circle cx="577.0" cy="74.6" r="1.1"/><circle cx="573.1" cy="66.4" r="1.1"/><circle cx="582.9" cy="86.3" r="1.1"/><circle cx="575.4" cy="73.2" r="1.1"/><circle cx="577.9" cy="76.7" r="1.1"/><circle cx="581.9" cy="80.4" r="1.1"/><circle cx="569.8" cy="70.4" r="1.1"/><circle cx="585.7" cy="83.3" r="1.1"/><circle cx="587.3" cy="86.4" r="1.1"/><circle cx="581.6" cy="71.9" r="1.1"/><circle cx="584.3" cy="82.0" r="1.1"/><circle cx="574.7" cy="78.8" r="1.1"/><circle cx="587.1" cy="92.0" r="1.1"/><circle cx="582.1" cy="76.4" r="1.1"/><circle cx="590.7" cy="91.7" r="1.1"/><circle cx="583.9" cy="85.2" r="1.1"/><circle cx="586.8" cy="98.6" r="1.1"/><circle cx="573.9" cy="74.4" r="1.1"/><circle cx="573.2" cy="66.4" r="1.1"/><circle cx="587.8" cy="84.3" r="1.1"/><circle cx="578.7" cy="83.4" r="1.1"/><circle cx="576.7" cy="60.6" r="1.1"/><circle cx="580.9" cy="76.6" r="1.1"/><circle cx="579.5" cy="80.6" r="1.1"/><circle cx="582.6" cy="76.3" r="1.1"/><circle cx="581.6" cy="81.5" r="1.1"/><circle cx="572.8" cy="62.3" r="1.1"/><circle cx="588.7" cy="86.0" r="1.1"/><circle cx="590.3" cy="91.6" r="1.1"/><circle cx="597.1" cy="86.9" r="1.1"/><circle cx="590.3" cy="88.8" r="1.1"/><circle cx="586.3" cy="86.9" r="1.1"/><circle cx="584.2" cy="84.7" r="1.1"/><circle cx="587.7" cy="85.3" r="1.1"/><circle cx="579.6" cy="82.0" r="1.1"/><circle cx="575.9" cy="68.3" r="1.1"/><circle cx="581.1" cy="71.8" r="1.1"/><circle cx="573.8" cy="62.5" r="1.1"/><circle cx="586.5" cy="85.6" r="1.1"/><circle cx="574.4" cy="65.3" r="1.1"/><circle cx="577.3" cy="75.4" r="1.1"/><circle cx="581.5" cy="81.2" r="1.1"/><circle cx="579.5" cy="77.7" r="1.1"/><circle cx="575.3" cy="66.2" r="1.1"/><circle cx="571.4" cy="63.6" r="1.1"/><circle cx="576.6" cy="82.4" r="1.1"/><circle cx="583.4" cy="76.9" r="1.1"/><circle cx="576.2" cy="75.6" r="1.1"/><circle cx="575.4" cy="71.9" r="1.1"/><circle cx="585.8" cy="97.0" r="1.1"/><circle cx="575.6" cy="80.0" r="1.1"/><circle cx="579.5" cy="75.3" r="1.1"/><circle cx="566.4" cy="71.1" r="1.1"/><circle cx="583.9" cy="79.4" r="1.1"/><circle cx="574.2" cy="67.9" r="1.1"/><circle cx="590.6" cy="96.2" r="1.1"/><circle cx="594.0" cy="89.8" r="1.1"/><circle cx="572.6" cy="62.7" r="1.1"/><circle cx="578.5" cy="65.4" r="1.1"/><circle cx="577.1" cy="78.0" r="1.1"/><circle cx="586.9" cy="87.2" r="1.1"/><circle cx="573.9" cy="65.3" r="1.1"/><circle cx="582.6" cy="77.1" r="1.1"/><circle cx="574.5" cy="75.4" r="1.1"/><circle cx="583.8" cy="76.1" r="1.1"/><circle cx="589.2" cy="81.9" r="1.1"/><circle cx="572.8" cy="70.6" r="1.1"/><circle cx="583.8" cy="78.1" r="1.1"/><circle cx="571.4" cy="60.8" r="1.1"/><circle cx="574.1" cy="65.4" r="1.1"/><circle cx="587.9" cy="86.4" r="1.1"/><circle cx="575.6" cy="81.4" r="1.1"/><circle cx="587.2" cy="85.2" r="1.1"/><circle cx="574.3" cy="75.5" r="1.1"/><circle cx="585.2" cy="87.4" r="1.1"/><circle cx="589.7" cy="93.5" r="1.1"/><circle cx="590.0" cy="96.3" r="1.1"/><circle cx="590.4" cy="83.8" r="1.1"/><circle cx="572.0" cy="65.7" r="1.1"/><circle cx="583.3" cy="78.4" r="1.1"/><circle cx="575.9" cy="63.8" r="1.1"/><circle cx="576.1" cy="62.4" r="1.1"/><circle cx="576.1" cy="62.4" r="1.1"/><circle cx="565.1" cy="62.9" r="1.1"/><circle cx="575.6" cy="75.6" r="1.1"/><circle cx="575.8" cy="78.8" r="1.1"/><circle cx="575.2" cy="69.4" r="1.1"/><circle cx="582.9" cy="86.6" r="1.1"/><circle cx="585.0" cy="85.2" r="1.1"/><circle cx="569.7" cy="68.2" r="1.1"/><circle cx="575.9" cy="72.2" r="1.1"/><circle cx="587.4" cy="97.5" r="1.1"/><circle cx="575.0" cy="75.8" r="1.1"/><circle cx="591.3" cy="86.6" r="1.1"/><circle cx="575.2" cy="72.6" r="1.1"/><circle cx="578.8" cy="65.1" r="1.1"/><circle cx="575.5" cy="73.3" r="1.1"/><circle cx="575.3" cy="67.6" r="1.1"/><circle cx="575.7" cy="71.8" r="1.1"/><circle cx="585.7" cy="78.4" r="1.1"/><circle cx="576.7" cy="69.8" r="1.1"/><circle cx="567.2" cy="62.4" r="1.1"/><circle cx="573.1" cy="67.3" r="1.1"/><circle cx="582.5" cy="80.2" r="1.1"/><circle cx="578.3" cy="84.6" r="1.1"/><circle cx="584.5" cy="83.7" r="1.1"/><circle cx="582.1" cy="73.3" r="1.1"/><circle cx="571.7" cy="73.9" r="1.1"/><circle cx="578.7" cy="79.2" r="1.1"/><circle cx="568.1" cy="65.6" r="1.1"/><circle cx="584.9" cy="81.4" r="1.1"/><circle cx="571.7" cy="80.5" r="1.1"/><circle cx="565.3" cy="70.9" r="1.1"/><circle cx="576.0" cy="74.1" r="1.1"/><circle cx="580.5" cy="78.0" r="1.1"/><circle cx="579.9" cy="77.3" r="1.1"/><circle cx="572.4" cy="78.8" r="1.1"/><circle cx="569.5" cy="60.3" r="1.1"/><circle cx="585.3" cy="85.5" r="1.1"/><circle cx="588.3" cy="91.7" r="1.1"/><circle cx="585.0" cy="84.0" r="1.1"/><circle cx="578.3" cy="69.5" r="1.1"/><circle cx="575.6" cy="71.2" r="1.1"/><circle cx="572.9" cy="64.3" r="1.1"/><circle cx="592.0" cy="94.2" r="1.1"/><circle cx="568.3" cy="62.7" r="1.1"/><circle cx="571.3" cy="62.8" r="1.1"/><circle cx="590.7" cy="83.9" r="1.1"/><circle cx="581.6" cy="77.7" r="1.1"/><circle cx="580.0" cy="84.9" r="1.1"/><circle cx="578.8" cy="79.7" r="1.1"/><circle cx="590.1" cy="95.3" r="1.1"/><circle cx="584.5" cy="84.4" r="1.1"/><circle cx="594.0" cy="90.9" r="1.1"/><circle cx="579.9" cy="81.5" r="1.1"/><circle cx="581.6" cy="71.8" r="1.1"/><circle cx="568.9" cy="61.5" r="1.1"/><circle cx="576.2" cy="70.9" r="1.1"/><circle cx="582.0" cy="75.7" r="1.1"/><circle cx="577.4" cy="67.7" r="1.1"/><circle cx="583.1" cy="88.7" r="1.1"/><circle cx="592.8" cy="93.3" r="1.1"/><circle cx="576.5" cy="72.3" r="1.1"/><circle cx="570.1" cy="62.3" r="1.1"/><circle cx="579.5" cy="84.3" r="1.1"/><circle cx="574.0" cy="69.0" r="1.1"/><circle cx="572.0" cy="67.1" r="1.1"/><circle cx="580.7" cy="77.9" r="1.1"/><circle cx="576.4" cy="83.9" r="1.1"/><circle cx="577.5" cy="71.8" r="1.1"/><circle cx="585.5" cy="86.6" r="1.1"/><circle cx="589.1" cy="85.2" r="1.1"/><circle cx="572.0" cy="71.9" r="1.1"/><circle cx="573.8" cy="68.1" r="1.1"/><circle cx="581.2" cy="82.9" r="1.1"/><circle cx="583.9" cy="83.0" r="1.1"/><circle cx="587.9" cy="86.8" r="1.1"/><circle cx="582.3" cy="75.7" r="1.1"/><circle cx="576.7" cy="77.0" r="1.1"/><circle cx="576.7" cy="65.2" r="1.1"/><circle cx="583.1" cy="87.3" r="1.1"/><circle cx="588.1" cy="94.2" r="1.1"/><circle cx="582.1" cy="92.2" r="1.1"/><circle cx="583.9" cy="86.6" r="1.1"/><circle cx="587.1" cy="87.8" r="1.1"/><circle cx="587.1" cy="94.0" r="1.1"/><circle cx="588.3" cy="95.7" r="1.1"/><circle cx="572.1" cy="72.9" r="1.1"/><circle cx="583.6" cy="72.7" r="1.1"/><circle cx="571.2" cy="65.9" r="1.1"/><circle cx="573.8" cy="78.4" r="1.1"/><circle cx="582.1" cy="67.7" r="1.1"/><circle cx="572.7" cy="70.5" r="1.1"/></g>
<g fill="#e84a4a"><circle cx="619.1" cy="45.7" r="1.1"/><circle cx="626.7" cy="46.4" r="1.1"/><circle cx="633.9" cy="53.5" r="1.1"/><circle cx="631.5" cy="54.0" r="1.1"/><circle cx="623.1" cy="47.0" r="1.1"/><circle cx="618.0" cy="52.6" r="1.1"/><circle cx="633.8" cy="51.6" r="1.1"/><circle cx="621.9" cy="47.6" r="1.1"/><circle cx="630.5" cy="46.1" r="1.1"/><circle cx="628.6" cy="47.4" r="1.1"/><circle cx="621.7" cy="50.0" r="1.1"/><circle cx="635.9" cy="45.2" r="1.1"/><circle cx="629.9" cy="54.1" r="1.1"/><circle cx="622.8" cy="46.2" r="1.1"/><circle cx="617.5" cy="51.2" r="1.1"/><circle cx="634.0" cy="51.7" r="1.1"/><circle cx="626.2" cy="51.5" r="1.1"/><circle cx="619.9" cy="45.8" r="1.1"/><circle cx="633.0" cy="52.7" r="1.1"/><circle cx="631.2" cy="55.9" r="1.1"/><circle cx="621.6" cy="47.5" r="1.1"/><circle cx="630.7" cy="49.1" r="1.1"/><circle cx="620.3" cy="46.6" r="1.1"/><circle cx="627.0" cy="45.0" r="1.1"/><circle cx="631.1" cy="48.3" r="1.1"/><circle cx="623.7" cy="43.1" r="1.1"/><circle cx="623.3" cy="55.4" r="1.1"/><circle cx="624.7" cy="47.7" r="1.1"/><circle cx="623.8" cy="44.2" r="1.1"/><circle cx="624.0" cy="47.8" r="1.1"/><circle cx="630.0" cy="46.7" r="1.1"/><circle cx="623.5" cy="47.7" r="1.1"/><circle cx="626.8" cy="48.9" r="1.1"/><circle cx="633.7" cy="48.2" r="1.1"/><circle cx="626.1" cy="49.7" r="1.1"/><circle cx="630.9" cy="53.6" r="1.1"/><circle cx="629.5" cy="45.6" r="1.1"/><circle cx="629.9" cy="54.8" r="1.1"/><circle cx="627.5" cy="45.2" r="1.1"/><circle cx="619.3" cy="45.3" r="1.1"/><circle cx="631.1" cy="45.5" r="1.1"/><circle cx="626.5" cy="48.4" r="1.1"/><circle cx="627.5" cy="47.8" r="1.1"/><circle cx="635.4" cy="51.9" r="1.1"/><circle cx="621.4" cy="45.5" r="1.1"/><circle cx="632.5" cy="50.3" r="1.1"/><circle cx="621.5" cy="49.2" r="1.1"/><circle cx="630.4" cy="54.0" r="1.1"/><circle cx="626.8" cy="58.4" r="1.1"/><circle cx="626.7" cy="37.6" r="1.1"/><circle cx="622.5" cy="51.2" r="1.1"/><circle cx="624.2" cy="51.2" r="1.1"/><circle cx="628.0" cy="54.4" r="1.1"/><circle cx="639.0" cy="39.6" r="1.1"/><circle cx="633.4" cy="51.4" r="1.1"/><circle cx="632.9" cy="52.4" r="1.1"/><circle cx="618.0" cy="48.9" r="1.1"/><circle cx="622.1" cy="49.0" r="1.1"/><circle cx="627.9" cy="52.4" r="1.1"/><circle cx="630.0" cy="51.2" r="1.1"/><circle cx="627.6" cy="36.2" r="1.1"/><circle cx="624.2" cy="44.9" r="1.1"/><circle cx="630.3" cy="50.6" r="1.1"/><circle cx="634.6" cy="47.2" r="1.1"/><circle cx="628.4" cy="52.7" r="1.1"/><circle cx="627.8" cy="49.1" r="1.1"/><circle cx="632.9" cy="54.5" r="1.1"/><circle cx="619.3" cy="48.4" r="1.1"/><circle cx="635.0" cy="48.8" r="1.1"/><circle cx="628.6" cy="51.6" r="1.1"/><circle cx="623.4" cy="43.8" r="1.1"/><circle cx="636.8" cy="47.0" r="1.1"/><circle cx="624.5" cy="46.3" r="1.1"/><circle cx="631.1" cy="54.7" r="1.1"/><circle cx="629.1" cy="45.0" r="1.1"/><circle cx="628.1" cy="53.0" r="1.1"/><circle cx="627.4" cy="43.8" r="1.1"/><circle cx="627.3" cy="56.0" r="1.1"/><circle cx="619.5" cy="52.5" r="1.1"/><circle cx="627.8" cy="54.2" r="1.1"/><circle cx="634.1" cy="43.2" r="1.1"/><circle cx="622.9" cy="52.1" r="1.1"/><circle cx="621.9" cy="47.7" r="1.1"/><circle cx="627.4" cy="51.3" r="1.1"/><circle cx="622.2" cy="51.2" r="1.1"/><circle cx="628.2" cy="46.6" r="1.1"/><circle cx="632.5" cy="46.9" r="1.1"/><circle cx="629.6" cy="45.9" r="1.1"/><circle cx="632.7" cy="43.0" r="1.1"/><circle cx="623.2" cy="45.4" r="1.1"/><circle cx="632.7" cy="49.9" r="1.1"/><circle cx="617.2" cy="49.5" r="1.1"/><circle cx="631.1" cy="43.8" r="1.1"/><circle cx="622.2" cy="46.9" r="1.1"/><circle cx="622.2" cy="48.5" r="1.1"/><circle cx="626.0" cy="52.2" r="1.1"/><circle cx="620.3" cy="43.9" r="1.1"/><circle cx="631.9" cy="55.4" r="1.1"/><circle cx="628.9" cy="45.7" r="1.1"/><circle cx="630.4" cy="49.2" r="1.1"/><circle cx="631.6" cy="51.9" r="1.1"/><circle cx="626.8" cy="47.7" r="1.1"/><circle cx="623.0" cy="53.6" r="1.1"/><circle cx="623.9" cy="48.0" r="1.1"/><circle cx="627.2" cy="43.4" r="1.1"/><circle cx="629.9" cy="45.6" r="1.1"/><circle cx="634.5" cy="49.7" r="1.1"/><circle cx="622.1" cy="43.4" r="1.1"/><circle cx="630.3" cy="46.6" r="1.1"/><circle cx="623.1" cy="49.7" r="1.1"/><circle cx="619.6" cy="44.8" r="1.1"/><circle cx="621.9" cy="44.5" r="1.1"/><circle cx="633.7" cy="50.4" r="1.1"/><circle cx="631.2" cy="49.7" r="1.1"/><circle cx="625.3" cy="54.7" r="1.1"/><circle cx="622.3" cy="47.5" r="1.1"/><circle cx="632.6" cy="55.5" r="1.1"/><circle cx="622.6" cy="47.7" r="1.1"/><circle cx="630.8" cy="54.2" r="1.1"/><circle cx="626.0" cy="41.0" r="1.1"/></g>
<g fill="#e84a4a"><circle cx="525.0" cy="100.0" r="1.1"/><circle cx="530.9" cy="104.4" r="1.1"/><circle cx="525.9" cy="108.1" r="1.1"/><circle cx="528.3" cy="100.5" r="1.1"/><circle cx="530.9" cy="105.5" r="1.1"/><circle cx="519.4" cy="99.4" r="1.1"/><circle cx="521.7" cy="98.2" r="1.1"/><circle cx="529.2" cy="102.3" r="1.1"/><circle cx="521.5" cy="103.1" r="1.1"/><circle cx="530.3" cy="99.8" r="1.1"/><circle cx="527.5" cy="106.4" r="1.1"/><circle cx="523.6" cy="100.2" r="1.1"/><circle cx="527.0" cy="97.7" r="1.1"/><circle cx="532.4" cy="98.7" r="1.1"/><circle cx="531.0" cy="104.5" r="1.1"/><circle cx="527.7" cy="98.8" r="1.1"/><circle cx="527.3" cy="104.5" r="1.1"/><circle cx="526.0" cy="97.3" r="1.1"/><circle cx="526.1" cy="102.9" r="1.1"/><circle cx="515.2" cy="101.3" r="1.1"/><circle cx="528.7" cy="100.8" r="1.1"/><circle cx="526.1" cy="101.9" r="1.1"/><circle cx="520.5" cy="106.0" r="1.1"/><circle cx="527.6" cy="100.6" r="1.1"/><circle cx="528.5" cy="105.9" r="1.1"/><circle cx="530.0" cy="103.2" r="1.1"/><circle cx="525.2" cy="108.7" r="1.1"/><circle cx="524.5" cy="99.7" r="1.1"/><circle cx="523.2" cy="97.0" r="1.1"/><circle cx="529.7" cy="102.1" r="1.1"/><circle cx="525.3" cy="102.9" r="1.1"/><circle cx="525.3" cy="96.9" r="1.1"/><circle cx="531.1" cy="103.7" r="1.1"/><circle cx="528.1" cy="99.5" r="1.1"/><circle cx="526.6" cy="98.4" r="1.1"/><circle cx="525.4" cy="96.4" r="1.1"/><circle cx="527.8" cy="109.1" r="1.1"/><circle cx="525.7" cy="95.9" r="1.1"/><circle cx="522.7" cy="97.4" r="1.1"/><circle cx="531.5" cy="97.7" r="1.1"/><circle cx="522.9" cy="97.6" r="1.1"/><circle cx="526.9" cy="96.6" r="1.1"/><circle cx="529.7" cy="98.3" r="1.1"/><circle cx="527.2" cy="104.7" r="1.1"/><circle cx="528.5" cy="108.4" r="1.1"/><circle cx="528.4" cy="107.6" r="1.1"/><circle cx="531.3" cy="98.1" r="1.1"/><circle cx="522.6" cy="93.9" r="1.1"/><circle cx="530.9" cy="101.5" r="1.1"/><circle cx="525.6" cy="96.7" r="1.1"/><circle cx="524.8" cy="104.4" r="1.1"/><circle cx="520.8" cy="100.8" r="1.1"/><circle cx="529.4" cy="106.3" r="1.1"/><circle cx="530.8" cy="100.8" r="1.1"/><circle cx="525.6" cy="98.3" r="1.1"/><circle cx="529.6" cy="104.4" r="1.1"/><circle cx="528.3" cy="103.7" r="1.1"/><circle cx="530.0" cy="103.1" r="1.1"/><circle cx="522.6" cy="93.4" r="1.1"/><circle cx="521.7" cy="95.4" r="1.1"/><circle cx="522.1" cy="103.0" r="1.1"/><circle cx="525.6" cy="96.8" r="1.1"/><circle cx="532.0" cy="100.7" r="1.1"/><circle cx="520.5" cy="104.4" r="1.1"/><circle cx="520.0" cy="97.8" r="1.1"/><circle cx="522.9" cy="98.4" r="1.1"/><circle cx="526.3" cy="106.1" r="1.1"/><circle cx="527.5" cy="106.7" r="1.1"/><circle cx="528.8" cy="99.4" r="1.1"/><circle cx="525.8" cy="107.8" r="1.1"/><circle cx="527.8" cy="100.2" r="1.1"/><circle cx="526.0" cy="98.4" r="1.1"/><circle cx="530.8" cy="106.1" r="1.1"/><circle cx="522.2" cy="97.9" r="1.1"/><circle cx="522.1" cy="98.7" r="1.1"/><circle cx="523.4" cy="96.0" r="1.1"/><circle cx="525.3" cy="107.1" r="1.1"/><circle cx="519.4" cy="106.8" r="1.1"/><circle cx="529.2" cy="105.7" r="1.1"/><circle cx="530.1" cy="102.3" r="1.1"/><circle cx="524.4" cy="100.3" r="1.1"/><circle cx="527.0" cy="103.8" r="1.1"/><circle cx="527.6" cy="100.0" r="1.1"/><circle cx="518.0" cy="102.6" r="1.1"/><circle cx="523.0" cy="102.5" r="1.1"/><circle cx="528.6" cy="106.1" r="1.1"/><circle cx="524.5" cy="102.1" r="1.1"/><circle cx="525.7" cy="104.0" r="1.1"/><circle cx="522.4" cy="99.5" r="1.1"/><circle cx="530.1" cy="104.1" r="1.1"/></g>
<circle cx="578.4" cy="73.8" r="62.5" fill="none" stroke="#333" stroke-width="1.1"/>
<path d="M575.4,73.8 H581.4 M578.4,70.8 V76.8" stroke="#111" stroke-width="1"/>
<path d="M550,22 H556 M553,19 V25" stroke="#111" stroke-width="1"/>
<path d="M630,47 H636 M633,44 V50" stroke="#111" stroke-width="1"/>
<rect x="324.5" y="504.4" width="146.3" height="4.2" fill="#fff" stroke="#000" stroke-width="0.8"/>
<rect x="324.5" y="504.4" width="24.4" height="4.2" fill="#000"/>
<rect x="373.3" y="504.4" width="24.4" height="4.2" fill="#000"/>
<rect x="422.0" y="504.4" width="24.4" height="4.2" fill="#000"/>
<text x="324.5" y="526.5" font-family="'Liberation Sans', sans-serif" font-size="17" text-anchor="middle" fill="#111">0</text>
<text x="373.3" y="526.5" font-family="'Liberation Sans', sans-serif" font-size="17" text-anchor="middle" fill="#111">1</text>
<text x="422.0" y="526.5" font-family="'Liberation Sans', sans-serif" font-size="17" text-anchor="middle" fill="#111">2</text>
<text x="470.8" y="526.5" font-family="'Liberation Sans', sans-serif" font-size="17" text-anchor="middle" fill="#111">3</text>
<text x="398" y="497.5" font-family="'Liberation Sans', sans-serif" font-size="15" text-anchor="middle" fill="#111">Km</text>
<rect x="55.8" y="2.8" width="598.7" height="543.6" fill="none" stroke="#999" stroke-width="0.6"/>
<rect x="55.8" y="2.8" width="87.8" height="3.2" fill="#000"/>
<rect x="55.8" y="543.3" width="87.8" height="3.2" fill="#000"/>
<rect x="143.6" y="2.8" width="84.5" height="3.2" fill="#fff"/>
<rect x="143.6" y="543.3" width="84.5" height="3.2" fill="#fff"/>
<rect x="228.1" y="2.8" width="84.6" height="3.2" fill="#000"/>
<rect x="228.1" y="543.3" width="84.6" height="3.2" fill="#000"/>
<rect x="312.7" y="2.8" width="84.60000000000002" height="3.2" fill="#fff"/>
<rect x="312.7" y="543.3" width="84.60000000000002" height="3.2" fill="#fff"/>
<rect x="397.3" y="2.8" width="84.5" height="3.2" fill="#000"/>
<rect x="397.3" y="543.3" width="84.5" height="3.2" fill="#000"/>
<rect x="481.8" y="2.8" width="84.59999999999997" height="3.2" fill="#fff"/>
<rect x="481.8" y="543.3" width="84.59999999999997" height="3.2" fill="#fff"/>
<rect x="566.4" y="2.8" width="88.0" height="3.2" fill="#000"/>
<rect x="566.4" y="543.3" width="88.0" height="3.2" fill="#000"/>
<rect x="55.8" y="2.8" width="3.2" height="56.7" fill="#000"/>
<rect x="651.2" y="2.8" width="3.2" height="56.7" fill="#000"/>
<rect x="55.8" y="59.5" width="3.2" height="107.5" fill="#fff"/>
<rect x="651.2" y="59.5" width="3.2" height="107.5" fill="#fff"/>
<rect x="55.8" y="167" width="3.2" height="107.5" fill="#000"/>
<rect x="651.2" y="167" width="3.2" height="107.5" fill="#000"/>
<rect x="55.8" y="274.5" width="3.2" height="107.5" fill="#fff"/>
<rect x="651.2" y="274.5" width="3.2" height="107.5" fill="#fff"/>
<rect x="55.8" y="382" width="3.2" height="107.60000000000002" fill="#000"/>
<rect x="651.2" y="382" width="3.2" height="107.60000000000002" fill="#000"/>
<rect x="55.8" y="489.6" width="3.2" height="56.89999999999998" fill="#fff"/>
<rect x="651.2" y="489.6" width="3.2" height="56.89999999999998" fill="#fff"/>
<line x1="482" y1="543" x2="482" y2="550" stroke="#555" stroke-width="0.6"/>
<line x1="57" y1="543" x2="57" y2="550" stroke="#555" stroke-width="0.6"/>
<line x1="50" y1="274.5" x2="57" y2="274.5" stroke="#555" stroke-width="0.6"/>
<text x="27" y="282" font-family="'Liberation Sans', sans-serif" font-size="19.5" text-anchor="middle" fill="#111">38.4°</text>
<text x="59" y="567" font-family="'Liberation Sans', sans-serif" font-size="19.5" text-anchor="middle" fill="#111">20.4°</text>
<text x="482" y="567" font-family="'Liberation Sans', sans-serif" font-size="19.5" text-anchor="middle" fill="#111">20.5°</text>
<text x="19.2" y="41.3" font-family="'Liberation Sans', sans-serif" font-weight="bold" font-size="26" fill="#000">a)</text>
<defs><linearGradient id="cbg" x1="0" y1="0" x2="1" y2="0"><stop offset="0.000" stop-color="#420a68"/><stop offset="0.050" stop-color="#520e6d"/><stop offset="0.100" stop-color="#62146e"/><stop offset="0.150" stop-color="#721a6e"/><stop offset="0.200" stop-color="#84206b"/><stop offset="0.250" stop-color="#932667"/><stop offset="0.300" stop-color="#a32c61"/><stop offset="0.350" stop-color="#b3325a"/><stop offset="0.400" stop-color="#c33b4f"/><stop offset="0.450" stop-color="#d04545"/><stop offset="0.500" stop-color="#dd513a"/><stop offset="0.550" stop-color="#e75e2e"/><stop offset="0.600" stop-color="#f06f20"/><stop offset="0.650" stop-color="#f68013"/><stop offset="0.700" stop-color="#fa9207"/><stop offset="0.750" stop-color="#fca50a"/><stop offset="0.800" stop-color="#fbba1f"/><stop offset="0.850" stop-color="#f8cd37"/><stop offset="0.900" stop-color="#f4e156"/><stop offset="0.950" stop-color="#f2f27d"/><stop offset="1.000" stop-color="#fcffa4"/></linearGradient></defs>
<rect x="117.7" y="577.7" width="473.8" height="18.2" fill="url(#cbg)" stroke="#000" stroke-width="1.6"/>
<line x1="117.7" y1="596.5" x2="117.7" y2="601.8" stroke="#000" stroke-width="0.9"/>
<line x1="196.7" y1="596.5" x2="196.7" y2="601.8" stroke="#000" stroke-width="0.9"/>
<line x1="275.7" y1="596.5" x2="275.7" y2="601.8" stroke="#000" stroke-width="0.9"/>
<line x1="354.7" y1="596.5" x2="354.7" y2="601.8" stroke="#000" stroke-width="0.9"/>
<line x1="433.7" y1="596.5" x2="433.7" y2="601.8" stroke="#000" stroke-width="0.9"/>
<line x1="512.7" y1="596.5" x2="512.7" y2="601.8" stroke="#000" stroke-width="0.9"/>
<text x="117.7" y="619.6" font-family="'Liberation Sans', sans-serif" font-size="19" text-anchor="middle" fill="#111">0</text>
<text x="275.7" y="619.6" font-family="'Liberation Sans', sans-serif" font-size="19" text-anchor="middle" fill="#111">20</text>
<text x="433.7" y="619.6" font-family="'Liberation Sans', sans-serif" font-size="19" text-anchor="middle" fill="#111">40</text>
<text x="355" y="637.6" font-family="'Liberation Sans', sans-serif" font-size="15.6" text-anchor="middle" fill="#111">Days since 24/02/2024</text>
<rect x="88.5" y="653.6" width="591.0" height="215.79999999999995" fill="#fff"/>
<g stroke="#a8a8a8" stroke-width="0.8" stroke-dasharray="2.6,1.6"><line x1="88.5" y1="838.6" x2="679.5" y2="838.6"/><line x1="88.5" y1="807.8" x2="679.5" y2="807.8"/><line x1="88.5" y1="776.9" x2="679.5" y2="776.9"/><line x1="88.5" y1="746.1" x2="679.5" y2="746.1"/><line x1="88.5" y1="715.3" x2="679.5" y2="715.3"/><line x1="88.5" y1="684.5" x2="679.5" y2="684.5"/><line x1="170.6" y1="653.6" x2="170.6" y2="869.4"/><line x1="252.6" y1="653.6" x2="252.6" y2="869.4"/><line x1="334.6" y1="653.6" x2="334.6" y2="869.4"/><line x1="416.7" y1="653.6" x2="416.7" y2="869.4"/><line x1="498.8" y1="653.6" x2="498.8" y2="869.4"/><line x1="580.8" y1="653.6" x2="580.8" y2="869.4"/><line x1="662.9" y1="653.6" x2="662.9" y2="869.4"/></g>
<g fill="#ffffff" stroke="#333" stroke-width="0.55"><circle cx="91.1" cy="768.6" r="2.9"/><circle cx="103.5" cy="759.2" r="2.9"/><circle cx="108.3" cy="729.4" r="2.9"/><circle cx="111.2" cy="766.9" r="2.9"/><circle cx="113.6" cy="766.9" r="2.9"/><circle cx="115.6" cy="757.9" r="2.9"/><circle cx="118.4" cy="785.6" r="2.9"/><circle cx="121.5" cy="742.6" r="2.9"/><circle cx="128.8" cy="787.7" r="2.9"/><circle cx="119.5" cy="773.9" r="2.9"/><circle cx="129.4" cy="754.9" r="2.9"/><circle cx="133.1" cy="777.3" r="2.9"/><circle cx="132.9" cy="815.2" r="2.9"/><circle cx="129.0" cy="782.7" r="2.9"/><circle cx="147.9" cy="782.1" r="2.9"/><circle cx="137.4" cy="765.7" r="2.9"/><circle cx="156.0" cy="770.4" r="2.9"/><circle cx="156.8" cy="756.0" r="2.9"/><circle cx="156.0" cy="768.7" r="2.9"/><circle cx="152.1" cy="746.8" r="2.9"/><circle cx="152.3" cy="757.3" r="2.9"/><circle cx="157.2" cy="756.0" r="2.9"/><circle cx="153.3" cy="781.8" r="2.9"/><circle cx="148.0" cy="777.9" r="2.9"/><circle cx="156.3" cy="789.6" r="2.9"/><circle cx="154.5" cy="800.6" r="2.9"/><circle cx="154.6" cy="785.0" r="2.9"/><circle cx="149.4" cy="775.4" r="2.9"/><circle cx="153.8" cy="742.1" r="2.9"/><circle cx="153.1" cy="765.0" r="2.9"/><circle cx="163.5" cy="793.7" r="2.9"/><circle cx="169.7" cy="790.0" r="2.9"/><circle cx="166.7" cy="780.1" r="2.9"/><circle cx="164.9" cy="740.3" r="2.9"/><circle cx="161.6" cy="756.7" r="2.9"/><circle cx="160.4" cy="808.9" r="2.9"/><circle cx="167.5" cy="761.7" r="2.9"/><circle cx="159.9" cy="797.5" r="2.9"/><circle cx="170.4" cy="751.3" r="2.9"/><circle cx="173.4" cy="771.7" r="2.9"/><circle cx="175.5" cy="811.1" r="2.9"/><circle cx="179.1" cy="767.1" r="2.9"/><circle cx="170.0" cy="770.0" r="2.9"/><circle cx="175.5" cy="750.7" r="2.9"/><circle cx="173.3" cy="794.0" r="2.9"/><circle cx="170.5" cy="754.4" r="2.9"/><circle cx="177.0" cy="838.7" r="2.9"/><circle cx="172.9" cy="762.6" r="2.9"/><circle cx="174.9" cy="779.2" r="2.9"/><circle cx="172.7" cy="743.4" r="2.9"/><circle cx="178.2" cy="747.3" r="2.9"/><circle cx="172.8" cy="756.8" r="2.9"/><circle cx="175.9" cy="773.6" r="2.9"/><circle cx="172.3" cy="741.0" r="2.9"/><circle cx="188.3" cy="756.6" r="2.9"/><circle cx="179.1" cy="815.5" r="2.9"/><circle cx="186.0" cy="760.8" r="2.9"/><circle cx="178.7" cy="731.5" r="2.9"/><circle cx="180.7" cy="801.4" r="2.9"/><circle cx="180.0" cy="793.3" r="2.9"/><circle cx="184.7" cy="781.0" r="2.9"/><circle cx="181.0" cy="771.4" r="2.9"/><circle cx="183.3" cy="804.2" r="2.9"/><circle cx="186.4" cy="789.7" r="2.9"/><circle cx="179.2" cy="773.6" r="2.9"/><circle cx="182.6" cy="758.6" r="2.9"/><circle cx="184.4" cy="757.7" r="2.9"/><circle cx="181.4" cy="726.3" r="2.9"/><circle cx="198.3" cy="758.3" r="2.9"/><circle cx="189.0" cy="799.5" r="2.9"/><circle cx="193.2" cy="772.5" r="2.9"/><circle cx="197.2" cy="812.2" r="2.9"/><circle cx="192.1" cy="725.3" r="2.9"/><circle cx="191.0" cy="779.3" r="2.9"/><circle cx="193.5" cy="791.1" r="2.9"/><circle cx="195.7" cy="787.9" r="2.9"/><circle cx="193.1" cy="796.9" r="2.9"/><circle cx="195.3" cy="743.0" r="2.9"/><circle cx="192.7" cy="773.8" r="2.9"/><circle cx="195.7" cy="806.7" r="2.9"/><circle cx="196.2" cy="800.0" r="2.9"/><circle cx="190.1" cy="787.4" r="2.9"/><circle cx="190.7" cy="762.2" r="2.9"/><circle cx="190.4" cy="769.2" r="2.9"/><circle cx="202.0" cy="766.2" r="2.9"/><circle cx="206.1" cy="791.8" r="2.9"/><circle cx="207.0" cy="781.7" r="2.9"/><circle cx="199.2" cy="808.4" r="2.9"/><circle cx="205.8" cy="768.0" r="2.9"/><circle cx="207.7" cy="772.6" r="2.9"/><circle cx="208.1" cy="790.1" r="2.9"/><circle cx="203.8" cy="799.3" r="2.9"/><circle cx="208.9" cy="750.0" r="2.9"/><circle cx="202.0" cy="780.5" r="2.9"/><circle cx="204.6" cy="746.8" r="2.9"/><circle cx="204.2" cy="729.5" r="2.9"/><circle cx="203.9" cy="797.2" r="2.9"/><circle cx="207.5" cy="795.8" r="2.9"/><circle cx="204.2" cy="798.4" r="2.9"/><circle cx="203.2" cy="774.7" r="2.9"/><circle cx="207.0" cy="748.1" r="2.9"/><circle cx="199.5" cy="749.2" r="2.9"/><circle cx="203.1" cy="782.6" r="2.9"/><circle cx="215.5" cy="792.4" r="2.9"/><circle cx="216.5" cy="743.3" r="2.9"/><circle cx="215.3" cy="800.5" r="2.9"/><circle cx="219.1" cy="780.0" r="2.9"/><circle cx="218.6" cy="732.2" r="2.9"/><circle cx="212.1" cy="751.6" r="2.9"/><circle cx="210.1" cy="794.2" r="2.9"/><circle cx="218.9" cy="768.8" r="2.9"/><circle cx="210.1" cy="759.1" r="2.9"/><circle cx="212.7" cy="771.2" r="2.9"/><circle cx="208.5" cy="767.9" r="2.9"/><circle cx="214.2" cy="814.3" r="2.9"/><circle cx="216.0" cy="805.2" r="2.9"/><circle cx="216.8" cy="764.2" r="2.9"/><circle cx="211.7" cy="773.5" r="2.9"/><circle cx="209.7" cy="760.1" r="2.9"/><circle cx="213.0" cy="769.6" r="2.9"/><circle cx="212.0" cy="745.6" r="2.9"/><circle cx="210.3" cy="775.3" r="2.9"/><circle cx="214.5" cy="731.4" r="2.9"/><circle cx="208.2" cy="807.4" r="2.9"/><circle cx="217.9" cy="795.2" r="2.9"/><circle cx="210.4" cy="766.1" r="2.9"/><circle cx="216.1" cy="758.3" r="2.9"/><circle cx="211.6" cy="744.5" r="2.9"/><circle cx="217.8" cy="773.5" r="2.9"/><circle cx="212.4" cy="749.4" r="2.9"/><circle cx="211.8" cy="767.6" r="2.9"/><circle cx="209.1" cy="725.8" r="2.9"/><circle cx="209.6" cy="732.6" r="2.9"/><circle cx="208.3" cy="722.1" r="2.9"/><circle cx="219.0" cy="742.6" r="2.9"/><circle cx="215.6" cy="763.2" r="2.9"/><circle cx="206.9" cy="808.0" r="2.9"/><circle cx="209.1" cy="746.9" r="2.9"/><circle cx="211.1" cy="804.7" r="2.9"/><circle cx="216.4" cy="775.6" r="2.9"/><circle cx="210.2" cy="754.1" r="2.9"/><circle cx="226.8" cy="761.5" r="2.9"/><circle cx="226.8" cy="759.4" r="2.9"/><circle cx="219.6" cy="802.6" r="2.9"/><circle cx="225.7" cy="771.3" r="2.9"/><circle cx="223.8" cy="796.0" r="2.9"/><circle cx="225.7" cy="753.3" r="2.9"/><circle cx="218.7" cy="759.3" r="2.9"/><circle cx="223.9" cy="740.4" r="2.9"/><circle cx="227.8" cy="747.4" r="2.9"/><circle cx="223.6" cy="771.4" r="2.9"/><circle cx="221.3" cy="735.8" r="2.9"/><circle cx="223.7" cy="779.0" r="2.9"/><circle cx="226.8" cy="807.8" r="2.9"/><circle cx="226.6" cy="771.9" r="2.9"/><circle cx="231.2" cy="772.0" r="2.9"/><circle cx="233.8" cy="758.3" r="2.9"/><circle cx="231.8" cy="759.1" r="2.9"/><circle cx="237.5" cy="784.1" r="2.9"/><circle cx="232.5" cy="770.1" r="2.9"/><circle cx="233.9" cy="747.0" r="2.9"/><circle cx="236.6" cy="721.9" r="2.9"/><circle cx="236.4" cy="788.1" r="2.9"/><circle cx="232.1" cy="766.8" r="2.9"/><circle cx="229.6" cy="781.7" r="2.9"/><circle cx="237.6" cy="749.7" r="2.9"/><circle cx="230.3" cy="752.4" r="2.9"/><circle cx="236.9" cy="738.6" r="2.9"/><circle cx="237.4" cy="743.8" r="2.9"/><circle cx="228.2" cy="780.2" r="2.9"/><circle cx="230.2" cy="757.2" r="2.9"/><circle cx="228.3" cy="732.5" r="2.9"/><circle cx="246.1" cy="760.3" r="2.9"/><circle cx="240.7" cy="758.0" r="2.9"/><circle cx="243.4" cy="798.0" r="2.9"/><circle cx="239.2" cy="786.7" r="2.9"/><circle cx="246.2" cy="820.5" r="2.9"/><circle cx="241.1" cy="749.9" r="2.9"/><circle cx="247.1" cy="760.6" r="2.9"/><circle cx="243.0" cy="772.4" r="2.9"/><circle cx="246.5" cy="741.8" r="2.9"/><circle cx="241.6" cy="769.4" r="2.9"/><circle cx="240.0" cy="782.5" r="2.9"/><circle cx="248.2" cy="743.9" r="2.9"/><circle cx="254.5" cy="811.3" r="2.9"/><circle cx="256.5" cy="745.3" r="2.9"/><circle cx="257.2" cy="775.5" r="2.9"/><circle cx="261.7" cy="764.5" r="2.9"/><circle cx="259.0" cy="802.6" r="2.9"/><circle cx="265.6" cy="763.9" r="2.9"/><circle cx="268.1" cy="751.9" r="2.9"/><circle cx="267.2" cy="753.8" r="2.9"/><circle cx="265.3" cy="776.4" r="2.9"/><circle cx="276.4" cy="746.4" r="2.9"/><circle cx="273.0" cy="769.5" r="2.9"/><circle cx="269.3" cy="741.8" r="2.9"/><circle cx="278.3" cy="768.2" r="2.9"/><circle cx="274.2" cy="751.0" r="2.9"/><circle cx="275.5" cy="780.5" r="2.9"/><circle cx="278.1" cy="797.3" r="2.9"/><circle cx="269.9" cy="728.7" r="2.9"/><circle cx="275.6" cy="762.7" r="2.9"/><circle cx="278.4" cy="727.0" r="2.9"/><circle cx="268.4" cy="750.5" r="2.9"/><circle cx="270.8" cy="730.1" r="2.9"/><circle cx="271.8" cy="740.8" r="2.9"/><circle cx="282.4" cy="782.5" r="2.9"/><circle cx="280.9" cy="793.3" r="2.9"/><circle cx="279.6" cy="749.0" r="2.9"/><circle cx="287.0" cy="771.5" r="2.9"/><circle cx="289.7" cy="745.4" r="2.9"/><circle cx="285.8" cy="796.5" r="2.9"/><circle cx="284.3" cy="792.3" r="2.9"/><circle cx="285.6" cy="775.7" r="2.9"/><circle cx="282.0" cy="738.6" r="2.9"/><circle cx="282.7" cy="755.9" r="2.9"/><circle cx="281.9" cy="779.0" r="2.9"/><circle cx="280.2" cy="784.2" r="2.9"/><circle cx="284.2" cy="735.1" r="2.9"/><circle cx="279.5" cy="770.0" r="2.9"/><circle cx="284.8" cy="784.0" r="2.9"/><circle cx="291.4" cy="714.4" r="2.9"/><circle cx="290.7" cy="738.6" r="2.9"/><circle cx="301.7" cy="775.9" r="2.9"/><circle cx="306.1" cy="763.2" r="2.9"/><circle cx="306.8" cy="824.5" r="2.9"/><circle cx="307.8" cy="794.1" r="2.9"/><circle cx="306.6" cy="763.5" r="2.9"/><circle cx="307.8" cy="760.4" r="2.9"/><circle cx="316.2" cy="742.5" r="2.9"/><circle cx="314.8" cy="741.4" r="2.9"/><circle cx="317.6" cy="718.4" r="2.9"/><circle cx="322.5" cy="754.8" r="2.9"/><circle cx="339.1" cy="759.8" r="2.9"/><circle cx="334.0" cy="762.0" r="2.9"/><circle cx="334.5" cy="753.2" r="2.9"/><circle cx="334.6" cy="754.3" r="2.9"/><circle cx="328.8" cy="741.0" r="2.9"/><circle cx="332.5" cy="759.6" r="2.9"/><circle cx="336.8" cy="750.2" r="2.9"/><circle cx="335.1" cy="769.5" r="2.9"/><circle cx="339.5" cy="809.9" r="2.9"/><circle cx="341.8" cy="783.3" r="2.9"/><circle cx="346.0" cy="754.9" r="2.9"/><circle cx="342.4" cy="717.1" r="2.9"/><circle cx="344.1" cy="786.6" r="2.9"/><circle cx="339.1" cy="788.7" r="2.9"/><circle cx="343.5" cy="766.2" r="2.9"/><circle cx="339.1" cy="755.2" r="2.9"/><circle cx="347.9" cy="725.1" r="2.9"/><circle cx="341.1" cy="768.3" r="2.9"/><circle cx="353.1" cy="725.8" r="2.9"/><circle cx="348.3" cy="811.2" r="2.9"/><circle cx="360.2" cy="765.1" r="2.9"/><circle cx="351.5" cy="755.8" r="2.9"/><circle cx="356.6" cy="768.5" r="2.9"/><circle cx="365.3" cy="809.4" r="2.9"/><circle cx="365.2" cy="766.2" r="2.9"/><circle cx="362.8" cy="731.3" r="2.9"/><circle cx="363.3" cy="773.6" r="2.9"/><circle cx="363.1" cy="761.7" r="2.9"/><circle cx="359.9" cy="779.8" r="2.9"/><circle cx="360.8" cy="783.0" r="2.9"/><circle cx="361.2" cy="758.6" r="2.9"/><circle cx="358.2" cy="753.2" r="2.9"/><circle cx="377.4" cy="769.8" r="2.9"/><circle cx="379.1" cy="739.8" r="2.9"/><circle cx="387.2" cy="763.1" r="2.9"/><circle cx="385.3" cy="762.2" r="2.9"/><circle cx="386.7" cy="782.4" r="2.9"/><circle cx="378.2" cy="747.1" r="2.9"/><circle cx="378.7" cy="766.3" r="2.9"/><circle cx="380.8" cy="775.6" r="2.9"/><circle cx="391.7" cy="741.5" r="2.9"/><circle cx="393.4" cy="736.7" r="2.9"/><circle cx="403.3" cy="771.2" r="2.9"/><circle cx="403.6" cy="814.5" r="2.9"/><circle cx="402.0" cy="770.2" r="2.9"/><circle cx="403.8" cy="805.3" r="2.9"/><circle cx="399.7" cy="778.1" r="2.9"/><circle cx="404.5" cy="763.0" r="2.9"/><circle cx="421.9" cy="786.9" r="2.9"/><circle cx="436.2" cy="775.3" r="2.9"/><circle cx="448.6" cy="786.1" r="2.9"/><circle cx="455.2" cy="769.9" r="2.9"/><circle cx="460.5" cy="722.3" r="2.9"/><circle cx="457.2" cy="778.3" r="2.9"/><circle cx="463.8" cy="753.7" r="2.9"/><circle cx="463.8" cy="759.1" r="2.9"/><circle cx="474.8" cy="746.2" r="2.9"/><circle cx="471.5" cy="765.8" r="2.9"/><circle cx="470.2" cy="747.8" r="2.9"/><circle cx="481.6" cy="798.3" r="2.9"/><circle cx="497.4" cy="764.1" r="2.9"/><circle cx="497.5" cy="777.0" r="2.9"/><circle cx="495.4" cy="765.3" r="2.9"/><circle cx="489.2" cy="784.8" r="2.9"/><circle cx="497.8" cy="793.8" r="2.9"/><circle cx="500.0" cy="748.3" r="2.9"/><circle cx="506.2" cy="733.7" r="2.9"/><circle cx="501.8" cy="733.7" r="2.9"/><circle cx="510.2" cy="765.0" r="2.9"/><circle cx="515.5" cy="721.8" r="2.9"/><circle cx="512.7" cy="768.6" r="2.9"/><circle cx="522.4" cy="779.3" r="2.9"/><circle cx="528.6" cy="774.1" r="2.9"/><circle cx="524.6" cy="772.0" r="2.9"/><circle cx="533.9" cy="801.6" r="2.9"/><circle cx="533.7" cy="773.5" r="2.9"/><circle cx="530.0" cy="791.2" r="2.9"/><circle cx="545.3" cy="753.3" r="2.9"/><circle cx="549.1" cy="757.4" r="2.9"/><circle cx="540.2" cy="756.4" r="2.9"/><circle cx="546.9" cy="791.1" r="2.9"/><circle cx="543.0" cy="744.9" r="2.9"/><circle cx="550.6" cy="739.6" r="2.9"/><circle cx="551.2" cy="754.2" r="2.9"/><circle cx="553.7" cy="779.4" r="2.9"/><circle cx="553.4" cy="744.3" r="2.9"/><circle cx="557.1" cy="762.1" r="2.9"/><circle cx="551.4" cy="729.6" r="2.9"/><circle cx="551.8" cy="753.8" r="2.9"/><circle cx="555.1" cy="764.4" r="2.9"/><circle cx="556.3" cy="747.1" r="2.9"/><circle cx="547.5" cy="756.3" r="2.9"/><circle cx="556.3" cy="750.0" r="2.9"/><circle cx="565.7" cy="783.9" r="2.9"/><circle cx="565.8" cy="762.5" r="2.9"/><circle cx="565.2" cy="746.8" r="2.9"/><circle cx="567.8" cy="780.2" r="2.9"/><circle cx="561.3" cy="742.2" r="2.9"/><circle cx="565.9" cy="765.4" r="2.9"/><circle cx="562.0" cy="768.0" r="2.9"/><circle cx="564.2" cy="758.0" r="2.9"/><circle cx="568.9" cy="756.8" r="2.9"/><circle cx="562.1" cy="747.4" r="2.9"/><circle cx="561.9" cy="745.4" r="2.9"/><circle cx="564.1" cy="771.3" r="2.9"/><circle cx="573.2" cy="742.5" r="2.9"/><circle cx="576.5" cy="741.0" r="2.9"/><circle cx="572.3" cy="767.2" r="2.9"/><circle cx="572.1" cy="737.6" r="2.9"/><circle cx="573.7" cy="775.2" r="2.9"/><circle cx="568.3" cy="763.2" r="2.9"/><circle cx="579.2" cy="782.6" r="2.9"/><circle cx="581.0" cy="747.4" r="2.9"/><circle cx="584.8" cy="775.9" r="2.9"/><circle cx="578.6" cy="796.0" r="2.9"/><circle cx="596.4" cy="781.9" r="2.9"/><circle cx="589.5" cy="771.6" r="2.9"/><circle cx="595.9" cy="744.0" r="2.9"/><circle cx="605.1" cy="784.0" r="2.9"/><circle cx="606.0" cy="777.8" r="2.9"/><circle cx="608.9" cy="756.0" r="2.9"/><circle cx="603.3" cy="803.1" r="2.9"/><circle cx="616.2" cy="803.9" r="2.9"/><circle cx="615.2" cy="772.8" r="2.9"/><circle cx="622.9" cy="754.0" r="2.9"/><circle cx="622.2" cy="763.3" r="2.9"/><circle cx="632.8" cy="801.2" r="2.9"/><circle cx="631.4" cy="771.1" r="2.9"/><circle cx="633.0" cy="760.3" r="2.9"/><circle cx="634.4" cy="752.8" r="2.9"/><circle cx="639.7" cy="742.0" r="2.9"/><circle cx="642.7" cy="762.2" r="2.9"/><circle cx="644.9" cy="767.4" r="2.9"/><circle cx="643.9" cy="777.5" r="2.9"/><circle cx="661.0" cy="749.9" r="2.9"/><circle cx="666.5" cy="783.9" r="2.9"/><circle cx="669.1" cy="753.3" r="2.9"/><circle cx="672.0" cy="744.4" r="2.9"/><circle cx="671.4" cy="754.6" r="2.9"/></g>
<g fill="#0a0ad2" stroke="#111" stroke-width="0.55"><circle cx="91.3" cy="786.2" r="2.9"/><circle cx="94.8" cy="750.5" r="2.9"/><circle cx="91.0" cy="776.1" r="2.9"/><circle cx="91.8" cy="766.9" r="2.9"/><circle cx="103.1" cy="787.6" r="2.9"/><circle cx="103.9" cy="771.7" r="2.9"/><circle cx="101.7" cy="755.6" r="2.9"/><circle cx="103.0" cy="785.8" r="2.9"/><circle cx="110.6" cy="739.0" r="2.9"/><circle cx="110.1" cy="757.7" r="2.9"/><circle cx="110.3" cy="757.2" r="2.9"/><circle cx="127.4" cy="761.0" r="2.9"/><circle cx="126.2" cy="779.6" r="2.9"/><circle cx="119.3" cy="747.3" r="2.9"/><circle cx="131.8" cy="806.5" r="2.9"/><circle cx="133.9" cy="803.6" r="2.9"/><circle cx="134.5" cy="675.1" r="2.9"/><circle cx="139.3" cy="767.3" r="2.9"/><circle cx="132.0" cy="770.8" r="2.9"/><circle cx="137.4" cy="799.5" r="2.9"/><circle cx="131.3" cy="807.3" r="2.9"/><circle cx="137.1" cy="789.0" r="2.9"/><circle cx="137.2" cy="788.9" r="2.9"/><circle cx="133.9" cy="769.2" r="2.9"/><circle cx="135.2" cy="800.0" r="2.9"/><circle cx="131.4" cy="735.6" r="2.9"/><circle cx="136.9" cy="746.5" r="2.9"/><circle cx="138.0" cy="790.3" r="2.9"/><circle cx="132.3" cy="754.4" r="2.9"/><circle cx="136.2" cy="775.4" r="2.9"/><circle cx="131.4" cy="752.1" r="2.9"/><circle cx="129.0" cy="774.6" r="2.9"/><circle cx="131.6" cy="774.3" r="2.9"/><circle cx="133.7" cy="762.2" r="2.9"/><circle cx="141.6" cy="792.0" r="2.9"/><circle cx="146.3" cy="756.0" r="2.9"/><circle cx="142.8" cy="781.0" r="2.9"/><circle cx="156.9" cy="778.3" r="2.9"/><circle cx="156.9" cy="764.5" r="2.9"/><circle cx="148.7" cy="773.8" r="2.9"/><circle cx="153.4" cy="741.8" r="2.9"/><circle cx="156.3" cy="776.7" r="2.9"/><circle cx="157.9" cy="735.9" r="2.9"/><circle cx="154.5" cy="748.9" r="2.9"/><circle cx="149.7" cy="775.0" r="2.9"/><circle cx="152.9" cy="769.2" r="2.9"/><circle cx="154.4" cy="782.0" r="2.9"/><circle cx="148.4" cy="757.0" r="2.9"/><circle cx="156.8" cy="769.0" r="2.9"/><circle cx="151.0" cy="750.5" r="2.9"/><circle cx="149.1" cy="771.7" r="2.9"/><circle cx="149.8" cy="790.2" r="2.9"/><circle cx="155.0" cy="781.3" r="2.9"/><circle cx="158.8" cy="777.2" r="2.9"/><circle cx="152.3" cy="750.8" r="2.9"/><circle cx="148.8" cy="820.5" r="2.9"/><circle cx="158.0" cy="772.6" r="2.9"/><circle cx="151.3" cy="753.5" r="2.9"/><circle cx="150.8" cy="766.2" r="2.9"/><circle cx="148.2" cy="804.8" r="2.9"/><circle cx="155.5" cy="763.9" r="2.9"/><circle cx="149.8" cy="791.5" r="2.9"/><circle cx="156.5" cy="730.1" r="2.9"/><circle cx="155.2" cy="748.8" r="2.9"/><circle cx="151.8" cy="770.3" r="2.9"/><circle cx="155.0" cy="726.6" r="2.9"/><circle cx="150.2" cy="764.8" r="2.9"/><circle cx="155.0" cy="777.6" r="2.9"/><circle cx="153.2" cy="774.9" r="2.9"/><circle cx="153.1" cy="780.9" r="2.9"/><circle cx="151.4" cy="767.9" r="2.9"/><circle cx="149.1" cy="777.1" r="2.9"/><circle cx="158.7" cy="793.8" r="2.9"/><circle cx="152.5" cy="788.5" r="2.9"/><circle cx="165.9" cy="761.7" r="2.9"/><circle cx="164.3" cy="759.4" r="2.9"/><circle cx="160.2" cy="759.1" r="2.9"/><circle cx="160.3" cy="756.4" r="2.9"/><circle cx="161.7" cy="769.1" r="2.9"/><circle cx="167.2" cy="766.6" r="2.9"/><circle cx="166.4" cy="751.9" r="2.9"/><circle cx="160.8" cy="816.5" r="2.9"/><circle cx="167.5" cy="767.1" r="2.9"/><circle cx="165.7" cy="763.0" r="2.9"/><circle cx="161.8" cy="757.2" r="2.9"/><circle cx="166.3" cy="758.1" r="2.9"/><circle cx="164.1" cy="786.4" r="2.9"/><circle cx="164.4" cy="792.8" r="2.9"/><circle cx="162.7" cy="777.3" r="2.9"/><circle cx="159.2" cy="810.2" r="2.9"/><circle cx="164.8" cy="775.0" r="2.9"/><circle cx="167.7" cy="789.8" r="2.9"/><circle cx="166.3" cy="780.5" r="2.9"/><circle cx="173.7" cy="779.1" r="2.9"/><circle cx="169.0" cy="763.6" r="2.9"/><circle cx="171.1" cy="764.4" r="2.9"/><circle cx="170.3" cy="793.2" r="2.9"/><circle cx="173.2" cy="727.3" r="2.9"/><circle cx="178.2" cy="794.7" r="2.9"/><circle cx="172.2" cy="745.0" r="2.9"/><circle cx="170.5" cy="757.4" r="2.9"/><circle cx="172.0" cy="827.3" r="2.9"/><circle cx="170.0" cy="775.0" r="2.9"/><circle cx="171.3" cy="763.0" r="2.9"/><circle cx="170.4" cy="760.0" r="2.9"/><circle cx="167.7" cy="749.3" r="2.9"/><circle cx="174.9" cy="726.6" r="2.9"/><circle cx="175.1" cy="787.4" r="2.9"/><circle cx="174.2" cy="751.7" r="2.9"/><circle cx="175.1" cy="815.1" r="2.9"/><circle cx="171.7" cy="782.5" r="2.9"/><circle cx="176.9" cy="801.2" r="2.9"/><circle cx="176.6" cy="776.1" r="2.9"/><circle cx="169.8" cy="789.8" r="2.9"/><circle cx="176.3" cy="727.6" r="2.9"/><circle cx="175.2" cy="795.7" r="2.9"/><circle cx="174.6" cy="749.8" r="2.9"/><circle cx="177.4" cy="788.7" r="2.9"/><circle cx="177.4" cy="792.0" r="2.9"/><circle cx="176.6" cy="778.3" r="2.9"/><circle cx="172.9" cy="761.8" r="2.9"/><circle cx="172.5" cy="753.4" r="2.9"/><circle cx="175.9" cy="754.7" r="2.9"/><circle cx="171.9" cy="777.4" r="2.9"/><circle cx="169.7" cy="773.3" r="2.9"/><circle cx="170.1" cy="725.3" r="2.9"/><circle cx="176.3" cy="753.8" r="2.9"/><circle cx="178.8" cy="743.7" r="2.9"/><circle cx="170.0" cy="751.6" r="2.9"/><circle cx="177.1" cy="785.6" r="2.9"/><circle cx="173.5" cy="766.3" r="2.9"/><circle cx="170.7" cy="759.0" r="2.9"/><circle cx="171.4" cy="813.4" r="2.9"/><circle cx="172.6" cy="788.6" r="2.9"/><circle cx="170.3" cy="776.4" r="2.9"/><circle cx="168.4" cy="784.6" r="2.9"/><circle cx="173.1" cy="795.9" r="2.9"/><circle cx="169.2" cy="784.9" r="2.9"/><circle cx="175.4" cy="776.6" r="2.9"/><circle cx="174.7" cy="749.9" r="2.9"/><circle cx="176.5" cy="748.1" r="2.9"/><circle cx="174.5" cy="767.2" r="2.9"/><circle cx="177.4" cy="762.3" r="2.9"/><circle cx="169.9" cy="767.8" r="2.9"/><circle cx="173.7" cy="744.2" r="2.9"/><circle cx="170.2" cy="760.7" r="2.9"/><circle cx="177.9" cy="756.5" r="2.9"/><circle cx="171.9" cy="757.9" r="2.9"/><circle cx="170.8" cy="745.6" r="2.9"/><circle cx="177.3" cy="758.6" r="2.9"/><circle cx="176.2" cy="796.3" r="2.9"/><circle cx="173.2" cy="730.7" r="2.9"/><circle cx="169.9" cy="787.2" r="2.9"/><circle cx="175.1" cy="770.0" r="2.9"/><circle cx="169.7" cy="790.6" r="2.9"/><circle cx="170.8" cy="772.6" r="2.9"/><circle cx="177.3" cy="776.7" r="2.9"/><circle cx="170.2" cy="804.6" r="2.9"/><circle cx="169.3" cy="759.3" r="2.9"/><circle cx="167.8" cy="735.2" r="2.9"/><circle cx="170.4" cy="798.4" r="2.9"/><circle cx="174.0" cy="761.6" r="2.9"/><circle cx="173.5" cy="763.6" r="2.9"/><circle cx="170.9" cy="735.6" r="2.9"/><circle cx="174.7" cy="826.9" r="2.9"/><circle cx="169.4" cy="784.4" r="2.9"/><circle cx="169.6" cy="775.7" r="2.9"/><circle cx="170.9" cy="793.3" r="2.9"/><circle cx="177.4" cy="799.3" r="2.9"/><circle cx="175.4" cy="808.9" r="2.9"/><circle cx="175.3" cy="759.7" r="2.9"/><circle cx="175.8" cy="769.4" r="2.9"/><circle cx="179.0" cy="760.2" r="2.9"/><circle cx="172.8" cy="760.1" r="2.9"/><circle cx="171.7" cy="741.4" r="2.9"/><circle cx="179.6" cy="827.9" r="2.9"/><circle cx="168.4" cy="744.9" r="2.9"/><circle cx="169.1" cy="719.1" r="2.9"/><circle cx="176.9" cy="809.0" r="2.9"/><circle cx="174.4" cy="751.9" r="2.9"/><circle cx="177.4" cy="764.9" r="2.9"/><circle cx="175.8" cy="757.8" r="2.9"/><circle cx="174.0" cy="751.6" r="2.9"/><circle cx="178.1" cy="798.5" r="2.9"/><circle cx="170.3" cy="803.0" r="2.9"/><circle cx="172.3" cy="763.1" r="2.9"/><circle cx="174.8" cy="767.5" r="2.9"/><circle cx="178.9" cy="725.4" r="2.9"/><circle cx="175.8" cy="816.3" r="2.9"/><circle cx="173.9" cy="774.2" r="2.9"/><circle cx="171.3" cy="796.9" r="2.9"/><circle cx="170.2" cy="742.3" r="2.9"/><circle cx="175.8" cy="772.9" r="2.9"/><circle cx="172.3" cy="770.3" r="2.9"/><circle cx="177.2" cy="764.3" r="2.9"/><circle cx="175.7" cy="799.1" r="2.9"/><circle cx="173.5" cy="771.9" r="2.9"/><circle cx="175.0" cy="771.4" r="2.9"/><circle cx="174.3" cy="762.3" r="2.9"/><circle cx="173.5" cy="755.0" r="2.9"/><circle cx="173.9" cy="729.6" r="2.9"/><circle cx="173.5" cy="759.3" r="2.9"/><circle cx="173.5" cy="779.1" r="2.9"/><circle cx="171.9" cy="739.1" r="2.9"/><circle cx="172.0" cy="806.6" r="2.9"/><circle cx="179.1" cy="774.9" r="2.9"/><circle cx="175.5" cy="707.6" r="2.9"/><circle cx="174.0" cy="799.5" r="2.9"/><circle cx="173.2" cy="736.6" r="2.9"/><circle cx="169.2" cy="749.9" r="2.9"/><circle cx="173.1" cy="773.0" r="2.9"/><circle cx="173.2" cy="765.6" r="2.9"/><circle cx="170.6" cy="771.6" r="2.9"/><circle cx="175.9" cy="752.5" r="2.9"/><circle cx="171.3" cy="763.5" r="2.9"/><circle cx="166.9" cy="805.3" r="2.9"/><circle cx="170.8" cy="734.4" r="2.9"/><circle cx="176.5" cy="756.6" r="2.9"/><circle cx="176.2" cy="760.6" r="2.9"/><circle cx="175.0" cy="787.9" r="2.9"/><circle cx="177.1" cy="779.0" r="2.9"/><circle cx="172.9" cy="795.6" r="2.9"/><circle cx="171.2" cy="783.5" r="2.9"/><circle cx="174.1" cy="769.2" r="2.9"/><circle cx="176.6" cy="772.5" r="2.9"/><circle cx="172.3" cy="756.1" r="2.9"/><circle cx="171.0" cy="793.2" r="2.9"/><circle cx="175.8" cy="749.2" r="2.9"/><circle cx="175.8" cy="781.3" r="2.9"/><circle cx="170.8" cy="784.2" r="2.9"/><circle cx="176.4" cy="759.3" r="2.9"/><circle cx="169.8" cy="803.3" r="2.9"/><circle cx="174.1" cy="732.5" r="2.9"/><circle cx="183.3" cy="755.7" r="2.9"/><circle cx="188.1" cy="736.5" r="2.9"/><circle cx="183.8" cy="801.4" r="2.9"/><circle cx="186.5" cy="749.5" r="2.9"/><circle cx="176.7" cy="801.3" r="2.9"/><circle cx="183.2" cy="753.0" r="2.9"/><circle cx="182.4" cy="773.1" r="2.9"/><circle cx="187.5" cy="796.7" r="2.9"/><circle cx="187.2" cy="775.7" r="2.9"/><circle cx="183.9" cy="775.3" r="2.9"/><circle cx="188.3" cy="773.0" r="2.9"/><circle cx="179.8" cy="832.4" r="2.9"/><circle cx="183.6" cy="777.2" r="2.9"/><circle cx="183.4" cy="793.5" r="2.9"/><circle cx="180.6" cy="754.9" r="2.9"/><circle cx="188.4" cy="775.2" r="2.9"/><circle cx="182.0" cy="813.2" r="2.9"/><circle cx="182.8" cy="765.7" r="2.9"/><circle cx="181.0" cy="754.8" r="2.9"/><circle cx="178.8" cy="738.7" r="2.9"/><circle cx="179.6" cy="748.5" r="2.9"/><circle cx="187.2" cy="766.3" r="2.9"/><circle cx="182.5" cy="795.1" r="2.9"/><circle cx="183.0" cy="769.6" r="2.9"/><circle cx="181.2" cy="771.9" r="2.9"/><circle cx="178.8" cy="742.9" r="2.9"/><circle cx="184.4" cy="754.7" r="2.9"/><circle cx="181.8" cy="780.0" r="2.9"/><circle cx="184.2" cy="775.6" r="2.9"/><circle cx="179.2" cy="792.9" r="2.9"/><circle cx="183.6" cy="792.2" r="2.9"/><circle cx="182.0" cy="819.8" r="2.9"/><circle cx="179.5" cy="789.4" r="2.9"/><circle cx="181.8" cy="789.0" r="2.9"/><circle cx="187.0" cy="772.2" r="2.9"/><circle cx="183.2" cy="761.5" r="2.9"/><circle cx="188.3" cy="780.5" r="2.9"/><circle cx="186.1" cy="811.2" r="2.9"/><circle cx="181.6" cy="723.7" r="2.9"/><circle cx="182.2" cy="803.5" r="2.9"/><circle cx="187.0" cy="760.6" r="2.9"/><circle cx="187.3" cy="812.8" r="2.9"/><circle cx="179.5" cy="740.1" r="2.9"/><circle cx="188.3" cy="783.6" r="2.9"/><circle cx="188.2" cy="793.7" r="2.9"/><circle cx="184.9" cy="764.0" r="2.9"/><circle cx="182.0" cy="770.7" r="2.9"/><circle cx="183.6" cy="776.8" r="2.9"/><circle cx="185.0" cy="784.7" r="2.9"/><circle cx="185.6" cy="793.2" r="2.9"/><circle cx="184.7" cy="767.5" r="2.9"/><circle cx="185.1" cy="769.4" r="2.9"/><circle cx="185.0" cy="755.3" r="2.9"/><circle cx="178.9" cy="785.2" r="2.9"/><circle cx="188.8" cy="760.8" r="2.9"/><circle cx="186.2" cy="797.4" r="2.9"/><circle cx="185.4" cy="766.8" r="2.9"/><circle cx="184.0" cy="810.4" r="2.9"/><circle cx="185.2" cy="792.6" r="2.9"/><circle cx="184.0" cy="789.1" r="2.9"/><circle cx="177.5" cy="754.7" r="2.9"/><circle cx="184.1" cy="810.6" r="2.9"/><circle cx="185.7" cy="794.3" r="2.9"/><circle cx="183.4" cy="749.7" r="2.9"/><circle cx="186.6" cy="797.2" r="2.9"/><circle cx="178.9" cy="741.3" r="2.9"/><circle cx="182.0" cy="784.4" r="2.9"/><circle cx="186.4" cy="791.3" r="2.9"/><circle cx="179.4" cy="814.0" r="2.9"/><circle cx="184.6" cy="734.7" r="2.9"/><circle cx="180.3" cy="759.3" r="2.9"/><circle cx="187.7" cy="753.6" r="2.9"/><circle cx="187.4" cy="786.1" r="2.9"/><circle cx="187.4" cy="805.0" r="2.9"/><circle cx="182.8" cy="762.3" r="2.9"/><circle cx="178.7" cy="768.5" r="2.9"/><circle cx="181.9" cy="731.9" r="2.9"/><circle cx="185.4" cy="798.4" r="2.9"/><circle cx="184.9" cy="782.7" r="2.9"/><circle cx="184.7" cy="751.8" r="2.9"/><circle cx="179.7" cy="764.7" r="2.9"/><circle cx="179.3" cy="793.9" r="2.9"/><circle cx="179.1" cy="787.1" r="2.9"/><circle cx="181.6" cy="732.0" r="2.9"/><circle cx="186.7" cy="738.5" r="2.9"/><circle cx="188.2" cy="755.8" r="2.9"/><circle cx="179.4" cy="758.7" r="2.9"/><circle cx="178.9" cy="765.2" r="2.9"/><circle cx="180.8" cy="761.4" r="2.9"/><circle cx="180.2" cy="784.3" r="2.9"/><circle cx="179.4" cy="793.1" r="2.9"/><circle cx="186.0" cy="795.7" r="2.9"/><circle cx="185.5" cy="776.9" r="2.9"/><circle cx="181.3" cy="782.9" r="2.9"/><circle cx="186.0" cy="759.7" r="2.9"/><circle cx="186.9" cy="814.8" r="2.9"/><circle cx="182.0" cy="739.9" r="2.9"/><circle cx="180.4" cy="830.9" r="2.9"/><circle cx="180.9" cy="768.8" r="2.9"/><circle cx="177.4" cy="763.3" r="2.9"/><circle cx="181.3" cy="771.4" r="2.9"/><circle cx="185.0" cy="819.8" r="2.9"/><circle cx="186.2" cy="828.3" r="2.9"/><circle cx="183.6" cy="835.9" r="2.9"/><circle cx="181.6" cy="775.3" r="2.9"/><circle cx="179.0" cy="759.8" r="2.9"/><circle cx="186.9" cy="772.6" r="2.9"/><circle cx="187.1" cy="760.7" r="2.9"/><circle cx="186.5" cy="770.0" r="2.9"/><circle cx="187.6" cy="788.6" r="2.9"/><circle cx="182.6" cy="726.6" r="2.9"/><circle cx="186.9" cy="796.5" r="2.9"/><circle cx="183.8" cy="761.5" r="2.9"/><circle cx="180.8" cy="757.3" r="2.9"/><circle cx="180.1" cy="766.2" r="2.9"/><circle cx="185.4" cy="748.7" r="2.9"/><circle cx="184.4" cy="757.5" r="2.9"/><circle cx="181.1" cy="739.2" r="2.9"/><circle cx="180.0" cy="821.9" r="2.9"/><circle cx="180.6" cy="767.7" r="2.9"/><circle cx="186.9" cy="796.3" r="2.9"/><circle cx="183.0" cy="760.0" r="2.9"/><circle cx="184.6" cy="814.4" r="2.9"/><circle cx="180.1" cy="726.1" r="2.9"/><circle cx="187.9" cy="766.4" r="2.9"/><circle cx="184.3" cy="759.8" r="2.9"/><circle cx="183.8" cy="774.7" r="2.9"/><circle cx="186.8" cy="821.7" r="2.9"/><circle cx="180.3" cy="726.2" r="2.9"/><circle cx="179.4" cy="760.6" r="2.9"/><circle cx="182.6" cy="806.2" r="2.9"/><circle cx="181.2" cy="759.7" r="2.9"/><circle cx="187.6" cy="788.5" r="2.9"/><circle cx="179.8" cy="747.8" r="2.9"/><circle cx="184.6" cy="774.6" r="2.9"/><circle cx="185.3" cy="795.9" r="2.9"/><circle cx="184.4" cy="813.9" r="2.9"/><circle cx="183.2" cy="802.2" r="2.9"/><circle cx="184.7" cy="771.4" r="2.9"/><circle cx="178.8" cy="738.0" r="2.9"/><circle cx="180.9" cy="808.3" r="2.9"/><circle cx="192.2" cy="761.9" r="2.9"/><circle cx="197.8" cy="788.0" r="2.9"/><circle cx="189.2" cy="765.6" r="2.9"/><circle cx="189.0" cy="757.3" r="2.9"/><circle cx="192.8" cy="738.9" r="2.9"/><circle cx="193.2" cy="812.0" r="2.9"/><circle cx="198.6" cy="810.3" r="2.9"/><circle cx="196.5" cy="754.0" r="2.9"/><circle cx="193.4" cy="750.3" r="2.9"/><circle cx="189.7" cy="756.5" r="2.9"/><circle cx="189.4" cy="796.5" r="2.9"/><circle cx="196.3" cy="791.4" r="2.9"/><circle cx="193.6" cy="807.9" r="2.9"/><circle cx="189.1" cy="801.2" r="2.9"/><circle cx="197.4" cy="841.7" r="2.9"/><circle cx="193.2" cy="752.6" r="2.9"/><circle cx="188.1" cy="728.8" r="2.9"/><circle cx="191.9" cy="809.0" r="2.9"/><circle cx="197.1" cy="781.4" r="2.9"/><circle cx="198.3" cy="776.4" r="2.9"/><circle cx="194.4" cy="781.2" r="2.9"/><circle cx="192.0" cy="776.5" r="2.9"/><circle cx="189.9" cy="777.5" r="2.9"/><circle cx="188.6" cy="781.5" r="2.9"/><circle cx="194.8" cy="789.1" r="2.9"/><circle cx="195.9" cy="664.2" r="2.9"/><circle cx="193.2" cy="812.5" r="2.9"/><circle cx="192.8" cy="779.7" r="2.9"/><circle cx="195.7" cy="740.0" r="2.9"/><circle cx="192.3" cy="751.0" r="2.9"/><circle cx="189.2" cy="775.5" r="2.9"/><circle cx="191.4" cy="788.9" r="2.9"/><circle cx="187.6" cy="783.1" r="2.9"/><circle cx="188.8" cy="767.2" r="2.9"/><circle cx="192.1" cy="753.4" r="2.9"/><circle cx="195.6" cy="798.0" r="2.9"/><circle cx="193.8" cy="763.0" r="2.9"/><circle cx="198.5" cy="781.2" r="2.9"/><circle cx="194.2" cy="750.9" r="2.9"/><circle cx="188.0" cy="753.4" r="2.9"/><circle cx="192.8" cy="771.1" r="2.9"/><circle cx="188.9" cy="768.3" r="2.9"/><circle cx="196.7" cy="778.2" r="2.9"/><circle cx="193.9" cy="818.3" r="2.9"/><circle cx="190.7" cy="773.3" r="2.9"/><circle cx="191.1" cy="771.0" r="2.9"/><circle cx="196.0" cy="728.8" r="2.9"/><circle cx="193.0" cy="782.2" r="2.9"/><circle cx="191.7" cy="781.0" r="2.9"/><circle cx="195.7" cy="768.6" r="2.9"/><circle cx="196.0" cy="781.7" r="2.9"/><circle cx="194.4" cy="809.2" r="2.9"/><circle cx="194.3" cy="745.6" r="2.9"/><circle cx="192.8" cy="786.0" r="2.9"/><circle cx="190.5" cy="803.3" r="2.9"/><circle cx="194.1" cy="792.2" r="2.9"/><circle cx="187.6" cy="793.2" r="2.9"/><circle cx="192.8" cy="804.2" r="2.9"/><circle cx="194.8" cy="777.4" r="2.9"/><circle cx="193.7" cy="778.7" r="2.9"/><circle cx="192.9" cy="733.5" r="2.9"/><circle cx="187.5" cy="782.0" r="2.9"/><circle cx="190.3" cy="780.8" r="2.9"/><circle cx="193.5" cy="755.9" r="2.9"/><circle cx="188.8" cy="780.0" r="2.9"/><circle cx="193.6" cy="724.1" r="2.9"/><circle cx="194.1" cy="779.0" r="2.9"/><circle cx="191.7" cy="760.2" r="2.9"/><circle cx="194.4" cy="743.0" r="2.9"/><circle cx="196.7" cy="712.7" r="2.9"/><circle cx="197.0" cy="728.9" r="2.9"/><circle cx="193.3" cy="777.9" r="2.9"/><circle cx="196.7" cy="768.5" r="2.9"/><circle cx="189.5" cy="770.5" r="2.9"/><circle cx="195.1" cy="770.3" r="2.9"/><circle cx="190.3" cy="735.8" r="2.9"/><circle cx="196.4" cy="774.9" r="2.9"/><circle cx="196.3" cy="807.2" r="2.9"/><circle cx="190.2" cy="754.7" r="2.9"/><circle cx="192.1" cy="782.1" r="2.9"/><circle cx="196.2" cy="790.0" r="2.9"/><circle cx="191.0" cy="763.0" r="2.9"/><circle cx="193.4" cy="759.6" r="2.9"/><circle cx="196.7" cy="769.3" r="2.9"/><circle cx="189.8" cy="762.4" r="2.9"/><circle cx="198.1" cy="771.2" r="2.9"/><circle cx="189.0" cy="782.2" r="2.9"/><circle cx="196.3" cy="747.4" r="2.9"/><circle cx="193.9" cy="766.2" r="2.9"/><circle cx="193.4" cy="766.0" r="2.9"/><circle cx="189.2" cy="788.2" r="2.9"/><circle cx="194.0" cy="766.8" r="2.9"/><circle cx="197.1" cy="756.3" r="2.9"/><circle cx="194.9" cy="812.0" r="2.9"/><circle cx="197.9" cy="766.0" r="2.9"/><circle cx="190.8" cy="772.8" r="2.9"/><circle cx="189.9" cy="766.1" r="2.9"/><circle cx="194.0" cy="748.5" r="2.9"/><circle cx="197.5" cy="757.1" r="2.9"/><circle cx="197.9" cy="780.1" r="2.9"/><circle cx="190.6" cy="805.2" r="2.9"/><circle cx="190.2" cy="769.2" r="2.9"/><circle cx="190.0" cy="762.6" r="2.9"/><circle cx="194.5" cy="746.2" r="2.9"/><circle cx="193.7" cy="751.8" r="2.9"/><circle cx="194.4" cy="781.2" r="2.9"/><circle cx="191.6" cy="799.6" r="2.9"/><circle cx="191.5" cy="770.5" r="2.9"/><circle cx="193.0" cy="736.4" r="2.9"/><circle cx="193.7" cy="766.7" r="2.9"/><circle cx="201.4" cy="814.0" r="2.9"/><circle cx="194.0" cy="771.9" r="2.9"/><circle cx="195.9" cy="769.0" r="2.9"/><circle cx="193.0" cy="735.9" r="2.9"/><circle cx="195.5" cy="788.5" r="2.9"/><circle cx="188.5" cy="761.9" r="2.9"/><circle cx="191.6" cy="786.5" r="2.9"/><circle cx="194.4" cy="774.9" r="2.9"/><circle cx="193.1" cy="745.6" r="2.9"/><circle cx="193.5" cy="782.3" r="2.9"/><circle cx="190.7" cy="799.7" r="2.9"/><circle cx="197.2" cy="762.4" r="2.9"/><circle cx="195.8" cy="804.1" r="2.9"/><circle cx="196.6" cy="785.6" r="2.9"/><circle cx="189.4" cy="723.2" r="2.9"/><circle cx="195.9" cy="791.5" r="2.9"/><circle cx="199.1" cy="789.5" r="2.9"/><circle cx="192.0" cy="763.3" r="2.9"/><circle cx="197.7" cy="726.7" r="2.9"/><circle cx="187.9" cy="792.3" r="2.9"/><circle cx="195.8" cy="787.4" r="2.9"/><circle cx="190.5" cy="752.9" r="2.9"/><circle cx="193.0" cy="760.5" r="2.9"/><circle cx="194.5" cy="736.9" r="2.9"/><circle cx="191.2" cy="755.7" r="2.9"/><circle cx="195.6" cy="769.6" r="2.9"/><circle cx="198.8" cy="787.7" r="2.9"/><circle cx="189.0" cy="785.1" r="2.9"/><circle cx="189.6" cy="794.2" r="2.9"/><circle cx="188.6" cy="764.2" r="2.9"/><circle cx="188.9" cy="775.3" r="2.9"/><circle cx="191.5" cy="780.9" r="2.9"/><circle cx="189.9" cy="743.5" r="2.9"/><circle cx="190.2" cy="783.9" r="2.9"/><circle cx="197.7" cy="815.1" r="2.9"/><circle cx="207.7" cy="777.1" r="2.9"/><circle cx="201.8" cy="771.2" r="2.9"/><circle cx="208.5" cy="791.1" r="2.9"/><circle cx="206.2" cy="794.4" r="2.9"/><circle cx="203.9" cy="802.0" r="2.9"/><circle cx="205.4" cy="808.0" r="2.9"/><circle cx="204.2" cy="782.4" r="2.9"/><circle cx="199.7" cy="774.0" r="2.9"/><circle cx="198.8" cy="743.8" r="2.9"/><circle cx="203.8" cy="794.0" r="2.9"/><circle cx="209.0" cy="791.0" r="2.9"/><circle cx="206.9" cy="774.0" r="2.9"/><circle cx="207.2" cy="781.2" r="2.9"/><circle cx="207.9" cy="744.0" r="2.9"/><circle cx="204.6" cy="829.7" r="2.9"/><circle cx="201.0" cy="756.2" r="2.9"/><circle cx="204.4" cy="776.5" r="2.9"/><circle cx="203.7" cy="776.8" r="2.9"/><circle cx="208.3" cy="762.2" r="2.9"/><circle cx="204.0" cy="780.0" r="2.9"/><circle cx="206.0" cy="768.6" r="2.9"/><circle cx="205.2" cy="779.5" r="2.9"/><circle cx="205.4" cy="771.7" r="2.9"/><circle cx="200.9" cy="774.8" r="2.9"/><circle cx="200.4" cy="765.2" r="2.9"/><circle cx="201.5" cy="761.5" r="2.9"/><circle cx="200.9" cy="752.0" r="2.9"/><circle cx="205.6" cy="768.6" r="2.9"/><circle cx="206.5" cy="761.4" r="2.9"/><circle cx="202.2" cy="746.1" r="2.9"/><circle cx="201.8" cy="735.4" r="2.9"/><circle cx="200.1" cy="755.9" r="2.9"/><circle cx="206.9" cy="777.1" r="2.9"/><circle cx="203.5" cy="773.0" r="2.9"/><circle cx="203.0" cy="757.3" r="2.9"/><circle cx="204.5" cy="725.3" r="2.9"/><circle cx="201.7" cy="765.4" r="2.9"/><circle cx="208.7" cy="789.0" r="2.9"/><circle cx="199.4" cy="719.4" r="2.9"/><circle cx="207.0" cy="766.3" r="2.9"/><circle cx="202.9" cy="771.8" r="2.9"/><circle cx="202.7" cy="784.9" r="2.9"/><circle cx="198.9" cy="773.0" r="2.9"/><circle cx="203.9" cy="767.3" r="2.9"/><circle cx="204.0" cy="796.7" r="2.9"/><circle cx="207.6" cy="750.1" r="2.9"/><circle cx="202.4" cy="808.4" r="2.9"/><circle cx="204.0" cy="788.9" r="2.9"/><circle cx="206.1" cy="793.4" r="2.9"/><circle cx="205.2" cy="783.7" r="2.9"/><circle cx="203.5" cy="842.7" r="2.9"/><circle cx="208.1" cy="810.2" r="2.9"/><circle cx="204.8" cy="744.3" r="2.9"/><circle cx="198.6" cy="778.5" r="2.9"/><circle cx="202.9" cy="767.9" r="2.9"/><circle cx="201.0" cy="792.6" r="2.9"/><circle cx="201.5" cy="783.9" r="2.9"/><circle cx="204.3" cy="787.2" r="2.9"/><circle cx="201.1" cy="768.6" r="2.9"/><circle cx="204.8" cy="798.2" r="2.9"/><circle cx="204.2" cy="782.6" r="2.9"/><circle cx="202.5" cy="763.1" r="2.9"/><circle cx="203.0" cy="786.8" r="2.9"/><circle cx="202.2" cy="791.6" r="2.9"/><circle cx="205.8" cy="770.0" r="2.9"/><circle cx="202.4" cy="774.0" r="2.9"/><circle cx="204.2" cy="762.4" r="2.9"/><circle cx="205.7" cy="805.9" r="2.9"/><circle cx="201.4" cy="771.4" r="2.9"/><circle cx="209.8" cy="778.5" r="2.9"/><circle cx="208.8" cy="780.8" r="2.9"/><circle cx="206.5" cy="755.9" r="2.9"/><circle cx="201.8" cy="741.8" r="2.9"/><circle cx="208.1" cy="761.8" r="2.9"/><circle cx="207.5" cy="776.5" r="2.9"/><circle cx="205.5" cy="778.1" r="2.9"/><circle cx="201.3" cy="767.3" r="2.9"/><circle cx="207.0" cy="787.2" r="2.9"/><circle cx="205.7" cy="732.7" r="2.9"/><circle cx="202.4" cy="765.3" r="2.9"/><circle cx="209.2" cy="763.8" r="2.9"/><circle cx="205.5" cy="772.3" r="2.9"/><circle cx="203.3" cy="810.2" r="2.9"/><circle cx="202.2" cy="806.5" r="2.9"/><circle cx="201.7" cy="766.7" r="2.9"/><circle cx="204.3" cy="803.7" r="2.9"/><circle cx="202.7" cy="799.5" r="2.9"/><circle cx="203.1" cy="759.2" r="2.9"/><circle cx="202.1" cy="716.9" r="2.9"/><circle cx="208.5" cy="817.2" r="2.9"/><circle cx="202.9" cy="762.5" r="2.9"/><circle cx="207.8" cy="776.6" r="2.9"/><circle cx="202.9" cy="759.8" r="2.9"/><circle cx="205.3" cy="766.0" r="2.9"/><circle cx="203.3" cy="831.5" r="2.9"/><circle cx="204.6" cy="750.3" r="2.9"/><circle cx="198.0" cy="769.5" r="2.9"/><circle cx="205.2" cy="782.8" r="2.9"/><circle cx="205.2" cy="797.3" r="2.9"/><circle cx="203.5" cy="760.9" r="2.9"/><circle cx="205.5" cy="778.5" r="2.9"/><circle cx="204.4" cy="745.4" r="2.9"/><circle cx="202.3" cy="810.7" r="2.9"/><circle cx="202.1" cy="806.2" r="2.9"/><circle cx="201.0" cy="784.7" r="2.9"/><circle cx="199.8" cy="791.7" r="2.9"/><circle cx="205.5" cy="758.9" r="2.9"/><circle cx="201.5" cy="751.3" r="2.9"/><circle cx="203.6" cy="780.2" r="2.9"/><circle cx="206.0" cy="808.2" r="2.9"/><circle cx="205.1" cy="767.9" r="2.9"/><circle cx="201.5" cy="778.5" r="2.9"/><circle cx="208.6" cy="759.9" r="2.9"/><circle cx="203.1" cy="737.1" r="2.9"/><circle cx="202.9" cy="725.0" r="2.9"/><circle cx="202.7" cy="771.1" r="2.9"/><circle cx="206.8" cy="747.3" r="2.9"/><circle cx="203.5" cy="753.2" r="2.9"/><circle cx="208.6" cy="757.7" r="2.9"/><circle cx="206.3" cy="772.3" r="2.9"/><circle cx="206.0" cy="796.1" r="2.9"/><circle cx="202.4" cy="799.9" r="2.9"/><circle cx="203.2" cy="748.8" r="2.9"/><circle cx="202.9" cy="806.5" r="2.9"/><circle cx="200.5" cy="753.0" r="2.9"/><circle cx="205.9" cy="766.8" r="2.9"/><circle cx="208.3" cy="770.0" r="2.9"/><circle cx="205.8" cy="794.7" r="2.9"/><circle cx="206.7" cy="799.0" r="2.9"/><circle cx="204.3" cy="775.2" r="2.9"/><circle cx="201.2" cy="805.9" r="2.9"/><circle cx="207.4" cy="772.1" r="2.9"/><circle cx="204.5" cy="798.9" r="2.9"/><circle cx="203.4" cy="756.0" r="2.9"/><circle cx="206.1" cy="769.3" r="2.9"/><circle cx="203.1" cy="780.6" r="2.9"/><circle cx="203.3" cy="755.2" r="2.9"/><circle cx="201.8" cy="764.0" r="2.9"/><circle cx="200.0" cy="784.8" r="2.9"/><circle cx="200.0" cy="796.8" r="2.9"/><circle cx="201.5" cy="774.8" r="2.9"/><circle cx="206.9" cy="744.9" r="2.9"/><circle cx="204.5" cy="812.1" r="2.9"/><circle cx="207.3" cy="787.0" r="2.9"/><circle cx="206.3" cy="806.5" r="2.9"/><circle cx="198.8" cy="728.4" r="2.9"/><circle cx="206.8" cy="761.6" r="2.9"/><circle cx="198.3" cy="776.5" r="2.9"/><circle cx="198.5" cy="771.9" r="2.9"/><circle cx="207.6" cy="773.1" r="2.9"/><circle cx="205.8" cy="777.9" r="2.9"/><circle cx="204.2" cy="741.8" r="2.9"/><circle cx="207.2" cy="748.6" r="2.9"/><circle cx="208.1" cy="784.7" r="2.9"/><circle cx="203.3" cy="761.3" r="2.9"/><circle cx="205.9" cy="796.4" r="2.9"/><circle cx="203.8" cy="757.4" r="2.9"/><circle cx="199.9" cy="770.1" r="2.9"/><circle cx="206.4" cy="760.8" r="2.9"/><circle cx="201.1" cy="794.2" r="2.9"/><circle cx="203.4" cy="799.3" r="2.9"/><circle cx="213.0" cy="708.8" r="2.9"/><circle cx="215.7" cy="784.4" r="2.9"/><circle cx="213.6" cy="793.4" r="2.9"/><circle cx="216.7" cy="747.9" r="2.9"/><circle cx="210.0" cy="770.1" r="2.9"/><circle cx="217.3" cy="778.2" r="2.9"/><circle cx="213.0" cy="759.7" r="2.9"/><circle cx="216.6" cy="754.2" r="2.9"/><circle cx="215.0" cy="716.2" r="2.9"/><circle cx="213.5" cy="760.4" r="2.9"/><circle cx="216.7" cy="771.8" r="2.9"/><circle cx="211.4" cy="740.5" r="2.9"/><circle cx="213.4" cy="767.3" r="2.9"/><circle cx="216.0" cy="794.2" r="2.9"/><circle cx="217.9" cy="809.0" r="2.9"/><circle cx="214.0" cy="774.0" r="2.9"/><circle cx="212.7" cy="777.3" r="2.9"/><circle cx="211.5" cy="757.2" r="2.9"/><circle cx="213.0" cy="760.8" r="2.9"/><circle cx="217.0" cy="779.9" r="2.9"/><circle cx="213.5" cy="798.8" r="2.9"/><circle cx="209.2" cy="759.8" r="2.9"/><circle cx="210.4" cy="784.3" r="2.9"/><circle cx="213.8" cy="734.1" r="2.9"/><circle cx="215.7" cy="745.3" r="2.9"/><circle cx="210.3" cy="778.8" r="2.9"/><circle cx="209.9" cy="800.8" r="2.9"/><circle cx="209.8" cy="788.7" r="2.9"/><circle cx="210.7" cy="768.2" r="2.9"/><circle cx="211.4" cy="768.6" r="2.9"/><circle cx="214.3" cy="723.3" r="2.9"/><circle cx="215.3" cy="776.1" r="2.9"/><circle cx="212.5" cy="750.0" r="2.9"/><circle cx="217.6" cy="796.2" r="2.9"/><circle cx="209.4" cy="739.6" r="2.9"/><circle cx="213.2" cy="776.5" r="2.9"/><circle cx="217.7" cy="794.1" r="2.9"/><circle cx="212.4" cy="769.0" r="2.9"/><circle cx="208.7" cy="769.7" r="2.9"/><circle cx="217.8" cy="758.5" r="2.9"/><circle cx="209.0" cy="785.7" r="2.9"/><circle cx="217.9" cy="769.0" r="2.9"/><circle cx="215.7" cy="765.6" r="2.9"/><circle cx="217.2" cy="744.8" r="2.9"/><circle cx="215.8" cy="754.3" r="2.9"/><circle cx="215.6" cy="793.8" r="2.9"/><circle cx="219.5" cy="766.4" r="2.9"/><circle cx="209.2" cy="759.5" r="2.9"/><circle cx="210.4" cy="822.7" r="2.9"/><circle cx="214.7" cy="737.4" r="2.9"/><circle cx="222.6" cy="779.2" r="2.9"/><circle cx="228.3" cy="747.1" r="2.9"/><circle cx="227.1" cy="777.1" r="2.9"/><circle cx="221.4" cy="760.4" r="2.9"/><circle cx="219.0" cy="712.2" r="2.9"/><circle cx="223.1" cy="748.1" r="2.9"/><circle cx="224.6" cy="773.3" r="2.9"/><circle cx="227.1" cy="744.2" r="2.9"/><circle cx="222.0" cy="750.7" r="2.9"/><circle cx="223.7" cy="768.5" r="2.9"/><circle cx="226.9" cy="712.2" r="2.9"/><circle cx="220.7" cy="750.7" r="2.9"/><circle cx="228.0" cy="657.2" r="2.9"/><circle cx="222.5" cy="740.2" r="2.9"/><circle cx="221.1" cy="752.1" r="2.9"/><circle cx="225.5" cy="762.6" r="2.9"/><circle cx="220.2" cy="722.7" r="2.9"/><circle cx="220.6" cy="765.7" r="2.9"/><circle cx="224.5" cy="741.1" r="2.9"/><circle cx="222.5" cy="765.7" r="2.9"/><circle cx="227.3" cy="805.9" r="2.9"/><circle cx="222.3" cy="779.1" r="2.9"/><circle cx="219.4" cy="771.9" r="2.9"/><circle cx="228.4" cy="748.8" r="2.9"/><circle cx="227.8" cy="780.1" r="2.9"/><circle cx="222.3" cy="727.6" r="2.9"/><circle cx="225.7" cy="736.4" r="2.9"/><circle cx="220.9" cy="753.3" r="2.9"/><circle cx="223.9" cy="819.9" r="2.9"/><circle cx="219.8" cy="791.5" r="2.9"/><circle cx="221.8" cy="749.8" r="2.9"/><circle cx="219.0" cy="801.2" r="2.9"/><circle cx="219.3" cy="812.6" r="2.9"/><circle cx="228.9" cy="808.1" r="2.9"/><circle cx="220.4" cy="780.0" r="2.9"/><circle cx="221.4" cy="746.9" r="2.9"/><circle cx="220.5" cy="783.3" r="2.9"/><circle cx="228.8" cy="829.7" r="2.9"/><circle cx="224.0" cy="773.3" r="2.9"/><circle cx="227.9" cy="769.4" r="2.9"/><circle cx="224.3" cy="814.1" r="2.9"/><circle cx="228.5" cy="765.6" r="2.9"/><circle cx="233.5" cy="777.2" r="2.9"/><circle cx="236.4" cy="831.0" r="2.9"/><circle cx="229.3" cy="744.4" r="2.9"/><circle cx="232.1" cy="777.1" r="2.9"/><circle cx="233.3" cy="796.6" r="2.9"/><circle cx="232.5" cy="786.1" r="2.9"/><circle cx="238.5" cy="736.3" r="2.9"/><circle cx="231.8" cy="764.6" r="2.9"/><circle cx="234.4" cy="765.3" r="2.9"/><circle cx="238.9" cy="769.3" r="2.9"/><circle cx="238.3" cy="771.5" r="2.9"/><circle cx="235.2" cy="743.8" r="2.9"/><circle cx="236.6" cy="731.6" r="2.9"/><circle cx="239.3" cy="764.2" r="2.9"/><circle cx="230.8" cy="786.9" r="2.9"/><circle cx="232.6" cy="771.7" r="2.9"/><circle cx="232.1" cy="781.2" r="2.9"/><circle cx="231.9" cy="768.0" r="2.9"/><circle cx="232.5" cy="757.7" r="2.9"/><circle cx="238.1" cy="721.4" r="2.9"/><circle cx="228.8" cy="782.0" r="2.9"/><circle cx="233.4" cy="767.4" r="2.9"/><circle cx="238.9" cy="773.8" r="2.9"/><circle cx="234.2" cy="778.8" r="2.9"/><circle cx="237.9" cy="756.7" r="2.9"/><circle cx="228.7" cy="811.9" r="2.9"/><circle cx="233.6" cy="751.1" r="2.9"/><circle cx="234.9" cy="771.7" r="2.9"/><circle cx="234.3" cy="786.5" r="2.9"/><circle cx="231.1" cy="739.4" r="2.9"/><circle cx="233.1" cy="748.9" r="2.9"/><circle cx="232.0" cy="788.9" r="2.9"/><circle cx="230.4" cy="787.3" r="2.9"/><circle cx="236.0" cy="772.4" r="2.9"/><circle cx="238.3" cy="744.1" r="2.9"/><circle cx="242.0" cy="788.2" r="2.9"/><circle cx="243.4" cy="767.5" r="2.9"/><circle cx="247.2" cy="735.1" r="2.9"/><circle cx="241.4" cy="752.4" r="2.9"/><circle cx="246.5" cy="747.5" r="2.9"/><circle cx="246.3" cy="811.0" r="2.9"/><circle cx="243.8" cy="762.3" r="2.9"/><circle cx="244.3" cy="726.9" r="2.9"/><circle cx="247.0" cy="782.7" r="2.9"/><circle cx="239.0" cy="787.8" r="2.9"/><circle cx="240.1" cy="771.3" r="2.9"/><circle cx="242.4" cy="782.5" r="2.9"/><circle cx="240.1" cy="749.2" r="2.9"/><circle cx="247.9" cy="768.9" r="2.9"/><circle cx="247.1" cy="744.1" r="2.9"/><circle cx="247.3" cy="762.4" r="2.9"/><circle cx="243.1" cy="733.6" r="2.9"/><circle cx="243.3" cy="779.7" r="2.9"/><circle cx="247.0" cy="777.3" r="2.9"/><circle cx="241.1" cy="751.1" r="2.9"/><circle cx="240.3" cy="765.8" r="2.9"/><circle cx="244.9" cy="785.7" r="2.9"/><circle cx="240.0" cy="804.3" r="2.9"/><circle cx="238.3" cy="779.8" r="2.9"/><circle cx="240.1" cy="756.1" r="2.9"/><circle cx="246.6" cy="750.5" r="2.9"/><circle cx="246.8" cy="780.5" r="2.9"/><circle cx="247.8" cy="789.9" r="2.9"/><circle cx="244.7" cy="764.6" r="2.9"/><circle cx="238.7" cy="791.8" r="2.9"/><circle cx="255.5" cy="757.7" r="2.9"/><circle cx="249.9" cy="826.8" r="2.9"/><circle cx="255.6" cy="759.9" r="2.9"/><circle cx="254.7" cy="753.5" r="2.9"/><circle cx="255.2" cy="738.3" r="2.9"/><circle cx="250.6" cy="764.6" r="2.9"/><circle cx="255.0" cy="750.2" r="2.9"/><circle cx="264.7" cy="765.2" r="2.9"/><circle cx="264.0" cy="735.5" r="2.9"/><circle cx="257.8" cy="731.6" r="2.9"/><circle cx="261.5" cy="806.2" r="2.9"/><circle cx="264.8" cy="763.0" r="2.9"/><circle cx="262.9" cy="737.4" r="2.9"/><circle cx="261.5" cy="735.7" r="2.9"/><circle cx="262.3" cy="755.6" r="2.9"/><circle cx="261.3" cy="737.6" r="2.9"/><circle cx="261.3" cy="783.9" r="2.9"/><circle cx="264.0" cy="769.9" r="2.9"/><circle cx="266.2" cy="671.7" r="2.9"/><circle cx="263.6" cy="713.1" r="2.9"/><circle cx="264.2" cy="764.2" r="2.9"/><circle cx="264.2" cy="787.2" r="2.9"/><circle cx="261.2" cy="781.1" r="2.9"/><circle cx="276.8" cy="751.8" r="2.9"/><circle cx="270.6" cy="773.3" r="2.9"/><circle cx="269.2" cy="764.5" r="2.9"/><circle cx="273.6" cy="784.1" r="2.9"/><circle cx="276.6" cy="755.0" r="2.9"/><circle cx="270.5" cy="778.2" r="2.9"/><circle cx="273.2" cy="770.7" r="2.9"/><circle cx="277.1" cy="810.2" r="2.9"/><circle cx="270.5" cy="762.2" r="2.9"/><circle cx="273.3" cy="804.4" r="2.9"/><circle cx="277.0" cy="723.8" r="2.9"/><circle cx="268.7" cy="765.7" r="2.9"/><circle cx="272.3" cy="749.2" r="2.9"/><circle cx="269.9" cy="782.4" r="2.9"/><circle cx="274.9" cy="773.6" r="2.9"/><circle cx="270.5" cy="778.2" r="2.9"/><circle cx="273.1" cy="778.1" r="2.9"/><circle cx="272.0" cy="745.5" r="2.9"/><circle cx="272.3" cy="732.8" r="2.9"/><circle cx="286.5" cy="801.0" r="2.9"/><circle cx="289.1" cy="793.1" r="2.9"/><circle cx="278.2" cy="718.8" r="2.9"/><circle cx="277.8" cy="778.9" r="2.9"/><circle cx="288.3" cy="774.5" r="2.9"/><circle cx="281.7" cy="740.5" r="2.9"/><circle cx="279.8" cy="763.8" r="2.9"/><circle cx="284.0" cy="775.0" r="2.9"/><circle cx="286.3" cy="758.2" r="2.9"/><circle cx="288.2" cy="759.5" r="2.9"/><circle cx="282.8" cy="737.4" r="2.9"/><circle cx="287.0" cy="760.8" r="2.9"/><circle cx="279.7" cy="744.4" r="2.9"/><circle cx="285.5" cy="798.4" r="2.9"/><circle cx="279.9" cy="733.1" r="2.9"/><circle cx="281.2" cy="754.3" r="2.9"/><circle cx="287.6" cy="787.3" r="2.9"/><circle cx="284.6" cy="752.2" r="2.9"/><circle cx="286.5" cy="758.5" r="2.9"/><circle cx="284.0" cy="804.1" r="2.9"/><circle cx="287.2" cy="760.9" r="2.9"/><circle cx="285.9" cy="776.2" r="2.9"/><circle cx="287.4" cy="776.8" r="2.9"/><circle cx="286.0" cy="698.0" r="2.9"/><circle cx="280.1" cy="747.1" r="2.9"/><circle cx="289.5" cy="800.7" r="2.9"/><circle cx="293.3" cy="780.1" r="2.9"/><circle cx="292.3" cy="753.8" r="2.9"/><circle cx="295.9" cy="768.2" r="2.9"/><circle cx="289.2" cy="770.8" r="2.9"/><circle cx="298.9" cy="799.4" r="2.9"/><circle cx="297.1" cy="771.4" r="2.9"/><circle cx="297.1" cy="744.5" r="2.9"/><circle cx="294.6" cy="755.9" r="2.9"/><circle cx="296.4" cy="763.4" r="2.9"/><circle cx="291.4" cy="737.4" r="2.9"/><circle cx="292.2" cy="800.8" r="2.9"/><circle cx="295.2" cy="740.2" r="2.9"/><circle cx="290.0" cy="753.1" r="2.9"/><circle cx="290.4" cy="806.6" r="2.9"/><circle cx="292.8" cy="769.2" r="2.9"/><circle cx="299.0" cy="775.6" r="2.9"/><circle cx="302.5" cy="778.3" r="2.9"/><circle cx="300.3" cy="760.7" r="2.9"/><circle cx="299.4" cy="788.3" r="2.9"/><circle cx="300.5" cy="762.4" r="2.9"/><circle cx="301.8" cy="743.2" r="2.9"/><circle cx="299.5" cy="730.7" r="2.9"/><circle cx="304.6" cy="789.3" r="2.9"/><circle cx="298.9" cy="759.1" r="2.9"/><circle cx="303.3" cy="767.9" r="2.9"/><circle cx="318.0" cy="789.7" r="2.9"/><circle cx="316.8" cy="794.4" r="2.9"/><circle cx="317.6" cy="760.2" r="2.9"/><circle cx="317.6" cy="802.0" r="2.9"/><circle cx="313.5" cy="798.6" r="2.9"/><circle cx="310.0" cy="750.7" r="2.9"/><circle cx="317.0" cy="813.5" r="2.9"/><circle cx="310.8" cy="719.3" r="2.9"/><circle cx="316.2" cy="757.8" r="2.9"/><circle cx="315.7" cy="755.5" r="2.9"/><circle cx="317.6" cy="834.2" r="2.9"/><circle cx="312.2" cy="747.8" r="2.9"/><circle cx="324.8" cy="735.4" r="2.9"/><circle cx="318.3" cy="776.5" r="2.9"/><circle cx="323.4" cy="690.2" r="2.9"/><circle cx="327.6" cy="739.8" r="2.9"/><circle cx="318.7" cy="797.9" r="2.9"/><circle cx="339.5" cy="750.7" r="2.9"/><circle cx="336.4" cy="763.5" r="2.9"/><circle cx="333.2" cy="768.0" r="2.9"/><circle cx="330.7" cy="827.5" r="2.9"/><circle cx="332.9" cy="757.5" r="2.9"/><circle cx="334.5" cy="743.2" r="2.9"/><circle cx="330.0" cy="762.5" r="2.9"/><circle cx="331.2" cy="775.1" r="2.9"/><circle cx="329.2" cy="809.8" r="2.9"/><circle cx="340.7" cy="796.9" r="2.9"/><circle cx="343.5" cy="795.3" r="2.9"/><circle cx="344.7" cy="783.0" r="2.9"/><circle cx="350.2" cy="782.5" r="2.9"/><circle cx="338.3" cy="772.8" r="2.9"/><circle cx="348.3" cy="762.4" r="2.9"/><circle cx="338.9" cy="761.5" r="2.9"/><circle cx="345.8" cy="753.2" r="2.9"/><circle cx="346.6" cy="761.8" r="2.9"/><circle cx="344.1" cy="760.2" r="2.9"/><circle cx="337.3" cy="748.6" r="2.9"/><circle cx="349.4" cy="737.6" r="2.9"/><circle cx="341.5" cy="700.3" r="2.9"/><circle cx="344.4" cy="735.2" r="2.9"/><circle cx="340.1" cy="777.5" r="2.9"/><circle cx="342.9" cy="749.7" r="2.9"/><circle cx="343.0" cy="763.9" r="2.9"/><circle cx="344.9" cy="783.5" r="2.9"/><circle cx="347.4" cy="843.6" r="2.9"/><circle cx="349.5" cy="737.0" r="2.9"/><circle cx="339.3" cy="763.1" r="2.9"/><circle cx="342.6" cy="739.7" r="2.9"/><circle cx="345.8" cy="723.3" r="2.9"/><circle cx="345.4" cy="774.5" r="2.9"/><circle cx="344.2" cy="785.4" r="2.9"/><circle cx="342.9" cy="813.8" r="2.9"/><circle cx="341.2" cy="739.2" r="2.9"/><circle cx="345.9" cy="768.6" r="2.9"/><circle cx="350.2" cy="811.5" r="2.9"/><circle cx="357.9" cy="792.6" r="2.9"/><circle cx="355.4" cy="758.4" r="2.9"/><circle cx="351.1" cy="772.7" r="2.9"/><circle cx="349.5" cy="761.7" r="2.9"/><circle cx="352.0" cy="801.0" r="2.9"/><circle cx="352.1" cy="735.3" r="2.9"/><circle cx="358.5" cy="762.8" r="2.9"/><circle cx="353.9" cy="740.4" r="2.9"/><circle cx="348.7" cy="776.5" r="2.9"/><circle cx="356.1" cy="759.5" r="2.9"/><circle cx="350.4" cy="723.1" r="2.9"/><circle cx="363.4" cy="825.8" r="2.9"/><circle cx="367.0" cy="738.7" r="2.9"/><circle cx="360.9" cy="787.8" r="2.9"/><circle cx="360.1" cy="801.7" r="2.9"/><circle cx="365.9" cy="736.9" r="2.9"/><circle cx="365.9" cy="739.3" r="2.9"/><circle cx="361.3" cy="728.8" r="2.9"/><circle cx="363.1" cy="800.3" r="2.9"/><circle cx="371.6" cy="739.2" r="2.9"/><circle cx="378.2" cy="754.8" r="2.9"/><circle cx="371.2" cy="774.1" r="2.9"/><circle cx="378.8" cy="720.5" r="2.9"/><circle cx="377.7" cy="745.2" r="2.9"/><circle cx="382.6" cy="789.5" r="2.9"/><circle cx="386.4" cy="749.3" r="2.9"/><circle cx="380.5" cy="756.5" r="2.9"/><circle cx="382.9" cy="753.4" r="2.9"/><circle cx="378.2" cy="780.3" r="2.9"/><circle cx="387.7" cy="749.5" r="2.9"/><circle cx="382.0" cy="756.9" r="2.9"/><circle cx="379.9" cy="735.8" r="2.9"/><circle cx="381.1" cy="755.0" r="2.9"/><circle cx="378.2" cy="752.7" r="2.9"/><circle cx="392.7" cy="770.6" r="2.9"/><circle cx="392.0" cy="770.0" r="2.9"/><circle cx="391.2" cy="780.7" r="2.9"/><circle cx="396.5" cy="759.9" r="2.9"/><circle cx="388.8" cy="751.4" r="2.9"/><circle cx="397.3" cy="755.6" r="2.9"/><circle cx="396.5" cy="777.1" r="2.9"/><circle cx="391.1" cy="757.8" r="2.9"/><circle cx="395.0" cy="788.6" r="2.9"/><circle cx="393.5" cy="779.4" r="2.9"/><circle cx="391.7" cy="788.3" r="2.9"/><circle cx="390.7" cy="793.3" r="2.9"/><circle cx="403.8" cy="788.5" r="2.9"/><circle cx="402.9" cy="774.5" r="2.9"/><circle cx="406.8" cy="768.4" r="2.9"/><circle cx="402.5" cy="798.1" r="2.9"/><circle cx="398.3" cy="772.2" r="2.9"/><circle cx="404.8" cy="737.3" r="2.9"/><circle cx="399.3" cy="787.1" r="2.9"/><circle cx="400.7" cy="762.2" r="2.9"/><circle cx="403.2" cy="759.8" r="2.9"/><circle cx="400.8" cy="753.5" r="2.9"/><circle cx="403.1" cy="722.3" r="2.9"/><circle cx="406.9" cy="777.9" r="2.9"/><circle cx="414.9" cy="670.3" r="2.9"/><circle cx="419.0" cy="691.4" r="2.9"/><circle cx="417.2" cy="785.0" r="2.9"/><circle cx="413.6" cy="740.9" r="2.9"/><circle cx="422.8" cy="772.8" r="2.9"/><circle cx="419.9" cy="775.5" r="2.9"/><circle cx="422.6" cy="751.5" r="2.9"/><circle cx="423.4" cy="758.1" r="2.9"/><circle cx="421.3" cy="733.5" r="2.9"/><circle cx="429.2" cy="799.0" r="2.9"/><circle cx="437.0" cy="789.7" r="2.9"/><circle cx="437.7" cy="781.6" r="2.9"/><circle cx="437.8" cy="742.4" r="2.9"/><circle cx="435.7" cy="726.0" r="2.9"/><circle cx="431.9" cy="775.7" r="2.9"/><circle cx="435.5" cy="775.1" r="2.9"/><circle cx="439.6" cy="757.4" r="2.9"/><circle cx="443.4" cy="773.7" r="2.9"/><circle cx="446.7" cy="792.9" r="2.9"/><circle cx="444.9" cy="752.0" r="2.9"/><circle cx="441.2" cy="759.6" r="2.9"/><circle cx="443.4" cy="720.4" r="2.9"/><circle cx="448.8" cy="770.7" r="2.9"/><circle cx="455.2" cy="756.4" r="2.9"/><circle cx="458.7" cy="770.2" r="2.9"/><circle cx="451.8" cy="754.8" r="2.9"/><circle cx="457.1" cy="752.2" r="2.9"/><circle cx="452.2" cy="754.6" r="2.9"/><circle cx="457.6" cy="758.1" r="2.9"/><circle cx="449.6" cy="752.6" r="2.9"/><circle cx="453.0" cy="750.3" r="2.9"/><circle cx="451.5" cy="757.6" r="2.9"/><circle cx="450.4" cy="763.9" r="2.9"/><circle cx="454.6" cy="714.2" r="2.9"/><circle cx="458.3" cy="802.9" r="2.9"/><circle cx="461.1" cy="786.6" r="2.9"/><circle cx="460.2" cy="767.5" r="2.9"/><circle cx="477.3" cy="760.0" r="2.9"/><circle cx="477.1" cy="760.4" r="2.9"/><circle cx="473.5" cy="737.5" r="2.9"/><circle cx="475.3" cy="748.8" r="2.9"/><circle cx="477.0" cy="762.2" r="2.9"/><circle cx="474.8" cy="796.3" r="2.9"/><circle cx="478.8" cy="790.9" r="2.9"/><circle cx="486.2" cy="770.6" r="2.9"/><circle cx="489.3" cy="798.3" r="2.9"/><circle cx="482.7" cy="768.8" r="2.9"/><circle cx="484.1" cy="777.1" r="2.9"/><circle cx="481.1" cy="747.8" r="2.9"/><circle cx="491.2" cy="763.3" r="2.9"/><circle cx="492.4" cy="810.8" r="2.9"/><circle cx="495.8" cy="720.5" r="2.9"/><circle cx="493.1" cy="756.6" r="2.9"/><circle cx="492.8" cy="783.2" r="2.9"/><circle cx="496.3" cy="764.0" r="2.9"/><circle cx="496.4" cy="769.2" r="2.9"/><circle cx="496.2" cy="754.2" r="2.9"/><circle cx="489.4" cy="792.3" r="2.9"/><circle cx="496.9" cy="754.0" r="2.9"/><circle cx="490.8" cy="730.0" r="2.9"/><circle cx="495.5" cy="775.1" r="2.9"/><circle cx="498.6" cy="801.0" r="2.9"/><circle cx="505.8" cy="726.7" r="2.9"/><circle cx="504.4" cy="782.4" r="2.9"/><circle cx="502.2" cy="768.7" r="2.9"/><circle cx="502.2" cy="753.1" r="2.9"/><circle cx="506.9" cy="748.2" r="2.9"/><circle cx="514.9" cy="754.4" r="2.9"/><circle cx="518.3" cy="769.3" r="2.9"/><circle cx="518.3" cy="787.2" r="2.9"/><circle cx="526.7" cy="783.7" r="2.9"/><circle cx="523.4" cy="763.5" r="2.9"/><circle cx="523.4" cy="764.6" r="2.9"/><circle cx="526.3" cy="798.3" r="2.9"/><circle cx="526.9" cy="747.0" r="2.9"/><circle cx="519.0" cy="787.4" r="2.9"/><circle cx="532.2" cy="733.1" r="2.9"/><circle cx="533.0" cy="779.0" r="2.9"/><circle cx="531.5" cy="776.4" r="2.9"/><circle cx="538.3" cy="783.8" r="2.9"/><circle cx="537.7" cy="736.7" r="2.9"/><circle cx="529.2" cy="736.7" r="2.9"/><circle cx="530.1" cy="748.6" r="2.9"/><circle cx="540.5" cy="758.4" r="2.9"/><circle cx="546.3" cy="751.5" r="2.9"/><circle cx="549.4" cy="748.9" r="2.9"/><circle cx="543.8" cy="752.6" r="2.9"/><circle cx="540.4" cy="726.4" r="2.9"/><circle cx="549.0" cy="779.3" r="2.9"/><circle cx="541.6" cy="759.5" r="2.9"/><circle cx="546.8" cy="759.9" r="2.9"/><circle cx="542.6" cy="746.1" r="2.9"/><circle cx="544.3" cy="800.8" r="2.9"/><circle cx="539.4" cy="781.9" r="2.9"/><circle cx="542.7" cy="743.2" r="2.9"/><circle cx="544.4" cy="770.6" r="2.9"/><circle cx="539.5" cy="767.3" r="2.9"/><circle cx="538.7" cy="747.6" r="2.9"/><circle cx="554.7" cy="734.6" r="2.9"/><circle cx="552.8" cy="737.4" r="2.9"/><circle cx="548.5" cy="755.0" r="2.9"/><circle cx="550.5" cy="795.7" r="2.9"/><circle cx="552.6" cy="739.9" r="2.9"/><circle cx="555.0" cy="741.9" r="2.9"/><circle cx="554.9" cy="737.8" r="2.9"/><circle cx="553.0" cy="747.0" r="2.9"/><circle cx="558.2" cy="762.7" r="2.9"/><circle cx="550.4" cy="748.6" r="2.9"/><circle cx="555.4" cy="755.5" r="2.9"/><circle cx="554.7" cy="732.6" r="2.9"/><circle cx="553.1" cy="750.1" r="2.9"/><circle cx="549.9" cy="760.5" r="2.9"/><circle cx="549.4" cy="762.7" r="2.9"/><circle cx="555.5" cy="817.3" r="2.9"/><circle cx="562.4" cy="748.4" r="2.9"/><circle cx="567.5" cy="748.2" r="2.9"/><circle cx="565.2" cy="735.4" r="2.9"/><circle cx="563.6" cy="767.8" r="2.9"/><circle cx="565.4" cy="768.4" r="2.9"/><circle cx="562.0" cy="743.4" r="2.9"/><circle cx="565.9" cy="784.3" r="2.9"/><circle cx="559.3" cy="727.8" r="2.9"/><circle cx="568.3" cy="745.8" r="2.9"/><circle cx="563.4" cy="746.7" r="2.9"/><circle cx="565.0" cy="772.0" r="2.9"/><circle cx="564.3" cy="745.2" r="2.9"/><circle cx="562.0" cy="743.8" r="2.9"/><circle cx="564.5" cy="755.4" r="2.9"/><circle cx="567.5" cy="776.1" r="2.9"/><circle cx="564.8" cy="758.5" r="2.9"/><circle cx="564.2" cy="727.2" r="2.9"/><circle cx="571.7" cy="754.2" r="2.9"/><circle cx="573.8" cy="743.4" r="2.9"/><circle cx="569.3" cy="765.8" r="2.9"/><circle cx="573.9" cy="734.8" r="2.9"/><circle cx="576.8" cy="767.1" r="2.9"/><circle cx="580.9" cy="726.8" r="2.9"/><circle cx="587.6" cy="764.6" r="2.9"/><circle cx="581.9" cy="766.2" r="2.9"/><circle cx="581.2" cy="777.3" r="2.9"/><circle cx="582.3" cy="735.6" r="2.9"/><circle cx="581.7" cy="776.4" r="2.9"/><circle cx="582.3" cy="799.9" r="2.9"/><circle cx="578.9" cy="798.6" r="2.9"/><circle cx="581.5" cy="774.9" r="2.9"/><circle cx="581.6" cy="766.1" r="2.9"/><circle cx="581.6" cy="761.6" r="2.9"/><circle cx="579.4" cy="780.2" r="2.9"/><circle cx="582.5" cy="783.3" r="2.9"/><circle cx="591.8" cy="748.0" r="2.9"/><circle cx="589.8" cy="756.4" r="2.9"/><circle cx="595.2" cy="783.1" r="2.9"/><circle cx="589.0" cy="765.4" r="2.9"/><circle cx="597.9" cy="779.4" r="2.9"/><circle cx="595.4" cy="784.3" r="2.9"/><circle cx="590.8" cy="772.9" r="2.9"/><circle cx="592.1" cy="764.7" r="2.9"/><circle cx="593.9" cy="764.0" r="2.9"/><circle cx="592.7" cy="693.0" r="2.9"/><circle cx="594.4" cy="761.8" r="2.9"/><circle cx="590.4" cy="755.0" r="2.9"/><circle cx="599.2" cy="761.7" r="2.9"/><circle cx="600.7" cy="794.4" r="2.9"/><circle cx="601.4" cy="787.5" r="2.9"/><circle cx="602.4" cy="770.5" r="2.9"/><circle cx="607.1" cy="785.0" r="2.9"/><circle cx="606.3" cy="732.1" r="2.9"/><circle cx="607.2" cy="757.1" r="2.9"/><circle cx="612.2" cy="754.2" r="2.9"/><circle cx="618.7" cy="706.6" r="2.9"/><circle cx="616.8" cy="742.3" r="2.9"/><circle cx="614.1" cy="748.1" r="2.9"/><circle cx="610.7" cy="761.8" r="2.9"/><circle cx="610.0" cy="761.3" r="2.9"/><circle cx="609.5" cy="768.0" r="2.9"/><circle cx="614.4" cy="795.0" r="2.9"/><circle cx="614.7" cy="813.9" r="2.9"/><circle cx="617.7" cy="796.7" r="2.9"/><circle cx="612.1" cy="725.3" r="2.9"/><circle cx="609.2" cy="757.9" r="2.9"/><circle cx="613.8" cy="767.8" r="2.9"/><circle cx="624.6" cy="745.7" r="2.9"/><circle cx="621.9" cy="755.6" r="2.9"/><circle cx="621.8" cy="774.0" r="2.9"/><circle cx="618.0" cy="740.6" r="2.9"/><circle cx="627.7" cy="742.6" r="2.9"/><circle cx="625.1" cy="735.5" r="2.9"/><circle cx="623.0" cy="791.3" r="2.9"/><circle cx="619.4" cy="759.6" r="2.9"/><circle cx="625.9" cy="812.9" r="2.9"/><circle cx="625.9" cy="756.7" r="2.9"/><circle cx="636.0" cy="774.5" r="2.9"/><circle cx="638.6" cy="742.8" r="2.9"/><circle cx="628.6" cy="732.2" r="2.9"/><circle cx="631.6" cy="724.4" r="2.9"/><circle cx="636.8" cy="733.0" r="2.9"/><circle cx="633.1" cy="806.6" r="2.9"/><circle cx="628.8" cy="731.3" r="2.9"/><circle cx="632.8" cy="751.7" r="2.9"/><circle cx="637.5" cy="755.4" r="2.9"/><circle cx="628.8" cy="778.2" r="2.9"/><circle cx="639.8" cy="742.1" r="2.9"/><circle cx="636.5" cy="799.3" r="2.9"/><circle cx="637.4" cy="806.3" r="2.9"/><circle cx="634.1" cy="800.8" r="2.9"/><circle cx="638.2" cy="781.3" r="2.9"/><circle cx="636.4" cy="778.0" r="2.9"/><circle cx="633.7" cy="756.3" r="2.9"/><circle cx="634.3" cy="776.1" r="2.9"/><circle cx="634.1" cy="763.5" r="2.9"/><circle cx="638.2" cy="773.0" r="2.9"/><circle cx="634.3" cy="753.6" r="2.9"/><circle cx="630.2" cy="765.5" r="2.9"/><circle cx="638.3" cy="720.6" r="2.9"/><circle cx="633.9" cy="737.8" r="2.9"/><circle cx="637.7" cy="758.3" r="2.9"/><circle cx="639.1" cy="789.3" r="2.9"/><circle cx="644.0" cy="770.1" r="2.9"/><circle cx="647.0" cy="774.1" r="2.9"/><circle cx="642.2" cy="744.1" r="2.9"/><circle cx="648.2" cy="731.7" r="2.9"/><circle cx="643.2" cy="767.6" r="2.9"/><circle cx="647.6" cy="784.3" r="2.9"/><circle cx="644.9" cy="683.0" r="2.9"/><circle cx="655.4" cy="758.2" r="2.9"/><circle cx="650.2" cy="750.9" r="2.9"/><circle cx="656.7" cy="769.8" r="2.9"/><circle cx="669.0" cy="749.8" r="2.9"/><circle cx="663.0" cy="780.9" r="2.9"/><circle cx="663.1" cy="776.0" r="2.9"/><circle cx="673.6" cy="779.7" r="2.9"/><circle cx="671.0" cy="759.3" r="2.9"/><circle cx="674.9" cy="738.4" r="2.9"/><circle cx="675.9" cy="790.3" r="2.9"/><circle cx="677.0" cy="774.8" r="2.9"/><circle cx="677.7" cy="756.7" r="2.9"/><circle cx="676.0" cy="749.3" r="2.9"/><circle cx="673.7" cy="791.1" r="2.9"/><circle cx="678.0" cy="753.8" r="2.9"/></g>
<g fill="#1c7a1c" stroke="#111" stroke-width="0.55"><circle cx="98.9" cy="731.5" r="2.9"/><circle cx="113.1" cy="791.8" r="2.9"/><circle cx="134.1" cy="775.6" r="2.9"/><circle cx="142.9" cy="809.6" r="2.9"/><circle cx="140.8" cy="786.7" r="2.9"/><circle cx="144.8" cy="783.3" r="2.9"/><circle cx="150.8" cy="736.8" r="2.9"/><circle cx="153.9" cy="756.6" r="2.9"/><circle cx="154.2" cy="780.4" r="2.9"/><circle cx="151.9" cy="773.1" r="2.9"/><circle cx="157.5" cy="776.7" r="2.9"/><circle cx="149.9" cy="781.7" r="2.9"/><circle cx="152.9" cy="793.2" r="2.9"/><circle cx="159.4" cy="794.0" r="2.9"/><circle cx="167.6" cy="803.7" r="2.9"/><circle cx="173.5" cy="744.7" r="2.9"/><circle cx="169.3" cy="764.9" r="2.9"/><circle cx="175.2" cy="782.8" r="2.9"/><circle cx="174.9" cy="780.7" r="2.9"/><circle cx="172.4" cy="775.9" r="2.9"/><circle cx="177.3" cy="765.1" r="2.9"/><circle cx="171.7" cy="796.4" r="2.9"/><circle cx="177.0" cy="746.8" r="2.9"/><circle cx="176.6" cy="756.0" r="2.9"/><circle cx="173.0" cy="794.5" r="2.9"/><circle cx="175.5" cy="769.3" r="2.9"/><circle cx="174.5" cy="752.9" r="2.9"/><circle cx="170.9" cy="753.1" r="2.9"/><circle cx="172.0" cy="782.6" r="2.9"/><circle cx="174.9" cy="765.3" r="2.9"/><circle cx="175.8" cy="799.7" r="2.9"/><circle cx="176.8" cy="780.1" r="2.9"/><circle cx="171.5" cy="784.5" r="2.9"/><circle cx="171.7" cy="771.2" r="2.9"/><circle cx="176.6" cy="781.6" r="2.9"/><circle cx="179.1" cy="775.9" r="2.9"/><circle cx="177.2" cy="748.0" r="2.9"/><circle cx="172.2" cy="778.2" r="2.9"/><circle cx="168.9" cy="750.0" r="2.9"/><circle cx="171.7" cy="778.7" r="2.9"/><circle cx="174.5" cy="792.9" r="2.9"/><circle cx="168.9" cy="765.2" r="2.9"/><circle cx="174.9" cy="776.6" r="2.9"/><circle cx="174.5" cy="779.7" r="2.9"/><circle cx="173.9" cy="774.1" r="2.9"/><circle cx="173.3" cy="755.7" r="2.9"/><circle cx="169.1" cy="737.3" r="2.9"/><circle cx="174.6" cy="730.0" r="2.9"/><circle cx="174.2" cy="778.0" r="2.9"/><circle cx="172.3" cy="767.6" r="2.9"/><circle cx="176.7" cy="785.6" r="2.9"/><circle cx="177.1" cy="765.2" r="2.9"/><circle cx="168.7" cy="763.6" r="2.9"/><circle cx="167.9" cy="755.3" r="2.9"/><circle cx="172.9" cy="792.1" r="2.9"/><circle cx="172.4" cy="748.1" r="2.9"/><circle cx="175.6" cy="785.3" r="2.9"/><circle cx="175.0" cy="760.3" r="2.9"/><circle cx="169.7" cy="742.3" r="2.9"/><circle cx="175.9" cy="776.4" r="2.9"/><circle cx="168.6" cy="763.7" r="2.9"/><circle cx="170.2" cy="756.5" r="2.9"/><circle cx="172.7" cy="785.8" r="2.9"/><circle cx="170.6" cy="781.0" r="2.9"/><circle cx="168.6" cy="760.5" r="2.9"/><circle cx="171.5" cy="762.6" r="2.9"/><circle cx="174.0" cy="800.9" r="2.9"/><circle cx="172.2" cy="767.8" r="2.9"/><circle cx="172.7" cy="786.8" r="2.9"/><circle cx="176.0" cy="740.7" r="2.9"/><circle cx="173.3" cy="754.1" r="2.9"/><circle cx="170.6" cy="740.4" r="2.9"/><circle cx="173.7" cy="772.2" r="2.9"/><circle cx="175.4" cy="777.3" r="2.9"/><circle cx="169.9" cy="774.9" r="2.9"/><circle cx="174.1" cy="735.6" r="2.9"/><circle cx="178.3" cy="776.1" r="2.9"/><circle cx="173.3" cy="742.4" r="2.9"/><circle cx="172.0" cy="800.2" r="2.9"/><circle cx="169.6" cy="769.9" r="2.9"/><circle cx="174.7" cy="758.0" r="2.9"/><circle cx="171.4" cy="771.3" r="2.9"/><circle cx="169.7" cy="750.5" r="2.9"/><circle cx="176.3" cy="771.6" r="2.9"/><circle cx="168.0" cy="784.1" r="2.9"/><circle cx="175.8" cy="769.2" r="2.9"/><circle cx="172.4" cy="790.2" r="2.9"/><circle cx="175.9" cy="749.9" r="2.9"/><circle cx="170.6" cy="801.9" r="2.9"/><circle cx="170.0" cy="757.6" r="2.9"/><circle cx="171.1" cy="787.3" r="2.9"/><circle cx="176.5" cy="749.5" r="2.9"/><circle cx="172.0" cy="754.7" r="2.9"/><circle cx="175.4" cy="740.2" r="2.9"/><circle cx="174.6" cy="788.7" r="2.9"/><circle cx="174.9" cy="778.9" r="2.9"/><circle cx="170.3" cy="794.6" r="2.9"/><circle cx="175.4" cy="759.0" r="2.9"/><circle cx="174.3" cy="781.2" r="2.9"/><circle cx="174.2" cy="771.3" r="2.9"/><circle cx="170.6" cy="767.6" r="2.9"/><circle cx="175.3" cy="746.0" r="2.9"/><circle cx="179.1" cy="769.3" r="2.9"/><circle cx="175.8" cy="774.0" r="2.9"/><circle cx="168.9" cy="751.3" r="2.9"/><circle cx="175.9" cy="785.0" r="2.9"/><circle cx="178.7" cy="790.1" r="2.9"/><circle cx="173.5" cy="776.1" r="2.9"/><circle cx="174.3" cy="753.4" r="2.9"/><circle cx="176.2" cy="751.0" r="2.9"/><circle cx="172.6" cy="780.6" r="2.9"/><circle cx="172.4" cy="774.1" r="2.9"/><circle cx="168.1" cy="778.8" r="2.9"/><circle cx="169.0" cy="759.9" r="2.9"/><circle cx="171.8" cy="744.8" r="2.9"/><circle cx="172.1" cy="777.7" r="2.9"/><circle cx="176.0" cy="775.0" r="2.9"/><circle cx="169.1" cy="740.9" r="2.9"/><circle cx="176.3" cy="798.2" r="2.9"/><circle cx="172.6" cy="782.0" r="2.9"/><circle cx="169.5" cy="787.3" r="2.9"/><circle cx="174.0" cy="776.3" r="2.9"/><circle cx="171.0" cy="802.9" r="2.9"/><circle cx="168.5" cy="801.3" r="2.9"/><circle cx="171.3" cy="785.4" r="2.9"/><circle cx="177.0" cy="791.2" r="2.9"/><circle cx="183.9" cy="755.3" r="2.9"/><circle cx="186.2" cy="766.4" r="2.9"/><circle cx="186.9" cy="774.9" r="2.9"/><circle cx="189.5" cy="740.0" r="2.9"/><circle cx="181.8" cy="779.6" r="2.9"/><circle cx="186.0" cy="775.0" r="2.9"/><circle cx="187.8" cy="778.4" r="2.9"/><circle cx="184.5" cy="793.9" r="2.9"/><circle cx="182.5" cy="792.0" r="2.9"/><circle cx="181.8" cy="770.7" r="2.9"/><circle cx="181.2" cy="783.2" r="2.9"/><circle cx="180.5" cy="776.3" r="2.9"/><circle cx="186.1" cy="776.1" r="2.9"/><circle cx="178.6" cy="739.2" r="2.9"/><circle cx="185.6" cy="740.3" r="2.9"/><circle cx="184.4" cy="799.2" r="2.9"/><circle cx="183.3" cy="768.3" r="2.9"/><circle cx="188.6" cy="746.3" r="2.9"/><circle cx="179.5" cy="754.9" r="2.9"/><circle cx="184.2" cy="782.9" r="2.9"/><circle cx="184.5" cy="770.8" r="2.9"/><circle cx="182.3" cy="791.0" r="2.9"/><circle cx="180.4" cy="780.4" r="2.9"/><circle cx="186.9" cy="759.9" r="2.9"/><circle cx="188.1" cy="781.9" r="2.9"/><circle cx="187.3" cy="793.8" r="2.9"/><circle cx="185.9" cy="799.1" r="2.9"/><circle cx="179.6" cy="801.1" r="2.9"/><circle cx="185.9" cy="759.0" r="2.9"/><circle cx="187.5" cy="791.6" r="2.9"/><circle cx="178.3" cy="793.6" r="2.9"/><circle cx="186.6" cy="769.4" r="2.9"/><circle cx="188.3" cy="778.8" r="2.9"/><circle cx="179.4" cy="764.0" r="2.9"/><circle cx="188.6" cy="794.5" r="2.9"/><circle cx="182.9" cy="761.8" r="2.9"/><circle cx="182.6" cy="745.2" r="2.9"/><circle cx="184.6" cy="794.7" r="2.9"/><circle cx="177.8" cy="794.5" r="2.9"/><circle cx="180.3" cy="785.1" r="2.9"/><circle cx="182.2" cy="753.0" r="2.9"/><circle cx="187.8" cy="759.9" r="2.9"/><circle cx="188.5" cy="758.2" r="2.9"/><circle cx="181.9" cy="804.3" r="2.9"/><circle cx="180.7" cy="780.7" r="2.9"/><circle cx="185.9" cy="781.8" r="2.9"/><circle cx="183.1" cy="776.8" r="2.9"/><circle cx="180.7" cy="769.3" r="2.9"/><circle cx="184.9" cy="792.4" r="2.9"/><circle cx="183.6" cy="757.2" r="2.9"/><circle cx="181.8" cy="771.9" r="2.9"/><circle cx="180.1" cy="794.6" r="2.9"/><circle cx="182.4" cy="782.0" r="2.9"/><circle cx="189.1" cy="776.6" r="2.9"/><circle cx="182.0" cy="778.9" r="2.9"/><circle cx="179.1" cy="756.0" r="2.9"/><circle cx="185.4" cy="772.1" r="2.9"/><circle cx="186.3" cy="771.8" r="2.9"/><circle cx="184.9" cy="776.5" r="2.9"/><circle cx="186.7" cy="778.1" r="2.9"/><circle cx="185.4" cy="773.5" r="2.9"/><circle cx="184.0" cy="772.3" r="2.9"/><circle cx="182.4" cy="749.8" r="2.9"/><circle cx="182.1" cy="773.8" r="2.9"/><circle cx="180.3" cy="782.8" r="2.9"/><circle cx="186.1" cy="781.0" r="2.9"/><circle cx="180.3" cy="772.6" r="2.9"/><circle cx="179.4" cy="761.9" r="2.9"/><circle cx="182.9" cy="750.5" r="2.9"/><circle cx="184.3" cy="766.2" r="2.9"/><circle cx="188.4" cy="757.6" r="2.9"/><circle cx="185.8" cy="777.4" r="2.9"/><circle cx="186.3" cy="807.7" r="2.9"/><circle cx="179.9" cy="781.7" r="2.9"/><circle cx="188.3" cy="752.6" r="2.9"/><circle cx="187.3" cy="746.8" r="2.9"/><circle cx="183.3" cy="826.0" r="2.9"/><circle cx="186.8" cy="766.0" r="2.9"/><circle cx="178.6" cy="799.1" r="2.9"/><circle cx="184.7" cy="773.2" r="2.9"/><circle cx="183.6" cy="775.4" r="2.9"/><circle cx="178.7" cy="768.5" r="2.9"/><circle cx="180.3" cy="739.3" r="2.9"/><circle cx="186.3" cy="757.4" r="2.9"/><circle cx="181.0" cy="799.0" r="2.9"/><circle cx="178.0" cy="789.6" r="2.9"/><circle cx="184.9" cy="802.6" r="2.9"/><circle cx="186.1" cy="752.8" r="2.9"/><circle cx="180.4" cy="749.0" r="2.9"/><circle cx="181.1" cy="789.8" r="2.9"/><circle cx="183.4" cy="756.2" r="2.9"/><circle cx="186.9" cy="767.8" r="2.9"/><circle cx="177.6" cy="765.1" r="2.9"/><circle cx="186.8" cy="779.1" r="2.9"/><circle cx="184.4" cy="768.2" r="2.9"/><circle cx="183.6" cy="767.3" r="2.9"/><circle cx="182.6" cy="781.0" r="2.9"/><circle cx="187.0" cy="774.9" r="2.9"/><circle cx="180.9" cy="783.3" r="2.9"/><circle cx="183.1" cy="738.7" r="2.9"/><circle cx="185.4" cy="764.3" r="2.9"/><circle cx="180.7" cy="767.7" r="2.9"/><circle cx="177.6" cy="749.9" r="2.9"/><circle cx="186.5" cy="764.4" r="2.9"/><circle cx="186.3" cy="738.3" r="2.9"/><circle cx="179.8" cy="738.8" r="2.9"/><circle cx="182.5" cy="753.9" r="2.9"/><circle cx="180.7" cy="774.7" r="2.9"/><circle cx="180.1" cy="758.7" r="2.9"/><circle cx="188.1" cy="793.8" r="2.9"/><circle cx="179.2" cy="737.6" r="2.9"/><circle cx="179.9" cy="766.6" r="2.9"/><circle cx="184.1" cy="769.9" r="2.9"/><circle cx="183.0" cy="761.5" r="2.9"/><circle cx="181.6" cy="770.2" r="2.9"/><circle cx="186.7" cy="755.2" r="2.9"/><circle cx="179.7" cy="801.7" r="2.9"/><circle cx="182.7" cy="778.1" r="2.9"/><circle cx="182.3" cy="756.8" r="2.9"/><circle cx="187.6" cy="774.9" r="2.9"/><circle cx="181.1" cy="783.4" r="2.9"/><circle cx="194.4" cy="786.7" r="2.9"/><circle cx="193.4" cy="790.7" r="2.9"/><circle cx="189.1" cy="816.1" r="2.9"/><circle cx="192.4" cy="803.4" r="2.9"/><circle cx="190.4" cy="773.3" r="2.9"/><circle cx="191.9" cy="766.6" r="2.9"/><circle cx="199.0" cy="836.5" r="2.9"/><circle cx="192.3" cy="740.0" r="2.9"/><circle cx="192.4" cy="776.0" r="2.9"/><circle cx="193.6" cy="746.4" r="2.9"/><circle cx="191.2" cy="755.3" r="2.9"/><circle cx="191.2" cy="782.5" r="2.9"/><circle cx="193.3" cy="772.1" r="2.9"/><circle cx="194.9" cy="740.1" r="2.9"/><circle cx="193.7" cy="755.7" r="2.9"/><circle cx="198.1" cy="778.1" r="2.9"/><circle cx="190.8" cy="769.6" r="2.9"/><circle cx="190.6" cy="768.2" r="2.9"/><circle cx="194.6" cy="767.1" r="2.9"/><circle cx="193.0" cy="761.8" r="2.9"/><circle cx="195.5" cy="759.2" r="2.9"/><circle cx="195.1" cy="755.5" r="2.9"/><circle cx="191.1" cy="791.1" r="2.9"/><circle cx="199.0" cy="742.3" r="2.9"/><circle cx="194.1" cy="752.7" r="2.9"/><circle cx="193.5" cy="805.3" r="2.9"/><circle cx="197.0" cy="788.5" r="2.9"/><circle cx="193.1" cy="754.3" r="2.9"/><circle cx="193.7" cy="799.0" r="2.9"/><circle cx="188.2" cy="782.1" r="2.9"/><circle cx="197.6" cy="792.0" r="2.9"/><circle cx="191.8" cy="769.7" r="2.9"/><circle cx="189.6" cy="786.1" r="2.9"/><circle cx="195.6" cy="786.2" r="2.9"/><circle cx="194.3" cy="783.9" r="2.9"/><circle cx="193.2" cy="769.9" r="2.9"/><circle cx="190.7" cy="759.0" r="2.9"/><circle cx="194.6" cy="774.7" r="2.9"/><circle cx="190.8" cy="797.1" r="2.9"/><circle cx="197.9" cy="737.5" r="2.9"/><circle cx="197.4" cy="772.2" r="2.9"/><circle cx="195.4" cy="791.7" r="2.9"/><circle cx="194.7" cy="741.5" r="2.9"/><circle cx="193.6" cy="790.7" r="2.9"/><circle cx="191.3" cy="749.4" r="2.9"/><circle cx="194.2" cy="793.0" r="2.9"/><circle cx="197.5" cy="766.4" r="2.9"/><circle cx="193.1" cy="799.7" r="2.9"/><circle cx="189.9" cy="790.8" r="2.9"/><circle cx="194.7" cy="757.9" r="2.9"/><circle cx="196.9" cy="807.7" r="2.9"/><circle cx="197.4" cy="766.2" r="2.9"/><circle cx="195.9" cy="759.8" r="2.9"/><circle cx="188.4" cy="748.8" r="2.9"/><circle cx="198.9" cy="780.6" r="2.9"/><circle cx="197.0" cy="786.0" r="2.9"/><circle cx="192.0" cy="786.1" r="2.9"/><circle cx="197.8" cy="786.6" r="2.9"/><circle cx="191.8" cy="759.9" r="2.9"/><circle cx="198.4" cy="783.6" r="2.9"/><circle cx="191.6" cy="707.1" r="2.9"/><circle cx="191.2" cy="769.8" r="2.9"/><circle cx="192.9" cy="754.8" r="2.9"/><circle cx="189.8" cy="781.1" r="2.9"/><circle cx="189.9" cy="769.5" r="2.9"/><circle cx="191.2" cy="753.7" r="2.9"/><circle cx="188.7" cy="762.4" r="2.9"/><circle cx="194.3" cy="768.2" r="2.9"/><circle cx="197.6" cy="759.3" r="2.9"/><circle cx="193.7" cy="772.2" r="2.9"/><circle cx="196.5" cy="785.3" r="2.9"/><circle cx="193.1" cy="770.5" r="2.9"/><circle cx="191.3" cy="765.6" r="2.9"/><circle cx="193.1" cy="810.5" r="2.9"/><circle cx="190.6" cy="803.6" r="2.9"/><circle cx="192.1" cy="784.6" r="2.9"/><circle cx="196.8" cy="788.4" r="2.9"/><circle cx="197.0" cy="766.8" r="2.9"/><circle cx="196.8" cy="770.2" r="2.9"/><circle cx="187.9" cy="792.7" r="2.9"/><circle cx="193.4" cy="776.6" r="2.9"/><circle cx="192.6" cy="751.8" r="2.9"/><circle cx="196.0" cy="760.2" r="2.9"/><circle cx="195.8" cy="777.9" r="2.9"/><circle cx="192.4" cy="798.1" r="2.9"/><circle cx="193.1" cy="777.8" r="2.9"/><circle cx="193.8" cy="804.9" r="2.9"/><circle cx="189.8" cy="790.5" r="2.9"/><circle cx="190.3" cy="772.9" r="2.9"/><circle cx="190.8" cy="748.6" r="2.9"/><circle cx="193.7" cy="794.7" r="2.9"/><circle cx="191.1" cy="770.0" r="2.9"/><circle cx="198.0" cy="759.7" r="2.9"/><circle cx="199.9" cy="768.5" r="2.9"/><circle cx="204.1" cy="751.8" r="2.9"/><circle cx="204.3" cy="798.4" r="2.9"/><circle cx="202.7" cy="796.0" r="2.9"/><circle cx="199.8" cy="758.5" r="2.9"/><circle cx="199.7" cy="801.5" r="2.9"/><circle cx="199.6" cy="770.3" r="2.9"/><circle cx="199.4" cy="781.9" r="2.9"/><circle cx="200.4" cy="761.3" r="2.9"/><circle cx="198.5" cy="760.9" r="2.9"/><circle cx="202.2" cy="809.6" r="2.9"/><circle cx="202.6" cy="774.8" r="2.9"/><circle cx="201.8" cy="794.6" r="2.9"/><circle cx="200.7" cy="785.3" r="2.9"/><circle cx="203.8" cy="819.5" r="2.9"/><circle cx="198.5" cy="774.6" r="2.9"/><circle cx="201.1" cy="796.7" r="2.9"/><circle cx="206.3" cy="739.6" r="2.9"/><circle cx="207.5" cy="746.9" r="2.9"/><circle cx="200.9" cy="778.3" r="2.9"/><circle cx="203.8" cy="723.8" r="2.9"/><circle cx="201.3" cy="778.0" r="2.9"/><circle cx="199.0" cy="708.6" r="2.9"/><circle cx="200.5" cy="753.1" r="2.9"/><circle cx="199.4" cy="752.0" r="2.9"/><circle cx="207.4" cy="784.1" r="2.9"/><circle cx="208.3" cy="755.2" r="2.9"/><circle cx="199.9" cy="785.8" r="2.9"/><circle cx="198.4" cy="776.9" r="2.9"/><circle cx="201.3" cy="792.6" r="2.9"/><circle cx="203.3" cy="788.4" r="2.9"/><circle cx="198.4" cy="737.5" r="2.9"/><circle cx="202.5" cy="778.3" r="2.9"/><circle cx="211.8" cy="745.4" r="2.9"/><circle cx="216.7" cy="751.2" r="2.9"/><circle cx="210.1" cy="766.2" r="2.9"/><circle cx="214.5" cy="814.9" r="2.9"/><circle cx="209.9" cy="806.7" r="2.9"/><circle cx="209.4" cy="740.1" r="2.9"/><circle cx="214.2" cy="734.8" r="2.9"/><circle cx="218.5" cy="751.5" r="2.9"/><circle cx="227.6" cy="729.4" r="2.9"/><circle cx="226.9" cy="781.4" r="2.9"/><circle cx="227.1" cy="762.2" r="2.9"/><circle cx="227.0" cy="762.0" r="2.9"/><circle cx="223.3" cy="738.3" r="2.9"/><circle cx="219.1" cy="782.0" r="2.9"/><circle cx="227.2" cy="752.7" r="2.9"/><circle cx="233.1" cy="761.9" r="2.9"/><circle cx="229.4" cy="757.7" r="2.9"/><circle cx="235.9" cy="770.8" r="2.9"/><circle cx="229.5" cy="742.4" r="2.9"/><circle cx="232.8" cy="774.2" r="2.9"/><circle cx="232.2" cy="765.4" r="2.9"/><circle cx="230.2" cy="765.4" r="2.9"/><circle cx="228.5" cy="744.8" r="2.9"/><circle cx="240.3" cy="780.9" r="2.9"/><circle cx="248.1" cy="825.1" r="2.9"/><circle cx="242.2" cy="802.3" r="2.9"/><circle cx="243.9" cy="792.3" r="2.9"/><circle cx="240.5" cy="791.5" r="2.9"/><circle cx="252.0" cy="765.5" r="2.9"/><circle cx="252.1" cy="802.4" r="2.9"/><circle cx="260.4" cy="773.6" r="2.9"/><circle cx="268.9" cy="763.6" r="2.9"/><circle cx="275.0" cy="803.2" r="2.9"/><circle cx="269.9" cy="771.4" r="2.9"/><circle cx="289.7" cy="767.5" r="2.9"/><circle cx="278.3" cy="798.2" r="2.9"/><circle cx="278.7" cy="739.3" r="2.9"/><circle cx="282.8" cy="789.1" r="2.9"/><circle cx="293.3" cy="752.6" r="2.9"/><circle cx="307.1" cy="786.2" r="2.9"/><circle cx="313.8" cy="753.4" r="2.9"/><circle cx="309.6" cy="750.1" r="2.9"/><circle cx="322.4" cy="748.2" r="2.9"/><circle cx="343.2" cy="771.5" r="2.9"/><circle cx="348.5" cy="773.3" r="2.9"/><circle cx="347.9" cy="751.8" r="2.9"/><circle cx="342.4" cy="743.2" r="2.9"/><circle cx="342.3" cy="728.2" r="2.9"/><circle cx="339.4" cy="757.7" r="2.9"/><circle cx="349.4" cy="762.1" r="2.9"/><circle cx="352.2" cy="760.3" r="2.9"/><circle cx="348.3" cy="692.1" r="2.9"/><circle cx="354.7" cy="804.9" r="2.9"/><circle cx="373.1" cy="768.5" r="2.9"/><circle cx="381.5" cy="774.8" r="2.9"/><circle cx="378.3" cy="757.9" r="2.9"/><circle cx="382.7" cy="827.0" r="2.9"/><circle cx="388.4" cy="808.5" r="2.9"/><circle cx="390.1" cy="747.2" r="2.9"/><circle cx="436.9" cy="756.1" r="2.9"/><circle cx="454.0" cy="764.9" r="2.9"/><circle cx="455.3" cy="774.4" r="2.9"/><circle cx="480.5" cy="728.9" r="2.9"/><circle cx="492.8" cy="753.7" r="2.9"/><circle cx="510.2" cy="769.1" r="2.9"/><circle cx="515.3" cy="716.7" r="2.9"/><circle cx="511.8" cy="752.9" r="2.9"/><circle cx="532.1" cy="735.4" r="2.9"/><circle cx="545.5" cy="777.5" r="2.9"/><circle cx="542.4" cy="742.4" r="2.9"/><circle cx="549.3" cy="756.3" r="2.9"/><circle cx="548.1" cy="777.2" r="2.9"/><circle cx="548.2" cy="767.2" r="2.9"/><circle cx="560.7" cy="748.8" r="2.9"/><circle cx="562.1" cy="798.9" r="2.9"/><circle cx="566.0" cy="740.0" r="2.9"/><circle cx="562.6" cy="739.9" r="2.9"/><circle cx="574.1" cy="749.9" r="2.9"/><circle cx="593.3" cy="771.3" r="2.9"/><circle cx="594.2" cy="759.4" r="2.9"/><circle cx="606.1" cy="786.0" r="2.9"/><circle cx="615.9" cy="736.4" r="2.9"/><circle cx="628.6" cy="760.4" r="2.9"/><circle cx="636.8" cy="690.7" r="2.9"/><circle cx="640.5" cy="789.8" r="2.9"/><circle cx="659.3" cy="702.8" r="2.9"/><circle cx="666.5" cy="757.7" r="2.9"/></g>
<g fill="#ffff00" stroke="#444" stroke-width="0.6"><circle cx="175.8" cy="729.6" r="5.2"/><circle cx="194.8" cy="731.9" r="5.2"/><circle cx="178.8" cy="743.3" r="5.2"/><circle cx="187.2" cy="750.1" r="5.2"/><circle cx="194.8" cy="745.5" r="5.2"/><circle cx="199.3" cy="744.8" r="5.2"/><circle cx="176.6" cy="760" r="5.2"/><circle cx="187.2" cy="763.8" r="5.2"/><circle cx="184.9" cy="775.1" r="5.2"/><circle cx="197.1" cy="782.7" r="5.2"/><circle cx="168.2" cy="791.1" r="5.2"/><circle cx="175" cy="790.3" r="5.2"/><circle cx="184.9" cy="789.6" r="5.2"/><circle cx="172.8" cy="799.4" r="5.2"/><circle cx="191" cy="800.2" r="5.2"/><circle cx="184.2" cy="805.5" r="5.2"/><circle cx="269.6" cy="741.3" r="5.2"/><circle cx="274.3" cy="740" r="5.2"/><circle cx="297.2" cy="800.4" r="5.2"/><circle cx="335.1" cy="712.8" r="5.2"/><circle cx="552.3" cy="743.5" r="5.2"/></g>
<path d="M179.60,726.10 L181.89,732.54 L188.73,732.73 L183.31,736.91 L185.24,743.47 L179.60,739.60 L173.96,743.47 L175.89,736.91 L170.47,732.73 L177.31,732.54Z" fill="#ee1111" stroke="#333" stroke-width="0.6"/>
<path d="M194.00,758.70 L196.29,765.14 L203.13,765.33 L197.71,769.51 L199.64,776.07 L194.00,772.20 L188.36,776.07 L190.29,769.51 L184.87,765.33 L191.71,765.14Z" fill="#ee1111" stroke="#333" stroke-width="0.6"/>
<path d="M196.30,821.00 L198.59,827.44 L205.43,827.63 L200.01,831.81 L201.94,838.37 L196.30,834.50 L190.66,838.37 L192.59,831.81 L187.17,827.63 L194.01,827.44Z" fill="#ee1111" stroke="#333" stroke-width="0.6"/>
<rect x="88.5" y="653.6" width="591.0" height="215.79999999999995" fill="none" stroke="#222" stroke-width="1.1"/>
<line x1="84.0" y1="869.4" x2="88.5" y2="869.4" stroke="#222" stroke-width="0.9"/>
<text x="78.2" y="875.0" font-family="'Liberation Sans', sans-serif" font-size="15" text-anchor="end" fill="#222">0</text>
<line x1="84.0" y1="838.6" x2="88.5" y2="838.6" stroke="#222" stroke-width="0.9"/>
<text x="78.2" y="844.2" font-family="'Liberation Sans', sans-serif" font-size="15" text-anchor="end" fill="#222">2</text>
<line x1="84.0" y1="807.8" x2="88.5" y2="807.8" stroke="#222" stroke-width="0.9"/>
<text x="78.2" y="813.4" font-family="'Liberation Sans', sans-serif" font-size="15" text-anchor="end" fill="#222">4</text>
<line x1="84.0" y1="776.9" x2="88.5" y2="776.9" stroke="#222" stroke-width="0.9"/>
<text x="78.2" y="782.5" font-family="'Liberation Sans', sans-serif" font-size="15" text-anchor="end" fill="#222">6</text>
<line x1="84.0" y1="746.1" x2="88.5" y2="746.1" stroke="#222" stroke-width="0.9"/>
<text x="78.2" y="751.7" font-family="'Liberation Sans', sans-serif" font-size="15" text-anchor="end" fill="#222">8</text>
<line x1="84.0" y1="715.3" x2="88.5" y2="715.3" stroke="#222" stroke-width="0.9"/>
<text x="78.2" y="720.9" font-family="'Liberation Sans', sans-serif" font-size="15" text-anchor="end" fill="#222">10</text>
<line x1="84.0" y1="684.5" x2="88.5" y2="684.5" stroke="#222" stroke-width="0.9"/>
<text x="78.2" y="690.1" font-family="'Liberation Sans', sans-serif" font-size="15" text-anchor="end" fill="#222">12</text>
<line x1="84.0" y1="653.7" x2="88.5" y2="653.7" stroke="#222" stroke-width="0.9"/>
<text x="78.2" y="659.3" font-family="'Liberation Sans', sans-serif" font-size="15" text-anchor="end" fill="#222">14</text>
<line x1="88.5" y1="869.4" x2="88.5" y2="873.9" stroke="#222" stroke-width="0.9"/>
<line x1="170.6" y1="869.4" x2="170.6" y2="873.9" stroke="#222" stroke-width="0.9"/>
<line x1="252.6" y1="869.4" x2="252.6" y2="873.9" stroke="#222" stroke-width="0.9"/>
<line x1="334.6" y1="869.4" x2="334.6" y2="873.9" stroke="#222" stroke-width="0.9"/>
<line x1="416.7" y1="869.4" x2="416.7" y2="873.9" stroke="#222" stroke-width="0.9"/>
<line x1="498.8" y1="869.4" x2="498.8" y2="873.9" stroke="#222" stroke-width="0.9"/>
<line x1="580.8" y1="869.4" x2="580.8" y2="873.9" stroke="#222" stroke-width="0.9"/>
<line x1="662.9" y1="869.4" x2="662.9" y2="873.9" stroke="#222" stroke-width="0.9"/>
<text x="89.5" y="670.5" font-family="'Liberation Sans', sans-serif" font-size="16" fill="#222">SE</text>
<text x="89.4" y="866.6" font-family="'Liberation Sans', sans-serif" font-size="16" textLength="149.6" lengthAdjust="spacingAndGlyphs" fill="#222" xml:space="preserve">NW  (38.43, 20.405)</text>
<text transform="translate(27,762.3) rotate(-90)" font-family="'Liberation Sans', sans-serif" font-size="17.8" text-anchor="middle" textLength="120.6" lengthAdjust="spacingAndGlyphs" fill="#222">Distance (Km)</text>
<text x="18.6" y="674.8" font-family="'Liberation Sans', sans-serif" font-weight="bold" font-size="25.8" fill="#000">b)</text>
<rect x="88.5" y="883.6" width="591.0" height="54.19999999999993" fill="#fff"/>
<g fill="#0000ee" stroke="#111" stroke-width="0.7"><rect x="114.94" y="936.80" width="8.6" height="1.00"/><rect x="123.91" y="936.80" width="8.6" height="1.00"/><rect x="132.88" y="936.20" width="8.6" height="1.60"/><rect x="141.85" y="936.80" width="8.6" height="1.00"/><rect x="150.82" y="933.30" width="8.6" height="4.50"/><rect x="159.79" y="936.30" width="8.6" height="1.50"/><rect x="168.76" y="927.30" width="8.6" height="10.50"/><rect x="177.73" y="932.50" width="8.6" height="5.30"/><rect x="186.70" y="889.80" width="8.6" height="48.00"/><rect x="195.67" y="888.20" width="8.6" height="49.60"/><rect x="204.64" y="892.30" width="8.6" height="45.50"/><rect x="213.61" y="899.30" width="8.6" height="38.50"/><rect x="222.58" y="920.60" width="8.6" height="17.20"/><rect x="231.55" y="920.60" width="8.6" height="17.20"/><rect x="240.52" y="920.60" width="8.6" height="17.20"/><rect x="249.49" y="926.70" width="8.6" height="11.10"/><rect x="258.46" y="934.90" width="8.6" height="2.90"/><rect x="267.43" y="931.40" width="8.6" height="6.40"/><rect x="276.40" y="928.50" width="8.6" height="9.30"/><rect x="285.37" y="926.70" width="8.6" height="11.10"/><rect x="294.34" y="932.50" width="8.6" height="5.30"/><rect x="303.31" y="931.70" width="8.6" height="6.10"/><rect x="312.28" y="933.10" width="8.6" height="4.70"/><rect x="321.25" y="935.20" width="8.6" height="2.60"/><rect x="330.22" y="933.70" width="8.6" height="4.10"/><rect x="339.19" y="926.10" width="8.6" height="11.70"/><rect x="348.16" y="932.80" width="8.6" height="5.00"/><rect x="357.13" y="933.10" width="8.6" height="4.70"/><rect x="366.10" y="935.20" width="8.6" height="2.60"/><rect x="375.07" y="931.40" width="8.6" height="6.40"/><rect x="384.04" y="934.00" width="8.6" height="3.80"/><rect x="393.01" y="934.00" width="8.6" height="3.80"/><rect x="401.98" y="936.90" width="8.6" height="0.90"/><rect x="410.95" y="935.80" width="8.6" height="2.00"/><rect x="419.92" y="935.80" width="8.6" height="2.00"/><rect x="428.89" y="935.50" width="8.6" height="2.30"/><rect x="437.86" y="933.60" width="8.6" height="4.20"/><rect x="446.83" y="935.70" width="8.6" height="2.10"/><rect x="455.80" y="935.70" width="8.6" height="2.10"/><rect x="464.77" y="935.70" width="8.6" height="2.10"/><rect x="473.74" y="932.80" width="8.6" height="5.00"/><rect x="482.71" y="935.70" width="8.6" height="2.10"/><rect x="491.68" y="935.70" width="8.6" height="2.10"/><rect x="500.65" y="934.90" width="8.6" height="2.90"/><rect x="509.62" y="933.50" width="8.6" height="4.30"/><rect x="518.59" y="932.10" width="8.6" height="5.70"/><rect x="527.56" y="929.90" width="8.6" height="7.90"/><rect x="536.53" y="927.80" width="8.6" height="10.00"/><rect x="545.50" y="934.60" width="8.6" height="3.20"/><rect x="554.47" y="933.20" width="8.6" height="4.60"/><rect x="563.44" y="933.20" width="8.6" height="4.60"/><rect x="572.41" y="934.20" width="8.6" height="3.60"/><rect x="581.38" y="934.20" width="8.6" height="3.60"/><rect x="590.35" y="934.20" width="8.6" height="3.60"/><rect x="599.32" y="930.30" width="8.6" height="7.50"/><rect x="608.29" y="934.20" width="8.6" height="3.60"/><rect x="617.26" y="936.80" width="8.6" height="1.00"/><rect x="626.23" y="936.00" width="8.6" height="1.80"/><rect x="635.20" y="935.30" width="8.6" height="2.50"/><rect x="644.17" y="935.30" width="8.6" height="2.50"/></g>
<rect x="88.5" y="883.6" width="591.0" height="54.19999999999993" fill="none" stroke="#222" stroke-width="1.1"/>
<line x1="84.0" y1="937.8" x2="88.5" y2="937.8" stroke="#222" stroke-width="0.9"/>
<text x="77" y="942.2" font-family="'Liberation Sans', sans-serif" font-size="11.8" text-anchor="end" fill="#222">0</text>
<line x1="84.0" y1="919.8" x2="88.5" y2="919.8" stroke="#222" stroke-width="0.9"/>
<text x="77" y="924.2" font-family="'Liberation Sans', sans-serif" font-size="11.8" text-anchor="end" fill="#222">100</text>
<line x1="84.0" y1="901.8" x2="88.5" y2="901.8" stroke="#222" stroke-width="0.9"/>
<text x="77" y="906.2" font-family="'Liberation Sans', sans-serif" font-size="11.8" text-anchor="end" fill="#222">200</text>
<line x1="84.0" y1="883.8" x2="88.5" y2="883.8" stroke="#222" stroke-width="0.9"/>
<text x="77" y="888.2" font-family="'Liberation Sans', sans-serif" font-size="11.8" text-anchor="end" fill="#222">300</text>
<text transform="translate(38.3,911.7) rotate(-90)" font-family="'Liberation Sans', sans-serif" font-size="17" text-anchor="middle" fill="#222">Obs</text>
<line x1="119.2" y1="937.8" x2="119.2" y2="942.3" stroke="#222" stroke-width="0.9"/>
<text transform="translate(118.7,954.5) rotate(-45)" font-family="'Liberation Sans', sans-serif" font-size="11.8" text-anchor="end" textLength="41.5" lengthAdjust="spacingAndGlyphs" fill="#222">Feb 24</text>
<line x1="155.1" y1="937.8" x2="155.1" y2="942.3" stroke="#222" stroke-width="0.9"/>
<text transform="translate(154.6,954.5) rotate(-45)" font-family="'Liberation Sans', sans-serif" font-size="11.8" text-anchor="end" textLength="41.5" lengthAdjust="spacingAndGlyphs" fill="#222">Feb 28</text>
<line x1="191.0" y1="937.8" x2="191.0" y2="942.3" stroke="#222" stroke-width="0.9"/>
<text transform="translate(190.5,954.5) rotate(-45)" font-family="'Liberation Sans', sans-serif" font-size="11.8" text-anchor="end" textLength="41.5" lengthAdjust="spacingAndGlyphs" fill="#222">Mar 03</text>
<line x1="226.8" y1="937.8" x2="226.8" y2="942.3" stroke="#222" stroke-width="0.9"/>
<text transform="translate(226.3,954.5) rotate(-45)" font-family="'Liberation Sans', sans-serif" font-size="11.8" text-anchor="end" textLength="41.5" lengthAdjust="spacingAndGlyphs" fill="#222">Mar 07</text>
<line x1="262.7" y1="937.8" x2="262.7" y2="942.3" stroke="#222" stroke-width="0.9"/>
<text transform="translate(262.2,954.5) rotate(-45)" font-family="'Liberation Sans', sans-serif" font-size="11.8" text-anchor="end" textLength="41.5" lengthAdjust="spacingAndGlyphs" fill="#222">Mar 11</text>
<line x1="298.6" y1="937.8" x2="298.6" y2="942.3" stroke="#222" stroke-width="0.9"/>
<text transform="translate(298.1,954.5) rotate(-45)" font-family="'Liberation Sans', sans-serif" font-size="11.8" text-anchor="end" textLength="41.5" lengthAdjust="spacingAndGlyphs" fill="#222">Mar 15</text>
<line x1="334.5" y1="937.8" x2="334.5" y2="942.3" stroke="#222" stroke-width="0.9"/>
<text transform="translate(334.0,954.5) rotate(-45)" font-family="'Liberation Sans', sans-serif" font-size="11.8" text-anchor="end" textLength="41.5" lengthAdjust="spacingAndGlyphs" fill="#222">Mar 19</text>
<line x1="370.4" y1="937.8" x2="370.4" y2="942.3" stroke="#222" stroke-width="0.9"/>
<text transform="translate(369.9,954.5) rotate(-45)" font-family="'Liberation Sans', sans-serif" font-size="11.8" text-anchor="end" textLength="41.5" lengthAdjust="spacingAndGlyphs" fill="#222">Mar 23</text>
<line x1="406.2" y1="937.8" x2="406.2" y2="942.3" stroke="#222" stroke-width="0.9"/>
<text transform="translate(405.7,954.5) rotate(-45)" font-family="'Liberation Sans', sans-serif" font-size="11.8" text-anchor="end" textLength="41.5" lengthAdjust="spacingAndGlyphs" fill="#222">Mar 27</text>
<line x1="442.1" y1="937.8" x2="442.1" y2="942.3" stroke="#222" stroke-width="0.9"/>
<text transform="translate(441.6,954.5) rotate(-45)" font-family="'Liberation Sans', sans-serif" font-size="11.8" text-anchor="end" textLength="41.5" lengthAdjust="spacingAndGlyphs" fill="#222">Mar 31</text>
<line x1="478.0" y1="937.8" x2="478.0" y2="942.3" stroke="#222" stroke-width="0.9"/>
<text transform="translate(477.5,954.5) rotate(-45)" font-family="'Liberation Sans', sans-serif" font-size="11.8" text-anchor="end" textLength="41.5" lengthAdjust="spacingAndGlyphs" fill="#222">Apr 04</text>
<line x1="513.9" y1="937.8" x2="513.9" y2="942.3" stroke="#222" stroke-width="0.9"/>
<text transform="translate(513.4,954.5) rotate(-45)" font-family="'Liberation Sans', sans-serif" font-size="11.8" text-anchor="end" textLength="41.5" lengthAdjust="spacingAndGlyphs" fill="#222">Apr 08</text>
<line x1="549.8" y1="937.8" x2="549.8" y2="942.3" stroke="#222" stroke-width="0.9"/>
<text transform="translate(549.3,954.5) rotate(-45)" font-family="'Liberation Sans', sans-serif" font-size="11.8" text-anchor="end" textLength="41.5" lengthAdjust="spacingAndGlyphs" fill="#222">Apr 12</text>
<line x1="585.6" y1="937.8" x2="585.6" y2="942.3" stroke="#222" stroke-width="0.9"/>
<text transform="translate(585.1,954.5) rotate(-45)" font-family="'Liberation Sans', sans-serif" font-size="11.8" text-anchor="end" textLength="41.5" lengthAdjust="spacingAndGlyphs" fill="#222">Apr 16</text>
<line x1="621.5" y1="937.8" x2="621.5" y2="942.3" stroke="#222" stroke-width="0.9"/>
<text transform="translate(621.0,954.5) rotate(-45)" font-family="'Liberation Sans', sans-serif" font-size="11.8" text-anchor="end" textLength="41.5" lengthAdjust="spacingAndGlyphs" fill="#222">Apr 20</text>
<line x1="657.4" y1="937.8" x2="657.4" y2="942.3" stroke="#222" stroke-width="0.9"/>
<text transform="translate(656.9,954.5) rotate(-45)" font-family="'Liberation Sans', sans-serif" font-size="11.8" text-anchor="end" textLength="41.5" lengthAdjust="spacingAndGlyphs" fill="#222">Apr 24</text>
<rect x="567" y="848.6" width="112" height="78.4" rx="2" fill="#fff" fill-opacity="0.8" stroke="#ccc" stroke-width="0.8"/>
<circle cx="580.8" cy="857.4" r="2.6" fill="#fff" stroke="#333" stroke-width="0.6"/>
<circle cx="580.8" cy="872.7" r="2.6" fill="#0a0ad2" stroke="#111" stroke-width="0.5"/>
<circle cx="580.8" cy="888" r="2.6" fill="#1c7a1c" stroke="#111" stroke-width="0.5"/>
<circle cx="580.8" cy="903" r="5.5" fill="#ffff00" stroke="#444" stroke-width="0.6"/>
<path d="M580.80,907.30 L583.27,914.40 L590.79,914.56 L584.79,919.10 L586.97,926.29 L580.80,922.00 L574.63,926.29 L576.81,919.10 L570.81,914.56 L578.33,914.40Z" fill="#ee1111" stroke="#333" stroke-width="0.6"/>
<text x="600.2" y="861.6" font-family="'Liberation Sans', sans-serif" font-size="11.8" fill="#222">0 ≤ Mag &lt; 1</text>
<text x="600.2" y="876.9" font-family="'Liberation Sans', sans-serif" font-size="11.8" fill="#222">1 ≤ Mag &lt; 2</text>
<text x="600.2" y="892.2" font-family="'Liberation Sans', sans-serif" font-size="11.8" fill="#222">2 ≤ Mag &lt; 3</text>
<text x="600.2" y="907.2" font-family="'Liberation Sans', sans-serif" font-size="11.8" fill="#222">3 ≤ Mag &lt; 3.6</text>
<text x="600.2" y="921.5" font-family="'Liberation Sans', sans-serif" font-size="11.8" fill="#222">3.6 ≤ Mag &lt; 4</text>
</svg>
</body></html>
